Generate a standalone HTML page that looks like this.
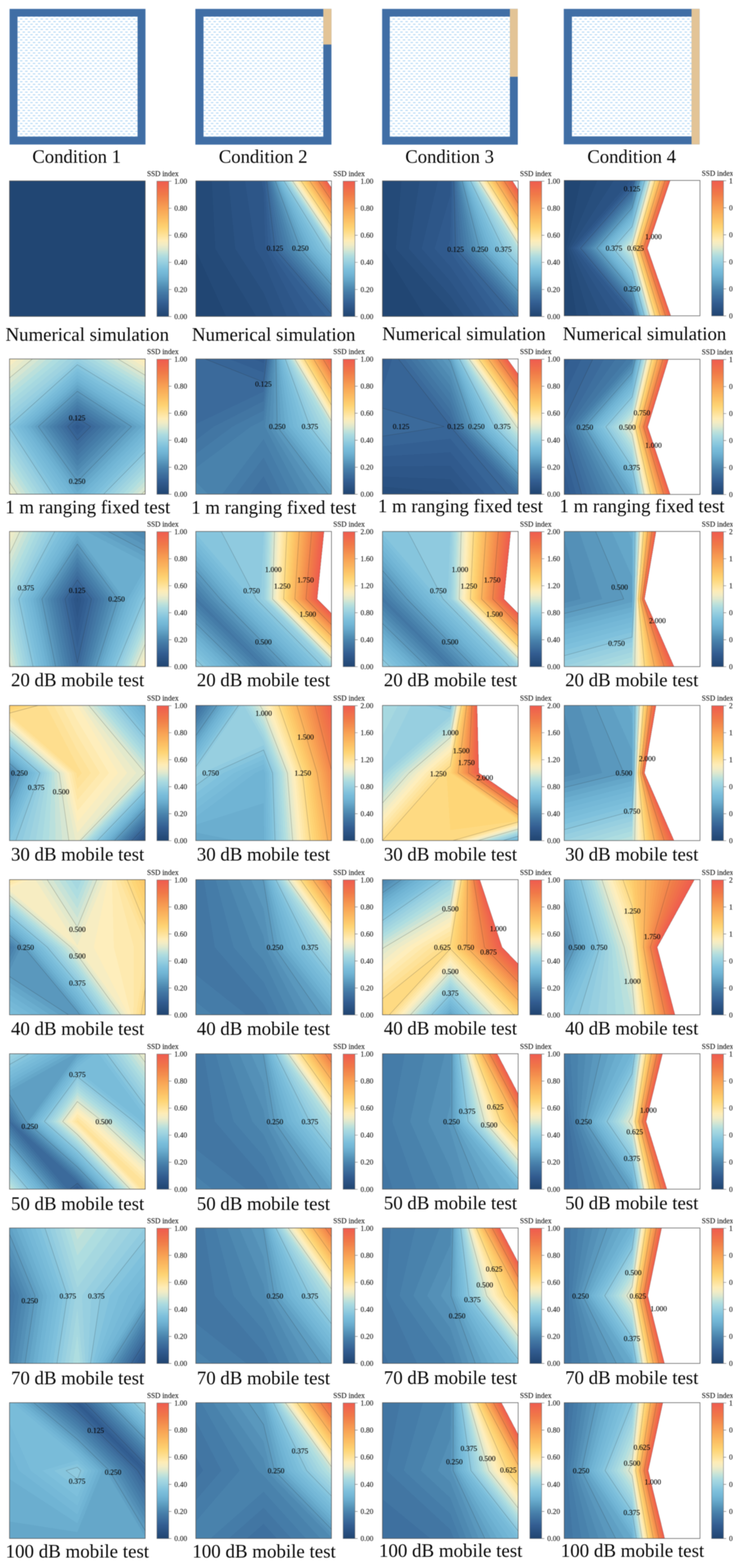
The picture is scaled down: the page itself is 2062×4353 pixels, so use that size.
<!DOCTYPE html>
<html><head><meta charset="utf-8"><title>SSD index contour maps</title>
<style>html,body{margin:0;padding:0;background:#fff}svg{display:block}
text{font-family:"Liberation Serif","Times New Roman",serif}
.f path{shape-rendering:crispEdges}
.cl{stroke:#2a2a2a;stroke-opacity:.36;stroke-width:1.1;fill:none;stroke-linecap:round}
.fr{fill:none;stroke:#555;stroke-width:1.6}
.cb{fill:url(#cbar);stroke:#777;stroke-width:1.3}
.tk{stroke:#777;stroke-width:1.4;fill:none}
.lb{fill:#080808;stroke:#080808;stroke-width:.25}.tl{fill:#262626;stroke:#262626;stroke-width:.3}.cp{fill:#080808}
</style>
</head><body>
<svg width="2062" height="4353" viewBox="0 0 2062 4353">
<defs>
<filter id="bl" x="0" y="0" width="2062" height="4353" filterUnits="userSpaceOnUse" color-interpolation-filters="sRGB"><feGaussianBlur stdDeviation="0.8"/></filter>
<linearGradient id="cbar" x1="0" y1="0" x2="0" y2="1"><stop offset="0.0000" stop-color="#ef5b4f"/><stop offset="0.0312" stop-color="#ef654d"/><stop offset="0.0625" stop-color="#f06e4b"/><stop offset="0.0938" stop-color="#f07848"/><stop offset="0.1250" stop-color="#f2844b"/><stop offset="0.1562" stop-color="#f4904e"/><stop offset="0.1875" stop-color="#f79c52"/><stop offset="0.2188" stop-color="#f9a857"/><stop offset="0.2500" stop-color="#fab35d"/><stop offset="0.2812" stop-color="#fcbe63"/><stop offset="0.3125" stop-color="#fdc96b"/><stop offset="0.3438" stop-color="#fed474"/><stop offset="0.3750" stop-color="#fedc88"/><stop offset="0.4062" stop-color="#fee49f"/><stop offset="0.4375" stop-color="#feecb6"/><stop offset="0.4688" stop-color="#f2ecc5"/><stop offset="0.5000" stop-color="#dde8cf"/><stop offset="0.5312" stop-color="#c1e2da"/><stop offset="0.5625" stop-color="#aadae0"/><stop offset="0.5938" stop-color="#9bd1e0"/><stop offset="0.6250" stop-color="#8ac8de"/><stop offset="0.6562" stop-color="#7bbedb"/><stop offset="0.6875" stop-color="#72b6d5"/><stop offset="0.7188" stop-color="#68aacc"/><stop offset="0.7500" stop-color="#5c9cc0"/><stop offset="0.7812" stop-color="#518db4"/><stop offset="0.8125" stop-color="#477faa"/><stop offset="0.8438" stop-color="#4073a1"/><stop offset="0.8750" stop-color="#396899"/><stop offset="0.9062" stop-color="#325c90"/><stop offset="0.9375" stop-color="#2c5485"/><stop offset="0.9688" stop-color="#264c7b"/><stop offset="1.0000" stop-color="#204470"/></linearGradient>
<pattern id="dash" x="21.7" y="23.3" width="14.25" height="14.5" patternUnits="userSpaceOnUse"><path d="M7.1 4.9h6.9M0 12.15h6.9" stroke="#a6d1f3" stroke-width="2.5" fill="none"/></pattern>
</defs>
<g filter="url(#bl)">
<rect width="2062" height="4353" fill="#fff"/>
<g class="f">
<g transform="translate(26.4 502.2)">
<path d="M0 0H376.6V376.2H0z" fill="#214673"/>
</g>
<g transform="translate(543.4 502.2)">
<path d="M0 0H376.4V376.2H0z" fill="#214673"/>
<path d="M0 0L188.2 0L188.2 188.1L0 188.1zM188.2 0L376.4 0L376.4 188.1L188.2 188.1zM0 188.1L188.2 188.1L188.2 376.2L84 376.2L0 192.5zM188.2 188.1L376.4 188.1L376.4 376.2L188.2 376.2z" fill="#244a78"/>
<path d="M44.8 0L188.2 0L188.2 188.1L54.2 188.1zM188.2 0L376.4 0L376.4 188.1L188.2 188.1zM54.2 188.1L188.2 188.1L188.2 376.2L168 376.2zM188.2 188.1L376.4 188.1L376.4 376.2L188.2 376.2z" fill="#274e7d"/>
<path d="M90.8 0L188.2 0L188.2 188.1L109.6 188.1zM188.2 0L376.4 0L376.4 188.1L188.2 188.1zM109.6 188.1L188.2 188.1L188.2 310.5zM188.2 188.1L376.4 188.1L376.4 376.2L216.1 376.2L188.2 310.5z" fill="#2a5283"/>
<path d="M136.7 0L188.2 0L188.2 188.1L165.1 188.1zM188.2 0L376.4 0L376.4 188.1L188.2 188.1zM165.1 188.1L188.2 188.1L188.2 224.1zM188.2 188.1L376.4 188.1L376.4 376.2L252.9 376.2L188.2 224.1z" fill="#2d5688"/>
<path d="M182.7 0L188.2 0L188.2 32.1zM188.2 0L376.4 0L376.4 188.1L193.3 188.1L188.2 32.1zM193.3 188.1L376.4 188.1L376.4 376.2L289.7 376.2z" fill="#305a8d"/>
<path d="M190.8 0L376.4 0L376.4 188.1L202.1 188.1zM202.1 188.1L376.4 188.1L376.4 376.2L326.4 376.2z" fill="#335f92"/>
<path d="M193.8 0L376.4 0L376.4 188.1L211 188.1zM211 188.1L376.4 188.1L376.4 376.2L363.2 376.2z" fill="#376597"/>
<path d="M196.8 0L376.4 0L376.4 188.1L219.8 188.1zM219.8 188.1L376.4 188.1L376.4 369.7z" fill="#3b6a9b"/>
<path d="M199.8 0L376.4 0L376.4 188.1L228.6 188.1zM228.6 188.1L376.4 188.1L376.4 359.5z" fill="#3e709f"/>
<path d="M202.8 0L376.4 0L376.4 188.1L237.4 188.1zM237.4 188.1L376.4 188.1L376.4 349.3z" fill="#4276a3"/>
<path d="M205.7 0L376.4 0L376.4 188.1L246.2 188.1zM246.2 188.1L376.4 188.1L376.4 339.1z" fill="#457ca8"/>
<path d="M208.7 0L376.4 0L376.4 188.1L255 188.1zM255 188.1L376.4 188.1L376.4 328.8z" fill="#4982ac"/>
<path d="M211.7 0L376.4 0L376.4 188.1L263.8 188.1zM263.8 188.1L376.4 188.1L376.4 318.6z" fill="#4e89b1"/>
<path d="M214.7 0L376.4 0L376.4 188.1L272.6 188.1zM272.6 188.1L376.4 188.1L376.4 308.4z" fill="#5490b7"/>
<path d="M217.7 0L376.4 0L376.4 188.1L281.4 188.1zM281.4 188.1L376.4 188.1L376.4 298.2z" fill="#5a98bd"/>
<path d="M220.6 0L376.4 0L376.4 188.1L290.2 188.1zM290.2 188.1L376.4 188.1L376.4 288z" fill="#5f9fc3"/>
<path d="M223.6 0L376.4 0L376.4 188.1L299 188.1zM299 188.1L376.4 188.1L376.4 277.8z" fill="#65a7c9"/>
<path d="M226.6 0L376.4 0L376.4 188.1L307.8 188.1zM307.8 188.1L376.4 188.1L376.4 267.6z" fill="#6baecf"/>
<path d="M229.6 0L376.4 0L376.4 188.1L316.6 188.1zM316.6 188.1L376.4 188.1L376.4 257.4z" fill="#70b4d4"/>
<path d="M232.6 0L376.4 0L376.4 188.1L325.4 188.1zM325.4 188.1L376.4 188.1L376.4 247.2z" fill="#75b8d7"/>
<path d="M235.6 0L376.4 0L376.4 188.1L334.2 188.1zM334.2 188.1L376.4 188.1L376.4 237z" fill="#79bcd9"/>
<path d="M238.5 0L376.4 0L376.4 188.1L343 188.1zM343 188.1L376.4 188.1L376.4 226.8z" fill="#7ec0dc"/>
<path d="M241.5 0L376.4 0L376.4 188.1L351.8 188.1zM351.8 188.1L376.4 188.1L376.4 216.6z" fill="#86c5dd"/>
<path d="M244.5 0L376.4 0L376.4 188.1L360.6 188.1zM360.6 188.1L376.4 188.1L376.4 206.4z" fill="#8fcadf"/>
<path d="M247.5 0L376.4 0L376.4 188.1L369.4 188.1zM369.4 188.1L376.4 188.1L376.4 196.2z" fill="#97cfe0"/>
<path d="M250.5 0L376.4 0L376.4 187.2z" fill="#9fd3e0"/>
<path d="M253.5 0L376.4 0L376.4 182.7z" fill="#a6d8e0"/>
<path d="M256.4 0L376.4 0L376.4 178.3z" fill="#aedde0"/>
<path d="M259.4 0L376.4 0L376.4 173.9z" fill="#bae0dc"/>
<path d="M262.4 0L376.4 0L376.4 169.4z" fill="#c8e3d7"/>
<path d="M265.4 0L376.4 0L376.4 165z" fill="#d6e6d2"/>
<path d="M268.4 0L376.4 0L376.4 160.6z" fill="#e2e9cc"/>
<path d="M271.3 0L376.4 0L376.4 156.1z" fill="#ecebc8"/>
<path d="M274.3 0L376.4 0L376.4 151.7z" fill="#f7edc2"/>
<path d="M277.3 0L376.4 0L376.4 147.3z" fill="#feeebc"/>
<path d="M280.3 0L376.4 0L376.4 142.8z" fill="#feeab0"/>
<path d="M283.3 0L376.4 0L376.4 138.4z" fill="#fee6a4"/>
<path d="M286.3 0L376.4 0L376.4 134z" fill="#fee299"/>
<path d="M289.2 0L376.4 0L376.4 129.5z" fill="#fede8e"/>
<path d="M292.2 0L376.4 0L376.4 125.1z" fill="#feda82"/>
<path d="M295.2 0L376.4 0L376.4 120.7z" fill="#fed677"/>
<path d="M298.2 0L376.4 0L376.4 116.3z" fill="#fed172"/>
<path d="M301.2 0L376.4 0L376.4 111.8z" fill="#fdcc6d"/>
<path d="M304.2 0L376.4 0L376.4 107.4z" fill="#fdc768"/>
<path d="M307.1 0L376.4 0L376.4 103z" fill="#fcc165"/>
<path d="M310.1 0L376.4 0L376.4 98.5z" fill="#fcbb62"/>
<path d="M313.1 0L376.4 0L376.4 94.1z" fill="#fbb65f"/>
<path d="M316.1 0L376.4 0L376.4 89.7z" fill="#fab05b"/>
<path d="M319.1 0L376.4 0L376.4 85.2z" fill="#f9ab58"/>
<path d="M322 0L376.4 0L376.4 80.8z" fill="#f9a555"/>
<path d="M325 0L376.4 0L376.4 76.4z" fill="#f89f52"/>
<path d="M328 0L376.4 0L376.4 71.9z" fill="#f69951"/>
<path d="M331 0L376.4 0L376.4 67.5z" fill="#f5934f"/>
<path d="M334 0L376.4 0L376.4 63.1z" fill="#f48d4d"/>
<path d="M337 0L376.4 0L376.4 58.6z" fill="#f3874c"/>
<path d="M339.9 0L376.4 0L376.4 54.2z" fill="#f1814a"/>
<path d="M342.9 0L376.4 0L376.4 49.8z" fill="#f07b48"/>
<path d="M345.9 0L376.4 0L376.4 45.3z" fill="#f07649"/>
<path d="M348.9 0L376.4 0L376.4 40.9z" fill="#f0714a"/>
<path d="M351.9 0L376.4 0L376.4 36.5z" fill="#f06c4b"/>
<path d="M354.9 0L376.4 0L376.4 32z" fill="#ef674c"/>
<path d="M357.8 0L376.4 0L376.4 27.6z" fill="#ef624d"/>
<path d="M360.8 0L376.4 0L376.4 23.2z" fill="#ef5d4e"/>
<path d="M363.8 0L376.4 0L376.4 18.7z" fill="#fff"/>
</g>
<g transform="translate(1061.4 502.2)">
<path d="M0 0H376.6V376.2H0z" fill="#214673"/>
<path d="M2 0L188.3 0L188.3 188.1L1.4 188.1zM188.3 0L376.6 0L376.6 188.1L188.3 188.1zM1.4 188.1L188.3 188.1L188.3 376.2L117.7 376.2zM188.3 188.1L376.6 188.1L376.6 376.2L188.3 376.2z" fill="#244a78"/>
<path d="M52.8 0L188.3 0L188.3 188.1L37.3 188.1zM188.3 0L376.6 0L376.6 188.1L188.3 188.1zM37.3 188.1L188.3 188.1L188.3 359.9zM188.3 188.1L376.6 188.1L376.6 376.2L199.5 376.2L188.3 359.9z" fill="#274e7d"/>
<path d="M103.5 0L188.3 0L188.3 188.1L73.2 188.1zM188.3 0L376.6 0L376.6 188.1L188.3 188.1zM73.2 188.1L188.3 188.1L188.3 319.1zM188.3 188.1L376.6 188.1L376.6 376.2L227.5 376.2L188.3 319.1z" fill="#2a5283"/>
<path d="M154.2 0L188.3 0L188.3 188.1L109.1 188.1zM188.3 0L376.6 0L376.6 188.1L188.3 188.1zM109.1 188.1L188.3 188.1L188.3 278.2zM188.3 188.1L376.6 188.1L376.6 376.2L255.5 376.2L188.3 278.2z" fill="#2d5688"/>
<path d="M188.3 40.2L188.3 188.1L145 188.1zM189.3 0L376.6 0L376.6 188.1L188.3 188.1L188.3 40.2zM145 188.1L188.3 188.1L188.3 237.4zM188.3 188.1L376.6 188.1L376.6 376.2L283.6 376.2L188.3 237.4z" fill="#305a8d"/>
<path d="M188.3 162.6L188.3 188.1L180.8 188.1zM192.2 0L376.6 0L376.6 188.1L188.3 188.1L188.3 162.6zM180.8 188.1L188.3 188.1L188.3 196.6zM188.3 188.1L376.6 188.1L376.6 376.2L311.6 376.2L188.3 196.6z" fill="#335f92"/>
<path d="M195.1 0L376.6 0L376.6 188.1L194.9 188.1zM194.9 188.1L376.6 188.1L376.6 376.2L339.6 376.2z" fill="#376597"/>
<path d="M198 0L376.6 0L376.6 188.1L203.2 188.1zM203.2 188.1L376.6 188.1L376.6 376.2L367.6 376.2z" fill="#3b6a9b"/>
<path d="M200.9 0L376.6 0L376.6 188.1L211.4 188.1zM211.4 188.1L376.6 188.1L376.6 370z" fill="#3e709f"/>
<path d="M203.8 0L376.6 0L376.6 188.1L219.7 188.1zM219.7 188.1L376.6 188.1L376.6 360.9z" fill="#4276a3"/>
<path d="M206.7 0L376.6 0L376.6 188.1L228 188.1zM228 188.1L376.6 188.1L376.6 351.7z" fill="#457ca8"/>
<path d="M209.6 0L376.6 0L376.6 188.1L236.3 188.1zM236.3 188.1L376.6 188.1L376.6 342.6z" fill="#4982ac"/>
<path d="M212.5 0L376.6 0L376.6 188.1L244.6 188.1zM244.6 188.1L376.6 188.1L376.6 333.5z" fill="#4e89b1"/>
<path d="M215.4 0L376.6 0L376.6 188.1L252.9 188.1zM252.9 188.1L376.6 188.1L376.6 324.4z" fill="#5490b7"/>
<path d="M218.3 0L376.6 0L376.6 188.1L261.2 188.1zM261.2 188.1L376.6 188.1L376.6 315.2z" fill="#5a98bd"/>
<path d="M221.2 0L376.6 0L376.6 188.1L269.5 188.1zM269.5 188.1L376.6 188.1L376.6 306.1z" fill="#5f9fc3"/>
<path d="M224.1 0L376.6 0L376.6 188.1L277.7 188.1zM277.7 188.1L376.6 188.1L376.6 297z" fill="#65a7c9"/>
<path d="M227 0L376.6 0L376.6 188.1L286 188.1zM286 188.1L376.6 188.1L376.6 287.8z" fill="#6baecf"/>
<path d="M230 0L376.6 0L376.6 188.1L294.3 188.1zM294.3 188.1L376.6 188.1L376.6 278.7z" fill="#70b4d4"/>
<path d="M232.9 0L376.6 0L376.6 188.1L302.6 188.1zM302.6 188.1L376.6 188.1L376.6 269.6z" fill="#75b8d7"/>
<path d="M235.8 0L376.6 0L376.6 188.1L310.9 188.1zM310.9 188.1L376.6 188.1L376.6 260.5z" fill="#79bcd9"/>
<path d="M238.7 0L376.6 0L376.6 188.1L319.2 188.1zM319.2 188.1L376.6 188.1L376.6 251.3z" fill="#7ec0dc"/>
<path d="M241.6 0L376.6 0L376.6 188.1L327.5 188.1zM327.5 188.1L376.6 188.1L376.6 242.2z" fill="#86c5dd"/>
<path d="M244.5 0L376.6 0L376.6 188.1L335.8 188.1zM335.8 188.1L376.6 188.1L376.6 233.1z" fill="#8fcadf"/>
<path d="M247.4 0L376.6 0L376.6 188.1L344 188.1zM344 188.1L376.6 188.1L376.6 224z" fill="#97cfe0"/>
<path d="M250.3 0L376.6 0L376.6 188.1L352.3 188.1zM352.3 188.1L376.6 188.1L376.6 214.8z" fill="#9fd3e0"/>
<path d="M253.2 0L376.6 0L376.6 188.1L360.6 188.1zM360.6 188.1L376.6 188.1L376.6 205.7z" fill="#a6d8e0"/>
<path d="M256.1 0L376.6 0L376.6 188.1L368.9 188.1zM368.9 188.1L376.6 188.1L376.6 196.6z" fill="#aedde0"/>
<path d="M259 0L376.6 0L376.6 187.8z" fill="#bae0dc"/>
<path d="M261.9 0L376.6 0L376.6 183.1z" fill="#c8e3d7"/>
<path d="M264.8 0L376.6 0L376.6 178.5z" fill="#d6e6d2"/>
<path d="M267.8 0L376.6 0L376.6 173.8z" fill="#e2e9cc"/>
<path d="M270.7 0L376.6 0L376.6 169.2z" fill="#ecebc8"/>
<path d="M273.6 0L376.6 0L376.6 164.6z" fill="#f7edc2"/>
<path d="M276.5 0L376.6 0L376.6 159.9z" fill="#feeebc"/>
<path d="M279.4 0L376.6 0L376.6 155.3z" fill="#feeab0"/>
<path d="M282.3 0L376.6 0L376.6 150.6z" fill="#fee6a4"/>
<path d="M285.2 0L376.6 0L376.6 146z" fill="#fee299"/>
<path d="M288.1 0L376.6 0L376.6 141.3z" fill="#fede8e"/>
<path d="M291 0L376.6 0L376.6 136.7z" fill="#feda82"/>
<path d="M293.9 0L376.6 0L376.6 132z" fill="#fed677"/>
<path d="M296.8 0L376.6 0L376.6 127.4z" fill="#fed172"/>
<path d="M299.7 0L376.6 0L376.6 122.8z" fill="#fdcc6d"/>
<path d="M302.6 0L376.6 0L376.6 118.1z" fill="#fdc768"/>
<path d="M305.5 0L376.6 0L376.6 113.5z" fill="#fcc165"/>
<path d="M308.5 0L376.6 0L376.6 108.8z" fill="#fcbb62"/>
<path d="M311.4 0L376.6 0L376.6 104.2z" fill="#fbb65f"/>
<path d="M314.3 0L376.6 0L376.6 99.5z" fill="#fab05b"/>
<path d="M317.2 0L376.6 0L376.6 94.9z" fill="#f9ab58"/>
<path d="M320.1 0L376.6 0L376.6 90.3z" fill="#f9a555"/>
<path d="M323 0L376.6 0L376.6 85.6z" fill="#f89f52"/>
<path d="M325.9 0L376.6 0L376.6 81z" fill="#f69951"/>
<path d="M328.8 0L376.6 0L376.6 76.3z" fill="#f5934f"/>
<path d="M331.7 0L376.6 0L376.6 71.7z" fill="#f48d4d"/>
<path d="M334.6 0L376.6 0L376.6 67z" fill="#f3874c"/>
<path d="M337.5 0L376.6 0L376.6 62.4z" fill="#f1814a"/>
<path d="M340.4 0L376.6 0L376.6 57.8z" fill="#f07b48"/>
<path d="M343.3 0L376.6 0L376.6 53.1z" fill="#f07649"/>
<path d="M346.2 0L376.6 0L376.6 48.5z" fill="#f0714a"/>
<path d="M349.2 0L376.6 0L376.6 43.8z" fill="#f06c4b"/>
<path d="M352.1 0L376.6 0L376.6 39.2z" fill="#ef674c"/>
<path d="M355 0L376.6 0L376.6 34.5z" fill="#ef624d"/>
<path d="M357.9 0L376.6 0L376.6 29.9z" fill="#ef5d4e"/>
<path d="M360.8 0L376.6 0L376.6 25.3z" fill="#fff"/>
</g>
<g transform="translate(1565.8 500.9)">
<path d="M0 0H376.8V375.8H0z" fill="#214673"/>
<path d="M46 0L188.4 0L188.4 187.9L5.7 187.9zM188.4 0L376.8 0L376.8 187.9L188.4 187.9zM5.7 187.9L188.4 187.9L188.4 375.8L34.2 375.8zM188.4 187.9L376.8 187.9L376.8 375.8L188.4 375.8z" fill="#244a78"/>
<path d="M92 0L188.4 0L188.4 187.9L11.3 187.9zM188.4 0L376.8 0L376.8 187.9L188.4 187.9zM11.3 187.9L188.4 187.9L188.4 375.8L68.5 375.8zM188.4 187.9L376.8 187.9L376.8 375.8L188.4 375.8z" fill="#274e7d"/>
<path d="M138 0L188.4 0L188.4 187.9L17 187.9zM188.4 0L376.8 0L376.8 187.9L188.4 187.9zM17 187.9L188.4 187.9L188.4 375.8L102.7 375.8zM188.4 187.9L376.8 187.9L376.8 375.8L188.4 375.8z" fill="#2a5283"/>
<path d="M184 0L188.4 0L188.4 187.9L22.6 187.9zM188.4 0L376.8 0L376.8 187.9L188.4 187.9zM22.6 187.9L188.4 187.9L188.4 375.8L136.9 375.8zM188.4 187.9L376.8 187.9L376.8 375.8L188.4 375.8z" fill="#2d5688"/>
<path d="M188.4 5.8L188.4 187.9L28.3 187.9zM190 0L376.8 0L376.8 187.9L188.4 187.9L188.4 5.8zM28.3 187.9L188.4 187.9L188.4 375.8L171.1 375.8zM188.4 187.9L376.8 187.9L376.8 375.8L188.4 375.8z" fill="#305a8d"/>
<path d="M188.4 12.3L188.4 187.9L34 187.9zM191.8 0L376.8 0L376.8 187.9L188.4 187.9L188.4 12.3zM34 187.9L188.4 187.9L188.4 372.4zM188.4 187.9L376.8 187.9L376.8 375.8L189.3 375.8L188.4 372.4z" fill="#335f92"/>
<path d="M188.4 18.7L188.4 187.9L39.6 187.9zM193.5 0L376.8 0L376.8 187.9L188.4 187.9L188.4 18.7zM39.6 187.9L188.4 187.9L188.4 365.7zM188.4 187.9L376.8 187.9L376.8 375.8L191.1 375.8L188.4 365.7z" fill="#376597"/>
<path d="M188.4 25.1L188.4 187.9L45.3 187.9zM195.3 0L376.8 0L376.8 187.9L188.4 187.9L188.4 25.1zM45.3 187.9L188.4 187.9L188.4 358.9zM188.4 187.9L376.8 187.9L376.8 375.8L193 375.8L188.4 358.9z" fill="#3b6a9b"/>
<path d="M188.4 31.6L188.4 187.9L50.9 187.9zM197.1 0L376.8 0L376.8 187.9L188.4 187.9L188.4 31.6zM50.9 187.9L188.4 187.9L188.4 352.2zM188.4 187.9L376.8 187.9L376.8 375.8L194.8 375.8L188.4 352.2z" fill="#3e709f"/>
<path d="M188.4 38L188.4 187.9L56.6 187.9zM198.8 0L376.8 0L376.8 187.9L188.4 187.9L188.4 38zM56.6 187.9L188.4 187.9L188.4 345.4zM188.4 187.9L376.8 187.9L376.8 375.8L196.7 375.8L188.4 345.4z" fill="#4276a3"/>
<path d="M188.4 44.5L188.4 187.9L62.3 187.9zM200.6 0L376.8 0L376.8 187.9L188.4 187.9L188.4 44.5zM62.3 187.9L188.4 187.9L188.4 338.6zM188.4 187.9L376.8 187.9L376.8 375.8L198.5 375.8L188.4 338.6z" fill="#457ca8"/>
<path d="M188.4 50.9L188.4 187.9L67.9 187.9zM202.4 0L376.8 0L376.8 187.9L188.4 187.9L188.4 50.9zM67.9 187.9L188.4 187.9L188.4 331.9zM188.4 187.9L376.8 187.9L376.8 375.8L200.3 375.8L188.4 331.9z" fill="#4982ac"/>
<path d="M188.4 57.3L188.4 187.9L73.6 187.9zM204.1 0L376.8 0L376.8 187.9L188.4 187.9L188.4 57.3zM73.6 187.9L188.4 187.9L188.4 325.1zM188.4 187.9L376.8 187.9L376.8 375.8L202.2 375.8L188.4 325.1z" fill="#4e89b1"/>
<path d="M188.4 63.8L188.4 187.9L79.3 187.9zM205.9 0L376.8 0L376.8 187.9L188.4 187.9L188.4 63.8zM79.3 187.9L188.4 187.9L188.4 318.3zM188.4 187.9L376.8 187.9L376.8 375.8L204 375.8L188.4 318.3z" fill="#5490b7"/>
<path d="M188.4 70.2L188.4 187.9L84.9 187.9zM207.7 0L376.8 0L376.8 187.9L188.4 187.9L188.4 70.2zM84.9 187.9L188.4 187.9L188.4 311.6zM188.4 187.9L376.8 187.9L376.8 375.8L205.8 375.8L188.4 311.6z" fill="#5a98bd"/>
<path d="M188.4 76.6L188.4 187.9L90.6 187.9zM209.4 0L376.8 0L376.8 187.9L188.4 187.9L188.4 76.6zM90.6 187.9L188.4 187.9L188.4 304.8zM188.4 187.9L376.8 187.9L376.8 375.8L207.7 375.8L188.4 304.8z" fill="#5f9fc3"/>
<path d="M188.4 83.1L188.4 187.9L96.2 187.9zM211.2 0L376.8 0L376.8 187.9L188.4 187.9L188.4 83.1zM96.2 187.9L188.4 187.9L188.4 298zM188.4 187.9L376.8 187.9L376.8 375.8L209.5 375.8L188.4 298z" fill="#65a7c9"/>
<path d="M188.4 89.5L188.4 187.9L101.9 187.9zM213 0L376.8 0L376.8 187.9L188.4 187.9L188.4 89.5zM101.9 187.9L188.4 187.9L188.4 291.3zM188.4 187.9L376.8 187.9L376.8 375.8L211.3 375.8L188.4 291.3z" fill="#6baecf"/>
<path d="M188.4 96L188.4 187.9L107.6 187.9zM214.7 0L376.8 0L376.8 187.9L188.4 187.9L188.4 96zM107.6 187.9L188.4 187.9L188.4 284.5zM188.4 187.9L376.8 187.9L376.8 375.8L213.2 375.8L188.4 284.5z" fill="#70b4d4"/>
<path d="M188.4 102.4L188.4 187.9L113.2 187.9zM216.5 0L376.8 0L376.8 187.9L188.4 187.9L188.4 102.4zM113.2 187.9L188.4 187.9L188.4 277.7zM188.4 187.9L376.8 187.9L376.8 375.8L215 375.8L188.4 277.7z" fill="#75b8d7"/>
<path d="M188.4 108.8L188.4 187.9L118.9 187.9zM218.3 0L376.8 0L376.8 187.9L188.4 187.9L188.4 108.8zM118.9 187.9L188.4 187.9L188.4 271zM188.4 187.9L376.8 187.9L376.8 375.8L216.8 375.8L188.4 271z" fill="#79bcd9"/>
<path d="M188.4 115.3L188.4 187.9L124.5 187.9zM220 0L376.8 0L376.8 187.9L188.4 187.9L188.4 115.3zM124.5 187.9L188.4 187.9L188.4 264.2zM188.4 187.9L376.8 187.9L376.8 375.8L218.7 375.8L188.4 264.2z" fill="#7ec0dc"/>
<path d="M188.4 121.7L188.4 187.9L130.2 187.9zM221.8 0L376.8 0L376.8 187.9L188.4 187.9L188.4 121.7zM130.2 187.9L188.4 187.9L188.4 257.4zM188.4 187.9L376.8 187.9L376.8 375.8L220.5 375.8L188.4 257.4z" fill="#86c5dd"/>
<path d="M188.4 128.2L188.4 187.9L135.9 187.9zM223.6 0L376.8 0L376.8 187.9L188.4 187.9L188.4 128.2zM135.9 187.9L188.4 187.9L188.4 250.7zM188.4 187.9L376.8 187.9L376.8 375.8L222.3 375.8L188.4 250.7z" fill="#8fcadf"/>
<path d="M188.4 134.6L188.4 187.9L141.5 187.9zM225.3 0L376.8 0L376.8 187.9L188.4 187.9L188.4 134.6zM141.5 187.9L188.4 187.9L188.4 243.9zM188.4 187.9L376.8 187.9L376.8 375.8L224.2 375.8L188.4 243.9z" fill="#97cfe0"/>
<path d="M188.4 141L188.4 187.9L147.2 187.9zM227.1 0L376.8 0L376.8 187.9L188.4 187.9L188.4 141zM147.2 187.9L188.4 187.9L188.4 237.1zM188.4 187.9L376.8 187.9L376.8 375.8L226 375.8L188.4 237.1z" fill="#9fd3e0"/>
<path d="M188.4 147.5L188.4 187.9L152.8 187.9zM228.9 0L376.8 0L376.8 187.9L188.4 187.9L188.4 147.5zM152.8 187.9L188.4 187.9L188.4 230.4zM188.4 187.9L376.8 187.9L376.8 375.8L227.9 375.8L188.4 230.4z" fill="#a6d8e0"/>
<path d="M188.4 153.9L188.4 187.9L158.5 187.9zM230.6 0L376.8 0L376.8 187.9L188.4 187.9L188.4 153.9zM158.5 187.9L188.4 187.9L188.4 223.6zM188.4 187.9L376.8 187.9L376.8 375.8L229.7 375.8L188.4 223.6z" fill="#aedde0"/>
<path d="M188.4 160.3L188.4 187.9L164.2 187.9zM232.4 0L376.8 0L376.8 187.9L188.4 187.9L188.4 160.3zM164.2 187.9L188.4 187.9L188.4 216.9zM188.4 187.9L376.8 187.9L376.8 375.8L231.5 375.8L188.4 216.9z" fill="#bae0dc"/>
<path d="M188.4 166.8L188.4 187.9L169.8 187.9zM234.2 0L376.8 0L376.8 187.9L188.4 187.9L188.4 166.8zM169.8 187.9L188.4 187.9L188.4 210.1zM188.4 187.9L376.8 187.9L376.8 375.8L233.4 375.8L188.4 210.1z" fill="#c8e3d7"/>
<path d="M188.4 173.2L188.4 187.9L175.5 187.9zM235.9 0L376.8 0L376.8 187.9L188.4 187.9L188.4 173.2zM175.5 187.9L188.4 187.9L188.4 203.3zM188.4 187.9L376.8 187.9L376.8 375.8L235.2 375.8L188.4 203.3z" fill="#d6e6d2"/>
<path d="M188.4 179.7L188.4 187.9L181.2 187.9zM237.7 0L376.8 0L376.8 187.9L188.4 187.9L188.4 179.7zM181.2 187.9L188.4 187.9L188.4 196.6zM188.4 187.9L376.8 187.9L376.8 375.8L237 375.8L188.4 196.6z" fill="#e2e9cc"/>
<path d="M188.4 186.1L188.4 187.9L186.8 187.9zM239.5 0L376.8 0L376.8 187.9L188.4 187.9L188.4 186.1zM186.8 187.9L188.4 187.9L188.4 189.8zM188.4 187.9L376.8 187.9L376.8 375.8L238.9 375.8L188.4 189.8z" fill="#ecebc8"/>
<path d="M241.2 0L376.8 0L376.8 187.9L189.4 187.9zM189.4 187.9L376.8 187.9L376.8 375.8L240.7 375.8z" fill="#f7edc2"/>
<path d="M243 0L376.8 0L376.8 187.9L190.8 187.9zM190.8 187.9L376.8 187.9L376.8 375.8L242.5 375.8z" fill="#feeebc"/>
<path d="M244.8 0L376.8 0L376.8 187.9L192.1 187.9zM192.1 187.9L376.8 187.9L376.8 375.8L244.4 375.8z" fill="#feeab0"/>
<path d="M246.5 0L376.8 0L376.8 187.9L193.5 187.9zM193.5 187.9L376.8 187.9L376.8 375.8L246.2 375.8z" fill="#fee6a4"/>
<path d="M248.3 0L376.8 0L376.8 187.9L194.9 187.9zM194.9 187.9L376.8 187.9L376.8 375.8L248 375.8z" fill="#fee299"/>
<path d="M250.1 0L376.8 0L376.8 187.9L196.3 187.9zM196.3 187.9L376.8 187.9L376.8 375.8L249.9 375.8z" fill="#fede8e"/>
<path d="M251.8 0L376.8 0L376.8 187.9L197.6 187.9zM197.6 187.9L376.8 187.9L376.8 375.8L251.7 375.8z" fill="#feda82"/>
<path d="M253.6 0L376.8 0L376.8 187.9L199 187.9zM199 187.9L376.8 187.9L376.8 375.8L253.5 375.8z" fill="#fed677"/>
<path d="M255.4 0L376.8 0L376.8 187.9L200.4 187.9zM200.4 187.9L376.8 187.9L376.8 375.8L255.4 375.8z" fill="#fed172"/>
<path d="M257.1 0L376.8 0L376.8 187.9L201.8 187.9zM201.8 187.9L376.8 187.9L376.8 375.8L257.2 375.8z" fill="#fdcc6d"/>
<path d="M258.9 0L376.8 0L376.8 187.9L203.1 187.9zM203.1 187.9L376.8 187.9L376.8 375.8L259 375.8z" fill="#fdc768"/>
<path d="M260.7 0L376.8 0L376.8 187.9L204.5 187.9zM204.5 187.9L376.8 187.9L376.8 375.8L260.9 375.8z" fill="#fcc165"/>
<path d="M262.4 0L376.8 0L376.8 187.9L205.9 187.9zM205.9 187.9L376.8 187.9L376.8 375.8L262.7 375.8z" fill="#fcbb62"/>
<path d="M264.2 0L376.8 0L376.8 187.9L207.3 187.9zM207.3 187.9L376.8 187.9L376.8 375.8L264.6 375.8z" fill="#fbb65f"/>
<path d="M266 0L376.8 0L376.8 187.9L208.6 187.9zM208.6 187.9L376.8 187.9L376.8 375.8L266.4 375.8z" fill="#fab05b"/>
<path d="M267.7 0L376.8 0L376.8 187.9L210 187.9zM210 187.9L376.8 187.9L376.8 375.8L268.2 375.8z" fill="#f9ab58"/>
<path d="M269.5 0L376.8 0L376.8 187.9L211.4 187.9zM211.4 187.9L376.8 187.9L376.8 375.8L270.1 375.8z" fill="#f9a555"/>
<path d="M271.3 0L376.8 0L376.8 187.9L212.8 187.9zM212.8 187.9L376.8 187.9L376.8 375.8L271.9 375.8z" fill="#f89f52"/>
<path d="M273 0L376.8 0L376.8 187.9L214.2 187.9zM214.2 187.9L376.8 187.9L376.8 375.8L273.7 375.8z" fill="#f69951"/>
<path d="M274.8 0L376.8 0L376.8 187.9L215.5 187.9zM215.5 187.9L376.8 187.9L376.8 375.8L275.6 375.8z" fill="#f5934f"/>
<path d="M276.6 0L376.8 0L376.8 187.9L216.9 187.9zM216.9 187.9L376.8 187.9L376.8 375.8L277.4 375.8z" fill="#f48d4d"/>
<path d="M278.3 0L376.8 0L376.8 187.9L218.3 187.9zM218.3 187.9L376.8 187.9L376.8 375.8L279.2 375.8z" fill="#f3874c"/>
<path d="M280.1 0L376.8 0L376.8 187.9L219.7 187.9zM219.7 187.9L376.8 187.9L376.8 375.8L281.1 375.8z" fill="#f1814a"/>
<path d="M281.9 0L376.8 0L376.8 187.9L221 187.9zM221 187.9L376.8 187.9L376.8 375.8L282.9 375.8z" fill="#f07b48"/>
<path d="M283.6 0L376.8 0L376.8 187.9L222.4 187.9zM222.4 187.9L376.8 187.9L376.8 375.8L284.7 375.8z" fill="#f07649"/>
<path d="M285.4 0L376.8 0L376.8 187.9L223.8 187.9zM223.8 187.9L376.8 187.9L376.8 375.8L286.6 375.8z" fill="#f0714a"/>
<path d="M287.2 0L376.8 0L376.8 187.9L225.2 187.9zM225.2 187.9L376.8 187.9L376.8 375.8L288.4 375.8z" fill="#f06c4b"/>
<path d="M288.9 0L376.8 0L376.8 187.9L226.5 187.9zM226.5 187.9L376.8 187.9L376.8 375.8L290.2 375.8z" fill="#ef674c"/>
<path d="M290.7 0L376.8 0L376.8 187.9L227.9 187.9zM227.9 187.9L376.8 187.9L376.8 375.8L292.1 375.8z" fill="#ef624d"/>
<path d="M292.5 0L376.8 0L376.8 187.9L229.3 187.9zM229.3 187.9L376.8 187.9L376.8 375.8L293.9 375.8z" fill="#ef5d4e"/>
<path d="M294.2 0L376.8 0L376.8 187.9L230.7 187.9zM230.7 187.9L376.8 187.9L376.8 375.8L295.8 375.8z" fill="#fff"/>
</g>
<g transform="translate(26.4 996.5)">
<path d="M0 0H376.6V375.4H0z" fill="#305a8d"/>
<path d="M0 0L188.3 0L188.3 181.9L181.9 187.7L0 187.7zM188.3 0L376.6 0L376.6 187.7L197.1 187.7L188.3 181.9zM0 187.7L181.9 187.7L188.3 196.7L188.3 375.4L0 375.4zM197.1 187.7L376.6 187.7L376.6 375.4L188.3 375.4L188.3 196.7z" fill="#335f92"/>
<path d="M0 0L188.3 0L188.3 172.7L171.7 187.7L0 187.7zM188.3 0L376.6 0L376.6 187.7L211.3 187.7L188.3 172.7zM0 187.7L171.7 187.7L188.3 211L188.3 375.4L0 375.4zM211.3 187.7L376.6 187.7L376.6 375.4L188.3 375.4L188.3 211z" fill="#376597"/>
<path d="M0 0L188.3 0L188.3 163.5L161.5 187.7L0 187.7zM188.3 0L376.6 0L376.6 187.7L225.4 187.7L188.3 163.5zM0 187.7L161.5 187.7L188.3 225.4L188.3 375.4L0 375.4zM225.4 187.7L376.6 187.7L376.6 375.4L188.3 375.4L188.3 225.4z" fill="#3b6a9b"/>
<path d="M0 0L188.3 0L188.3 154.3L151.3 187.7L0 187.7zM188.3 0L376.6 0L376.6 187.7L239.6 187.7L188.3 154.3zM0 187.7L151.3 187.7L188.3 239.8L188.3 375.4L0 375.4zM239.6 187.7L376.6 187.7L376.6 375.4L188.3 375.4L188.3 239.8z" fill="#3e709f"/>
<path d="M0 0L188.3 0L188.3 145.1L141.1 187.7L0 187.7zM188.3 0L376.6 0L376.6 187.7L253.7 187.7L188.3 145.1zM0 187.7L141.1 187.7L188.3 254.2L188.3 375.4L0 375.4zM253.7 187.7L376.6 187.7L376.6 375.4L188.3 375.4L188.3 254.2z" fill="#4276a3"/>
<path d="M0 0L188.3 0L188.3 135.8L130.8 187.7L0 187.7zM188.3 0L376.6 0L376.6 187.7L267.9 187.7L188.3 135.8zM0 187.7L130.8 187.7L188.3 268.6L188.3 375.4L0 375.4zM267.9 187.7L376.6 187.7L376.6 375.4L188.3 375.4L188.3 268.6z" fill="#457ca8"/>
<path d="M0 0L188.3 0L188.3 126.6L120.6 187.7L0 187.7zM188.3 0L376.6 0L376.6 187.7L282 187.7L188.3 126.6zM0 187.7L120.6 187.7L188.3 282.9L188.3 375.4L0 375.4zM282 187.7L376.6 187.7L376.6 375.4L188.3 375.4L188.3 282.9z" fill="#4982ac"/>
<path d="M0 0L188.3 0L188.3 117.4L110.4 187.7L0 187.7zM188.3 0L376.6 0L376.6 187.7L296.1 187.7L188.3 117.4zM0 187.7L110.4 187.7L188.3 297.3L188.3 375.4L0 375.4zM296.1 187.7L376.6 187.7L376.6 375.4L188.3 375.4L188.3 297.3z" fill="#4e89b1"/>
<path d="M0 0L188.3 0L188.3 108.2L100.2 187.7L0 187.7zM188.3 0L376.6 0L376.6 187.7L310.3 187.7L188.3 108.2zM0 187.7L100.2 187.7L188.3 311.7L188.3 375.4L0 375.4zM310.3 187.7L376.6 187.7L376.6 375.4L188.3 375.4L188.3 311.7z" fill="#5490b7"/>
<path d="M0 0L188.3 0L188.3 98.9L90 187.7L0 187.7zM188.3 0L376.6 0L376.6 187.7L324.4 187.7L188.3 98.9zM0 187.7L90 187.7L188.3 326.1L188.3 375.4L0 375.4zM324.4 187.7L376.6 187.7L376.6 375.4L188.3 375.4L188.3 326.1z" fill="#5a98bd"/>
<path d="M0 0L188.3 0L188.3 89.7L79.8 187.7L0 187.7zM188.3 0L376.6 0L376.6 187.7L338.6 187.7L188.3 89.7zM0 187.7L79.8 187.7L188.3 340.4L188.3 375.4L0 375.4zM338.6 187.7L376.6 187.7L376.6 375.4L188.3 375.4L188.3 340.4z" fill="#5f9fc3"/>
<path d="M0 0L188.3 0L188.3 80.5L69.6 187.7L0 187.7zM188.3 0L376.6 0L376.6 187.7L352.7 187.7L188.3 80.5zM0 187.7L69.6 187.7L188.3 354.8L188.3 375.4L0 375.4zM352.7 187.7L376.6 187.7L376.6 375.4L188.3 375.4L188.3 354.8z" fill="#65a7c9"/>
<path d="M0 0L188.3 0L188.3 71.3L59.3 187.7L0 187.7zM188.3 0L376.6 0L376.6 187.7L366.9 187.7L188.3 71.3zM0 187.7L59.3 187.7L188.3 369.2L188.3 375.4L0 375.4zM366.9 187.7L376.6 187.7L376.6 375.4L188.3 375.4L188.3 369.2z" fill="#6baecf"/>
<path d="M0 0L188.3 0L188.3 62.1L49.1 187.7L0 187.7zM188.3 0L376.6 0L376.6 184.4L188.3 62.1zM0 187.7L49.1 187.7L181.3 375.4L0 375.4zM376.6 191.9L376.6 375.4L195.8 375.4z" fill="#70b4d4"/>
<path d="M0 0L188.3 0L188.3 52.8L38.9 187.7L0 187.7zM188.3 0L376.6 0L376.6 173.7L188.3 52.8zM0 187.7L38.9 187.7L169 375.4L0 375.4zM376.6 205.2L376.6 375.4L208.9 375.4z" fill="#75b8d7"/>
<path d="M0 0L188.3 0L188.3 43.6L28.7 187.7L0 187.7zM188.3 0L376.6 0L376.6 163L188.3 43.6zM0 187.7L28.7 187.7L156.7 375.4L0 375.4zM376.6 218.5L376.6 375.4L222 375.4z" fill="#79bcd9"/>
<path d="M0 0L188.3 0L188.3 34.4L18.5 187.7L0 187.7zM188.3 0L376.6 0L376.6 152.2L188.3 34.4zM0 187.7L18.5 187.7L144.4 375.4L0 375.4zM376.6 231.9L376.6 375.4L235.2 375.4z" fill="#7ec0dc"/>
<path d="M0 0L188.3 0L188.3 25.2L8.3 187.7L0 187.7zM188.3 0L376.6 0L376.6 141.5L188.3 25.2zM0 187.7L8.3 187.7L132.1 375.4L0 375.4zM376.6 245.2L376.6 375.4L248.3 375.4z" fill="#86c5dd"/>
<path d="M0 0L188.3 0L188.3 15.9L0 184.5zM188.3 0L376.6 0L376.6 130.8L188.3 15.9zM119.8 375.4L0 375.4L0 191.3zM376.6 258.5L376.6 375.4L261.4 375.4z" fill="#8fcadf"/>
<path d="M0 0L188.3 0L188.3 6.7L0 168.1zM188.3 0L376.6 0L376.6 120.1L188.3 6.7zM107.4 375.4L0 375.4L0 210.3zM376.6 271.8L376.6 375.4L274.6 375.4z" fill="#97cfe0"/>
<path d="M0 0L182.9 0L0 151.6zM193.2 0L376.6 0L376.6 109.4zM95.1 375.4L0 375.4L0 229.2zM376.6 285.2L376.6 375.4L287.7 375.4z" fill="#9fd3e0"/>
<path d="M0 0L163 0L0 135.1zM211.1 0L376.6 0L376.6 98.7zM82.8 375.4L0 375.4L0 248.1zM376.6 298.5L376.6 375.4L300.8 375.4z" fill="#a6d8e0"/>
<path d="M0 0L143.1 0L0 118.6zM229.1 0L376.6 0L376.6 88zM70.5 375.4L0 375.4L0 267zM376.6 311.8L376.6 375.4L314 375.4z" fill="#aedde0"/>
<path d="M0 0L123.3 0L0 102.2zM247 0L376.6 0L376.6 77.3zM58.2 375.4L0 375.4L0 285.9zM376.6 325.2L376.6 375.4L327.1 375.4z" fill="#bae0dc"/>
<path d="M0 0L103.4 0L0 85.7zM264.9 0L376.6 0L376.6 66.6zM45.9 375.4L0 375.4L0 304.9zM376.6 338.5L376.6 375.4L340.2 375.4z" fill="#c8e3d7"/>
<path d="M0 0L83.5 0L0 69.2zM282.9 0L376.6 0L376.6 55.9zM33.6 375.4L0 375.4L0 323.8zM376.6 351.8L376.6 375.4L353.4 375.4z" fill="#d6e6d2"/>
<path d="M0 0L63.6 0L0 52.7zM300.8 0L376.6 0L376.6 45.2zM21.3 375.4L0 375.4L0 342.7zM376.6 365.2L376.6 375.4L366.5 375.4z" fill="#e2e9cc"/>
<path d="M0 0L43.7 0L0 36.2zM318.8 0L376.6 0L376.6 34.5zM9 375.4L0 375.4L0 361.6z" fill="#ecebc8"/>
<path d="M0 0L23.9 0L0 19.8zM336.7 0L376.6 0L376.6 23.8z" fill="#f7edc2"/>
<path d="M0 0L4 0L0 3.3zM354.6 0L376.6 0L376.6 13.1z" fill="#feeebc"/>
<path d="M372.6 0L376.6 0L376.6 2.4z" fill="#feeab0"/>
</g>
<g transform="translate(543.4 996.5)">
<path d="M0 0H376.4V375.4H0z" fill="#305a8d"/>
<path d="M0 0L159.3 0L188.2 11.4L188.2 187.7L0 187.7zM189.6 0L376.4 0L376.4 187.7L188.2 187.7L188.2 11.4zM0 187.7L188.2 187.7L188.2 375.4L0 375.4zM188.2 187.7L376.4 187.7L376.4 375.4L188.2 375.4z" fill="#335f92"/>
<path d="M0 0L92.5 0L188.2 37.8L188.2 187.7L0 187.7zM192.9 0L376.4 0L376.4 187.7L188.2 187.7L188.2 37.8zM0 187.7L188.2 187.7L188.2 375.4L0 375.4zM188.2 187.7L376.4 187.7L376.4 375.4L188.2 375.4z" fill="#376597"/>
<path d="M0 0L25.7 0L188.2 64.3L188.2 187.7L0 187.7zM196.1 0L376.4 0L376.4 187.7L188.2 187.7L188.2 64.3zM0 187.7L188.2 187.7L188.2 375.4L0 375.4zM188.2 187.7L376.4 187.7L376.4 375.4L188.2 375.4z" fill="#3b6a9b"/>
<path d="M188.2 90.7L188.2 187.7L0 187.7L0 180.7zM199.4 0L376.4 0L376.4 187.7L188.2 187.7L188.2 90.7zM0 187.7L188.2 187.7L188.2 375.4L0 375.4zM188.2 187.7L376.4 187.7L376.4 375.4L188.2 375.4z" fill="#3e709f"/>
<path d="M188.2 117.1L188.2 187.7L50.4 187.7zM202.7 0L376.4 0L376.4 187.7L188.2 187.7L188.2 117.1zM50.4 187.7L188.2 187.7L188.2 325.2L150.4 375.4L0 375.4L0 225.4zM188.2 187.7L376.4 187.7L376.4 375.4L213.2 375.4L188.2 325.2z" fill="#4276a3"/>
<path d="M188.2 143.5L188.2 187.7L101.9 187.7zM205.9 0L376.4 0L376.4 187.7L188.2 187.7L188.2 143.5zM101.9 187.7L188.2 187.7L188.2 273.7L111.7 375.4L0 375.4L0 264zM188.2 187.7L376.4 187.7L376.4 375.4L238.7 375.4L188.2 273.7z" fill="#457ca8"/>
<path d="M188.2 169.9L188.2 187.7L153.5 187.7zM209.2 0L376.4 0L376.4 187.7L188.2 187.7L188.2 169.9zM153.5 187.7L188.2 187.7L188.2 222.3L73.1 375.4L0 375.4L0 302.5zM188.2 187.7L376.4 187.7L376.4 375.4L264.3 375.4L188.2 222.3z" fill="#4982ac"/>
<path d="M212.5 0L376.4 0L376.4 187.7L191.9 187.7zM34.4 375.4L0 375.4L0 341.1zM191.9 187.7L376.4 187.7L376.4 375.4L289.9 375.4z" fill="#4e89b1"/>
<path d="M215.8 0L376.4 0L376.4 187.7L203.3 187.7zM203.3 187.7L376.4 187.7L376.4 375.4L315.4 375.4z" fill="#5490b7"/>
<path d="M219 0L376.4 0L376.4 187.7L214.6 187.7zM214.6 187.7L376.4 187.7L376.4 375.4L341 375.4z" fill="#5a98bd"/>
<path d="M222.3 0L376.4 0L376.4 187.7L226 187.7zM226 187.7L376.4 187.7L376.4 375.4L366.6 375.4z" fill="#5f9fc3"/>
<path d="M225.6 0L376.4 0L376.4 187.7L237.3 187.7zM237.3 187.7L376.4 187.7L376.4 366.4z" fill="#65a7c9"/>
<path d="M228.8 0L376.4 0L376.4 187.7L248.7 187.7zM248.7 187.7L376.4 187.7L376.4 351.8z" fill="#6baecf"/>
<path d="M232.1 0L376.4 0L376.4 187.7L260 187.7zM260 187.7L376.4 187.7L376.4 337.2z" fill="#70b4d4"/>
<path d="M235.4 0L376.4 0L376.4 187.7L271.4 187.7zM271.4 187.7L376.4 187.7L376.4 322.6z" fill="#75b8d7"/>
<path d="M238.6 0L376.4 0L376.4 187.7L282.8 187.7zM282.8 187.7L376.4 187.7L376.4 308z" fill="#79bcd9"/>
<path d="M241.9 0L376.4 0L376.4 187.7L294.1 187.7zM294.1 187.7L376.4 187.7L376.4 293.5z" fill="#7ec0dc"/>
<path d="M245.2 0L376.4 0L376.4 187.7L305.5 187.7zM305.5 187.7L376.4 187.7L376.4 278.9z" fill="#86c5dd"/>
<path d="M248.4 0L376.4 0L376.4 187.7L316.8 187.7zM316.8 187.7L376.4 187.7L376.4 264.3z" fill="#8fcadf"/>
<path d="M251.7 0L376.4 0L376.4 187.7L328.2 187.7zM328.2 187.7L376.4 187.7L376.4 249.7z" fill="#97cfe0"/>
<path d="M255 0L376.4 0L376.4 187.7L339.5 187.7zM339.5 187.7L376.4 187.7L376.4 235.1z" fill="#9fd3e0"/>
<path d="M258.2 0L376.4 0L376.4 187.7L350.9 187.7zM350.9 187.7L376.4 187.7L376.4 220.5z" fill="#a6d8e0"/>
<path d="M261.5 0L376.4 0L376.4 187.7L362.2 187.7zM362.2 187.7L376.4 187.7L376.4 205.9z" fill="#aedde0"/>
<path d="M264.8 0L376.4 0L376.4 187.7L373.6 187.7zM373.6 187.7L376.4 187.7L376.4 191.3z" fill="#bae0dc"/>
<path d="M268 0L376.4 0L376.4 183.5z" fill="#c8e3d7"/>
<path d="M271.3 0L376.4 0L376.4 178z" fill="#d6e6d2"/>
<path d="M274.6 0L376.4 0L376.4 172.5z" fill="#e2e9cc"/>
<path d="M277.8 0L376.4 0L376.4 166.9z" fill="#ecebc8"/>
<path d="M281.1 0L376.4 0L376.4 161.4z" fill="#f7edc2"/>
<path d="M284.4 0L376.4 0L376.4 155.9z" fill="#feeebc"/>
<path d="M287.6 0L376.4 0L376.4 150.3z" fill="#feeab0"/>
<path d="M290.9 0L376.4 0L376.4 144.8z" fill="#fee6a4"/>
<path d="M294.2 0L376.4 0L376.4 139.3z" fill="#fee299"/>
<path d="M297.4 0L376.4 0L376.4 133.7z" fill="#fede8e"/>
<path d="M300.7 0L376.4 0L376.4 128.2z" fill="#feda82"/>
<path d="M304 0L376.4 0L376.4 122.7z" fill="#fed677"/>
<path d="M307.2 0L376.4 0L376.4 117.1z" fill="#fed172"/>
<path d="M310.5 0L376.4 0L376.4 111.6z" fill="#fdcc6d"/>
<path d="M313.8 0L376.4 0L376.4 106.1z" fill="#fdc768"/>
<path d="M317 0L376.4 0L376.4 100.5z" fill="#fcc165"/>
<path d="M320.3 0L376.4 0L376.4 95z" fill="#fcbb62"/>
<path d="M323.6 0L376.4 0L376.4 89.5z" fill="#fbb65f"/>
<path d="M326.8 0L376.4 0L376.4 83.9z" fill="#fab05b"/>
<path d="M330.1 0L376.4 0L376.4 78.4z" fill="#f9ab58"/>
<path d="M333.4 0L376.4 0L376.4 72.9z" fill="#f9a555"/>
<path d="M336.6 0L376.4 0L376.4 67.3z" fill="#f89f52"/>
<path d="M339.9 0L376.4 0L376.4 61.8z" fill="#f69951"/>
<path d="M343.2 0L376.4 0L376.4 56.3z" fill="#f5934f"/>
<path d="M346.4 0L376.4 0L376.4 50.7z" fill="#f48d4d"/>
<path d="M349.7 0L376.4 0L376.4 45.2z" fill="#f3874c"/>
<path d="M353 0L376.4 0L376.4 39.7z" fill="#f1814a"/>
<path d="M356.2 0L376.4 0L376.4 34.1z" fill="#f07b48"/>
<path d="M359.5 0L376.4 0L376.4 28.6z" fill="#f07649"/>
<path d="M362.8 0L376.4 0L376.4 23.1z" fill="#f0714a"/>
<path d="M366 0L376.4 0L376.4 17.5z" fill="#f06c4b"/>
<path d="M369.3 0L376.4 0L376.4 12z" fill="#ef674c"/>
<path d="M372.6 0L376.4 0L376.4 6.5z" fill="#ef624d"/>
<path d="M375.9 0L376.4 0L376.4 0.9z" fill="#ef5d4e"/>
</g>
<g transform="translate(1061.4 996.5)">
<path d="M0 0H376.6V375.4H0z" fill="#274e7d"/>
<path d="M0 0L188.3 0L188.3 187.7L0 187.7zM188.3 0L376.6 0L376.6 187.7L188.3 187.7zM0 187.7L188.3 187.7L188.3 370.9L0 354.2zM188.3 187.7L376.6 187.7L376.6 375.4L192 375.4L188.3 370.9z" fill="#2a5283"/>
<path d="M0 0L188.3 0L188.3 187.7L0 187.7zM188.3 0L376.6 0L376.6 187.7L188.3 187.7zM0 187.7L188.3 187.7L188.3 333.6L0 326.2zM188.3 187.7L376.6 187.7L376.6 375.4L223 375.4L188.3 333.6z" fill="#2d5688"/>
<path d="M0 0L188.3 0L188.3 187.7L0 187.7zM188.3 0L376.6 0L376.6 187.7L188.3 187.7zM0 187.7L188.3 187.7L188.3 296.2L0 298.3zM188.3 187.7L376.6 187.7L376.6 375.4L254 375.4L188.3 296.2z" fill="#305a8d"/>
<path d="M9.7 0L188.3 0L188.3 187.7L0 187.7L0 29.9zM188.3 0L376.6 0L376.6 187.7L188.3 187.7zM0 187.7L188.3 187.7L188.3 258.8L0 270.4zM188.3 187.7L376.6 187.7L376.6 375.4L284.9 375.4L188.3 258.8z" fill="#335f92"/>
<path d="M27 0L188.3 0L188.3 187.7L0 187.7L0 83.2zM188.3 0L376.6 0L376.6 187.7L188.3 187.7zM0 187.7L188.3 187.7L188.3 221.5L0 242.4zM188.3 187.7L376.6 187.7L376.6 375.4L315.9 375.4L188.3 221.5z" fill="#376597"/>
<path d="M44.3 0L188.3 0L188.3 185.6zM171.2 187.7L0 187.7L0 136.5zM188.3 0L376.6 0L376.6 187.7L189 187.7L188.3 185.6zM0 187.7L171.2 187.7L0 214.5zM189 187.7L376.6 187.7L376.6 375.4L346.9 375.4z" fill="#3b6a9b"/>
<path d="M61.6 0L188.3 0L188.3 163.3zM188.3 0L376.6 0L376.6 187.7L196.6 187.7L188.3 163.3zM196.6 187.7L376.6 187.7L376.6 375.1z" fill="#3e709f"/>
<path d="M78.9 0L188.3 0L188.3 141zM188.3 0L376.6 0L376.6 187.7L204.3 187.7L188.3 141zM204.3 187.7L376.6 187.7L376.6 367.2z" fill="#4276a3"/>
<path d="M96.2 0L188.3 0L188.3 118.7zM188.3 0L376.6 0L376.6 187.7L211.9 187.7L188.3 118.7zM211.9 187.7L376.6 187.7L376.6 359.2z" fill="#457ca8"/>
<path d="M113.5 0L188.3 0L188.3 96.3zM188.3 0L376.6 0L376.6 187.7L219.5 187.7L188.3 96.3zM219.5 187.7L376.6 187.7L376.6 351.3z" fill="#4982ac"/>
<path d="M130.8 0L188.3 0L188.3 74zM188.3 0L376.6 0L376.6 187.7L227.1 187.7L188.3 74zM227.1 187.7L376.6 187.7L376.6 343.4z" fill="#4e89b1"/>
<path d="M148.1 0L188.3 0L188.3 51.7zM188.3 0L376.6 0L376.6 187.7L234.7 187.7L188.3 51.7zM234.7 187.7L376.6 187.7L376.6 335.5z" fill="#5490b7"/>
<path d="M165.5 0L188.3 0L188.3 29.4zM188.3 0L376.6 0L376.6 187.7L242.3 187.7L188.3 29.4zM242.3 187.7L376.6 187.7L376.6 327.5z" fill="#5a98bd"/>
<path d="M182.8 0L188.3 0L188.3 7.1zM188.3 0L376.6 0L376.6 187.7L249.9 187.7L188.3 7.1zM249.9 187.7L376.6 187.7L376.6 319.6z" fill="#5f9fc3"/>
<path d="M190.6 0L376.6 0L376.6 187.7L257.5 187.7zM257.5 187.7L376.6 187.7L376.6 311.7z" fill="#65a7c9"/>
<path d="M193.9 0L376.6 0L376.6 187.7L265.2 187.7zM265.2 187.7L376.6 187.7L376.6 303.7z" fill="#6baecf"/>
<path d="M197.2 0L376.6 0L376.6 187.7L272.8 187.7zM272.8 187.7L376.6 187.7L376.6 295.8z" fill="#70b4d4"/>
<path d="M200.5 0L376.6 0L376.6 187.7L280.4 187.7zM280.4 187.7L376.6 187.7L376.6 287.9z" fill="#75b8d7"/>
<path d="M203.9 0L376.6 0L376.6 187.7L288 187.7zM288 187.7L376.6 187.7L376.6 280z" fill="#79bcd9"/>
<path d="M207.2 0L376.6 0L376.6 187.7L295.6 187.7zM295.6 187.7L376.6 187.7L376.6 272z" fill="#7ec0dc"/>
<path d="M210.5 0L376.6 0L376.6 187.7L303.2 187.7zM303.2 187.7L376.6 187.7L376.6 264.1z" fill="#86c5dd"/>
<path d="M213.8 0L376.6 0L376.6 187.7L310.8 187.7zM310.8 187.7L376.6 187.7L376.6 256.2z" fill="#8fcadf"/>
<path d="M217.2 0L376.6 0L376.6 187.7L318.4 187.7zM318.4 187.7L376.6 187.7L376.6 248.3z" fill="#97cfe0"/>
<path d="M220.5 0L376.6 0L376.6 187.7L326.1 187.7zM326.1 187.7L376.6 187.7L376.6 240.3z" fill="#9fd3e0"/>
<path d="M223.8 0L376.6 0L376.6 187.7L333.7 187.7zM333.7 187.7L376.6 187.7L376.6 232.4z" fill="#a6d8e0"/>
<path d="M227.1 0L376.6 0L376.6 187.7L341.3 187.7zM341.3 187.7L376.6 187.7L376.6 224.5z" fill="#aedde0"/>
<path d="M230.5 0L376.6 0L376.6 187.7L348.9 187.7zM348.9 187.7L376.6 187.7L376.6 216.6z" fill="#bae0dc"/>
<path d="M233.8 0L376.6 0L376.6 187.7L356.5 187.7zM356.5 187.7L376.6 187.7L376.6 208.6z" fill="#c8e3d7"/>
<path d="M237.1 0L376.6 0L376.6 187.7L364.1 187.7zM364.1 187.7L376.6 187.7L376.6 200.7z" fill="#d6e6d2"/>
<path d="M240.4 0L376.6 0L376.6 187.7L371.7 187.7zM371.7 187.7L376.6 187.7L376.6 192.8z" fill="#e2e9cc"/>
<path d="M243.8 0L376.6 0L376.6 186z" fill="#ecebc8"/>
<path d="M247.1 0L376.6 0L376.6 181.4z" fill="#f7edc2"/>
<path d="M250.4 0L376.6 0L376.6 176.7z" fill="#feeebc"/>
<path d="M253.7 0L376.6 0L376.6 172.1z" fill="#feeab0"/>
<path d="M257.1 0L376.6 0L376.6 167.4z" fill="#fee6a4"/>
<path d="M260.4 0L376.6 0L376.6 162.7z" fill="#fee299"/>
<path d="M263.7 0L376.6 0L376.6 158.1z" fill="#fede8e"/>
<path d="M267 0L376.6 0L376.6 153.4z" fill="#feda82"/>
<path d="M270.3 0L376.6 0L376.6 148.8z" fill="#fed677"/>
<path d="M273.7 0L376.6 0L376.6 144.1z" fill="#fed172"/>
<path d="M277 0L376.6 0L376.6 139.5z" fill="#fdcc6d"/>
<path d="M280.3 0L376.6 0L376.6 134.8z" fill="#fdc768"/>
<path d="M283.6 0L376.6 0L376.6 130.2z" fill="#fcc165"/>
<path d="M287 0L376.6 0L376.6 125.5z" fill="#fcbb62"/>
<path d="M290.3 0L376.6 0L376.6 120.9z" fill="#fbb65f"/>
<path d="M293.6 0L376.6 0L376.6 116.2z" fill="#fab05b"/>
<path d="M296.9 0L376.6 0L376.6 111.5z" fill="#f9ab58"/>
<path d="M300.3 0L376.6 0L376.6 106.9z" fill="#f9a555"/>
<path d="M303.6 0L376.6 0L376.6 102.2z" fill="#f89f52"/>
<path d="M306.9 0L376.6 0L376.6 97.6z" fill="#f69951"/>
<path d="M310.2 0L376.6 0L376.6 92.9z" fill="#f5934f"/>
<path d="M313.6 0L376.6 0L376.6 88.3z" fill="#f48d4d"/>
<path d="M316.9 0L376.6 0L376.6 83.6z" fill="#f3874c"/>
<path d="M320.2 0L376.6 0L376.6 79z" fill="#f1814a"/>
<path d="M323.5 0L376.6 0L376.6 74.3z" fill="#f07b48"/>
<path d="M326.9 0L376.6 0L376.6 69.6z" fill="#f07649"/>
<path d="M330.2 0L376.6 0L376.6 65z" fill="#f0714a"/>
<path d="M333.5 0L376.6 0L376.6 60.3z" fill="#f06c4b"/>
<path d="M336.8 0L376.6 0L376.6 55.7z" fill="#ef674c"/>
<path d="M340.2 0L376.6 0L376.6 51z" fill="#ef624d"/>
<path d="M343.5 0L376.6 0L376.6 46.4z" fill="#ef5d4e"/>
<path d="M346.8 0L376.6 0L376.6 41.7z" fill="#fff"/>
</g>
<g transform="translate(1565.8 997.4)">
<path d="M0 0H376.8V375.2H0z" fill="#2d5688"/>
<path d="M0 0L188.4 0L188.4 187.6L0 187.6zM188.4 0L376.8 0L376.8 187.6L188.4 187.6zM0 187.6L188.4 187.6L188.4 375.2L3 375.2L0 364.5zM188.4 187.6L376.8 187.6L376.8 375.2L188.4 375.2z" fill="#305a8d"/>
<path d="M15.7 0L188.4 0L188.4 187.6L0 187.6L0 33zM188.4 0L376.8 0L376.8 187.6L188.4 187.6zM0 187.6L188.4 187.6L188.4 375.2L18.1 375.2L0 311.2zM188.4 187.6L376.8 187.6L376.8 375.2L188.4 375.2z" fill="#335f92"/>
<path d="M47.4 0L188.4 0L188.4 187.6L0 187.6L0 99.7zM188.4 0L376.8 0L376.8 187.6L188.4 187.6zM0 187.6L188.4 187.6L188.4 375.2L33.2 375.2L0 258zM188.4 187.6L376.8 187.6L376.8 375.2L188.4 375.2z" fill="#376597"/>
<path d="M79 0L188.4 0L188.4 187.6L0 187.6L0 166.3zM188.4 0L376.8 0L376.8 187.6L188.4 187.6zM0 187.6L188.4 187.6L188.4 375.2L48.3 375.2L0 204.7zM188.4 187.6L376.8 187.6L376.8 375.2L188.4 375.2z" fill="#3b6a9b"/>
<path d="M110.7 0L188.4 0L188.4 187.6L5 187.6zM188.4 0L376.8 0L376.8 187.6L188.4 187.6zM5 187.6L188.4 187.6L188.4 375.2L63.4 375.2zM188.4 187.6L376.8 187.6L376.8 375.2L188.4 375.2z" fill="#3e709f"/>
<path d="M142.3 0L188.4 0L188.4 187.6L12.4 187.6zM188.4 0L376.8 0L376.8 187.6L188.4 187.6zM12.4 187.6L188.4 187.6L188.4 375.2L78.5 375.2zM188.4 187.6L376.8 187.6L376.8 375.2L188.4 375.2z" fill="#4276a3"/>
<path d="M174 0L188.4 0L188.4 187.6L19.8 187.6zM188.4 0L376.8 0L376.8 187.6L188.4 187.6zM19.8 187.6L188.4 187.6L188.4 375.2L93.6 375.2zM188.4 187.6L376.8 187.6L376.8 375.2L188.4 375.2z" fill="#457ca8"/>
<path d="M188.4 4.6L188.4 187.6L27.2 187.6zM189.4 0L376.8 0L376.8 187.6L188.4 187.6L188.4 4.6zM27.2 187.6L188.4 187.6L188.4 375.2L108.7 375.2zM188.4 187.6L376.8 187.6L376.8 375.2L188.4 375.2z" fill="#4982ac"/>
<path d="M188.4 12.9L188.4 187.6L34.5 187.6zM191.4 0L376.8 0L376.8 187.6L188.4 187.6L188.4 12.9zM34.5 187.6L188.4 187.6L188.4 375.2L123.8 375.2zM188.4 187.6L376.8 187.6L376.8 375.2L188.4 375.2z" fill="#4e89b1"/>
<path d="M188.4 21.3L188.4 187.6L41.9 187.6zM193.3 0L376.8 0L376.8 187.6L188.4 187.6L188.4 21.3zM41.9 187.6L188.4 187.6L188.4 375.2L138.9 375.2zM188.4 187.6L376.8 187.6L376.8 375.2L188.4 375.2z" fill="#5490b7"/>
<path d="M188.4 29.7L188.4 187.6L49.3 187.6zM195.2 0L376.8 0L376.8 187.6L188.4 187.6L188.4 29.7zM49.3 187.6L188.4 187.6L188.4 375.2L154 375.2zM188.4 187.6L376.8 187.6L376.8 375.2L188.4 375.2z" fill="#5a98bd"/>
<path d="M188.4 38.1L188.4 187.6L56.7 187.6zM197.1 0L376.8 0L376.8 187.6L188.4 187.6L188.4 38.1zM56.7 187.6L188.4 187.6L188.4 375.2L169.1 375.2zM188.4 187.6L376.8 187.6L376.8 375.2L188.4 375.2z" fill="#5f9fc3"/>
<path d="M188.4 46.4L188.4 187.6L64 187.6zM199 0L376.8 0L376.8 187.6L188.4 187.6L188.4 46.4zM64 187.6L188.4 187.6L188.4 375.2L184.2 375.2zM188.4 187.6L376.8 187.6L376.8 375.2L188.4 375.2z" fill="#65a7c9"/>
<path d="M188.4 54.8L188.4 187.6L71.4 187.6zM200.9 0L376.8 0L376.8 187.6L188.4 187.6L188.4 54.8zM71.4 187.6L188.4 187.6L188.4 367.1zM188.4 187.6L376.8 187.6L376.8 375.2L190 375.2L188.4 367.1z" fill="#6baecf"/>
<path d="M188.4 63.2L188.4 187.6L78.8 187.6zM202.9 0L376.8 0L376.8 187.6L188.4 187.6L188.4 63.2zM78.8 187.6L188.4 187.6L188.4 355.7zM188.4 187.6L376.8 187.6L376.8 375.2L192.3 375.2L188.4 355.7z" fill="#70b4d4"/>
<path d="M188.4 71.6L188.4 187.6L86.2 187.6zM204.8 0L376.8 0L376.8 187.6L188.4 187.6L188.4 71.6zM86.2 187.6L188.4 187.6L188.4 344.4zM188.4 187.6L376.8 187.6L376.8 375.2L194.6 375.2L188.4 344.4z" fill="#75b8d7"/>
<path d="M188.4 79.9L188.4 187.6L93.6 187.6zM206.7 0L376.8 0L376.8 187.6L188.4 187.6L188.4 79.9zM93.6 187.6L188.4 187.6L188.4 333.1zM188.4 187.6L376.8 187.6L376.8 375.2L196.8 375.2L188.4 333.1z" fill="#79bcd9"/>
<path d="M188.4 88.3L188.4 187.6L100.9 187.6zM208.6 0L376.8 0L376.8 187.6L188.4 187.6L188.4 88.3zM100.9 187.6L188.4 187.6L188.4 321.8zM188.4 187.6L376.8 187.6L376.8 375.2L199.1 375.2L188.4 321.8z" fill="#7ec0dc"/>
<path d="M188.4 96.7L188.4 187.6L108.3 187.6zM210.5 0L376.8 0L376.8 187.6L188.4 187.6L188.4 96.7zM108.3 187.6L188.4 187.6L188.4 310.5zM188.4 187.6L376.8 187.6L376.8 375.2L201.4 375.2L188.4 310.5z" fill="#86c5dd"/>
<path d="M188.4 105.1L188.4 187.6L115.7 187.6zM212.5 0L376.8 0L376.8 187.6L188.4 187.6L188.4 105.1zM115.7 187.6L188.4 187.6L188.4 299.1zM188.4 187.6L376.8 187.6L376.8 375.2L203.6 375.2L188.4 299.1z" fill="#8fcadf"/>
<path d="M188.4 113.4L188.4 187.6L123.1 187.6zM214.4 0L376.8 0L376.8 187.6L188.4 187.6L188.4 113.4zM123.1 187.6L188.4 187.6L188.4 287.8zM188.4 187.6L376.8 187.6L376.8 375.2L205.9 375.2L188.4 287.8z" fill="#97cfe0"/>
<path d="M188.4 121.8L188.4 187.6L130.4 187.6zM216.3 0L376.8 0L376.8 187.6L188.4 187.6L188.4 121.8zM130.4 187.6L188.4 187.6L188.4 276.5zM188.4 187.6L376.8 187.6L376.8 375.2L208.1 375.2L188.4 276.5z" fill="#9fd3e0"/>
<path d="M188.4 130.2L188.4 187.6L137.8 187.6zM218.2 0L376.8 0L376.8 187.6L188.4 187.6L188.4 130.2zM137.8 187.6L188.4 187.6L188.4 265.2zM188.4 187.6L376.8 187.6L376.8 375.2L210.4 375.2L188.4 265.2z" fill="#a6d8e0"/>
<path d="M188.4 138.6L188.4 187.6L145.2 187.6zM220.1 0L376.8 0L376.8 187.6L188.4 187.6L188.4 138.6zM145.2 187.6L188.4 187.6L188.4 253.9zM188.4 187.6L376.8 187.6L376.8 375.2L212.7 375.2L188.4 253.9z" fill="#aedde0"/>
<path d="M188.4 146.9L188.4 187.6L152.6 187.6zM222 0L376.8 0L376.8 187.6L188.4 187.6L188.4 146.9zM152.6 187.6L188.4 187.6L188.4 242.6zM188.4 187.6L376.8 187.6L376.8 375.2L214.9 375.2L188.4 242.6z" fill="#bae0dc"/>
<path d="M188.4 155.3L188.4 187.6L160 187.6zM224 0L376.8 0L376.8 187.6L188.4 187.6L188.4 155.3zM160 187.6L188.4 187.6L188.4 231.2zM188.4 187.6L376.8 187.6L376.8 375.2L217.2 375.2L188.4 231.2z" fill="#c8e3d7"/>
<path d="M188.4 163.7L188.4 187.6L167.3 187.6zM225.9 0L376.8 0L376.8 187.6L188.4 187.6L188.4 163.7zM167.3 187.6L188.4 187.6L188.4 219.9zM188.4 187.6L376.8 187.6L376.8 375.2L219.5 375.2L188.4 219.9z" fill="#d6e6d2"/>
<path d="M188.4 172.1L188.4 187.6L174.7 187.6zM227.8 0L376.8 0L376.8 187.6L188.4 187.6L188.4 172.1zM174.7 187.6L188.4 187.6L188.4 208.6zM188.4 187.6L376.8 187.6L376.8 375.2L221.7 375.2L188.4 208.6z" fill="#e2e9cc"/>
<path d="M188.4 180.4L188.4 187.6L182.1 187.6zM229.7 0L376.8 0L376.8 187.6L188.4 187.6L188.4 180.4zM182.1 187.6L188.4 187.6L188.4 197.3zM188.4 187.6L376.8 187.6L376.8 375.2L224 375.2L188.4 197.3z" fill="#ecebc8"/>
<path d="M231.6 0L376.8 0L376.8 187.6L188.6 187.6zM188.6 187.6L376.8 187.6L376.8 375.2L226.3 375.2z" fill="#f7edc2"/>
<path d="M233.6 0L376.8 0L376.8 187.6L190 187.6zM190 187.6L376.8 187.6L376.8 375.2L228.5 375.2z" fill="#feeebc"/>
<path d="M235.5 0L376.8 0L376.8 187.6L191.5 187.6zM191.5 187.6L376.8 187.6L376.8 375.2L230.8 375.2z" fill="#feeab0"/>
<path d="M237.4 0L376.8 0L376.8 187.6L192.9 187.6zM192.9 187.6L376.8 187.6L376.8 375.2L233.1 375.2z" fill="#fee6a4"/>
<path d="M239.3 0L376.8 0L376.8 187.6L194.3 187.6zM194.3 187.6L376.8 187.6L376.8 375.2L235.3 375.2z" fill="#fee299"/>
<path d="M241.2 0L376.8 0L376.8 187.6L195.8 187.6zM195.8 187.6L376.8 187.6L376.8 375.2L237.6 375.2z" fill="#fede8e"/>
<path d="M243.1 0L376.8 0L376.8 187.6L197.2 187.6zM197.2 187.6L376.8 187.6L376.8 375.2L239.8 375.2z" fill="#feda82"/>
<path d="M245.1 0L376.8 0L376.8 187.6L198.7 187.6zM198.7 187.6L376.8 187.6L376.8 375.2L242.1 375.2z" fill="#fed677"/>
<path d="M247 0L376.8 0L376.8 187.6L200.1 187.6zM200.1 187.6L376.8 187.6L376.8 375.2L244.4 375.2z" fill="#fed172"/>
<path d="M248.9 0L376.8 0L376.8 187.6L201.5 187.6zM201.5 187.6L376.8 187.6L376.8 375.2L246.6 375.2z" fill="#fdcc6d"/>
<path d="M250.8 0L376.8 0L376.8 187.6L203 187.6zM203 187.6L376.8 187.6L376.8 375.2L248.9 375.2z" fill="#fdc768"/>
<path d="M252.7 0L376.8 0L376.8 187.6L204.4 187.6zM204.4 187.6L376.8 187.6L376.8 375.2L251.2 375.2z" fill="#fcc165"/>
<path d="M254.6 0L376.8 0L376.8 187.6L205.8 187.6zM205.8 187.6L376.8 187.6L376.8 375.2L253.4 375.2z" fill="#fcbb62"/>
<path d="M256.6 0L376.8 0L376.8 187.6L207.3 187.6zM207.3 187.6L376.8 187.6L376.8 375.2L255.7 375.2z" fill="#fbb65f"/>
<path d="M258.5 0L376.8 0L376.8 187.6L208.7 187.6zM208.7 187.6L376.8 187.6L376.8 375.2L258 375.2z" fill="#fab05b"/>
<path d="M260.4 0L376.8 0L376.8 187.6L210.1 187.6zM210.1 187.6L376.8 187.6L376.8 375.2L260.2 375.2z" fill="#f9ab58"/>
<path d="M262.3 0L376.8 0L376.8 187.6L211.6 187.6zM211.6 187.6L376.8 187.6L376.8 375.2L262.5 375.2z" fill="#f9a555"/>
<path d="M264.2 0L376.8 0L376.8 187.6L213 187.6zM213 187.6L376.8 187.6L376.8 375.2L264.8 375.2z" fill="#f89f52"/>
<path d="M266.2 0L376.8 0L376.8 187.6L214.4 187.6zM214.4 187.6L376.8 187.6L376.8 375.2L267 375.2z" fill="#f69951"/>
<path d="M268.1 0L376.8 0L376.8 187.6L215.9 187.6zM215.9 187.6L376.8 187.6L376.8 375.2L269.3 375.2z" fill="#f5934f"/>
<path d="M270 0L376.8 0L376.8 187.6L217.3 187.6zM217.3 187.6L376.8 187.6L376.8 375.2L271.5 375.2z" fill="#f48d4d"/>
<path d="M271.9 0L376.8 0L376.8 187.6L218.7 187.6zM218.7 187.6L376.8 187.6L376.8 375.2L273.8 375.2z" fill="#f3874c"/>
<path d="M273.8 0L376.8 0L376.8 187.6L220.2 187.6zM220.2 187.6L376.8 187.6L376.8 375.2L276.1 375.2z" fill="#f1814a"/>
<path d="M275.7 0L376.8 0L376.8 187.6L221.6 187.6zM221.6 187.6L376.8 187.6L376.8 375.2L278.3 375.2z" fill="#f07b48"/>
<path d="M277.7 0L376.8 0L376.8 187.6L223.1 187.6zM223.1 187.6L376.8 187.6L376.8 375.2L280.6 375.2z" fill="#f07649"/>
<path d="M279.6 0L376.8 0L376.8 187.6L224.5 187.6zM224.5 187.6L376.8 187.6L376.8 375.2L282.9 375.2z" fill="#f0714a"/>
<path d="M281.5 0L376.8 0L376.8 187.6L225.9 187.6zM225.9 187.6L376.8 187.6L376.8 375.2L285.1 375.2z" fill="#f06c4b"/>
<path d="M283.4 0L376.8 0L376.8 187.6L227.4 187.6zM227.4 187.6L376.8 187.6L376.8 375.2L287.4 375.2z" fill="#ef674c"/>
<path d="M285.3 0L376.8 0L376.8 187.6L228.8 187.6zM228.8 187.6L376.8 187.6L376.8 375.2L289.7 375.2z" fill="#ef624d"/>
<path d="M287.2 0L376.8 0L376.8 187.6L230.2 187.6zM230.2 187.6L376.8 187.6L376.8 375.2L291.9 375.2z" fill="#ef5d4e"/>
<path d="M289.2 0L376.8 0L376.8 187.6L231.7 187.6zM231.7 187.6L376.8 187.6L376.8 375.2L294.2 375.2z" fill="#fff"/>
</g>
<g transform="translate(26.4 1475.4)">
<path d="M0 0H376.6V375.2H0z" fill="#2a5283"/>
<path d="M0 0L188.3 0L188.3 184L186 187.6L0 187.6zM188.3 0L376.6 0L376.6 187.6L190.9 187.6L188.3 184zM0 187.6L186 187.6L188.3 199.5L188.3 375.2L0 375.2zM190.9 187.6L376.6 187.6L376.6 375.2L188.3 375.2L188.3 199.5z" fill="#2d5688"/>
<path d="M0 0L188.3 0L188.3 171.6L178 187.6L0 187.6zM188.3 0L376.6 0L376.6 187.6L200.1 187.6L188.3 171.6zM0 187.6L178 187.6L188.3 240.8L188.3 375.2L0 375.2zM200.1 187.6L376.6 187.6L376.6 375.2L188.3 375.2L188.3 240.8z" fill="#305a8d"/>
<path d="M0 0L188.3 0L188.3 159.2L170 187.6L0 187.6zM188.3 0L376.6 0L376.6 187.6L209.2 187.6L188.3 159.2zM0 187.6L170 187.6L188.3 282.1L188.3 375.2L0 375.2zM209.2 187.6L376.6 187.6L376.6 375.2L188.3 375.2L188.3 282.1z" fill="#335f92"/>
<path d="M0 0L188.3 0L188.3 146.8L161.9 187.6L0 187.6zM188.3 0L376.6 0L376.6 187.6L218.3 187.6L188.3 146.8zM0 187.6L161.9 187.6L188.3 323.3L188.3 375.2L0 375.2zM218.3 187.6L376.6 187.6L376.6 375.2L188.3 375.2L188.3 323.3z" fill="#376597"/>
<path d="M0 0L188.3 0L188.3 134.3L153.9 187.6L0 187.6zM188.3 0L376.6 0L376.6 187.6L227.5 187.6L188.3 134.3zM0 187.6L153.9 187.6L188.3 364.6L188.3 375.2L0 375.2zM227.5 187.6L376.6 187.6L376.6 375.2L188.3 375.2L188.3 364.6z" fill="#3b6a9b"/>
<path d="M0 0L188.3 0L188.3 121.9L145.9 187.6L0 187.6zM188.3 0L376.6 0L376.6 187.6L236.6 187.6L188.3 121.9zM0 187.6L145.9 187.6L182.5 375.2L0 375.2zM236.6 187.6L376.6 187.6L376.6 375.2L193.4 375.2z" fill="#3e709f"/>
<path d="M0 0L188.3 0L188.3 109.5L137.9 187.6L0 187.6zM188.3 0L376.6 0L376.6 187.6L245.8 187.6L188.3 109.5zM0 187.6L137.9 187.6L174.7 375.2L0 375.2zM245.8 187.6L376.6 187.6L376.6 375.2L200.2 375.2z" fill="#4276a3"/>
<path d="M0 0L188.3 0L188.3 97.1L129.9 187.6L0 187.6zM188.3 0L376.6 0L376.6 187.6L254.9 187.6L188.3 97.1zM0 187.6L129.9 187.6L166.8 375.2L0 375.2zM254.9 187.6L376.6 187.6L376.6 375.2L207 375.2z" fill="#457ca8"/>
<path d="M0 0L188.3 0L188.3 84.7L121.9 187.6L0 187.6zM188.3 0L376.6 0L376.6 187.6L264 187.6L188.3 84.7zM0 187.6L121.9 187.6L159 375.2L0 375.2zM264 187.6L376.6 187.6L376.6 375.2L213.9 375.2z" fill="#4982ac"/>
<path d="M0 0L188.3 0L188.3 72.2L113.8 187.6L0 187.6zM188.3 0L364.7 0L376.6 6.3L376.6 187.6L273.2 187.6L188.3 72.2zM0 187.6L113.8 187.6L151.2 375.2L0 375.2zM273.2 187.6L376.6 187.6L376.6 375.2L220.7 375.2z" fill="#4e89b1"/>
<path d="M0 0L188.3 0L188.3 59.8L105.8 187.6L0 187.6zM188.3 0L334.4 0L376.6 22.3L376.6 187.6L282.3 187.6L188.3 59.8zM0 187.6L105.8 187.6L143.4 375.2L0 375.2zM282.3 187.6L376.6 187.6L376.6 375.2L227.5 375.2z" fill="#5490b7"/>
<path d="M0 0L188.3 0L188.3 47.4L97.8 187.6L0 187.6zM188.3 0L304 0L376.6 38.3L376.6 187.6L291.4 187.6L188.3 47.4zM0 187.6L97.8 187.6L135.5 375.2L0 375.2zM291.4 187.6L376.6 187.6L376.6 375.2L234.3 375.2z" fill="#5a98bd"/>
<path d="M0 0L188.3 0L188.3 35L89.8 187.6L0 187.6zM188.3 0L273.7 0L376.6 54.3L376.6 187.6L300.6 187.6L188.3 35zM0 187.6L89.8 187.6L127.7 375.2L0 375.2zM300.6 187.6L376.6 187.6L376.6 375.2L241.2 375.2z" fill="#5f9fc3"/>
<path d="M0 0L188.3 0L188.3 22.6L81.8 187.6L0 187.6zM188.3 0L243.4 0L376.6 70.3L376.6 187.6L309.7 187.6L188.3 22.6zM0 187.6L81.8 187.6L119.9 375.2L0 375.2zM309.7 187.6L376.6 187.6L376.6 375.2L248 375.2z" fill="#65a7c9"/>
<path d="M0 0L188.3 0L188.3 10.1L73.8 187.6L0 187.6zM188.3 0L213.1 0L376.6 86.4L376.6 187.6L318.9 187.6L188.3 10.1zM0 187.6L73.8 187.6L112.1 375.2L0 375.2zM318.9 187.6L376.6 187.6L376.6 375.2L254.8 375.2z" fill="#6baecf"/>
<path d="M0 0L186.1 0L65.7 187.6L0 187.6zM376.6 102.4L376.6 187.6L328 187.6zM0 187.6L65.7 187.6L104.2 375.2L0 375.2zM328 187.6L376.6 187.6L376.6 375.2L261.6 375.2z" fill="#70b4d4"/>
<path d="M0 0L174 0L57.7 187.6L0 187.6zM376.6 118.4L376.6 187.6L337.1 187.6zM0 187.6L57.7 187.6L96.4 375.2L0 375.2zM337.1 187.6L376.6 187.6L376.6 375.2L268.5 375.2z" fill="#75b8d7"/>
<path d="M0 0L161.9 0L49.7 187.6L0 187.6zM376.6 134.4L376.6 187.6L346.3 187.6zM0 187.6L49.7 187.6L88.6 375.2L0 375.2zM346.3 187.6L376.6 187.6L376.6 375.2L275.3 375.2z" fill="#79bcd9"/>
<path d="M0 0L149.7 0L41.7 187.6L0 187.6zM376.6 150.4L376.6 187.6L355.4 187.6zM0 187.6L41.7 187.6L80.8 375.2L0 375.2zM355.4 187.6L376.6 187.6L376.6 375.2L282.1 375.2z" fill="#7ec0dc"/>
<path d="M0 0L137.6 0L33.7 187.6L0 187.6zM376.6 166.5L376.6 187.6L364.5 187.6zM0 187.6L33.7 187.6L72.9 375.2L0 375.2zM364.5 187.6L376.6 187.6L376.6 375.2L288.9 375.2z" fill="#86c5dd"/>
<path d="M0 0L125.5 0L25.7 187.6L0 187.6zM376.6 182.5L376.6 187.6L373.7 187.6zM0 187.6L25.7 187.6L65.1 375.2L0 375.2zM373.7 187.6L376.6 187.6L376.6 375.2L295.8 375.2z" fill="#8fcadf"/>
<path d="M0 0L113.4 0L17.6 187.6L0 187.6zM0 187.6L17.6 187.6L57.3 375.2L0 375.2zM376.6 198.7L376.6 375.2L302.6 375.2z" fill="#97cfe0"/>
<path d="M0 0L101.3 0L9.6 187.6L0 187.6zM0 187.6L9.6 187.6L49.5 375.2L0 375.2zM376.6 215L376.6 375.2L309.4 375.2z" fill="#9fd3e0"/>
<path d="M0 0L89.2 0L1.6 187.6L0 187.6zM0 187.6L1.6 187.6L41.6 375.2L0 375.2zM376.6 231.2L376.6 375.2L316.3 375.2z" fill="#a6d8e0"/>
<path d="M0 0L77.1 0L0 166.7zM33.8 375.2L0 375.2L0 216.9zM376.6 247.5L376.6 375.2L323.1 375.2z" fill="#aedde0"/>
<path d="M0 0L65 0L0 140.5zM26 375.2L0 375.2L0 253.6zM376.6 263.8L376.6 375.2L329.9 375.2z" fill="#bae0dc"/>
<path d="M0 0L52.9 0L0 114.3zM18.2 375.2L0 375.2L0 290.2zM376.6 280.1L376.6 375.2L336.7 375.2z" fill="#c8e3d7"/>
<path d="M0 0L40.8 0L0 88.1zM10.3 375.2L0 375.2L0 326.8zM376.6 296.4L376.6 375.2L343.6 375.2z" fill="#d6e6d2"/>
<path d="M0 0L28.7 0L0 62zM2.5 375.2L0 375.2L0 363.5zM376.6 312.7L376.6 375.2L350.4 375.2z" fill="#e2e9cc"/>
<path d="M0 0L16.6 0L0 35.8zM376.6 329L376.6 375.2L357.2 375.2z" fill="#ecebc8"/>
<path d="M0 0L4.5 0L0 9.6zM376.6 345.2L376.6 375.2L364 375.2z" fill="#f7edc2"/>
<path d="M376.6 361.5L376.6 375.2L370.9 375.2z" fill="#feeebc"/>
</g>
<g transform="translate(543.4 1475.4)">
<path d="M0 0H376.4V375.2H0z" fill="#4276a3"/>
<path d="M0 0L188.2 0L188.2 187.6L5.5 187.6L0 181.2zM188.2 0L376.4 0L376.4 187.6L188.2 187.6zM5.5 187.6L188.2 187.6L188.2 373.7zM186.7 375.2L0 375.2L0 193.1zM188.2 187.6L376.4 187.6L376.4 375.2L189.7 375.2L188.2 373.7z" fill="#457ca8"/>
<path d="M0 0L188.2 0L188.2 187.6L18 187.6L0 166.6zM188.2 0L376.4 0L376.4 187.6L188.2 187.6zM18 187.6L188.2 187.6L188.2 360.9zM173.9 375.2L0 375.2L0 205.6zM188.2 187.6L376.4 187.6L376.4 375.2L202.2 375.2L188.2 360.9z" fill="#4982ac"/>
<path d="M0 0L188.2 0L188.2 187.6L30.5 187.6L0 152zM188.2 0L376.4 0L376.4 187.6L188.2 187.6zM30.5 187.6L188.2 187.6L188.2 348.2zM161.1 375.2L0 375.2L0 218zM188.2 187.6L376.4 187.6L376.4 375.2L214.7 375.2L188.2 348.2z" fill="#4e89b1"/>
<path d="M0 0L188.2 0L188.2 187.6L43 187.6L0 137.4zM188.2 0L376.4 0L376.4 187.6L188.2 187.6zM43 187.6L188.2 187.6L188.2 335.4zM148.3 375.2L0 375.2L0 230.5zM188.2 187.6L376.4 187.6L376.4 375.2L227.2 375.2L188.2 335.4z" fill="#5490b7"/>
<path d="M0 0L188.2 0L188.2 187.6L55.6 187.6L0 122.8zM188.2 0L376.4 0L376.4 187.6L188.2 187.6zM55.6 187.6L188.2 187.6L188.2 322.7zM135.5 375.2L0 375.2L0 243zM188.2 187.6L376.4 187.6L376.4 375.2L239.8 375.2L188.2 322.7z" fill="#5a98bd"/>
<path d="M0 0L188.2 0L188.2 187.6L68.1 187.6L0 108.3zM188.2 0L376.4 0L376.4 187.6L188.2 187.6zM68.1 187.6L188.2 187.6L188.2 309.9zM122.7 375.2L0 375.2L0 255.5zM188.2 187.6L376.4 187.6L376.4 375.2L252.3 375.2L188.2 309.9z" fill="#5f9fc3"/>
<path d="M0 0L188.2 0L188.2 187.6L80.6 187.6L0 93.7zM188.2 0L376.4 0L376.4 187.6L188.2 187.6zM80.6 187.6L188.2 187.6L188.2 297.2zM110 375.2L0 375.2L0 267.9zM188.2 187.6L376.4 187.6L376.4 375.2L264.8 375.2L188.2 297.2z" fill="#65a7c9"/>
<path d="M0 0L188.2 0L188.2 187.6L93.1 187.6L0 79.1zM188.2 0L376.4 0L376.4 187.6L188.2 187.6zM93.1 187.6L188.2 187.6L188.2 284.5zM97.2 375.2L0 375.2L0 280.4zM188.2 187.6L376.4 187.6L376.4 375.2L277.3 375.2L188.2 284.5z" fill="#6baecf"/>
<path d="M0 0L188.2 0L188.2 187.6L105.6 187.6L0 64.5zM188.2 0L376.4 0L376.4 187.6L188.2 187.6zM105.6 187.6L188.2 187.6L188.2 271.7zM84.4 375.2L0 375.2L0 292.9zM188.2 187.6L376.4 187.6L376.4 375.2L289.8 375.2L188.2 271.7z" fill="#70b4d4"/>
<path d="M0 0L188.2 0L188.2 187.6L118.1 187.6L0 49.9zM188.2 0L376.4 0L376.4 187.6L188.2 187.6zM118.1 187.6L188.2 187.6L188.2 259zM71.6 375.2L0 375.2L0 305.3zM188.2 187.6L376.4 187.6L376.4 375.2L302.3 375.2L188.2 259z" fill="#75b8d7"/>
<path d="M0 0L188.2 0L188.2 187.6L130.6 187.6L0 35.3zM188.2 0L376.4 0L376.4 187.6L188.2 187.6zM130.6 187.6L188.2 187.6L188.2 246.2zM58.8 375.2L0 375.2L0 317.8zM188.2 187.6L376.4 187.6L376.4 375.2L314.8 375.2L188.2 246.2z" fill="#79bcd9"/>
<path d="M0 0L188.2 0L188.2 187.6L143.2 187.6L0 20.8zM188.2 0L376.4 0L376.4 187.6L188.2 187.6zM143.2 187.6L188.2 187.6L188.2 233.5zM46 375.2L0 375.2L0 330.3zM188.2 187.6L376.4 187.6L376.4 375.2L327.3 375.2L188.2 233.5z" fill="#7ec0dc"/>
<path d="M0 0L188.2 0L188.2 187.6L155.7 187.6L0 6.2zM188.2 0L376.4 0L376.4 187.6L188.2 187.6zM155.7 187.6L188.2 187.6L188.2 220.7zM33.2 375.2L0 375.2L0 342.8zM188.2 187.6L376.4 187.6L376.4 375.2L339.9 375.2L188.2 220.7z" fill="#86c5dd"/>
<path d="M70.6 0L188.2 0L188.2 187.6L168.2 187.6zM188.2 0L376.4 0L376.4 187.6L188.2 187.6zM168.2 187.6L188.2 187.6L188.2 208zM20.5 375.2L0 375.2L0 355.2zM188.2 187.6L376.4 187.6L376.4 375.2L352.4 375.2L188.2 208z" fill="#8fcadf"/>
<path d="M188.2 11.7L188.2 187.6L180.7 187.6zM188.4 0L376.4 0L376.4 187.6L188.2 187.6L188.2 11.7zM180.7 187.6L188.2 187.6L188.2 195.2zM7.7 375.2L0 375.2L0 367.7zM188.2 187.6L376.4 187.6L376.4 375.2L364.9 375.2L188.2 195.2z" fill="#97cfe0"/>
<path d="M192.7 0L376.4 0L376.4 187.6L189.7 187.6zM189.7 187.6L376.4 187.6L376.4 374.9z" fill="#9fd3e0"/>
<path d="M197 0L376.4 0L376.4 187.6L193.6 187.6zM193.6 187.6L376.4 187.6L376.4 371z" fill="#a6d8e0"/>
<path d="M201.3 0L376.4 0L376.4 187.6L197.5 187.6zM197.5 187.6L376.4 187.6L376.4 367.1z" fill="#aedde0"/>
<path d="M205.5 0L376.4 0L376.4 187.6L201.4 187.6zM201.4 187.6L376.4 187.6L376.4 363.2z" fill="#bae0dc"/>
<path d="M209.8 0L376.4 0L376.4 187.6L205.2 187.6zM205.2 187.6L376.4 187.6L376.4 359.4z" fill="#c8e3d7"/>
<path d="M214.1 0L376.4 0L376.4 187.6L209.1 187.6zM209.1 187.6L376.4 187.6L376.4 355.5z" fill="#d6e6d2"/>
<path d="M218.4 0L376.4 0L376.4 187.6L213 187.6zM213 187.6L376.4 187.6L376.4 351.6z" fill="#e2e9cc"/>
<path d="M222.7 0L376.4 0L376.4 187.6L216.8 187.6zM216.8 187.6L376.4 187.6L376.4 347.7z" fill="#ecebc8"/>
<path d="M227 0L376.4 0L376.4 187.6L220.7 187.6zM220.7 187.6L376.4 187.6L376.4 343.8z" fill="#f7edc2"/>
<path d="M231.3 0L376.4 0L376.4 187.6L224.6 187.6zM224.6 187.6L376.4 187.6L376.4 339.9z" fill="#feeebc"/>
<path d="M235.6 0L376.4 0L376.4 187.6L228.4 187.6zM228.4 187.6L376.4 187.6L376.4 336.1z" fill="#feeab0"/>
<path d="M239.9 0L376.4 0L376.4 187.6L232.3 187.6zM232.3 187.6L376.4 187.6L376.4 332.2z" fill="#fee6a4"/>
<path d="M244.2 0L376.4 0L376.4 187.6L236.2 187.6zM236.2 187.6L376.4 187.6L376.4 328.3z" fill="#fee299"/>
<path d="M248.5 0L376.4 0L376.4 187.6L240 187.6zM240 187.6L376.4 187.6L376.4 324.4z" fill="#fede8e"/>
<path d="M252.8 0L376.4 0L376.4 187.6L243.9 187.6zM243.9 187.6L376.4 187.6L376.4 320.5z" fill="#feda82"/>
<path d="M257.1 0L376.4 0L376.4 187.6L247.8 187.6zM247.8 187.6L376.4 187.6L376.4 316.7z" fill="#fed677"/>
<path d="M261.4 0L376.4 0L376.4 187.6L251.7 187.6zM251.7 187.6L376.4 187.6L376.4 312.8z" fill="#fed172"/>
<path d="M265.6 0L376.4 0L376.4 187.6L255.5 187.6zM255.5 187.6L376.4 187.6L376.4 308.9z" fill="#fdcc6d"/>
<path d="M269.9 0L376.4 0L376.4 187.6L259.4 187.6zM259.4 187.6L376.4 187.6L376.4 305z" fill="#fdc768"/>
<path d="M274.2 0L376.4 0L376.4 187.6L263.3 187.6zM263.3 187.6L376.4 187.6L376.4 301.1z" fill="#fcc165"/>
<path d="M278.5 0L376.4 0L376.4 187.6L267.1 187.6zM267.1 187.6L376.4 187.6L376.4 297.2z" fill="#fcbb62"/>
<path d="M282.8 0L376.4 0L376.4 187.6L271 187.6zM271 187.6L376.4 187.6L376.4 293.4z" fill="#fbb65f"/>
<path d="M287.1 0L376.4 0L376.4 187.6L274.9 187.6zM274.9 187.6L376.4 187.6L376.4 289.5z" fill="#fab05b"/>
<path d="M291.4 0L376.4 0L376.4 187.6L278.7 187.6zM278.7 187.6L376.4 187.6L376.4 285.6z" fill="#f9ab58"/>
<path d="M295.7 0L376.4 0L376.4 187.6L282.6 187.6zM282.6 187.6L376.4 187.6L376.4 281.7z" fill="#f9a555"/>
<path d="M300 0L376.4 0L376.4 187.6L286.5 187.6zM286.5 187.6L376.4 187.6L376.4 277.8z" fill="#f89f52"/>
<path d="M304.3 0L376.4 0L376.4 187.6L290.3 187.6zM290.3 187.6L376.4 187.6L376.4 273.9z" fill="#f69951"/>
<path d="M308.6 0L376.4 0L376.4 187.6L294.2 187.6zM294.2 187.6L376.4 187.6L376.4 270.1z" fill="#f5934f"/>
<path d="M312.9 0L376.4 0L376.4 187.6L298.1 187.6zM298.1 187.6L376.4 187.6L376.4 266.2z" fill="#f48d4d"/>
<path d="M317.2 0L376.4 0L376.4 187.6L302 187.6zM302 187.6L376.4 187.6L376.4 262.3z" fill="#f3874c"/>
<path d="M321.5 0L376.4 0L376.4 187.6L305.8 187.6zM305.8 187.6L376.4 187.6L376.4 258.4z" fill="#f1814a"/>
<path d="M325.7 0L376.4 0L376.4 187.6L309.7 187.6zM309.7 187.6L376.4 187.6L376.4 254.5z" fill="#f07b48"/>
<path d="M330 0L376.4 0L376.4 187.6L313.6 187.6zM313.6 187.6L376.4 187.6L376.4 250.7z" fill="#f07649"/>
<path d="M334.3 0L376.4 0L376.4 187.6L317.4 187.6zM317.4 187.6L376.4 187.6L376.4 246.8z" fill="#f0714a"/>
<path d="M338.6 0L376.4 0L376.4 187.6L321.3 187.6zM321.3 187.6L376.4 187.6L376.4 242.9z" fill="#f06c4b"/>
<path d="M342.9 0L376.4 0L376.4 187.6L325.2 187.6zM325.2 187.6L376.4 187.6L376.4 239z" fill="#ef674c"/>
<path d="M347.2 0L376.4 0L376.4 187.6L329 187.6zM329 187.6L376.4 187.6L376.4 235.1z" fill="#ef624d"/>
<path d="M351.5 0L376.4 0L376.4 187.6L332.9 187.6zM332.9 187.6L376.4 187.6L376.4 231.2z" fill="#ef5d4e"/>
<path d="M355.8 0L376.4 0L376.4 187.6L336.8 187.6zM336.8 187.6L376.4 187.6L376.4 227.4z" fill="#fff"/>
</g>
<g transform="translate(1061.4 1475.4)">
<path d="M0 0H376.6V375.2H0z" fill="#4276a3"/>
<path d="M0 0L188.3 0L188.3 187.6L5.5 187.6L0 181.2zM188.3 0L376.6 0L376.6 187.6L188.3 187.6zM5.5 187.6L188.3 187.6L188.3 373.7zM186.8 375.2L0 375.2L0 193.1zM188.3 187.6L376.6 187.6L376.6 375.2L189.8 375.2L188.3 373.7z" fill="#457ca8"/>
<path d="M0 0L188.3 0L188.3 187.6L18 187.6L0 166.6zM188.3 0L376.6 0L376.6 187.6L188.3 187.6zM18 187.6L188.3 187.6L188.3 360.9zM174 375.2L0 375.2L0 205.6zM188.3 187.6L376.6 187.6L376.6 375.2L202.3 375.2L188.3 360.9z" fill="#4982ac"/>
<path d="M0 0L188.3 0L188.3 187.6L30.5 187.6L0 152zM188.3 0L376.6 0L376.6 187.6L188.3 187.6zM30.5 187.6L188.3 187.6L188.3 348.2zM161.2 375.2L0 375.2L0 218zM188.3 187.6L376.6 187.6L376.6 375.2L214.8 375.2L188.3 348.2z" fill="#4e89b1"/>
<path d="M0 0L188.3 0L188.3 187.6L43.1 187.6L0 137.4zM188.3 0L376.6 0L376.6 187.6L188.3 187.6zM43.1 187.6L188.3 187.6L188.3 335.4zM148.4 375.2L0 375.2L0 230.5zM188.3 187.6L376.6 187.6L376.6 375.2L227.4 375.2L188.3 335.4z" fill="#5490b7"/>
<path d="M0 0L188.3 0L188.3 187.6L55.6 187.6L0 122.8zM188.3 0L376.6 0L376.6 187.6L188.3 187.6zM55.6 187.6L188.3 187.6L188.3 322.7zM135.6 375.2L0 375.2L0 243zM188.3 187.6L376.6 187.6L376.6 375.2L239.9 375.2L188.3 322.7z" fill="#5a98bd"/>
<path d="M0 0L188.3 0L188.3 187.6L68.1 187.6L0 108.3zM188.3 0L376.6 0L376.6 187.6L188.3 187.6zM68.1 187.6L188.3 187.6L188.3 309.9zM122.8 375.2L0 375.2L0 255.5zM188.3 187.6L376.6 187.6L376.6 375.2L252.4 375.2L188.3 309.9z" fill="#5f9fc3"/>
<path d="M0 0L188.3 0L188.3 187.6L80.6 187.6L0 93.7zM188.3 0L376.6 0L376.6 187.6L188.3 187.6zM80.6 187.6L188.3 187.6L188.3 297.2zM110 375.2L0 375.2L0 267.9zM188.3 187.6L376.6 187.6L376.6 375.2L264.9 375.2L188.3 297.2z" fill="#65a7c9"/>
<path d="M0 0L188.3 0L188.3 187.6L93.1 187.6L0 79.1zM188.3 0L376.6 0L376.6 187.6L188.3 187.6zM93.1 187.6L188.3 187.6L188.3 284.5zM97.2 375.2L0 375.2L0 280.4zM188.3 187.6L376.6 187.6L376.6 375.2L277.4 375.2L188.3 284.5z" fill="#6baecf"/>
<path d="M0 0L188.3 0L188.3 187.6L105.7 187.6L0 64.5zM188.3 0L376.6 0L376.6 187.6L188.3 187.6zM105.7 187.6L188.3 187.6L188.3 271.7zM84.4 375.2L0 375.2L0 292.9zM188.3 187.6L376.6 187.6L376.6 375.2L290 375.2L188.3 271.7z" fill="#70b4d4"/>
<path d="M0 0L188.3 0L188.3 187.6L118.2 187.6L0 49.9zM188.3 0L376.6 0L376.6 187.6L188.3 187.6zM118.2 187.6L188.3 187.6L188.3 259zM71.6 375.2L0 375.2L0 305.3zM188.3 187.6L376.6 187.6L376.6 375.2L302.5 375.2L188.3 259z" fill="#75b8d7"/>
<path d="M0 0L188.3 0L188.3 187.6L130.7 187.6L0 35.3zM188.3 0L376.6 0L376.6 187.6L188.3 187.6zM130.7 187.6L188.3 187.6L188.3 246.2zM58.8 375.2L0 375.2L0 317.8zM188.3 187.6L376.6 187.6L376.6 375.2L315 375.2L188.3 246.2z" fill="#79bcd9"/>
<path d="M0 0L188.3 0L188.3 187.6L143.2 187.6L0 20.8zM188.3 0L376.6 0L376.6 187.6L188.3 187.6zM143.2 187.6L188.3 187.6L188.3 233.5zM46.1 375.2L0 375.2L0 330.3zM188.3 187.6L376.6 187.6L376.6 375.2L327.5 375.2L188.3 233.5z" fill="#7ec0dc"/>
<path d="M0 0L188.3 0L188.3 187.6L155.7 187.6L0 6.2zM188.3 0L376.6 0L376.6 187.6L188.3 187.6zM155.7 187.6L188.3 187.6L188.3 220.7zM33.3 375.2L0 375.2L0 342.8zM188.3 187.6L376.6 187.6L376.6 375.2L340 375.2L188.3 220.7z" fill="#86c5dd"/>
<path d="M70.6 0L188.3 0L188.3 187.6L168.3 187.6zM188.3 0L376.6 0L376.6 187.6L188.3 187.6zM168.3 187.6L188.3 187.6L188.3 208zM20.5 375.2L0 375.2L0 355.2zM188.3 187.6L376.6 187.6L376.6 375.2L352.6 375.2L188.3 208z" fill="#8fcadf"/>
<path d="M188.3 11.7L188.3 187.6L180.8 187.6zM188.5 0L376.6 0L376.6 187.6L188.3 187.6L188.3 11.7zM180.8 187.6L188.3 187.6L188.3 195.2zM7.7 375.2L0 375.2L0 367.7zM188.3 187.6L376.6 187.6L376.6 375.2L365.1 375.2L188.3 195.2z" fill="#97cfe0"/>
<path d="M192.8 0L376.6 0L376.6 187.6L189.8 187.6zM189.8 187.6L376.6 187.6L376.6 374.9z" fill="#9fd3e0"/>
<path d="M197.1 0L376.6 0L376.6 187.6L193.7 187.6zM193.7 187.6L376.6 187.6L376.6 371z" fill="#a6d8e0"/>
<path d="M201.4 0L376.6 0L376.6 187.6L197.6 187.6zM197.6 187.6L376.6 187.6L376.6 367.1z" fill="#aedde0"/>
<path d="M205.7 0L376.6 0L376.6 187.6L201.5 187.6zM201.5 187.6L376.6 187.6L376.6 363.2z" fill="#bae0dc"/>
<path d="M209.9 0L376.6 0L376.6 187.6L205.3 187.6zM205.3 187.6L376.6 187.6L376.6 359.4z" fill="#c8e3d7"/>
<path d="M214.2 0L376.6 0L376.6 187.6L209.2 187.6zM209.2 187.6L376.6 187.6L376.6 355.5z" fill="#d6e6d2"/>
<path d="M218.5 0L376.6 0L376.6 187.6L213.1 187.6zM213.1 187.6L376.6 187.6L376.6 351.6z" fill="#e2e9cc"/>
<path d="M222.8 0L376.6 0L376.6 187.6L216.9 187.6zM216.9 187.6L376.6 187.6L376.6 347.7z" fill="#ecebc8"/>
<path d="M227.1 0L376.6 0L376.6 187.6L220.8 187.6zM220.8 187.6L376.6 187.6L376.6 343.8z" fill="#f7edc2"/>
<path d="M231.4 0L376.6 0L376.6 187.6L224.7 187.6zM224.7 187.6L376.6 187.6L376.6 339.9z" fill="#feeebc"/>
<path d="M235.7 0L376.6 0L376.6 187.6L228.6 187.6zM228.6 187.6L376.6 187.6L376.6 336.1z" fill="#feeab0"/>
<path d="M240 0L376.6 0L376.6 187.6L232.4 187.6zM232.4 187.6L376.6 187.6L376.6 332.2z" fill="#fee6a4"/>
<path d="M244.3 0L376.6 0L376.6 187.6L236.3 187.6zM236.3 187.6L376.6 187.6L376.6 328.3z" fill="#fee299"/>
<path d="M248.6 0L376.6 0L376.6 187.6L240.2 187.6zM240.2 187.6L376.6 187.6L376.6 324.4z" fill="#fede8e"/>
<path d="M252.9 0L376.6 0L376.6 187.6L244 187.6zM244 187.6L376.6 187.6L376.6 320.5z" fill="#feda82"/>
<path d="M257.2 0L376.6 0L376.6 187.6L247.9 187.6zM247.9 187.6L376.6 187.6L376.6 316.7z" fill="#fed677"/>
<path d="M261.5 0L376.6 0L376.6 187.6L251.8 187.6zM251.8 187.6L376.6 187.6L376.6 312.8z" fill="#fed172"/>
<path d="M265.8 0L376.6 0L376.6 187.6L255.7 187.6zM255.7 187.6L376.6 187.6L376.6 308.9z" fill="#fdcc6d"/>
<path d="M270.1 0L376.6 0L376.6 187.6L259.5 187.6zM259.5 187.6L376.6 187.6L376.6 305z" fill="#fdc768"/>
<path d="M274.4 0L376.6 0L376.6 187.6L263.4 187.6zM263.4 187.6L376.6 187.6L376.6 301.1z" fill="#fcc165"/>
<path d="M278.7 0L376.6 0L376.6 187.6L267.3 187.6zM267.3 187.6L376.6 187.6L376.6 297.2z" fill="#fcbb62"/>
<path d="M283 0L376.6 0L376.6 187.6L271.1 187.6zM271.1 187.6L376.6 187.6L376.6 293.4z" fill="#fbb65f"/>
<path d="M287.3 0L376.6 0L376.6 187.6L275 187.6zM275 187.6L376.6 187.6L376.6 289.5z" fill="#fab05b"/>
<path d="M291.6 0L376.6 0L376.6 187.6L278.9 187.6zM278.9 187.6L376.6 187.6L376.6 285.6z" fill="#f9ab58"/>
<path d="M295.9 0L376.6 0L376.6 187.6L282.8 187.6zM282.8 187.6L376.6 187.6L376.6 281.7z" fill="#f9a555"/>
<path d="M300.1 0L376.6 0L376.6 187.6L286.6 187.6zM286.6 187.6L376.6 187.6L376.6 277.8z" fill="#f89f52"/>
<path d="M304.4 0L376.6 0L376.6 187.6L290.5 187.6zM290.5 187.6L376.6 187.6L376.6 273.9z" fill="#f69951"/>
<path d="M308.7 0L376.6 0L376.6 187.6L294.4 187.6zM294.4 187.6L376.6 187.6L376.6 270.1z" fill="#f5934f"/>
<path d="M313 0L376.6 0L376.6 187.6L298.2 187.6zM298.2 187.6L376.6 187.6L376.6 266.2z" fill="#f48d4d"/>
<path d="M317.3 0L376.6 0L376.6 187.6L302.1 187.6zM302.1 187.6L376.6 187.6L376.6 262.3z" fill="#f3874c"/>
<path d="M321.6 0L376.6 0L376.6 187.6L306 187.6zM306 187.6L376.6 187.6L376.6 258.4z" fill="#f1814a"/>
<path d="M325.9 0L376.6 0L376.6 187.6L309.9 187.6zM309.9 187.6L376.6 187.6L376.6 254.5z" fill="#f07b48"/>
<path d="M330.2 0L376.6 0L376.6 187.6L313.7 187.6zM313.7 187.6L376.6 187.6L376.6 250.7z" fill="#f07649"/>
<path d="M334.5 0L376.6 0L376.6 187.6L317.6 187.6zM317.6 187.6L376.6 187.6L376.6 246.8z" fill="#f0714a"/>
<path d="M338.8 0L376.6 0L376.6 187.6L321.5 187.6zM321.5 187.6L376.6 187.6L376.6 242.9z" fill="#f06c4b"/>
<path d="M343.1 0L376.6 0L376.6 187.6L325.3 187.6zM325.3 187.6L376.6 187.6L376.6 239z" fill="#ef674c"/>
<path d="M347.4 0L376.6 0L376.6 187.6L329.2 187.6zM329.2 187.6L376.6 187.6L376.6 235.1z" fill="#ef624d"/>
<path d="M351.7 0L376.6 0L376.6 187.6L333.1 187.6zM333.1 187.6L376.6 187.6L376.6 231.2z" fill="#ef5d4e"/>
<path d="M356 0L376.6 0L376.6 187.6L337 187.6zM337 187.6L376.6 187.6L376.6 227.4z" fill="#fff"/>
</g>
<g transform="translate(1565.8 1475.4)">
<path d="M0 0H376.8V375.2H0z" fill="#4e89b1"/>
<path d="M0 0L188.4 0L188.4 187.6L45.2 187.6L0 18zM188.4 0L376.8 0L376.8 187.6L188.4 187.6zM45.2 187.6L188.4 187.6L188.4 375.2L0 375.2L0 198.6zM188.4 187.6L376.8 187.6L376.8 375.2L188.4 375.2z" fill="#5490b7"/>
<path d="M41.7 0L188.4 0L188.4 187.6L105.3 187.6zM188.4 0L376.8 0L376.8 187.6L188.4 187.6zM105.3 187.6L188.4 187.6L188.4 375.2L0 375.2L0 213.2zM188.4 187.6L376.8 187.6L376.8 375.2L188.4 375.2z" fill="#5a98bd"/>
<path d="M87 0L188.4 0L188.4 187.6L165.3 187.6zM188.4 0L376.8 0L376.8 187.6L188.4 187.6zM165.3 187.6L188.4 187.6L188.4 375.2L0 375.2L0 227.8zM188.4 187.6L376.8 187.6L376.8 375.2L188.4 375.2z" fill="#5f9fc3"/>
<path d="M132.2 0L188.4 0L188.4 125.3zM188.4 0L376.8 0L376.8 187.6L188.8 187.6L188.4 125.3zM188.4 196.2L188.4 375.2L0 375.2L0 242.5zM188.8 187.6L376.8 187.6L376.8 375.2L188.4 375.2L188.4 196.2z" fill="#65a7c9"/>
<path d="M177.5 0L188.4 0L188.4 24.3zM188.4 0L376.8 0L376.8 187.6L189.6 187.6L188.4 24.3zM188.4 210L188.4 375.2L0 375.2L0 257.1zM189.6 187.6L376.8 187.6L376.8 375.2L188.4 375.2L188.4 210z" fill="#6baecf"/>
<path d="M189.5 0L376.8 0L376.8 187.6L190.3 187.6zM188.4 223.9L188.4 375.2L0 375.2L0 271.7zM190.3 187.6L376.8 187.6L376.8 375.2L188.4 375.2L188.4 223.9z" fill="#70b4d4"/>
<path d="M191 0L376.8 0L376.8 187.6L191 187.6zM188.4 237.8L188.4 375.2L0 375.2L0 286.3zM191 187.6L376.8 187.6L376.8 375.2L188.4 375.2L188.4 237.8z" fill="#75b8d7"/>
<path d="M192.4 0L376.8 0L376.8 187.6L191.7 187.6zM188.4 251.7L188.4 375.2L0 375.2L0 300.9zM191.7 187.6L376.8 187.6L376.8 375.2L188.4 375.2L188.4 251.7z" fill="#79bcd9"/>
<path d="M193.9 0L376.8 0L376.8 187.6L192.5 187.6zM188.4 265.6L188.4 375.2L0 375.2L0 315.6zM192.5 187.6L376.8 187.6L376.8 375.2L188.4 375.2L188.4 265.6z" fill="#7ec0dc"/>
<path d="M195.3 0L376.8 0L376.8 187.6L193.2 187.6zM188.4 279.5L188.4 375.2L0 375.2L0 330.2zM193.2 187.6L376.8 187.6L376.8 375.2L188.4 375.2L188.4 279.5z" fill="#86c5dd"/>
<path d="M196.8 0L376.8 0L376.8 187.6L193.9 187.6zM188.4 293.4L188.4 375.2L0 375.2L0 344.8zM193.9 187.6L376.8 187.6L376.8 375.2L188.4 375.2L188.4 293.4z" fill="#8fcadf"/>
<path d="M198.2 0L376.8 0L376.8 187.6L194.6 187.6zM188.4 307.3L188.4 375.2L0 375.2L0 359.4zM194.6 187.6L376.8 187.6L376.8 375.2L188.4 375.2L188.4 307.3z" fill="#97cfe0"/>
<path d="M199.7 0L376.8 0L376.8 187.6L195.3 187.6zM188.4 321.2L188.4 375.2L0 375.2L0 374zM195.3 187.6L376.8 187.6L376.8 375.2L188.4 375.2L188.4 321.2z" fill="#9fd3e0"/>
<path d="M201.1 0L376.8 0L376.8 187.6L196.1 187.6zM188.4 335.1L188.4 375.2L45.5 375.2zM196.1 187.6L376.8 187.6L376.8 375.2L188.4 375.2L188.4 335.1z" fill="#a6d8e0"/>
<path d="M202.6 0L376.8 0L376.8 187.6L196.8 187.6zM188.4 349L188.4 375.2L95 375.2zM196.8 187.6L376.8 187.6L376.8 375.2L188.4 375.2L188.4 349z" fill="#aedde0"/>
<path d="M204 0L376.8 0L376.8 187.6L197.5 187.6zM188.4 362.9L188.4 375.2L144.5 375.2zM197.5 187.6L376.8 187.6L376.8 375.2L188.4 375.2L188.4 362.9z" fill="#bae0dc"/>
<path d="M205.5 0L376.8 0L376.8 187.6L198.2 187.6zM198.2 187.6L376.8 187.6L376.8 375.2L188.8 375.2z" fill="#c8e3d7"/>
<path d="M206.9 0L376.8 0L376.8 187.6L198.9 187.6zM198.9 187.6L376.8 187.6L376.8 375.2L192.2 375.2z" fill="#d6e6d2"/>
<path d="M208.4 0L376.8 0L376.8 187.6L199.7 187.6zM199.7 187.6L376.8 187.6L376.8 375.2L195.6 375.2z" fill="#e2e9cc"/>
<path d="M209.8 0L376.8 0L376.8 187.6L200.4 187.6zM200.4 187.6L376.8 187.6L376.8 375.2L199 375.2z" fill="#ecebc8"/>
<path d="M211.3 0L376.8 0L376.8 187.6L201.1 187.6zM201.1 187.6L376.8 187.6L376.8 375.2L202.4 375.2z" fill="#f7edc2"/>
<path d="M212.7 0L376.8 0L376.8 187.6L201.8 187.6zM201.8 187.6L376.8 187.6L376.8 375.2L205.8 375.2z" fill="#feeebc"/>
<path d="M214.2 0L376.8 0L376.8 187.6L202.6 187.6zM202.6 187.6L376.8 187.6L376.8 375.2L209.2 375.2z" fill="#feeab0"/>
<path d="M215.6 0L376.8 0L376.8 187.6L203.3 187.6zM203.3 187.6L376.8 187.6L376.8 375.2L212.7 375.2z" fill="#fee6a4"/>
<path d="M217.1 0L376.8 0L376.8 187.6L204 187.6zM204 187.6L376.8 187.6L376.8 375.2L216.1 375.2z" fill="#fee299"/>
<path d="M218.5 0L376.8 0L376.8 187.6L204.7 187.6zM204.7 187.6L376.8 187.6L376.8 375.2L219.5 375.2z" fill="#fede8e"/>
<path d="M220 0L376.8 0L376.8 187.6L205.4 187.6zM205.4 187.6L376.8 187.6L376.8 375.2L222.9 375.2z" fill="#feda82"/>
<path d="M221.4 0L376.8 0L376.8 187.6L206.2 187.6zM206.2 187.6L376.8 187.6L376.8 375.2L226.3 375.2z" fill="#fed677"/>
<path d="M222.9 0L376.8 0L376.8 187.6L206.9 187.6zM206.9 187.6L376.8 187.6L376.8 375.2L229.7 375.2z" fill="#fed172"/>
<path d="M224.3 0L376.8 0L376.8 187.6L207.6 187.6zM207.6 187.6L376.8 187.6L376.8 375.2L233.1 375.2z" fill="#fdcc6d"/>
<path d="M225.8 0L376.8 0L376.8 187.6L208.3 187.6zM208.3 187.6L376.8 187.6L376.8 375.2L236.5 375.2z" fill="#fdc768"/>
<path d="M227.2 0L376.8 0L376.8 187.6L209.1 187.6zM209.1 187.6L376.8 187.6L376.8 375.2L239.9 375.2z" fill="#fcc165"/>
<path d="M228.7 0L376.8 0L376.8 187.6L209.8 187.6zM209.8 187.6L376.8 187.6L376.8 375.2L243.4 375.2z" fill="#fcbb62"/>
<path d="M230.1 0L376.8 0L376.8 187.6L210.5 187.6zM210.5 187.6L376.8 187.6L376.8 375.2L246.8 375.2z" fill="#fbb65f"/>
<path d="M231.6 0L376.8 0L376.8 187.6L211.2 187.6zM211.2 187.6L376.8 187.6L376.8 375.2L250.2 375.2z" fill="#fab05b"/>
<path d="M233 0L376.8 0L376.8 187.6L211.9 187.6zM211.9 187.6L376.8 187.6L376.8 375.2L253.6 375.2z" fill="#f9ab58"/>
<path d="M234.5 0L376.8 0L376.8 187.6L212.7 187.6zM212.7 187.6L376.8 187.6L376.8 375.2L257 375.2z" fill="#f9a555"/>
<path d="M235.9 0L376.8 0L376.8 187.6L213.4 187.6zM213.4 187.6L376.8 187.6L376.8 375.2L260.4 375.2z" fill="#f89f52"/>
<path d="M237.4 0L376.8 0L376.8 187.6L214.1 187.6zM214.1 187.6L376.8 187.6L376.8 375.2L263.8 375.2z" fill="#f69951"/>
<path d="M238.8 0L376.8 0L376.8 187.6L214.8 187.6zM214.8 187.6L376.8 187.6L376.8 375.2L267.2 375.2z" fill="#f5934f"/>
<path d="M240.3 0L376.8 0L376.8 187.6L215.5 187.6zM215.5 187.6L376.8 187.6L376.8 375.2L270.6 375.2z" fill="#f48d4d"/>
<path d="M241.7 0L376.8 0L376.8 187.6L216.3 187.6zM216.3 187.6L376.8 187.6L376.8 375.2L274.1 375.2z" fill="#f3874c"/>
<path d="M243.2 0L376.8 0L376.8 187.6L217 187.6zM217 187.6L376.8 187.6L376.8 375.2L277.5 375.2z" fill="#f1814a"/>
<path d="M244.6 0L376.8 0L376.8 187.6L217.7 187.6zM217.7 187.6L376.8 187.6L376.8 375.2L280.9 375.2z" fill="#f07b48"/>
<path d="M246.1 0L376.8 0L376.8 187.6L218.4 187.6zM218.4 187.6L376.8 187.6L376.8 375.2L284.3 375.2z" fill="#f07649"/>
<path d="M247.5 0L376.8 0L376.8 187.6L219.2 187.6zM219.2 187.6L376.8 187.6L376.8 375.2L287.7 375.2z" fill="#f0714a"/>
<path d="M249 0L376.8 0L376.8 187.6L219.9 187.6zM219.9 187.6L376.8 187.6L376.8 375.2L291.1 375.2z" fill="#f06c4b"/>
<path d="M250.4 0L376.8 0L376.8 187.6L220.6 187.6zM220.6 187.6L376.8 187.6L376.8 375.2L294.5 375.2z" fill="#ef674c"/>
<path d="M251.9 0L376.8 0L376.8 187.6L221.3 187.6zM221.3 187.6L376.8 187.6L376.8 375.2L297.9 375.2z" fill="#ef624d"/>
<path d="M253.3 0L376.8 0L376.8 187.6L222 187.6zM222 187.6L376.8 187.6L376.8 375.2L301.3 375.2z" fill="#ef5d4e"/>
<path d="M254.8 0L376.8 0L376.8 187.6L222.8 187.6zM222.8 187.6L376.8 187.6L376.8 375.2L304.8 375.2z" fill="#fff"/>
</g>
<g transform="translate(26.4 1958.4)">
<path d="M0 0H376.6V375.2H0z" fill="#244a78"/>
<path d="M0 0L188.3 0L188.3 187.6L0 187.6zM188.3 0L376.6 0L376.6 187.6L188.3 187.6zM0 187.6L188.3 187.6L188.3 375.2L0 375.2zM188.3 187.6L376.6 187.6L376.6 373.5L375 375.2L188.3 375.2z" fill="#274e7d"/>
<path d="M0 0L188.3 0L188.3 187.6L0 187.6zM188.3 0L376.6 0L376.6 187.6L188.3 187.6zM0 187.6L188.3 187.6L188.3 375.2L0 375.2zM188.3 187.6L376.6 187.6L376.6 367.3L369 375.2L188.3 375.2z" fill="#2a5283"/>
<path d="M0 0L188.3 0L188.3 187.6L0 187.6zM188.3 0L376.6 0L376.6 187.6L188.3 187.6zM0 187.6L188.3 187.6L188.3 375.2L0 375.2zM188.3 187.6L376.6 187.6L376.6 361.1L363 375.2L188.3 375.2z" fill="#2d5688"/>
<path d="M0 0L188.3 0L188.3 187.6L0 187.6zM188.3 0L376.6 0L376.6 187.6L188.3 187.6zM0 187.6L188.3 187.6L188.3 375.2L0 375.2zM188.3 187.6L376.6 187.6L376.6 354.9L357.1 375.2L188.3 375.2z" fill="#305a8d"/>
<path d="M0 0L188.3 0L188.3 187.6L0 187.6zM188.3 0L376.6 0L376.6 187.6L188.3 187.6zM0 187.6L188.3 187.6L188.3 375.2L0 375.2zM188.3 187.6L376.6 187.6L376.6 348.7L351.1 375.2L188.3 375.2z" fill="#335f92"/>
<path d="M0 0L188.3 0L188.3 187.6L0 187.6zM188.3 0L376.6 0L376.6 187.6L188.3 187.6zM0 187.6L188.3 187.6L188.3 375.2L0 375.2zM188.3 187.6L376.6 187.6L376.6 342.5L345.1 375.2L188.3 375.2z" fill="#376597"/>
<path d="M0 0L188.3 0L188.3 187.6L0 187.6zM188.3 0L376.6 0L376.6 187.6L188.3 187.6zM0 187.6L188.3 187.6L188.3 375.2L0 375.2zM188.3 187.6L376.6 187.6L376.6 336.3L339.2 375.2L188.3 375.2z" fill="#3b6a9b"/>
<path d="M0 0L188.3 0L188.3 187.6L0 187.6zM188.3 0L376.6 0L376.6 187.6L188.3 187.6zM0 187.6L188.3 187.6L188.3 375.2L0 375.2zM188.3 187.6L376.6 187.6L376.6 330.1L333.2 375.2L188.3 375.2z" fill="#3e709f"/>
<path d="M0 0L188.3 0L188.3 187.6L0 187.6zM188.3 0L376.6 0L376.6 187.6L188.3 187.6zM0 187.6L188.3 187.6L188.3 375.2L0 375.2zM188.3 187.6L376.6 187.6L376.6 323.9L327.2 375.2L188.3 375.2z" fill="#4276a3"/>
<path d="M0 0L188.3 0L188.3 187.6L0 187.6zM188.3 0L376.6 0L376.6 187.6L188.3 187.6zM0 187.6L188.3 187.6L188.3 375.2L0 375.2zM188.3 187.6L376.6 187.6L376.6 317.7L321.3 375.2L188.3 375.2z" fill="#457ca8"/>
<path d="M0 0L188.3 0L188.3 187.6L4.1 187.6L0 184.1zM188.3 0L376.6 0L376.6 187.6L188.3 187.6zM4.1 187.6L188.3 187.6L188.3 375.2L0 375.2L0 197.4zM188.3 187.6L376.6 187.6L376.6 311.5L315.3 375.2L188.3 375.2z" fill="#4982ac"/>
<path d="M0 0L188.3 0L188.3 187.6L10.8 187.6L0 178.2zM188.3 0L376.6 0L376.6 187.6L188.3 187.6zM10.8 187.6L188.3 187.6L188.3 375.2L0 375.2L0 213.5zM188.3 187.6L376.6 187.6L376.6 305.3L309.3 375.2L188.3 375.2z" fill="#4e89b1"/>
<path d="M0 0L188.3 0L188.3 187.6L17.5 187.6L0 172.4zM188.3 0L376.6 0L376.6 187.6L188.3 187.6zM17.5 187.6L188.3 187.6L188.3 375.2L0 375.2L0 229.6zM188.3 187.6L376.6 187.6L376.6 299.1L303.4 375.2L188.3 375.2z" fill="#5490b7"/>
<path d="M0 0L188.3 0L188.3 187.6L24.2 187.6L0 166.6zM188.3 0L376.6 0L376.6 187.6L188.3 187.6zM24.2 187.6L188.3 187.6L188.3 375.2L0 375.2L0 245.7zM188.3 187.6L376.6 187.6L376.6 293L297.4 375.2L188.3 375.2z" fill="#5a98bd"/>
<path d="M0 0L188.3 0L188.3 187.6L30.9 187.6L0 160.8zM188.3 0L376.6 0L376.6 187.6L188.3 187.6zM30.9 187.6L188.3 187.6L188.3 375.2L0 375.2L0 261.8zM188.3 187.6L376.6 187.6L376.6 286.8L291.4 375.2L188.3 375.2z" fill="#5f9fc3"/>
<path d="M0 0L188.3 0L188.3 187.6L37.6 187.6L0 155zM188.3 0L376.6 0L376.6 187.6L188.3 187.6zM37.6 187.6L188.3 187.6L188.3 375.2L0 375.2L0 277.9zM188.3 187.6L376.6 187.6L376.6 280.6L285.5 375.2L188.3 375.2z" fill="#65a7c9"/>
<path d="M0 0L188.3 0L188.3 187.6L44.3 187.6L0 149.2zM188.3 0L366.4 0L376.6 12.2L376.6 187.6L188.3 187.6zM44.3 187.6L188.3 187.6L188.3 375.2L0 375.2L0 294zM188.3 187.6L376.6 187.6L376.6 274.4L279.5 375.2L188.3 375.2z" fill="#6baecf"/>
<path d="M0 0L188.3 0L188.3 187.6L51 187.6L0 143.4zM188.3 0L355.9 0L376.6 24.8L376.6 187.6L188.3 187.6zM51 187.6L188.3 187.6L188.3 375.2L0 375.2L0 310.1zM188.3 187.6L376.6 187.6L376.6 268.2L273.5 375.2L188.3 375.2z" fill="#70b4d4"/>
<path d="M0 0L188.3 0L188.3 187.6L57.7 187.6L0 137.5zM188.3 0L345.4 0L376.6 37.3L376.6 187.6L188.3 187.6zM57.7 187.6L188.3 187.6L188.3 375.2L0 375.2L0 326.2zM188.3 187.6L376.6 187.6L376.6 262L267.6 375.2L188.3 375.2z" fill="#75b8d7"/>
<path d="M0 0L188.3 0L188.3 187.6L64.4 187.6L0 131.7zM188.3 0L335 0L376.6 49.8L376.6 187.6L188.3 187.6zM64.4 187.6L188.3 187.6L188.3 375.2L0 375.2L0 342.3zM188.3 187.6L376.6 187.6L376.6 255.8L261.6 375.2L188.3 375.2z" fill="#79bcd9"/>
<path d="M0 0L188.3 0L188.3 187.6L71.1 187.6L0 125.9zM188.3 0L324.5 0L376.6 62.3L376.6 187.6L188.3 187.6zM71.1 187.6L188.3 187.6L188.3 375.2L0 375.2L0 358.4zM188.3 187.6L376.6 187.6L376.6 249.6L255.6 375.2L188.3 375.2z" fill="#7ec0dc"/>
<path d="M0 0L188.3 0L188.3 187.6L77.8 187.6L0 120.1zM188.3 0L314 0L376.6 74.9L376.6 187.6L188.3 187.6zM77.8 187.6L188.3 187.6L188.3 375.2L0 375.2L0 374.6zM188.3 187.6L376.6 187.6L376.6 243.4L249.7 375.2L188.3 375.2z" fill="#86c5dd"/>
<path d="M0 0L188.3 0L188.3 187.6L84.5 187.6L0 114.3zM188.3 0L303.6 0L376.6 87.4L376.6 187.6L188.3 187.6zM84.5 187.6L188.3 187.6L188.3 375.2L17.7 375.2zM188.3 187.6L376.6 187.6L376.6 237.2L243.7 375.2L188.3 375.2z" fill="#8fcadf"/>
<path d="M0 0L188.3 0L188.3 187.6L91.2 187.6L0 108.5zM188.3 0L293.1 0L376.6 99.9L376.6 187.6L188.3 187.6zM91.2 187.6L188.3 187.6L188.3 375.2L36 375.2zM188.3 187.6L376.6 187.6L376.6 231L237.7 375.2L188.3 375.2z" fill="#97cfe0"/>
<path d="M0 0L188.3 0L188.3 187.6L97.9 187.6L0 102.6zM188.3 0L282.6 0L376.6 112.4L376.6 187.6L188.3 187.6zM97.9 187.6L188.3 187.6L188.3 375.2L54.4 375.2zM188.3 187.6L376.6 187.6L376.6 224.8L231.7 375.2L188.3 375.2z" fill="#9fd3e0"/>
<path d="M0 0L188.3 0L188.3 187.6L104.6 187.6L0 96.8zM188.3 0L272.1 0L376.6 125L376.6 187.6L188.3 187.6zM104.6 187.6L188.3 187.6L188.3 375.2L72.8 375.2zM188.3 187.6L376.6 187.6L376.6 218.6L225.8 375.2L188.3 375.2z" fill="#a6d8e0"/>
<path d="M0 0L188.3 0L188.3 187.6L111.3 187.6L0 91zM188.3 0L261.7 0L376.6 137.5L376.6 187.6L188.3 187.6zM111.3 187.6L188.3 187.6L188.3 375.2L91.2 375.2zM188.3 187.6L376.6 187.6L376.6 212.4L219.8 375.2L188.3 375.2z" fill="#aedde0"/>
<path d="M0 0L188.3 0L188.3 187.6L118 187.6L0 85.2zM188.3 0L251.2 0L376.6 150L376.6 187.6L188.3 187.6zM118 187.6L188.3 187.6L188.3 375.2L109.6 375.2zM188.3 187.6L376.6 187.6L376.6 206.2L213.8 375.2L188.3 375.2z" fill="#bae0dc"/>
<path d="M0 0L188.3 0L188.3 187.6L124.7 187.6L0 79.4zM188.3 0L240.7 0L376.6 162.5L376.6 187.6L188.3 187.6zM124.7 187.6L188.3 187.6L188.3 375.2L128 375.2zM188.3 187.6L376.6 187.6L376.6 200L207.9 375.2L188.3 375.2z" fill="#c8e3d7"/>
<path d="M0 0L188.3 0L188.3 187.6L131.4 187.6L0 73.6zM188.3 0L230.3 0L376.6 175.1L376.6 187.6L188.3 187.6zM131.4 187.6L188.3 187.6L188.3 375.2L146.4 375.2zM188.3 187.6L376.6 187.6L376.6 193.8L201.9 375.2L188.3 375.2z" fill="#d6e6d2"/>
<path d="M0 0L188.3 0L188.3 187.6L138.1 187.6L0 67.7zM188.3 0L219.8 0L376.6 187.6L376.6 187.6L188.3 187.6zM138.1 187.6L188.3 187.6L188.3 375.2L164.8 375.2zM188.3 187.6L376.6 187.6L376.6 187.6L195.9 375.2L188.3 375.2z" fill="#e2e9cc"/>
<path d="M0 0L188.3 0L188.3 187.6L144.8 187.6L0 61.9zM188.3 0L209.3 0L351.5 187.6L188.3 187.6zM144.8 187.6L188.3 187.6L188.3 375.2L183.2 375.2zM188.3 187.6L351.5 187.6L190 375.2L188.3 375.2z" fill="#ecebc8"/>
<path d="M0 0L188.3 0L188.3 187.6L151.5 187.6L0 56.1zM188.3 0L198.9 0L326.3 187.6L188.3 187.6zM151.5 187.6L188.3 187.6L188.3 353.4zM188.3 187.6L326.3 187.6L188.3 353.4z" fill="#f7edc2"/>
<path d="M0 0L188.3 0L188.3 187.6L158.2 187.6L0 50.3zM188.3 0L188.4 0L301.2 187.6L188.3 187.6zM158.2 187.6L188.3 187.6L188.3 323.2zM188.3 187.6L301.2 187.6L188.3 323.2z" fill="#feeebc"/>
<path d="M0 0L166.7 0L188.3 41.5L188.3 187.6L164.9 187.6L0 44.5zM276 187.6L188.3 187.6L188.3 41.5zM164.9 187.6L188.3 187.6L188.3 293zM188.3 187.6L276 187.6L188.3 293z" fill="#feeab0"/>
<path d="M0 0L144.9 0L188.3 83.4L188.3 187.6L171.6 187.6L0 38.7zM250.9 187.6L188.3 187.6L188.3 83.4zM171.6 187.6L188.3 187.6L188.3 262.8zM188.3 187.6L250.9 187.6L188.3 262.8z" fill="#fee6a4"/>
<path d="M0 0L123.1 0L188.3 125.3L188.3 187.6L178.3 187.6L0 32.8zM225.7 187.6L188.3 187.6L188.3 125.3zM178.3 187.6L188.3 187.6L188.3 232.6zM188.3 187.6L225.7 187.6L188.3 232.6z" fill="#fee299"/>
<path d="M0 0L101.3 0L188.3 167.2L188.3 187.6L185 187.6L0 27zM200.6 187.6L188.3 187.6L188.3 167.2zM185 187.6L188.3 187.6L188.3 202.3zM188.3 187.6L200.6 187.6L188.3 202.3z" fill="#fede8e"/>
<path d="M0 0L79.5 0L0 21.2z" fill="#feda82"/>
<path d="M0 0L57.7 0L0 15.4z" fill="#fed677"/>
<path d="M0 0L35.9 0L0 9.6z" fill="#fed172"/>
<path d="M0 0L14.1 0L0 3.8z" fill="#fdcc6d"/>
</g>
<g transform="translate(543.4 1958.4)">
<path d="M0 0H376.4V375.2H0z" fill="#3b6a9b"/>
<path d="M5.8 0L188.2 0L188.2 187.6L0 187.6L0 8.4zM188.2 0L376.4 0L376.4 187.6L188.2 187.6zM0 187.6L188.2 187.6L188.2 375.2L0 375.2zM188.2 187.6L376.4 187.6L376.4 375.2L188.2 375.2z" fill="#3e709f"/>
<path d="M13.3 0L188.2 0L188.2 187.6L0 187.6L0 19.2zM188.2 0L376.4 0L376.4 187.6L188.2 187.6zM0 187.6L188.2 187.6L188.2 375.2L0 375.2zM188.2 187.6L376.4 187.6L376.4 375.2L188.2 375.2z" fill="#4276a3"/>
<path d="M20.9 0L188.2 0L188.2 187.6L0 187.6L0 30zM188.2 0L376.4 0L376.4 187.6L188.2 187.6zM0 187.6L188.2 187.6L188.2 375.2L0 375.2zM188.2 187.6L376.4 187.6L376.4 375.2L188.2 375.2z" fill="#457ca8"/>
<path d="M28.4 0L188.2 0L188.2 187.6L0 187.6L0 40.8zM188.2 0L376.4 0L376.4 187.6L188.2 187.6zM0 187.6L188.2 187.6L188.2 375.2L0 375.2zM188.2 187.6L376.4 187.6L376.4 375.2L188.2 375.2z" fill="#4982ac"/>
<path d="M35.9 0L188.2 0L188.2 187.6L0 187.6L0 51.6zM188.2 0L376.4 0L376.4 187.6L188.2 187.6zM0 187.6L188.2 187.6L188.2 375.2L0 375.2zM188.2 187.6L376.4 187.6L376.4 375.2L188.2 375.2z" fill="#4e89b1"/>
<path d="M43.4 0L188.2 0L188.2 187.6L0 187.6L0 62.4zM188.2 0L376.4 0L376.4 187.6L188.2 187.6zM0 187.6L188.2 187.6L188.2 375.2L0 375.2zM188.2 187.6L376.4 187.6L376.4 375.2L188.2 375.2z" fill="#5490b7"/>
<path d="M50.9 0L188.2 0L188.2 187.6L0 187.6L0 73.2zM188.2 0L376.4 0L376.4 187.6L188.2 187.6zM0 187.6L188.2 187.6L188.2 375.2L0 375.2zM188.2 187.6L376.4 187.6L376.4 375.2L188.2 375.2z" fill="#5a98bd"/>
<path d="M58.4 0L188.2 0L188.2 187.6L0 187.6L0 84zM188.2 0L376.4 0L376.4 187.6L188.2 187.6zM0 187.6L188.2 187.6L188.2 375.2L0 375.2zM188.2 187.6L376.4 187.6L376.4 375.2L188.2 375.2z" fill="#5f9fc3"/>
<path d="M65.9 0L188.2 0L188.2 187.6L0 187.6L0 94.8zM188.2 0L376.4 0L376.4 187.6L188.2 187.6zM0 187.6L188.2 187.6L188.2 375.2L4.2 375.2L0 374.3zM188.2 187.6L376.4 187.6L376.4 375.2L188.2 375.2z" fill="#65a7c9"/>
<path d="M73.4 0L188.2 0L188.2 187.6L0 187.6L0 105.5zM188.2 0L376.4 0L376.4 187.6L188.2 187.6zM0 187.6L188.2 187.6L188.2 375.2L109.2 375.2L0 352.6zM188.2 187.6L376.4 187.6L376.4 375.2L188.2 375.2z" fill="#6baecf"/>
<path d="M80.9 0L188.2 0L188.2 187.6L0 187.6L0 116.3zM188.2 0L376.4 0L376.4 187.6L188.2 187.6zM0 187.6L188.2 187.6L188.2 271.3L0 330.9zM188.2 187.6L376.4 187.6L376.4 375.2L189.7 375.2L188.2 271.3z" fill="#70b4d4"/>
<path d="M88.5 0L188.2 0L188.2 176.9L164.7 187.6L0 187.6L0 127.1zM188.2 0L376.4 0L376.4 187.6L192.3 187.6L188.2 176.9zM0 187.6L164.7 187.6L0 309.2zM192.3 187.6L376.4 187.6L376.4 375.2L195.8 375.2z" fill="#75b8d7"/>
<path d="M96 0L188.2 0L188.2 163.6L135.3 187.6L0 187.6L0 137.9zM188.2 0L376.4 0L376.4 187.6L197.5 187.6L188.2 163.6zM0 187.6L135.3 187.6L0 287.5zM197.5 187.6L376.4 187.6L376.4 375.2L201.9 375.2z" fill="#79bcd9"/>
<path d="M103.5 0L188.2 0L188.2 150.3L105.9 187.6L0 187.6L0 148.7zM188.2 0L376.4 0L376.4 187.6L202.6 187.6L188.2 150.3zM0 187.6L105.9 187.6L0 265.8zM202.6 187.6L376.4 187.6L376.4 375.2L208 375.2z" fill="#7ec0dc"/>
<path d="M111 0L188.2 0L188.2 137L76.5 187.6L0 187.6L0 159.5zM188.2 0L376.4 0L376.4 187.6L207.8 187.6L188.2 137zM0 187.6L76.5 187.6L0 244.1zM207.8 187.6L376.4 187.6L376.4 375.2L214 375.2z" fill="#86c5dd"/>
<path d="M118.5 0L188.2 0L188.2 123.6L47.1 187.6L0 187.6L0 170.3zM188.2 0L376.4 0L376.4 187.6L213 187.6L188.2 123.6zM0 187.6L47.1 187.6L0 222.3zM213 187.6L376.4 187.6L376.4 375.2L220.1 375.2z" fill="#8fcadf"/>
<path d="M126 0L188.2 0L188.2 110.3L17.6 187.6L0 187.6L0 181.1zM188.2 0L376.4 0L376.4 187.6L218.1 187.6L188.2 110.3zM0 187.6L17.6 187.6L0 200.6zM218.1 187.6L376.4 187.6L376.4 375.2L226.2 375.2z" fill="#97cfe0"/>
<path d="M133.5 0L188.2 0L188.2 97zM188.2 0L376.4 0L376.4 187.6L223.3 187.6L188.2 97zM223.3 187.6L376.4 187.6L376.4 375.2L232.3 375.2z" fill="#9fd3e0"/>
<path d="M141 0L188.2 0L188.2 83.7zM188.2 0L376.4 0L376.4 187.6L228.4 187.6L188.2 83.7zM228.4 187.6L376.4 187.6L376.4 375.2L238.4 375.2z" fill="#a6d8e0"/>
<path d="M148.5 0L188.2 0L188.2 70.3zM188.2 0L376.4 0L376.4 187.6L233.6 187.6L188.2 70.3zM233.6 187.6L376.4 187.6L376.4 375.2L244.4 375.2z" fill="#aedde0"/>
<path d="M156.1 0L188.2 0L188.2 57zM188.2 0L376.4 0L376.4 187.6L238.8 187.6L188.2 57zM238.8 187.6L376.4 187.6L376.4 375.2L250.5 375.2z" fill="#bae0dc"/>
<path d="M163.6 0L188.2 0L188.2 43.7zM188.2 0L376.4 0L376.4 187.6L243.9 187.6L188.2 43.7zM243.9 187.6L376.4 187.6L376.4 375.2L256.6 375.2z" fill="#c8e3d7"/>
<path d="M171.1 0L188.2 0L188.2 30.4zM188.2 0L376.4 0L376.4 187.6L249.1 187.6L188.2 30.4zM249.1 187.6L376.4 187.6L376.4 375.2L262.7 375.2z" fill="#d6e6d2"/>
<path d="M178.6 0L188.2 0L188.2 17.1zM188.2 0L376.4 0L376.4 187.6L254.2 187.6L188.2 17.1zM254.2 187.6L376.4 187.6L376.4 375.2L268.8 375.2z" fill="#e2e9cc"/>
<path d="M186.1 0L188.2 0L188.2 3.7zM188.2 0L376.4 0L376.4 187.6L259.4 187.6L188.2 3.7zM259.4 187.6L376.4 187.6L376.4 375.2L274.9 375.2z" fill="#ecebc8"/>
<path d="M192.7 0L376.4 0L376.4 187.6L264.6 187.6zM264.6 187.6L376.4 187.6L376.4 375.2L280.9 375.2z" fill="#f7edc2"/>
<path d="M199 0L376.4 0L376.4 187.6L269.7 187.6zM269.7 187.6L376.4 187.6L376.4 375.2L287 375.2z" fill="#feeebc"/>
<path d="M205.2 0L376.4 0L376.4 187.6L274.9 187.6zM274.9 187.6L376.4 187.6L376.4 375.2L293.1 375.2z" fill="#feeab0"/>
<path d="M211.5 0L376.4 0L376.4 187.6L280 187.6zM280 187.6L376.4 187.6L376.4 375.2L299.2 375.2z" fill="#fee6a4"/>
<path d="M217.7 0L376.4 0L376.4 187.6L285.2 187.6zM285.2 187.6L376.4 187.6L376.4 375.2L305.3 375.2z" fill="#fee299"/>
<path d="M224 0L376.4 0L376.4 187.6L290.3 187.6zM290.3 187.6L376.4 187.6L376.4 375.2L311.3 375.2z" fill="#fede8e"/>
<path d="M230.2 0L376.4 0L376.4 187.6L295.5 187.6zM295.5 187.6L376.4 187.6L376.4 375.2L317.4 375.2z" fill="#feda82"/>
<path d="M236.5 0L376.4 0L376.4 187.6L300.7 187.6zM300.7 187.6L376.4 187.6L376.4 375.2L323.5 375.2z" fill="#fed677"/>
<path d="M242.8 0L376.4 0L376.4 187.6L305.8 187.6zM305.8 187.6L376.4 187.6L376.4 375.2L329.6 375.2z" fill="#fed172"/>
<path d="M249 0L376.4 0L376.4 187.6L311 187.6zM311 187.6L376.4 187.6L376.4 375.2L335.7 375.2z" fill="#fdcc6d"/>
<path d="M255.3 0L376.4 0L376.4 187.6L316.1 187.6zM316.1 187.6L376.4 187.6L376.4 375.2L341.8 375.2z" fill="#fdc768"/>
<path d="M261.5 0L376.4 0L376.4 187.6L321.3 187.6zM321.3 187.6L376.4 187.6L376.4 375.2L347.8 375.2z" fill="#fcc165"/>
<path d="M267.8 0L376.4 0L376.4 187.6L326.5 187.6zM326.5 187.6L376.4 187.6L376.4 375.2L353.9 375.2z" fill="#fcbb62"/>
<path d="M274 0L376.4 0L376.4 187.6L331.6 187.6zM331.6 187.6L376.4 187.6L376.4 375.2L360 375.2z" fill="#fbb65f"/>
<path d="M280.3 0L376.4 0L376.4 187.6L336.8 187.6zM336.8 187.6L376.4 187.6L376.4 375.2L366.1 375.2z" fill="#fab05b"/>
<path d="M286.6 0L376.4 0L376.4 187.6L341.9 187.6zM341.9 187.6L376.4 187.6L376.4 375.2L372.2 375.2z" fill="#f9ab58"/>
<path d="M292.8 0L376.4 0L376.4 187.6L347.1 187.6zM347.1 187.6L376.4 187.6L376.4 365.7z" fill="#f9a555"/>
<path d="M299.1 0L376.4 0L376.4 187.6L352.3 187.6zM352.3 187.6L376.4 187.6L376.4 334.3z" fill="#f89f52"/>
<path d="M305.3 0L376.4 0L376.4 187.6L357.4 187.6zM357.4 187.6L376.4 187.6L376.4 303z" fill="#f69951"/>
<path d="M311.6 0L376.4 0L376.4 187.6L362.6 187.6zM362.6 187.6L376.4 187.6L376.4 271.6z" fill="#f5934f"/>
<path d="M317.8 0L376.4 0L376.4 187.6L367.7 187.6zM367.7 187.6L376.4 187.6L376.4 240.3z" fill="#f48d4d"/>
<path d="M324.1 0L376.4 0L376.4 187.6L372.9 187.6zM372.9 187.6L376.4 187.6L376.4 208.9z" fill="#f3874c"/>
<path d="M330.4 0L376.4 0L376.4 179.8z" fill="#f1814a"/>
<path d="M336.6 0L376.4 0L376.4 155.4z" fill="#f07b48"/>
<path d="M342.9 0L376.4 0L376.4 130.9z" fill="#f07649"/>
<path d="M349.1 0L376.4 0L376.4 106.5z" fill="#f0714a"/>
<path d="M355.4 0L376.4 0L376.4 82.1z" fill="#f06c4b"/>
<path d="M361.6 0L376.4 0L376.4 57.6z" fill="#ef674c"/>
<path d="M367.9 0L376.4 0L376.4 33.2z" fill="#ef624d"/>
<path d="M374.1 0L376.4 0L376.4 8.8z" fill="#ef5d4e"/>
</g>
<g transform="translate(1061.4 1958.4)">
<path d="M0 0H376.6V375.2H0z" fill="#70b4d4"/>
<path d="M0 0L188.3 0L188.3 187.6L0 187.6zM188.3 0L376.6 0L376.6 187.6L188.3 187.6zM0 187.6L188.3 187.6L188.3 375.2L0 375.2zM188.3 187.6L376.6 187.6L376.6 373.2L369.6 375.2L188.3 375.2z" fill="#75b8d7"/>
<path d="M0 0L188.3 0L188.3 187.6L0 187.6zM188.3 0L376.6 0L376.6 187.6L188.3 187.6zM0 187.6L188.3 187.6L188.3 375.2L0 375.2zM188.3 187.6L376.6 187.6L376.6 370.7L360.9 375.2L188.3 375.2z" fill="#79bcd9"/>
<path d="M0 0L188.3 0L188.3 187.6L0 187.6zM188.3 0L376.6 0L376.6 187.6L188.3 187.6zM0 187.6L188.3 187.6L188.3 375.2L0 375.2zM188.3 187.6L376.6 187.6L376.6 368.2L352.2 375.2L188.3 375.2z" fill="#7ec0dc"/>
<path d="M0 0L188.3 0L188.3 187.6L0 187.6zM188.3 0L376.6 0L376.6 187.6L188.3 187.6zM0 187.6L188.3 187.6L188.3 375.2L0 375.2zM188.3 187.6L376.6 187.6L376.6 365.7L343.5 375.2L188.3 375.2z" fill="#86c5dd"/>
<path d="M0 0L153 0L188.3 9.5L188.3 187.6L0 187.6zM190 0L376.6 0L376.6 187.6L188.3 187.6L188.3 9.5zM0 187.6L188.3 187.6L188.3 375.2L0 375.2zM188.3 187.6L376.6 187.6L376.6 363.2L334.8 375.2L188.3 375.2z" fill="#8fcadf"/>
<path d="M0 0L116.2 0L188.3 19.5L188.3 187.6L0 187.6zM191.8 0L376.6 0L376.6 187.6L188.3 187.6L188.3 19.5zM0 187.6L188.3 187.6L188.3 375.2L0 375.2zM188.3 187.6L376.6 187.6L376.6 360.7L326.1 375.2L188.3 375.2z" fill="#97cfe0"/>
<path d="M0 158.3L0 0L79.4 0zM188.3 29.4L188.3 187.6L4.6 187.6zM193.7 0L376.6 0L376.6 187.6L188.3 187.6L188.3 29.4zM4.6 187.6L188.3 187.6L188.3 375.2L0 375.2L0 192.8zM188.3 187.6L376.6 187.6L376.6 358.2L317.4 375.2L188.3 375.2z" fill="#9fd3e0"/>
<path d="M0 85L0 0L42.7 0zM188.3 39.3L188.3 187.6L16.2 187.6zM195.5 0L376.6 0L376.6 187.6L188.3 187.6L188.3 39.3zM16.2 187.6L188.3 187.6L188.3 375.2L0 375.2L0 205.8zM188.3 187.6L376.6 187.6L376.6 355.7L308.7 375.2L188.3 375.2z" fill="#a6d8e0"/>
<path d="M0 11.7L0 0L5.9 0zM188.3 49.3L188.3 187.6L27.7 187.6zM197.3 0L376.6 0L376.6 187.6L188.3 187.6L188.3 49.3zM27.7 187.6L188.3 187.6L188.3 375.2L0 375.2L0 218.9zM188.3 187.6L376.6 187.6L376.6 353.2L300 375.2L188.3 375.2z" fill="#aedde0"/>
<path d="M188.3 59.2L188.3 187.6L39.2 187.6zM199.1 0L376.6 0L376.6 187.6L188.3 187.6L188.3 59.2zM39.2 187.6L188.3 187.6L188.3 375.2L0 375.2L0 231.9zM188.3 187.6L376.6 187.6L376.6 350.8L291.3 375.2L188.3 375.2z" fill="#bae0dc"/>
<path d="M188.3 69.2L188.3 187.6L50.8 187.6zM200.9 0L376.6 0L376.6 187.6L188.3 187.6L188.3 69.2zM50.8 187.6L188.3 187.6L188.3 375.2L0 375.2L0 244.9zM188.3 187.6L376.6 187.6L376.6 348.3L282.6 375.2L188.3 375.2z" fill="#c8e3d7"/>
<path d="M188.3 79.1L188.3 187.6L62.3 187.6zM202.7 0L376.6 0L376.6 187.6L188.3 187.6L188.3 79.1zM62.3 187.6L188.3 187.6L188.3 375.2L0 375.2L0 257.9zM188.3 187.6L376.6 187.6L376.6 345.8L273.9 375.2L188.3 375.2z" fill="#d6e6d2"/>
<path d="M188.3 89L188.3 187.6L73.8 187.6zM204.5 0L376.6 0L376.6 187.6L188.3 187.6L188.3 89zM73.8 187.6L188.3 187.6L188.3 375.2L0 375.2L0 271zM188.3 187.6L376.6 187.6L376.6 343.3L265.2 375.2L188.3 375.2z" fill="#e2e9cc"/>
<path d="M188.3 99L188.3 187.6L85.4 187.6zM206.3 0L376.6 0L376.6 187.6L188.3 187.6L188.3 99zM85.4 187.6L188.3 187.6L188.3 375.2L0 375.2L0 284zM188.3 187.6L376.6 187.6L376.6 340.8L256.5 375.2L188.3 375.2z" fill="#ecebc8"/>
<path d="M188.3 108.9L188.3 187.6L96.9 187.6zM208.1 0L376.6 0L376.6 187.6L188.3 187.6L188.3 108.9zM96.9 187.6L188.3 187.6L188.3 375.2L0 375.2L0 297zM188.3 187.6L376.6 187.6L376.6 338.3L247.8 375.2L188.3 375.2z" fill="#f7edc2"/>
<path d="M188.3 118.8L188.3 187.6L108.5 187.6zM210 0L376.6 0L376.6 187.6L188.3 187.6L188.3 118.8zM108.5 187.6L188.3 187.6L188.3 375.2L0 375.2L0 310.1zM188.3 187.6L376.6 187.6L376.6 335.8L239.1 375.2L188.3 375.2z" fill="#feeebc"/>
<path d="M188.3 128.8L188.3 187.6L120 187.6zM211.8 0L376.6 0L376.6 187.6L188.3 187.6L188.3 128.8zM120 187.6L188.3 187.6L188.3 375.2L0 375.2L0 323.1zM188.3 187.6L376.6 187.6L376.6 333.3L230.4 375.2L188.3 375.2z" fill="#feeab0"/>
<path d="M188.3 138.7L188.3 187.6L131.5 187.6zM213.6 0L376.6 0L376.6 187.6L188.3 187.6L188.3 138.7zM131.5 187.6L188.3 187.6L188.3 375.2L0 375.2L0 336.1zM188.3 187.6L376.6 187.6L376.6 330.8L221.7 375.2L188.3 375.2z" fill="#fee6a4"/>
<path d="M188.3 148.6L188.3 187.6L143.1 187.6zM215.4 0L376.6 0L376.6 187.6L188.3 187.6L188.3 148.6zM143.1 187.6L188.3 187.6L188.3 375.2L0 375.2L0 349.1zM188.3 187.6L376.6 187.6L376.6 328.3L213 375.2L188.3 375.2z" fill="#fee299"/>
<path d="M188.3 158.6L188.3 187.6L154.6 187.6zM217.2 0L376.6 0L376.6 187.6L188.3 187.6L188.3 158.6zM154.6 187.6L188.3 187.6L188.3 375.2L0 375.2L0 362.2zM188.3 187.6L376.6 187.6L376.6 325.8L204.2 375.2L188.3 375.2z" fill="#fede8e"/>
<path d="M188.3 168.5L188.3 187.6L166.1 187.6zM219 0L376.6 0L376.6 187.6L188.3 187.6L188.3 168.5zM166.1 187.6L188.3 187.6L188.3 375.2L0 375.2L0 375.2zM188.3 187.6L376.6 187.6L376.6 323.3L195.5 375.2L188.3 375.2z" fill="#feda82"/>
<path d="M188.3 178.5L188.3 187.6L177.7 187.6zM220.8 0L376.6 0L376.6 187.6L188.3 187.6L188.3 178.5zM177.7 187.6L188.3 187.6L188.3 346.2zM188.3 187.6L376.6 187.6L376.6 320.8L188.3 346.2z" fill="#fed677"/>
<path d="M222.6 0L376.6 0L376.6 187.6L188.6 187.6zM188.6 187.6L376.6 187.6L376.6 318.3z" fill="#fed172"/>
<path d="M224.4 0L376.6 0L376.6 187.6L192.2 187.6zM192.2 187.6L376.6 187.6L376.6 315.8z" fill="#fdcc6d"/>
<path d="M226.2 0L376.6 0L376.6 187.6L195.8 187.6zM195.8 187.6L376.6 187.6L376.6 313.3z" fill="#fdc768"/>
<path d="M228.1 0L376.6 0L376.6 187.6L199.4 187.6zM199.4 187.6L376.6 187.6L376.6 310.8z" fill="#fcc165"/>
<path d="M229.9 0L376.6 0L376.6 187.6L202.9 187.6zM202.9 187.6L376.6 187.6L376.6 308.3z" fill="#fcbb62"/>
<path d="M231.7 0L376.6 0L376.6 187.6L206.5 187.6zM206.5 187.6L376.6 187.6L376.6 305.8z" fill="#fbb65f"/>
<path d="M233.5 0L376.6 0L376.6 187.6L210.1 187.6zM210.1 187.6L376.6 187.6L376.6 303.4z" fill="#fab05b"/>
<path d="M235.3 0L376.6 0L376.6 187.6L213.7 187.6zM213.7 187.6L376.6 187.6L376.6 300.9z" fill="#f9ab58"/>
<path d="M237.1 0L376.6 0L376.6 187.6L217.3 187.6zM217.3 187.6L376.6 187.6L376.6 298.4z" fill="#f9a555"/>
<path d="M238.9 0L376.6 0L376.6 187.6L220.9 187.6zM220.9 187.6L376.6 187.6L376.6 295.9z" fill="#f89f52"/>
<path d="M240.7 0L376.6 0L376.6 187.6L224.5 187.6zM224.5 187.6L376.6 187.6L376.6 293.4z" fill="#f69951"/>
<path d="M242.5 0L376.6 0L376.6 187.6L228.1 187.6zM228.1 187.6L376.6 187.6L376.6 290.9z" fill="#f5934f"/>
<path d="M244.4 0L376.6 0L376.6 187.6L231.6 187.6zM231.6 187.6L376.6 187.6L376.6 288.4z" fill="#f48d4d"/>
<path d="M246.2 0L376.6 0L376.6 187.6L235.2 187.6zM235.2 187.6L376.6 187.6L376.6 285.9z" fill="#f3874c"/>
<path d="M248 0L376.6 0L376.6 187.6L238.8 187.6zM238.8 187.6L376.6 187.6L376.6 283.4z" fill="#f1814a"/>
<path d="M249.8 0L376.6 0L376.6 187.6L242.4 187.6zM242.4 187.6L376.6 187.6L376.6 280.9z" fill="#f07b48"/>
<path d="M251.6 0L376.6 0L376.6 187.6L246 187.6zM246 187.6L376.6 187.6L376.6 278.4z" fill="#f07649"/>
<path d="M253.4 0L376.6 0L376.6 187.6L249.6 187.6zM249.6 187.6L376.6 187.6L376.6 275.9z" fill="#f0714a"/>
<path d="M255.2 0L376.6 0L376.6 187.6L253.2 187.6zM253.2 187.6L376.6 187.6L376.6 273.4z" fill="#f06c4b"/>
<path d="M257 0L376.6 0L376.6 187.6L256.8 187.6zM256.8 187.6L376.6 187.6L376.6 270.9z" fill="#ef674c"/>
<path d="M258.8 0L376.6 0L376.6 187.6L260.3 187.6zM260.3 187.6L376.6 187.6L376.6 268.4z" fill="#ef624d"/>
<path d="M260.7 0L376.6 0L376.6 187.6L263.9 187.6zM263.9 187.6L376.6 187.6L376.6 265.9z" fill="#ef5d4e"/>
<path d="M262.5 0L376.6 0L376.6 187.6L267.5 187.6zM267.5 187.6L376.6 187.6L376.6 263.4z" fill="#fff"/>
</g>
<g transform="translate(1565.8 1958.4)">
<path d="M0 0H376.8V375.2H0z" fill="#4e89b1"/>
<path d="M0 0L188.4 0L188.4 187.6L45.2 187.6L0 18zM188.4 0L376.8 0L376.8 187.6L188.4 187.6zM45.2 187.6L188.4 187.6L188.4 375.2L0 375.2L0 198.6zM188.4 187.6L376.8 187.6L376.8 375.2L188.4 375.2z" fill="#5490b7"/>
<path d="M41.7 0L188.4 0L188.4 187.6L105.3 187.6zM188.4 0L376.8 0L376.8 187.6L188.4 187.6zM105.3 187.6L188.4 187.6L188.4 375.2L0 375.2L0 213.2zM188.4 187.6L376.8 187.6L376.8 375.2L188.4 375.2z" fill="#5a98bd"/>
<path d="M87 0L188.4 0L188.4 187.6L165.3 187.6zM188.4 0L376.8 0L376.8 187.6L188.4 187.6zM165.3 187.6L188.4 187.6L188.4 375.2L0 375.2L0 227.8zM188.4 187.6L376.8 187.6L376.8 375.2L188.4 375.2z" fill="#5f9fc3"/>
<path d="M132.2 0L188.4 0L188.4 125.3zM188.4 0L376.8 0L376.8 187.6L188.8 187.6L188.4 125.3zM188.4 196.2L188.4 375.2L0 375.2L0 242.5zM188.8 187.6L376.8 187.6L376.8 375.2L188.4 375.2L188.4 196.2z" fill="#65a7c9"/>
<path d="M177.5 0L188.4 0L188.4 24.3zM188.4 0L376.8 0L376.8 187.6L189.6 187.6L188.4 24.3zM188.4 210L188.4 375.2L0 375.2L0 257.1zM189.6 187.6L376.8 187.6L376.8 375.2L188.4 375.2L188.4 210z" fill="#6baecf"/>
<path d="M189.5 0L376.8 0L376.8 187.6L190.3 187.6zM188.4 223.9L188.4 375.2L0 375.2L0 271.7zM190.3 187.6L376.8 187.6L376.8 375.2L188.4 375.2L188.4 223.9z" fill="#70b4d4"/>
<path d="M191 0L376.8 0L376.8 187.6L191 187.6zM188.4 237.8L188.4 375.2L0 375.2L0 286.3zM191 187.6L376.8 187.6L376.8 375.2L188.4 375.2L188.4 237.8z" fill="#75b8d7"/>
<path d="M192.4 0L376.8 0L376.8 187.6L191.7 187.6zM188.4 251.7L188.4 375.2L0 375.2L0 300.9zM191.7 187.6L376.8 187.6L376.8 375.2L188.4 375.2L188.4 251.7z" fill="#79bcd9"/>
<path d="M193.9 0L376.8 0L376.8 187.6L192.5 187.6zM188.4 265.6L188.4 375.2L0 375.2L0 315.6zM192.5 187.6L376.8 187.6L376.8 375.2L188.4 375.2L188.4 265.6z" fill="#7ec0dc"/>
<path d="M195.3 0L376.8 0L376.8 187.6L193.2 187.6zM188.4 279.5L188.4 375.2L0 375.2L0 330.2zM193.2 187.6L376.8 187.6L376.8 375.2L188.4 375.2L188.4 279.5z" fill="#86c5dd"/>
<path d="M196.8 0L376.8 0L376.8 187.6L193.9 187.6zM188.4 293.4L188.4 375.2L0 375.2L0 344.8zM193.9 187.6L376.8 187.6L376.8 375.2L188.4 375.2L188.4 293.4z" fill="#8fcadf"/>
<path d="M198.2 0L376.8 0L376.8 187.6L194.6 187.6zM188.4 307.3L188.4 375.2L0 375.2L0 359.4zM194.6 187.6L376.8 187.6L376.8 375.2L188.4 375.2L188.4 307.3z" fill="#97cfe0"/>
<path d="M199.7 0L376.8 0L376.8 187.6L195.3 187.6zM188.4 321.2L188.4 375.2L0 375.2L0 374zM195.3 187.6L376.8 187.6L376.8 375.2L188.4 375.2L188.4 321.2z" fill="#9fd3e0"/>
<path d="M201.1 0L376.8 0L376.8 187.6L196.1 187.6zM188.4 335.1L188.4 375.2L45.5 375.2zM196.1 187.6L376.8 187.6L376.8 375.2L188.4 375.2L188.4 335.1z" fill="#a6d8e0"/>
<path d="M202.6 0L376.8 0L376.8 187.6L196.8 187.6zM188.4 349L188.4 375.2L95 375.2zM196.8 187.6L376.8 187.6L376.8 375.2L188.4 375.2L188.4 349z" fill="#aedde0"/>
<path d="M204 0L376.8 0L376.8 187.6L197.5 187.6zM188.4 362.9L188.4 375.2L144.5 375.2zM197.5 187.6L376.8 187.6L376.8 375.2L188.4 375.2L188.4 362.9z" fill="#bae0dc"/>
<path d="M205.5 0L376.8 0L376.8 187.6L198.2 187.6zM198.2 187.6L376.8 187.6L376.8 375.2L188.8 375.2z" fill="#c8e3d7"/>
<path d="M206.9 0L376.8 0L376.8 187.6L198.9 187.6zM198.9 187.6L376.8 187.6L376.8 375.2L192.2 375.2z" fill="#d6e6d2"/>
<path d="M208.4 0L376.8 0L376.8 187.6L199.7 187.6zM199.7 187.6L376.8 187.6L376.8 375.2L195.6 375.2z" fill="#e2e9cc"/>
<path d="M209.8 0L376.8 0L376.8 187.6L200.4 187.6zM200.4 187.6L376.8 187.6L376.8 375.2L199 375.2z" fill="#ecebc8"/>
<path d="M211.3 0L376.8 0L376.8 187.6L201.1 187.6zM201.1 187.6L376.8 187.6L376.8 375.2L202.4 375.2z" fill="#f7edc2"/>
<path d="M212.7 0L376.8 0L376.8 187.6L201.8 187.6zM201.8 187.6L376.8 187.6L376.8 375.2L205.8 375.2z" fill="#feeebc"/>
<path d="M214.2 0L376.8 0L376.8 187.6L202.6 187.6zM202.6 187.6L376.8 187.6L376.8 375.2L209.2 375.2z" fill="#feeab0"/>
<path d="M215.6 0L376.8 0L376.8 187.6L203.3 187.6zM203.3 187.6L376.8 187.6L376.8 375.2L212.7 375.2z" fill="#fee6a4"/>
<path d="M217.1 0L376.8 0L376.8 187.6L204 187.6zM204 187.6L376.8 187.6L376.8 375.2L216.1 375.2z" fill="#fee299"/>
<path d="M218.5 0L376.8 0L376.8 187.6L204.7 187.6zM204.7 187.6L376.8 187.6L376.8 375.2L219.5 375.2z" fill="#fede8e"/>
<path d="M220 0L376.8 0L376.8 187.6L205.4 187.6zM205.4 187.6L376.8 187.6L376.8 375.2L222.9 375.2z" fill="#feda82"/>
<path d="M221.4 0L376.8 0L376.8 187.6L206.2 187.6zM206.2 187.6L376.8 187.6L376.8 375.2L226.3 375.2z" fill="#fed677"/>
<path d="M222.9 0L376.8 0L376.8 187.6L206.9 187.6zM206.9 187.6L376.8 187.6L376.8 375.2L229.7 375.2z" fill="#fed172"/>
<path d="M224.3 0L376.8 0L376.8 187.6L207.6 187.6zM207.6 187.6L376.8 187.6L376.8 375.2L233.1 375.2z" fill="#fdcc6d"/>
<path d="M225.8 0L376.8 0L376.8 187.6L208.3 187.6zM208.3 187.6L376.8 187.6L376.8 375.2L236.5 375.2z" fill="#fdc768"/>
<path d="M227.2 0L376.8 0L376.8 187.6L209.1 187.6zM209.1 187.6L376.8 187.6L376.8 375.2L239.9 375.2z" fill="#fcc165"/>
<path d="M228.7 0L376.8 0L376.8 187.6L209.8 187.6zM209.8 187.6L376.8 187.6L376.8 375.2L243.4 375.2z" fill="#fcbb62"/>
<path d="M230.1 0L376.8 0L376.8 187.6L210.5 187.6zM210.5 187.6L376.8 187.6L376.8 375.2L246.8 375.2z" fill="#fbb65f"/>
<path d="M231.6 0L376.8 0L376.8 187.6L211.2 187.6zM211.2 187.6L376.8 187.6L376.8 375.2L250.2 375.2z" fill="#fab05b"/>
<path d="M233 0L376.8 0L376.8 187.6L211.9 187.6zM211.9 187.6L376.8 187.6L376.8 375.2L253.6 375.2z" fill="#f9ab58"/>
<path d="M234.5 0L376.8 0L376.8 187.6L212.7 187.6zM212.7 187.6L376.8 187.6L376.8 375.2L257 375.2z" fill="#f9a555"/>
<path d="M235.9 0L376.8 0L376.8 187.6L213.4 187.6zM213.4 187.6L376.8 187.6L376.8 375.2L260.4 375.2z" fill="#f89f52"/>
<path d="M237.4 0L376.8 0L376.8 187.6L214.1 187.6zM214.1 187.6L376.8 187.6L376.8 375.2L263.8 375.2z" fill="#f69951"/>
<path d="M238.8 0L376.8 0L376.8 187.6L214.8 187.6zM214.8 187.6L376.8 187.6L376.8 375.2L267.2 375.2z" fill="#f5934f"/>
<path d="M240.3 0L376.8 0L376.8 187.6L215.5 187.6zM215.5 187.6L376.8 187.6L376.8 375.2L270.6 375.2z" fill="#f48d4d"/>
<path d="M241.7 0L376.8 0L376.8 187.6L216.3 187.6zM216.3 187.6L376.8 187.6L376.8 375.2L274.1 375.2z" fill="#f3874c"/>
<path d="M243.2 0L376.8 0L376.8 187.6L217 187.6zM217 187.6L376.8 187.6L376.8 375.2L277.5 375.2z" fill="#f1814a"/>
<path d="M244.6 0L376.8 0L376.8 187.6L217.7 187.6zM217.7 187.6L376.8 187.6L376.8 375.2L280.9 375.2z" fill="#f07b48"/>
<path d="M246.1 0L376.8 0L376.8 187.6L218.4 187.6zM218.4 187.6L376.8 187.6L376.8 375.2L284.3 375.2z" fill="#f07649"/>
<path d="M247.5 0L376.8 0L376.8 187.6L219.2 187.6zM219.2 187.6L376.8 187.6L376.8 375.2L287.7 375.2z" fill="#f0714a"/>
<path d="M249 0L376.8 0L376.8 187.6L219.9 187.6zM219.9 187.6L376.8 187.6L376.8 375.2L291.1 375.2z" fill="#f06c4b"/>
<path d="M250.4 0L376.8 0L376.8 187.6L220.6 187.6zM220.6 187.6L376.8 187.6L376.8 375.2L294.5 375.2z" fill="#ef674c"/>
<path d="M251.9 0L376.8 0L376.8 187.6L221.3 187.6zM221.3 187.6L376.8 187.6L376.8 375.2L297.9 375.2z" fill="#ef624d"/>
<path d="M253.3 0L376.8 0L376.8 187.6L222 187.6zM222 187.6L376.8 187.6L376.8 375.2L301.3 375.2z" fill="#ef5d4e"/>
<path d="M254.8 0L376.8 0L376.8 187.6L222.8 187.6zM222.8 187.6L376.8 187.6L376.8 375.2L304.8 375.2z" fill="#fff"/>
</g>
<g transform="translate(26.4 2442.1)">
<path d="M0 0H376.6V375.2H0z" fill="#457ca8"/>
<path d="M0 0L188.3 0L188.3 187.6L7.1 187.6L0 181.7zM188.3 0L376.6 0L376.6 187.6L188.3 187.6zM7.1 187.6L188.3 187.6L188.3 375.2L0 375.2L0 202zM188.3 187.6L376.6 187.6L376.6 375.2L188.3 375.2z" fill="#4982ac"/>
<path d="M0 0L188.3 0L188.3 187.6L15.2 187.6L0 174.8zM188.3 0L376.6 0L376.6 187.6L188.3 187.6zM15.2 187.6L188.3 187.6L188.3 375.2L0 375.2L0 218.6zM188.3 187.6L376.6 187.6L376.6 375.2L188.3 375.2z" fill="#4e89b1"/>
<path d="M0 0L188.3 0L188.3 187.6L23.4 187.6L0 167.9zM188.3 0L376.6 0L376.6 187.6L188.3 187.6zM23.4 187.6L188.3 187.6L188.3 375.2L0 375.2L0 235.3zM188.3 187.6L376.6 187.6L376.6 375.2L188.3 375.2z" fill="#5490b7"/>
<path d="M0 0L188.3 0L188.3 187.6L31.6 187.6L0 161zM188.3 0L376.6 0L376.6 187.6L188.3 187.6zM31.6 187.6L188.3 187.6L188.3 375.2L0 375.2L0 252zM188.3 187.6L376.6 187.6L376.6 375.2L188.3 375.2z" fill="#5a98bd"/>
<path d="M0 0L188.3 0L188.3 187.6L39.8 187.6L0 154.1zM188.3 0L376.6 0L376.6 187.6L188.3 187.6zM39.8 187.6L188.3 187.6L188.3 365.8zM163.7 375.2L0 375.2L0 268.6zM188.3 187.6L376.6 187.6L376.6 375.2L195.1 375.2L188.3 365.8z" fill="#5f9fc3"/>
<path d="M0 0L188.3 0L188.3 187.6L47.9 187.6L0 147.3zM188.3 0L376.6 0L376.6 187.6L188.3 187.6zM47.9 187.6L188.3 187.6L188.3 356zM138.2 375.2L0 375.2L0 285.3zM188.3 187.6L376.6 187.6L376.6 375.2L202.2 375.2L188.3 356z" fill="#65a7c9"/>
<path d="M0 0L188.3 0L188.3 187.6L56.1 187.6L0 140.4zM188.3 0L376.6 0L376.6 187.6L188.3 187.6zM56.1 187.6L188.3 187.6L188.3 346.2zM112.6 375.2L0 375.2L0 301.9zM188.3 187.6L376.6 187.6L376.6 375.2L209.3 375.2L188.3 346.2z" fill="#6baecf"/>
<path d="M0 0L188.3 0L188.3 187.6L64.3 187.6L0 133.5zM188.3 0L376.6 0L376.6 187.6L188.3 187.6zM64.3 187.6L188.3 187.6L188.3 336.4zM87 375.2L0 375.2L0 318.6zM188.3 187.6L376.6 187.6L376.6 375.2L216.4 375.2L188.3 336.4z" fill="#70b4d4"/>
<path d="M0 0L188.3 0L188.3 187.6L72.4 187.6L0 126.6zM188.3 0L376.6 0L376.6 187.6L188.3 187.6zM72.4 187.6L188.3 187.6L188.3 326.6zM61.4 375.2L0 375.2L0 335.2zM188.3 187.6L376.6 187.6L376.6 375.2L223.5 375.2L188.3 326.6z" fill="#75b8d7"/>
<path d="M0 0L188.3 0L188.3 187.6L80.6 187.6L0 119.7zM188.3 0L376.6 0L376.6 187.6L188.3 187.6zM80.6 187.6L188.3 187.6L188.3 316.8zM35.8 375.2L0 375.2L0 351.9zM188.3 187.6L376.6 187.6L376.6 375.2L230.6 375.2L188.3 316.8z" fill="#79bcd9"/>
<path d="M0 0L188.3 0L188.3 187.6L88.8 187.6L0 112.8zM188.3 0L376.6 0L376.6 187.6L188.3 187.6zM88.8 187.6L188.3 187.6L188.3 307zM10.2 375.2L0 375.2L0 368.5zM188.3 187.6L376.6 187.6L376.6 375.2L237.6 375.2L188.3 307z" fill="#7ec0dc"/>
<path d="M0 0L188.3 0L188.3 187.6L97 187.6L0 106zM188.3 0L376.6 0L376.6 187.6L188.3 187.6zM97 187.6L188.3 187.6L188.3 297.2zM188.3 187.6L376.6 187.6L376.6 375.2L244.7 375.2L188.3 297.2z" fill="#86c5dd"/>
<path d="M0 0L188.3 0L188.3 187.6L105.1 187.6L0 99.1zM188.3 0L376.6 0L376.6 187.6L188.3 187.6zM105.1 187.6L188.3 187.6L188.3 287.4zM188.3 187.6L376.6 187.6L376.6 375.2L251.8 375.2L188.3 287.4z" fill="#8fcadf"/>
<path d="M0 0L188.3 0L188.3 187.6L113.3 187.6L0 92.2zM188.3 0L376.6 0L376.6 187.6L188.3 187.6zM113.3 187.6L188.3 187.6L188.3 277.6zM188.3 187.6L376.6 187.6L376.6 375.2L258.9 375.2L188.3 277.6z" fill="#97cfe0"/>
<path d="M0 0L188.3 0L188.3 187.6L121.5 187.6L0 85.3zM188.3 0L376.6 0L376.6 187.6L188.3 187.6zM121.5 187.6L188.3 187.6L188.3 267.8zM188.3 187.6L376.6 187.6L376.6 375.2L266 375.2L188.3 267.8z" fill="#9fd3e0"/>
<path d="M0 0L186.3 0L188.3 3.1L188.3 187.6L129.7 187.6L0 78.4zM189.6 0L376.6 0L376.6 187.6L188.3 187.6L188.3 3.1zM129.7 187.6L188.3 187.6L188.3 258zM188.3 187.6L376.6 187.6L376.6 375.2L273.1 375.2L188.3 258z" fill="#a6d8e0"/>
<path d="M0 0L170 0L188.3 28.8L188.3 187.6L137.8 187.6L0 71.6zM200.1 0L376.6 0L376.6 187.6L188.3 187.6L188.3 28.8zM137.8 187.6L188.3 187.6L188.3 248.1zM188.3 187.6L376.6 187.6L376.6 375.2L280.2 375.2L188.3 248.1z" fill="#aedde0"/>
<path d="M0 0L153.6 0L188.3 54.5L188.3 187.6L146 187.6L0 64.7zM210.6 0L376.6 0L376.6 187.6L188.3 187.6L188.3 54.5zM146 187.6L188.3 187.6L188.3 238.3zM188.3 187.6L376.6 187.6L376.6 375.2L287.3 375.2L188.3 238.3z" fill="#bae0dc"/>
<path d="M0 0L137.3 0L188.3 80.2L188.3 187.6L154.2 187.6L0 57.8zM221.1 0L376.6 0L376.6 187.6L188.3 187.6L188.3 80.2zM154.2 187.6L188.3 187.6L188.3 228.5zM188.3 187.6L376.6 187.6L376.6 375.2L294.4 375.2L188.3 228.5z" fill="#c8e3d7"/>
<path d="M0 0L121 0L188.3 105.9L188.3 187.6L162.3 187.6L0 50.9zM231.6 0L376.6 0L376.6 187.6L188.3 187.6L188.3 105.9zM162.3 187.6L188.3 187.6L188.3 218.7zM188.3 187.6L376.6 187.6L376.6 375.2L301.5 375.2L188.3 218.7z" fill="#d6e6d2"/>
<path d="M0 0L104.6 0L188.3 131.6L188.3 187.6L170.5 187.6L0 44zM242.1 0L376.6 0L376.6 187.6L188.3 187.6L188.3 131.6zM170.5 187.6L188.3 187.6L188.3 208.9zM188.3 187.6L376.6 187.6L376.6 375.2L308.5 375.2L188.3 208.9z" fill="#e2e9cc"/>
<path d="M0 0L88.3 0L188.3 157.4L188.3 187.6L178.7 187.6L0 37.2zM252.6 0L376.6 0L376.6 187.6L188.3 187.6L188.3 157.4zM178.7 187.6L188.3 187.6L188.3 199.1zM188.3 187.6L376.6 187.6L376.6 375.2L315.6 375.2L188.3 199.1z" fill="#ecebc8"/>
<path d="M0 0L71.9 0L188.3 183.1L188.3 187.6L186.9 187.6L0 30.3zM263.1 0L376.6 0L376.6 187.6L188.3 187.6L188.3 183.1zM186.9 187.6L188.3 187.6L188.3 189.3zM188.3 187.6L376.6 187.6L376.6 375.2L322.7 375.2L188.3 189.3z" fill="#f7edc2"/>
<path d="M0 0L55.6 0L0 23.4zM273.6 0L376.6 0L376.6 187.6L234 187.6zM234 187.6L376.6 187.6L376.6 375.2L329.8 375.2z" fill="#feeebc"/>
<path d="M0 0L39.2 0L0 16.5zM284.1 0L376.6 0L376.6 187.6L289.6 187.6zM289.6 187.6L376.6 187.6L376.6 375.2L336.9 375.2z" fill="#feeab0"/>
<path d="M0 0L22.9 0L0 9.6zM294.6 0L376.6 0L376.6 187.6L345.1 187.6zM345.1 187.6L376.6 187.6L376.6 375.2L344 375.2z" fill="#fee6a4"/>
<path d="M0 0L6.5 0L0 2.8zM305.1 0L376.6 0L376.6 176.4zM376.6 207.7L376.6 375.2L351.1 375.2z" fill="#fee299"/>
<path d="M315.7 0L376.6 0L376.6 150.5zM376.6 254.2L376.6 375.2L358.2 375.2z" fill="#fede8e"/>
<path d="M326.2 0L376.6 0L376.6 124.5zM376.6 300.8L376.6 375.2L365.3 375.2z" fill="#feda82"/>
<path d="M336.7 0L376.6 0L376.6 98.6zM376.6 347.3L376.6 375.2L372.3 375.2z" fill="#fed677"/>
<path d="M347.2 0L376.6 0L376.6 72.6z" fill="#fed172"/>
<path d="M357.7 0L376.6 0L376.6 46.7z" fill="#fdcc6d"/>
<path d="M368.2 0L376.6 0L376.6 20.8z" fill="#fdc768"/>
</g>
<g transform="translate(543.4 2442.1)">
<path d="M0 0H376.4V375.2H0z" fill="#3e709f"/>
<path d="M0 0L188.2 0L188.2 187.6L0.8 187.6L0 178.2zM188.2 0L376.4 0L376.4 187.6L188.2 187.6zM0.8 187.6L188.2 187.6L188.2 375.2L0 375.2L0 188.8zM188.2 187.6L376.4 187.6L376.4 375.2L188.2 375.2z" fill="#4276a3"/>
<path d="M22.7 0L188.2 0L188.2 187.6L52.9 187.6zM188.2 0L376.4 0L376.4 187.6L188.2 187.6zM52.9 187.6L188.2 187.6L188.2 344.7zM140.4 375.2L0 375.2L0 264zM188.2 187.6L376.4 187.6L376.4 375.2L202.7 375.2L188.2 344.7z" fill="#457ca8"/>
<path d="M55.4 0L188.2 0L188.2 187.6L104.9 187.6zM188.2 0L376.4 0L376.4 187.6L188.2 187.6zM104.9 187.6L188.2 187.6L188.2 284.3zM45.5 375.2L0 375.2L0 339.1zM188.2 187.6L376.4 187.6L376.4 375.2L231.6 375.2L188.2 284.3z" fill="#4982ac"/>
<path d="M88.1 0L188.2 0L188.2 187.6L157 187.6zM188.2 0L376.4 0L376.4 187.6L188.2 187.6zM157 187.6L188.2 187.6L188.2 223.9zM188.2 187.6L376.4 187.6L376.4 375.2L260.4 375.2L188.2 223.9z" fill="#4e89b1"/>
<path d="M120.8 0L188.2 0L188.2 157.1zM188.2 0L376.4 0L376.4 187.6L193.1 187.6L188.2 157.1zM193.1 187.6L376.4 187.6L376.4 375.2L289.2 375.2z" fill="#5490b7"/>
<path d="M153.4 0L188.2 0L188.2 81zM188.2 0L376.4 0L376.4 187.6L205.4 187.6L188.2 81zM205.4 187.6L376.4 187.6L376.4 375.2L318 375.2z" fill="#5a98bd"/>
<path d="M186.1 0L188.2 0L188.2 4.9zM188.2 0L376.4 0L376.4 187.6L217.7 187.6L188.2 4.9zM217.7 187.6L376.4 187.6L376.4 375.2L346.9 375.2z" fill="#5f9fc3"/>
<path d="M192.2 0L376.4 0L376.4 187.6L229.9 187.6zM229.9 187.6L376.4 187.6L376.4 375.2L375.7 375.2z" fill="#65a7c9"/>
<path d="M196.5 0L376.4 0L376.4 187.6L242.2 187.6zM242.2 187.6L376.4 187.6L376.4 359.8z" fill="#6baecf"/>
<path d="M200.8 0L376.4 0L376.4 187.6L254.5 187.6zM254.5 187.6L376.4 187.6L376.4 344.1z" fill="#70b4d4"/>
<path d="M205.1 0L376.4 0L376.4 187.6L266.8 187.6zM266.8 187.6L376.4 187.6L376.4 328.3z" fill="#75b8d7"/>
<path d="M209.3 0L376.4 0L376.4 187.6L279.1 187.6zM279.1 187.6L376.4 187.6L376.4 312.5z" fill="#79bcd9"/>
<path d="M213.6 0L376.4 0L376.4 187.6L291.3 187.6zM291.3 187.6L376.4 187.6L376.4 296.8z" fill="#7ec0dc"/>
<path d="M217.9 0L376.4 0L376.4 187.6L303.6 187.6zM303.6 187.6L376.4 187.6L376.4 281z" fill="#86c5dd"/>
<path d="M222.2 0L376.4 0L376.4 187.6L315.9 187.6zM315.9 187.6L376.4 187.6L376.4 265.3z" fill="#8fcadf"/>
<path d="M226.5 0L376.4 0L376.4 187.6L328.2 187.6zM328.2 187.6L376.4 187.6L376.4 249.5z" fill="#97cfe0"/>
<path d="M230.8 0L376.4 0L376.4 187.6L340.4 187.6zM340.4 187.6L376.4 187.6L376.4 233.7z" fill="#9fd3e0"/>
<path d="M235 0L376.4 0L376.4 187.6L352.7 187.6zM352.7 187.6L376.4 187.6L376.4 218z" fill="#a6d8e0"/>
<path d="M239.3 0L376.4 0L376.4 187.6L365 187.6zM365 187.6L376.4 187.6L376.4 202.2z" fill="#aedde0"/>
<path d="M243.6 0L376.4 0L376.4 187.2z" fill="#bae0dc"/>
<path d="M247.9 0L376.4 0L376.4 181.1z" fill="#c8e3d7"/>
<path d="M252.2 0L376.4 0L376.4 175.1z" fill="#d6e6d2"/>
<path d="M256.5 0L376.4 0L376.4 169.1z" fill="#e2e9cc"/>
<path d="M260.7 0L376.4 0L376.4 163z" fill="#ecebc8"/>
<path d="M265 0L376.4 0L376.4 157z" fill="#f7edc2"/>
<path d="M269.3 0L376.4 0L376.4 150.9z" fill="#feeebc"/>
<path d="M273.6 0L376.4 0L376.4 144.9z" fill="#feeab0"/>
<path d="M277.9 0L376.4 0L376.4 138.9z" fill="#fee6a4"/>
<path d="M282.2 0L376.4 0L376.4 132.8z" fill="#fee299"/>
<path d="M286.4 0L376.4 0L376.4 126.8z" fill="#fede8e"/>
<path d="M290.7 0L376.4 0L376.4 120.8z" fill="#feda82"/>
<path d="M295 0L376.4 0L376.4 114.7z" fill="#fed677"/>
<path d="M299.3 0L376.4 0L376.4 108.7z" fill="#fed172"/>
<path d="M303.6 0L376.4 0L376.4 102.6z" fill="#fdcc6d"/>
<path d="M307.9 0L376.4 0L376.4 96.6z" fill="#fdc768"/>
<path d="M312.1 0L376.4 0L376.4 90.6z" fill="#fcc165"/>
<path d="M316.4 0L376.4 0L376.4 84.5z" fill="#fcbb62"/>
<path d="M320.7 0L376.4 0L376.4 78.5z" fill="#fbb65f"/>
<path d="M325 0L376.4 0L376.4 72.5z" fill="#fab05b"/>
<path d="M329.3 0L376.4 0L376.4 66.4z" fill="#f9ab58"/>
<path d="M333.6 0L376.4 0L376.4 60.4z" fill="#f9a555"/>
<path d="M337.8 0L376.4 0L376.4 54.3z" fill="#f89f52"/>
<path d="M342.1 0L376.4 0L376.4 48.3z" fill="#f69951"/>
<path d="M346.4 0L376.4 0L376.4 42.3z" fill="#f5934f"/>
<path d="M350.7 0L376.4 0L376.4 36.2z" fill="#f48d4d"/>
<path d="M355 0L376.4 0L376.4 30.2z" fill="#f3874c"/>
<path d="M359.3 0L376.4 0L376.4 24.2z" fill="#f1814a"/>
<path d="M363.5 0L376.4 0L376.4 18.1z" fill="#f07b48"/>
<path d="M367.8 0L376.4 0L376.4 12.1z" fill="#f07649"/>
<path d="M372.1 0L376.4 0L376.4 6z" fill="#f0714a"/>
<path d="M376.4 0L376.4 0L376.4 0z" fill="#f06c4b"/>
</g>
<g transform="translate(1061.4 2442.1)">
<path d="M0 0H376.6V375.2H0z" fill="#4982ac"/>
<path d="M11.6 0L188.3 0L188.3 187.6L0 187.6L0 8zM188.3 0L376.6 0L376.6 187.6L188.3 187.6zM0 187.6L188.3 187.6L188.3 375.2L0 375.2zM188.3 187.6L376.6 187.6L376.6 375.2L188.3 375.2z" fill="#4e89b1"/>
<path d="M25.4 0L188.3 0L188.3 187.6L0 187.6L0 17.6zM188.3 0L376.6 0L376.6 187.6L188.3 187.6zM0 187.6L188.3 187.6L188.3 375.2L0 375.2zM188.3 187.6L376.6 187.6L376.6 375.2L188.3 375.2z" fill="#5490b7"/>
<path d="M39.2 0L188.3 0L188.3 187.6L0 187.6L0 27.2zM188.3 0L376.6 0L376.6 187.6L188.3 187.6zM0 187.6L188.3 187.6L188.3 375.2L0 375.2zM188.3 187.6L376.6 187.6L376.6 375.2L188.3 375.2z" fill="#5a98bd"/>
<path d="M53 0L188.3 0L188.3 187.6L0 187.6L0 36.8zM188.3 0L376.6 0L376.6 187.6L188.3 187.6zM0 187.6L188.3 187.6L188.3 375.2L0 375.2zM188.3 187.6L376.6 187.6L376.6 375.2L188.3 375.2z" fill="#5f9fc3"/>
<path d="M66.9 0L188.3 0L188.3 187.6L0 187.6L0 46.4zM188.3 0L376.6 0L376.6 187.6L188.3 187.6zM0 187.6L188.3 187.6L188.3 374.4L187.5 375.2L0 375.2zM188.3 187.6L376.6 187.6L376.6 375.2L189.1 375.2L188.3 374.4z" fill="#65a7c9"/>
<path d="M80.7 0L188.3 0L188.3 187.6L0 187.6L0 55.9zM188.3 0L376.6 0L376.6 187.6L188.3 187.6zM0 187.6L188.3 187.6L188.3 366.4L180.2 375.2L0 375.2zM188.3 187.6L376.6 187.6L376.6 375.2L196.7 375.2L188.3 366.4z" fill="#6baecf"/>
<path d="M94.5 0L188.3 0L188.3 187.6L0 187.6L0 65.5zM188.3 0L376.6 0L376.6 187.6L188.3 187.6zM0 187.6L188.3 187.6L188.3 358.5L172.9 375.2L0 375.2zM188.3 187.6L376.6 187.6L376.6 375.2L204.3 375.2L188.3 358.5z" fill="#70b4d4"/>
<path d="M108.3 0L188.3 0L188.3 187.6L0 187.6L0 75.1zM188.3 0L376.6 0L376.6 187.6L188.3 187.6zM0 187.6L188.3 187.6L188.3 350.5L165.5 375.2L0 375.2zM188.3 187.6L376.6 187.6L376.6 375.2L212 375.2L188.3 350.5z" fill="#75b8d7"/>
<path d="M122.1 0L188.3 0L188.3 187.6L0 187.6L0 84.7zM188.3 0L376.6 0L376.6 187.6L188.3 187.6zM0 187.6L188.3 187.6L188.3 342.6L158.2 375.2L0 375.2zM188.3 187.6L376.6 187.6L376.6 375.2L219.6 375.2L188.3 342.6z" fill="#79bcd9"/>
<path d="M135.9 0L188.3 0L188.3 187.6L0 187.6L0 94.3zM188.3 0L376.6 0L376.6 187.6L188.3 187.6zM0 187.6L188.3 187.6L188.3 334.7L150.9 375.2L0 375.2zM188.3 187.6L376.6 187.6L376.6 375.2L227.2 375.2L188.3 334.7z" fill="#7ec0dc"/>
<path d="M149.7 0L188.3 0L188.3 187.6L0 187.6L0 103.8zM188.3 0L376.6 0L376.6 187.6L188.3 187.6zM0 187.6L188.3 187.6L188.3 326.7L143.5 375.2L0 375.2zM188.3 187.6L376.6 187.6L376.6 375.2L234.8 375.2L188.3 326.7z" fill="#86c5dd"/>
<path d="M163.5 0L188.3 0L188.3 187.6L0 187.6L0 113.4zM188.3 0L376.6 0L376.6 187.6L188.3 187.6zM0 187.6L188.3 187.6L188.3 318.8L136.2 375.2L0 375.2zM188.3 187.6L376.6 187.6L376.6 375.2L242.4 375.2L188.3 318.8z" fill="#8fcadf"/>
<path d="M177.4 0L188.3 0L188.3 187.6L0 187.6L0 123zM188.3 0L376.6 0L376.6 187.6L188.3 187.6zM0 187.6L188.3 187.6L188.3 310.8L128.8 375.2L0 375.2zM188.3 187.6L376.6 187.6L376.6 375.2L250.1 375.2L188.3 310.8z" fill="#97cfe0"/>
<path d="M188.3 2.7L188.3 187.6L0 187.6L0 132.6zM188.7 0L376.6 0L376.6 187.6L188.3 187.6L188.3 2.7zM0 187.6L188.3 187.6L188.3 302.9L121.5 375.2L0 375.2zM188.3 187.6L376.6 187.6L376.6 375.2L257.7 375.2L188.3 302.9z" fill="#9fd3e0"/>
<path d="M188.3 15.4L188.3 187.6L0 187.6L0 142.2zM190.9 0L376.6 0L376.6 187.6L188.3 187.6L188.3 15.4zM0 187.6L188.3 187.6L188.3 294.9L114.2 375.2L0 375.2zM188.3 187.6L376.6 187.6L376.6 375.2L265.3 375.2L188.3 294.9z" fill="#a6d8e0"/>
<path d="M188.3 28.1L188.3 187.6L0 187.6L0 151.7zM193 0L376.6 0L376.6 187.6L188.3 187.6L188.3 28.1zM0 187.6L188.3 187.6L188.3 287L106.8 375.2L0 375.2zM188.3 187.6L376.6 187.6L376.6 375.2L272.9 375.2L188.3 287z" fill="#aedde0"/>
<path d="M188.3 40.9L188.3 187.6L0 187.6L0 161.3zM195.2 0L376.6 0L376.6 187.6L188.3 187.6L188.3 40.9zM0 187.6L188.3 187.6L188.3 279L99.5 375.2L0 375.2zM188.3 187.6L376.6 187.6L376.6 375.2L280.6 375.2L188.3 279z" fill="#bae0dc"/>
<path d="M188.3 53.6L188.3 187.6L0 187.6L0 170.9zM197.3 0L376.6 0L376.6 187.6L188.3 187.6L188.3 53.6zM0 187.6L188.3 187.6L188.3 271.1L92.2 375.2L0 375.2zM188.3 187.6L376.6 187.6L376.6 375.2L288.2 375.2L188.3 271.1z" fill="#c8e3d7"/>
<path d="M188.3 66.4L188.3 187.6L0 187.6L0 180.5zM199.5 0L376.6 0L376.6 187.6L188.3 187.6L188.3 66.4zM0 187.6L188.3 187.6L188.3 263.2L84.8 375.2L0 375.2zM188.3 187.6L376.6 187.6L376.6 375.2L295.8 375.2L188.3 263.2z" fill="#d6e6d2"/>
<path d="M188.3 79.1L188.3 187.6L5.5 187.6zM201.6 0L376.6 0L376.6 187.6L188.3 187.6L188.3 79.1zM5.5 187.6L188.3 187.6L188.3 255.2L77.5 375.2L0 375.2L0 192zM188.3 187.6L376.6 187.6L376.6 375.2L303.4 375.2L188.3 255.2z" fill="#e2e9cc"/>
<path d="M188.3 91.9L188.3 187.6L27 187.6zM203.8 0L376.6 0L376.6 187.6L188.3 187.6L188.3 91.9zM27 187.6L188.3 187.6L188.3 247.3L70.1 375.2L0 375.2L0 209.4zM188.3 187.6L376.6 187.6L376.6 375.2L311 375.2L188.3 247.3z" fill="#ecebc8"/>
<path d="M188.3 104.6L188.3 187.6L48.4 187.6zM205.9 0L376.6 0L376.6 187.6L188.3 187.6L188.3 104.6zM48.4 187.6L188.3 187.6L188.3 239.3L62.8 375.2L0 375.2L0 226.7zM188.3 187.6L376.6 187.6L376.6 375.2L318.7 375.2L188.3 239.3z" fill="#f7edc2"/>
<path d="M188.3 117.4L188.3 187.6L69.9 187.6zM208 0L376.6 0L376.6 187.6L188.3 187.6L188.3 117.4zM69.9 187.6L188.3 187.6L188.3 231.4L55.5 375.2L0 375.2L0 244.1zM188.3 187.6L376.6 187.6L376.6 375.2L326.3 375.2L188.3 231.4z" fill="#feeebc"/>
<path d="M188.3 130.1L188.3 187.6L91.4 187.6zM210.2 0L376.6 0L376.6 187.6L188.3 187.6L188.3 130.1zM91.4 187.6L188.3 187.6L188.3 223.4L48.1 375.2L0 375.2L0 261.4zM188.3 187.6L376.6 187.6L376.6 375.2L333.9 375.2L188.3 223.4z" fill="#feeab0"/>
<path d="M188.3 142.8L188.3 187.6L112.9 187.6zM212.3 0L376.6 0L376.6 187.6L188.3 187.6L188.3 142.8zM112.9 187.6L188.3 187.6L188.3 215.5L40.8 375.2L0 375.2L0 278.8zM188.3 187.6L376.6 187.6L376.6 375.2L341.5 375.2L188.3 215.5z" fill="#fee6a4"/>
<path d="M188.3 155.6L188.3 187.6L134.4 187.6zM214.5 0L376.6 0L376.6 187.6L188.3 187.6L188.3 155.6zM134.4 187.6L188.3 187.6L188.3 207.6L33.5 375.2L0 375.2L0 296.1zM188.3 187.6L376.6 187.6L376.6 375.2L349.2 375.2L188.3 207.6z" fill="#fee299"/>
<path d="M188.3 168.3L188.3 187.6L155.8 187.6zM216.6 0L376.6 0L376.6 187.6L188.3 187.6L188.3 168.3zM155.8 187.6L188.3 187.6L188.3 199.6L26.1 375.2L0 375.2L0 313.5zM188.3 187.6L376.6 187.6L376.6 375.2L356.8 375.2L188.3 199.6z" fill="#fede8e"/>
<path d="M188.3 181.1L188.3 187.6L177.3 187.6zM218.8 0L376.6 0L376.6 187.6L188.3 187.6L188.3 181.1zM177.3 187.6L188.3 187.6L188.3 191.7L18.8 375.2L0 375.2L0 330.8zM188.3 187.6L376.6 187.6L376.6 375.2L364.4 375.2L188.3 191.7z" fill="#feda82"/>
<path d="M220.9 0L376.6 0L376.6 187.6L191.3 187.6zM11.4 375.2L0 375.2L0 348.1zM191.3 187.6L376.6 187.6L376.6 375.2L372 375.2z" fill="#fed677"/>
<path d="M223.1 0L376.6 0L376.6 187.6L197.4 187.6zM4.1 375.2L0 375.2L0 365.5zM197.4 187.6L376.6 187.6L376.6 372.7z" fill="#fed172"/>
<path d="M225.2 0L376.6 0L376.6 187.6L203.5 187.6zM203.5 187.6L376.6 187.6L376.6 366.4z" fill="#fdcc6d"/>
<path d="M227.3 0L376.6 0L376.6 187.6L209.6 187.6zM209.6 187.6L376.6 187.6L376.6 360z" fill="#fdc768"/>
<path d="M229.5 0L376.6 0L376.6 187.6L215.8 187.6zM215.8 187.6L376.6 187.6L376.6 353.7z" fill="#fcc165"/>
<path d="M231.6 0L376.6 0L376.6 187.6L221.9 187.6zM221.9 187.6L376.6 187.6L376.6 347.4z" fill="#fcbb62"/>
<path d="M233.8 0L376.6 0L376.6 187.6L228 187.6zM228 187.6L376.6 187.6L376.6 341.1z" fill="#fbb65f"/>
<path d="M235.9 0L376.6 0L376.6 187.6L234.1 187.6zM234.1 187.6L376.6 187.6L376.6 334.8z" fill="#fab05b"/>
<path d="M238.1 0L376.6 0L376.6 187.6L240.2 187.6zM240.2 187.6L376.6 187.6L376.6 328.5z" fill="#f9ab58"/>
<path d="M240.2 0L376.6 0L376.6 187.6L246.3 187.6zM246.3 187.6L376.6 187.6L376.6 322.1z" fill="#f9a555"/>
<path d="M242.4 0L376.6 0L376.6 187.6L252.5 187.6zM252.5 187.6L376.6 187.6L376.6 315.8z" fill="#f89f52"/>
<path d="M244.5 0L376.6 0L376.6 187.6L258.6 187.6zM258.6 187.6L376.6 187.6L376.6 309.5z" fill="#f69951"/>
<path d="M246.6 0L376.6 0L376.6 187.6L264.7 187.6zM264.7 187.6L376.6 187.6L376.6 303.2z" fill="#f5934f"/>
<path d="M248.8 0L376.6 0L376.6 187.6L270.8 187.6zM270.8 187.6L376.6 187.6L376.6 296.9z" fill="#f48d4d"/>
<path d="M250.9 0L376.6 0L376.6 187.6L276.9 187.6zM276.9 187.6L376.6 187.6L376.6 290.5z" fill="#f3874c"/>
<path d="M253.1 0L376.6 0L376.6 187.6L283 187.6zM283 187.6L376.6 187.6L376.6 284.2z" fill="#f1814a"/>
<path d="M255.2 0L376.6 0L376.6 187.6L289.2 187.6zM289.2 187.6L376.6 187.6L376.6 277.9z" fill="#f07b48"/>
<path d="M257.4 0L376.6 0L376.6 187.6L295.3 187.6zM295.3 187.6L376.6 187.6L376.6 271.6z" fill="#f07649"/>
<path d="M259.5 0L376.6 0L376.6 187.6L301.4 187.6zM301.4 187.6L376.6 187.6L376.6 265.3z" fill="#f0714a"/>
<path d="M261.7 0L376.6 0L376.6 187.6L307.5 187.6zM307.5 187.6L376.6 187.6L376.6 259z" fill="#f06c4b"/>
<path d="M263.8 0L376.6 0L376.6 187.6L313.6 187.6zM313.6 187.6L376.6 187.6L376.6 252.6z" fill="#ef674c"/>
<path d="M265.9 0L376.6 0L376.6 187.6L319.7 187.6zM319.7 187.6L376.6 187.6L376.6 246.3z" fill="#ef624d"/>
<path d="M268.1 0L376.6 0L376.6 187.6L325.9 187.6zM325.9 187.6L376.6 187.6L376.6 240z" fill="#ef5d4e"/>
<path d="M270.2 0L376.6 0L376.6 187.6L332 187.6zM332 187.6L376.6 187.6L376.6 233.7z" fill="#fff"/>
</g>
<g transform="translate(1565.8 2442.1)">
<path d="M0 0H376.8V375.2H0z" fill="#4982ac"/>
<path d="M0 0L188.4 0L188.4 187.6L4.4 187.6L0 168.5zM188.4 0L376.8 0L376.8 187.6L188.4 187.6zM4.4 187.6L188.4 187.6L188.4 375.2L0 375.2L0 197.4zM188.4 187.6L376.8 187.6L376.8 375.2L188.4 375.2z" fill="#4e89b1"/>
<path d="M0 0L188.4 0L188.4 187.6L13 187.6L0 131.9zM188.4 0L376.8 0L376.8 187.6L188.4 187.6zM13 187.6L188.4 187.6L188.4 375.2L0 375.2L0 216.3zM188.4 187.6L376.8 187.6L376.8 375.2L188.4 375.2z" fill="#5490b7"/>
<path d="M0 0L188.4 0L188.4 187.6L21.5 187.6L0 95.3zM188.4 0L376.8 0L376.8 187.6L188.4 187.6zM21.5 187.6L188.4 187.6L188.4 375.2L0 375.2L0 235.3zM188.4 187.6L376.8 187.6L376.8 375.2L188.4 375.2z" fill="#5a98bd"/>
<path d="M0 0L188.4 0L188.4 187.6L30 187.6L0 58.6zM188.4 0L376.8 0L376.8 187.6L188.4 187.6zM30 187.6L188.4 187.6L188.4 375.2L0 375.2L0 254.2zM188.4 187.6L376.8 187.6L376.8 375.2L188.4 375.2z" fill="#5f9fc3"/>
<path d="M0 0L188.4 0L188.4 187.6L38.6 187.6L0 22zM188.4 0L376.8 0L376.8 187.6L188.4 187.6zM38.6 187.6L188.4 187.6L188.4 375.2L0 375.2L0 273.1zM188.4 187.6L376.8 187.6L376.8 375.2L188.4 375.2z" fill="#65a7c9"/>
<path d="M2.9 0L188.4 0L188.4 187.6L47.1 187.6zM188.4 0L376.8 0L376.8 187.6L188.4 187.6zM47.1 187.6L188.4 187.6L188.4 375.2L0 375.2L0 292zM188.4 187.6L376.8 187.6L376.8 375.2L188.4 375.2z" fill="#6baecf"/>
<path d="M10.2 0L188.4 0L188.4 187.6L55.6 187.6zM188.4 0L376.8 0L376.8 187.6L188.4 187.6zM55.6 187.6L188.4 187.6L188.4 375.2L0 375.2L0 310.9zM188.4 187.6L376.8 187.6L376.8 375.2L188.4 375.2z" fill="#70b4d4"/>
<path d="M17.4 0L188.4 0L188.4 187.6L64.2 187.6zM188.4 0L376.8 0L376.8 187.6L188.4 187.6zM64.2 187.6L188.4 187.6L188.4 375.2L0 375.2L0 329.8zM188.4 187.6L376.8 187.6L376.8 375.2L188.4 375.2z" fill="#75b8d7"/>
<path d="M24.7 0L188.4 0L188.4 187.6L72.7 187.6zM188.4 0L376.8 0L376.8 187.6L188.4 187.6zM72.7 187.6L188.4 187.6L188.4 375.2L0 375.2L0 348.7zM188.4 187.6L376.8 187.6L376.8 375.2L188.4 375.2z" fill="#79bcd9"/>
<path d="M32 0L188.4 0L188.4 187.6L81.2 187.6zM188.4 0L376.8 0L376.8 187.6L188.4 187.6zM81.2 187.6L188.4 187.6L188.4 375.2L0 375.2L0 367.6zM188.4 187.6L376.8 187.6L376.8 375.2L188.4 375.2z" fill="#7ec0dc"/>
<path d="M39.2 0L188.4 0L188.4 187.6L89.8 187.6zM188.4 0L376.8 0L376.8 187.6L188.4 187.6zM89.8 187.6L188.4 187.6L188.4 375.2L15.4 375.2zM188.4 187.6L376.8 187.6L376.8 375.2L188.4 375.2z" fill="#86c5dd"/>
<path d="M46.5 0L188.4 0L188.4 187.6L98.3 187.6zM188.4 0L376.8 0L376.8 187.6L188.4 187.6zM98.3 187.6L188.4 187.6L188.4 375.2L41 375.2zM188.4 187.6L376.8 187.6L376.8 375.2L188.4 375.2z" fill="#8fcadf"/>
<path d="M53.8 0L188.4 0L188.4 187.6L106.8 187.6zM188.4 0L376.8 0L376.8 187.6L188.4 187.6zM106.8 187.6L188.4 187.6L188.4 375.2L66.6 375.2zM188.4 187.6L376.8 187.6L376.8 375.2L188.4 375.2z" fill="#97cfe0"/>
<path d="M61.1 0L188.4 0L188.4 187.6L115.4 187.6zM188.4 0L376.8 0L376.8 187.6L188.4 187.6zM115.4 187.6L188.4 187.6L188.4 375.2L92.2 375.2zM188.4 187.6L376.8 187.6L376.8 375.2L188.4 375.2z" fill="#9fd3e0"/>
<path d="M68.3 0L188.4 0L188.4 187.6L123.9 187.6zM188.4 0L376.8 0L376.8 187.6L188.4 187.6zM123.9 187.6L188.4 187.6L188.4 375.2L117.7 375.2zM188.4 187.6L376.8 187.6L376.8 375.2L188.4 375.2z" fill="#a6d8e0"/>
<path d="M75.6 0L188.4 0L188.4 187.6L132.4 187.6zM188.4 0L376.8 0L376.8 187.6L188.4 187.6zM132.4 187.6L188.4 187.6L188.4 375.2L143.3 375.2zM188.4 187.6L376.8 187.6L376.8 375.2L188.4 375.2z" fill="#aedde0"/>
<path d="M82.9 0L188.4 0L188.4 187.6L141 187.6zM188.4 0L376.8 0L376.8 187.6L188.4 187.6zM141 187.6L188.4 187.6L188.4 375.2L168.9 375.2zM188.4 187.6L376.8 187.6L376.8 375.2L188.4 375.2z" fill="#bae0dc"/>
<path d="M90.1 0L188.4 0L188.4 187.6L149.5 187.6zM188.4 0L376.8 0L376.8 187.6L188.4 187.6zM149.5 187.6L188.4 187.6L188.4 365.8zM188.4 187.6L376.8 187.6L376.8 375.2L189.2 375.2L188.4 365.8z" fill="#c8e3d7"/>
<path d="M97.4 0L188.4 0L188.4 187.6L158 187.6zM188.4 0L376.8 0L376.8 187.6L188.4 187.6zM158 187.6L188.4 187.6L188.4 326.7zM188.4 187.6L376.8 187.6L376.8 375.2L192.7 375.2L188.4 326.7z" fill="#d6e6d2"/>
<path d="M104.7 0L188.4 0L188.4 187.6L166.6 187.6zM188.4 0L376.8 0L376.8 187.6L188.4 187.6zM166.6 187.6L188.4 187.6L188.4 287.7zM188.4 187.6L376.8 187.6L376.8 375.2L196.2 375.2L188.4 287.7z" fill="#e2e9cc"/>
<path d="M111.9 0L188.4 0L188.4 187.6L175.1 187.6zM188.4 0L376.8 0L376.8 187.6L188.4 187.6zM175.1 187.6L188.4 187.6L188.4 248.6zM188.4 187.6L376.8 187.6L376.8 375.2L199.7 375.2L188.4 248.6z" fill="#ecebc8"/>
<path d="M119.2 0L188.4 0L188.4 187.6L183.6 187.6zM188.4 0L376.8 0L376.8 187.6L188.4 187.6zM183.6 187.6L188.4 187.6L188.4 209.5zM188.4 187.6L376.8 187.6L376.8 375.2L203.1 375.2L188.4 209.5z" fill="#f7edc2"/>
<path d="M126.5 0L188.4 0L188.4 178.4zM188.4 0L376.8 0L376.8 187.6L189.4 187.6L188.4 178.4zM189.4 187.6L376.8 187.6L376.8 375.2L206.6 375.2z" fill="#feeebc"/>
<path d="M133.7 0L188.4 0L188.4 157.5zM188.4 0L376.8 0L376.8 187.6L191.8 187.6L188.4 157.5zM191.8 187.6L376.8 187.6L376.8 375.2L210.1 375.2z" fill="#feeab0"/>
<path d="M141 0L188.4 0L188.4 136.5zM188.4 0L376.8 0L376.8 187.6L194.2 187.6L188.4 136.5zM194.2 187.6L376.8 187.6L376.8 375.2L213.5 375.2z" fill="#fee6a4"/>
<path d="M148.3 0L188.4 0L188.4 115.6zM188.4 0L376.8 0L376.8 187.6L196.5 187.6L188.4 115.6zM196.5 187.6L376.8 187.6L376.8 375.2L217 375.2z" fill="#fee299"/>
<path d="M155.5 0L188.4 0L188.4 94.6zM188.4 0L376.8 0L376.8 187.6L198.9 187.6L188.4 94.6zM198.9 187.6L376.8 187.6L376.8 375.2L220.5 375.2z" fill="#fede8e"/>
<path d="M162.8 0L188.4 0L188.4 73.7zM188.4 0L376.8 0L376.8 187.6L201.3 187.6L188.4 73.7zM201.3 187.6L376.8 187.6L376.8 375.2L224 375.2z" fill="#feda82"/>
<path d="M170.1 0L188.4 0L188.4 52.8zM188.4 0L376.8 0L376.8 187.6L203.6 187.6L188.4 52.8zM203.6 187.6L376.8 187.6L376.8 375.2L227.4 375.2z" fill="#fed677"/>
<path d="M177.4 0L188.4 0L188.4 31.8zM188.4 0L376.8 0L376.8 187.6L206 187.6L188.4 31.8zM206 187.6L376.8 187.6L376.8 375.2L230.9 375.2z" fill="#fed172"/>
<path d="M184.6 0L188.4 0L188.4 10.9zM188.4 0L376.8 0L376.8 187.6L208.4 187.6L188.4 10.9zM208.4 187.6L376.8 187.6L376.8 375.2L234.4 375.2z" fill="#fdcc6d"/>
<path d="M192.5 0L376.8 0L376.8 187.6L210.7 187.6zM210.7 187.6L376.8 187.6L376.8 375.2L237.9 375.2z" fill="#fdc768"/>
<path d="M200.9 0L376.8 0L376.8 187.6L213.1 187.6zM213.1 187.6L376.8 187.6L376.8 375.2L241.3 375.2z" fill="#fcc165"/>
<path d="M209.3 0L376.8 0L376.8 187.6L215.4 187.6zM215.4 187.6L376.8 187.6L376.8 375.2L244.8 375.2z" fill="#fcbb62"/>
<path d="M217.8 0L376.8 0L376.8 187.6L217.8 187.6zM217.8 187.6L376.8 187.6L376.8 375.2L248.3 375.2z" fill="#fbb65f"/>
<path d="M226.2 0L376.8 0L376.8 187.6L220.2 187.6zM220.2 187.6L376.8 187.6L376.8 375.2L251.8 375.2z" fill="#fab05b"/>
<path d="M234.7 0L376.8 0L376.8 187.6L222.5 187.6zM222.5 187.6L376.8 187.6L376.8 375.2L255.2 375.2z" fill="#f9ab58"/>
<path d="M243.1 0L376.8 0L376.8 187.6L224.9 187.6zM224.9 187.6L376.8 187.6L376.8 375.2L258.7 375.2z" fill="#f9a555"/>
<path d="M251.6 0L376.8 0L376.8 187.6L227.3 187.6zM227.3 187.6L376.8 187.6L376.8 375.2L262.2 375.2z" fill="#f89f52"/>
<path d="M260 0L376.8 0L376.8 187.6L229.6 187.6zM229.6 187.6L376.8 187.6L376.8 375.2L265.6 375.2z" fill="#f69951"/>
<path d="M268.5 0L376.8 0L376.8 187.6L232 187.6zM232 187.6L376.8 187.6L376.8 375.2L269.1 375.2z" fill="#f5934f"/>
<path d="M276.9 0L376.8 0L376.8 187.6L234.4 187.6zM234.4 187.6L376.8 187.6L376.8 375.2L272.6 375.2z" fill="#f48d4d"/>
<path d="M285.4 0L376.8 0L376.8 187.6L236.7 187.6zM236.7 187.6L376.8 187.6L376.8 375.2L276.1 375.2z" fill="#f3874c"/>
<path d="M293.8 0L376.8 0L376.8 187.6L239.1 187.6zM239.1 187.6L376.8 187.6L376.8 375.2L279.5 375.2z" fill="#f1814a"/>
<path d="M302.3 0L376.8 0L376.8 187.6L241.5 187.6zM241.5 187.6L376.8 187.6L376.8 375.2L283 375.2z" fill="#f07b48"/>
<path d="M310.7 0L376.8 0L376.8 187.6L243.8 187.6zM243.8 187.6L376.8 187.6L376.8 375.2L286.5 375.2z" fill="#f07649"/>
<path d="M319.2 0L376.8 0L376.8 187.6L246.2 187.6zM246.2 187.6L376.8 187.6L376.8 375.2L290 375.2z" fill="#f0714a"/>
<path d="M327.6 0L376.8 0L376.8 187.6L248.6 187.6zM248.6 187.6L376.8 187.6L376.8 375.2L293.4 375.2z" fill="#f06c4b"/>
<path d="M336.1 0L376.8 0L376.8 187.6L250.9 187.6zM250.9 187.6L376.8 187.6L376.8 375.2L296.9 375.2z" fill="#ef674c"/>
<path d="M344.5 0L376.8 0L376.8 187.6L253.3 187.6zM253.3 187.6L376.8 187.6L376.8 375.2L300.4 375.2z" fill="#ef624d"/>
<path d="M352.9 0L376.8 0L376.8 187.6L255.6 187.6zM255.6 187.6L376.8 187.6L376.8 375.2L303.9 375.2z" fill="#ef5d4e"/>
<path d="M361.4 0L376.8 0L376.8 187.6L258 187.6zM258 187.6L376.8 187.6L376.8 375.2L307.3 375.2z" fill="#fff"/>
</g>
<g transform="translate(26.4 2925.4)">
<path d="M0 0H376.6V375.9H0z" fill="#305a8d"/>
<path d="M0 0L188.3 0L188.3 188L0 188zM188.3 0L376.6 0L376.6 188L188.3 188zM0 188L188.3 188L188.3 370.9L181.9 375.9L0 375.9zM188.3 188L376.6 188L376.6 375.9L193.1 375.9L188.3 370.9z" fill="#335f92"/>
<path d="M0 0L188.3 0L188.3 188L0 188zM188.3 0L376.6 0L376.6 188L188.3 188zM0 188L188.3 188L188.3 365.3L174.6 375.9L0 375.9zM188.3 188L376.6 188L376.6 375.9L198.5 375.9L188.3 365.3z" fill="#376597"/>
<path d="M0 0L188.3 0L188.3 188L0 188zM188.3 0L376.6 0L376.6 188L188.3 188zM0 188L188.3 188L188.3 359.6L167.4 375.9L0 375.9zM188.3 188L376.6 188L376.6 375.9L204 375.9L188.3 359.6z" fill="#3b6a9b"/>
<path d="M0 0L188.3 0L188.3 188L1.5 188L0 185.5zM188.3 0L376.6 0L376.6 188L188.3 188zM1.5 188L188.3 188L188.3 354zM160.1 375.9L0 375.9L0 189.9zM188.3 188L376.6 188L376.6 375.9L209.4 375.9L188.3 354z" fill="#3e709f"/>
<path d="M0 0L188.3 0L188.3 188L7.8 188L0 175.2zM188.3 0L376.6 0L376.6 188L188.3 188zM7.8 188L188.3 188L188.3 348.3zM152.8 375.9L0 375.9L0 198.3zM188.3 188L376.6 188L376.6 375.9L214.9 375.9L188.3 348.3z" fill="#4276a3"/>
<path d="M0 0L188.3 0L188.3 188L14.2 188L0 164.8zM188.3 0L376.6 0L376.6 188L188.3 188zM14.2 188L188.3 188L188.3 342.7zM145.6 375.9L0 375.9L0 206.8zM188.3 188L376.6 188L376.6 375.9L220.3 375.9L188.3 342.7z" fill="#457ca8"/>
<path d="M0 0L188.3 0L188.3 188L20.5 188L0 154.4zM188.3 0L376.6 0L376.6 188L188.3 188zM20.5 188L188.3 188L188.3 337zM138.3 375.9L0 375.9L0 215.2zM188.3 188L376.6 188L376.6 375.9L225.8 375.9L188.3 337z" fill="#4982ac"/>
<path d="M0 0L188.3 0L188.3 188L26.9 188L0 144zM188.3 0L376.6 0L376.6 188L188.3 188zM26.9 188L188.3 188L188.3 331.4zM131.1 375.9L0 375.9L0 223.7zM188.3 188L376.6 188L376.6 375.9L231.2 375.9L188.3 331.4z" fill="#4e89b1"/>
<path d="M0 0L188.3 0L188.3 188L33.2 188L0 133.7zM188.3 0L376.6 0L376.6 188L188.3 188zM33.2 188L188.3 188L188.3 325.7zM123.8 375.9L0 375.9L0 232.1zM188.3 188L376.6 188L376.6 375.9L236.7 375.9L188.3 325.7z" fill="#5490b7"/>
<path d="M0 0L188.3 0L188.3 188L39.6 188L0 123.3zM188.3 0L376.6 0L376.6 188L188.3 188zM39.6 188L188.3 188L188.3 320.1zM116.5 375.9L0 375.9L0 240.5zM188.3 188L376.6 188L376.6 375.9L242.1 375.9L188.3 320.1z" fill="#5a98bd"/>
<path d="M0 0L188.3 0L188.3 188L46 188L0 112.9zM188.3 0L376.6 0L376.6 188L188.3 188zM46 188L188.3 188L188.3 314.5zM109.3 375.9L0 375.9L0 249zM188.3 188L376.6 188L376.6 375.9L247.6 375.9L188.3 314.5z" fill="#5f9fc3"/>
<path d="M0 102.5L0 0L181.7 0zM188.3 3.1L188.3 188L52.3 188zM192.3 0L376.6 0L376.6 188L188.3 188L188.3 3.1zM52.3 188L188.3 188L188.3 308.8zM102 375.9L0 375.9L0 257.4zM188.3 188L376.6 188L376.6 375.9L253 375.9L188.3 308.8z" fill="#65a7c9"/>
<path d="M0 92.1L0 0L163.3 0zM188.3 11.7L188.3 188L58.7 188zM203.4 0L376.6 0L376.6 188L188.3 188L188.3 11.7zM58.7 188L188.3 188L188.3 303.2zM94.7 375.9L0 375.9L0 265.9zM188.3 188L376.6 188L376.6 375.9L258.5 375.9L188.3 303.2z" fill="#6baecf"/>
<path d="M0 81.8L0 0L144.9 0zM188.3 20.4L188.3 188L65 188zM214.5 0L376.6 0L376.6 188L188.3 188L188.3 20.4zM65 188L188.3 188L188.3 297.5zM87.5 375.9L0 375.9L0 274.3zM188.3 188L376.6 188L376.6 375.9L263.9 375.9L188.3 297.5z" fill="#70b4d4"/>
<path d="M0 71.4L0 0L126.5 0zM188.3 29L188.3 188L71.4 188zM225.6 0L376.6 0L376.6 188L188.3 188L188.3 29zM71.4 188L188.3 188L188.3 291.9zM80.2 375.9L0 375.9L0 282.7zM188.3 188L376.6 188L376.6 375.9L269.4 375.9L188.3 291.9z" fill="#75b8d7"/>
<path d="M0 61L0 0L108.1 0zM188.3 37.7L188.3 188L77.7 188zM236.7 0L376.6 0L376.6 188L188.3 188L188.3 37.7zM77.7 188L188.3 188L188.3 286.2zM72.9 375.9L0 375.9L0 291.2zM188.3 188L376.6 188L376.6 375.9L274.8 375.9L188.3 286.2z" fill="#79bcd9"/>
<path d="M0 50.6L0 0L89.7 0zM188.3 46.3L188.3 188L84.1 188zM247.8 0L376.6 0L376.6 174.7zM367 188L188.3 188L188.3 46.3zM84.1 188L188.3 188L188.3 280.6zM65.7 375.9L0 375.9L0 299.6zM188.3 188L367 188L376.6 196.9L376.6 375.9L280.3 375.9L188.3 280.6z" fill="#7ec0dc"/>
<path d="M0 40.3L0 0L71.3 0zM188.3 54.9L188.3 188L90.4 188zM258.9 0L376.6 0L376.6 159.6zM356.1 188L188.3 188L188.3 54.9zM90.4 188L188.3 188L188.3 274.9zM58.4 375.9L0 375.9L0 308.1zM188.3 188L356.1 188L376.6 207L376.6 375.9L285.7 375.9L188.3 274.9z" fill="#86c5dd"/>
<path d="M0 29.9L0 0L53 0zM188.3 63.6L188.3 188L96.8 188zM270 0L376.6 0L376.6 144.6zM345.2 188L188.3 188L188.3 63.6zM96.8 188L188.3 188L188.3 269.3zM51.1 375.9L0 375.9L0 316.5zM188.3 188L345.2 188L376.6 217.1L376.6 375.9L291.2 375.9L188.3 269.3z" fill="#8fcadf"/>
<path d="M0 19.5L0 0L34.6 0zM188.3 72.2L188.3 188L103.1 188zM281.1 0L376.6 0L376.6 129.5zM334.3 188L188.3 188L188.3 72.2zM103.1 188L188.3 188L188.3 263.6zM43.9 375.9L0 375.9L0 324.9zM188.3 188L334.3 188L376.6 227.2L376.6 375.9L296.6 375.9L188.3 263.6z" fill="#97cfe0"/>
<path d="M0 9.1L0 0L16.2 0zM188.3 80.8L188.3 188L109.5 188zM292.2 0L376.6 0L376.6 114.5zM323.4 188L188.3 188L188.3 80.8zM109.5 188L188.3 188L188.3 258zM36.6 375.9L0 375.9L0 333.4zM188.3 188L323.4 188L376.6 237.4L376.6 375.9L302.1 375.9L188.3 258z" fill="#9fd3e0"/>
<path d="M188.3 89.5L188.3 188L115.9 188zM303.3 0L376.6 0L376.6 99.4zM312.5 188L188.3 188L188.3 89.5zM115.9 188L188.3 188L188.3 252.3zM29.3 375.9L0 375.9L0 341.8zM188.3 188L312.5 188L376.6 247.5L376.6 375.9L307.5 375.9L188.3 252.3z" fill="#a6d8e0"/>
<path d="M188.3 98.1L188.3 188L122.2 188zM314.4 0L376.6 0L376.6 84.3zM301.6 188L188.3 188L188.3 98.1zM122.2 188L188.3 188L188.3 246.7zM22.1 375.9L0 375.9L0 350.2zM188.3 188L301.6 188L376.6 257.6L376.6 375.9L313 375.9L188.3 246.7z" fill="#aedde0"/>
<path d="M188.3 106.8L188.3 188L128.6 188zM325.5 0L376.6 0L376.6 69.3zM290.7 188L188.3 188L188.3 106.8zM128.6 188L188.3 188L188.3 241zM14.8 375.9L0 375.9L0 358.7zM188.3 188L290.7 188L376.6 267.7L376.6 375.9L318.4 375.9L188.3 241z" fill="#bae0dc"/>
<path d="M188.3 115.4L188.3 188L134.9 188zM336.6 0L376.6 0L376.6 54.2zM279.8 188L188.3 188L188.3 115.4zM134.9 188L188.3 188L188.3 235.4zM7.6 375.9L0 375.9L0 367.1zM188.3 188L279.8 188L376.6 277.9L376.6 375.9L323.9 375.9L188.3 235.4z" fill="#c8e3d7"/>
<path d="M188.3 124L188.3 188L141.3 188zM347.7 0L376.6 0L376.6 39.2zM268.9 188L188.3 188L188.3 124zM141.3 188L188.3 188L188.3 229.7zM0.3 375.9L0 375.9L0 375.6zM188.3 188L268.9 188L376.6 288L376.6 375.9L329.3 375.9L188.3 229.7z" fill="#d6e6d2"/>
<path d="M188.3 132.7L188.3 188L147.6 188zM358.8 0L376.6 0L376.6 24.1zM258 188L188.3 188L188.3 132.7zM147.6 188L188.3 188L188.3 224.1zM188.3 188L258 188L376.6 298.1L376.6 375.9L334.8 375.9L188.3 224.1z" fill="#e2e9cc"/>
<path d="M188.3 141.3L188.3 188L154 188zM369.9 0L376.6 0L376.6 9zM247.1 188L188.3 188L188.3 141.3zM154 188L188.3 188L188.3 218.4zM188.3 188L247.1 188L376.6 308.3L376.6 375.9L340.2 375.9L188.3 218.4z" fill="#ecebc8"/>
<path d="M188.3 149.9L188.3 188L160.3 188zM236.2 188L188.3 188L188.3 149.9zM160.3 188L188.3 188L188.3 212.8zM188.3 188L236.2 188L376.6 318.4L376.6 375.9L345.7 375.9L188.3 212.8z" fill="#f7edc2"/>
<path d="M188.3 158.6L188.3 188L166.7 188zM225.3 188L188.3 188L188.3 158.6zM166.7 188L188.3 188L188.3 207.2zM188.3 188L225.3 188L376.6 328.5L376.6 375.9L351.1 375.9L188.3 207.2z" fill="#feeebc"/>
<path d="M188.3 167.2L188.3 188L173 188zM214.5 188L188.3 188L188.3 167.2zM173 188L188.3 188L188.3 201.5zM188.3 188L214.5 188L376.6 338.6L376.6 375.9L356.5 375.9L188.3 201.5z" fill="#feeab0"/>
<path d="M188.3 175.9L188.3 188L179.4 188zM203.6 188L188.3 188L188.3 175.9zM179.4 188L188.3 188L188.3 195.9zM188.3 188L203.6 188L376.6 348.8L376.6 375.9L362 375.9L188.3 195.9z" fill="#fee6a4"/>
<path d="M188.3 184.5L188.3 188L185.8 188zM192.7 188L188.3 188L188.3 184.5zM185.8 188L188.3 188L188.3 190.2zM188.3 188L192.7 188L376.6 358.9L376.6 375.9L367.4 375.9L188.3 190.2z" fill="#fee299"/>
<path d="M376.6 369L376.6 375.9L372.9 375.9z" fill="#fede8e"/>
</g>
<g transform="translate(543.4 2925.4)">
<path d="M0 0H376.4V375.9H0z" fill="#3e709f"/>
<path d="M0 0L188.2 0L188.2 188L0.8 188L0 178.6zM188.2 0L376.4 0L376.4 188L188.2 188zM0.8 188L188.2 188L188.2 375.9L0 375.9L0 189.2zM188.2 188L376.4 188L376.4 375.9L188.2 375.9z" fill="#4276a3"/>
<path d="M22.7 0L188.2 0L188.2 188L52.9 188zM188.2 0L376.4 0L376.4 188L188.2 188zM52.9 188L188.2 188L188.2 345.4zM140.4 375.9L0 375.9L0 264.5zM188.2 188L376.4 188L376.4 375.9L202.7 375.9L188.2 345.4z" fill="#457ca8"/>
<path d="M55.4 0L188.2 0L188.2 188L104.9 188zM188.2 0L376.4 0L376.4 188L188.2 188zM104.9 188L188.2 188L188.2 284.8zM45.5 375.9L0 375.9L0 339.8zM188.2 188L376.4 188L376.4 375.9L231.6 375.9L188.2 284.8z" fill="#4982ac"/>
<path d="M88.1 0L188.2 0L188.2 188L157 188zM188.2 0L376.4 0L376.4 188L188.2 188zM157 188L188.2 188L188.2 224.3zM188.2 188L376.4 188L376.4 375.9L260.4 375.9L188.2 224.3z" fill="#4e89b1"/>
<path d="M120.8 0L188.2 0L188.2 157.4zM188.2 0L376.4 0L376.4 188L193.1 188L188.2 157.4zM193.1 188L376.4 188L376.4 375.9L289.2 375.9z" fill="#5490b7"/>
<path d="M153.4 0L188.2 0L188.2 81.2zM188.2 0L376.4 0L376.4 188L205.4 188L188.2 81.2zM205.4 188L376.4 188L376.4 375.9L318 375.9z" fill="#5a98bd"/>
<path d="M186.1 0L188.2 0L188.2 4.9zM188.2 0L376.4 0L376.4 188L217.7 188L188.2 4.9zM217.7 188L376.4 188L376.4 375.9L346.9 375.9z" fill="#5f9fc3"/>
<path d="M192.2 0L376.4 0L376.4 188L229.9 188zM229.9 188L376.4 188L376.4 375.9L375.7 375.9z" fill="#65a7c9"/>
<path d="M196.5 0L376.4 0L376.4 188L242.2 188zM242.2 188L376.4 188L376.4 360.5z" fill="#6baecf"/>
<path d="M200.8 0L376.4 0L376.4 188L254.5 188zM254.5 188L376.4 188L376.4 344.7z" fill="#70b4d4"/>
<path d="M205.1 0L376.4 0L376.4 188L266.8 188zM266.8 188L376.4 188L376.4 328.9z" fill="#75b8d7"/>
<path d="M209.3 0L376.4 0L376.4 188L279.1 188zM279.1 188L376.4 188L376.4 313.1z" fill="#79bcd9"/>
<path d="M213.6 0L376.4 0L376.4 188L291.3 188zM291.3 188L376.4 188L376.4 297.3z" fill="#7ec0dc"/>
<path d="M217.9 0L376.4 0L376.4 188L303.6 188zM303.6 188L376.4 188L376.4 281.5z" fill="#86c5dd"/>
<path d="M222.2 0L376.4 0L376.4 188L315.9 188zM315.9 188L376.4 188L376.4 265.8z" fill="#8fcadf"/>
<path d="M226.5 0L376.4 0L376.4 188L328.2 188zM328.2 188L376.4 188L376.4 250z" fill="#97cfe0"/>
<path d="M230.8 0L376.4 0L376.4 188L340.4 188zM340.4 188L376.4 188L376.4 234.2z" fill="#9fd3e0"/>
<path d="M235 0L376.4 0L376.4 188L352.7 188zM352.7 188L376.4 188L376.4 218.4z" fill="#a6d8e0"/>
<path d="M239.3 0L376.4 0L376.4 188L365 188zM365 188L376.4 188L376.4 202.6z" fill="#aedde0"/>
<path d="M243.6 0L376.4 0L376.4 187.5z" fill="#bae0dc"/>
<path d="M247.9 0L376.4 0L376.4 181.5z" fill="#c8e3d7"/>
<path d="M252.2 0L376.4 0L376.4 175.4z" fill="#d6e6d2"/>
<path d="M256.5 0L376.4 0L376.4 169.4z" fill="#e2e9cc"/>
<path d="M260.7 0L376.4 0L376.4 163.3z" fill="#ecebc8"/>
<path d="M265 0L376.4 0L376.4 157.3z" fill="#f7edc2"/>
<path d="M269.3 0L376.4 0L376.4 151.2z" fill="#feeebc"/>
<path d="M273.6 0L376.4 0L376.4 145.2z" fill="#feeab0"/>
<path d="M277.9 0L376.4 0L376.4 139.1z" fill="#fee6a4"/>
<path d="M282.2 0L376.4 0L376.4 133.1z" fill="#fee299"/>
<path d="M286.4 0L376.4 0L376.4 127z" fill="#fede8e"/>
<path d="M290.7 0L376.4 0L376.4 121z" fill="#feda82"/>
<path d="M295 0L376.4 0L376.4 114.9z" fill="#fed677"/>
<path d="M299.3 0L376.4 0L376.4 108.9z" fill="#fed172"/>
<path d="M303.6 0L376.4 0L376.4 102.8z" fill="#fdcc6d"/>
<path d="M307.9 0L376.4 0L376.4 96.8z" fill="#fdc768"/>
<path d="M312.1 0L376.4 0L376.4 90.7z" fill="#fcc165"/>
<path d="M316.4 0L376.4 0L376.4 84.7z" fill="#fcbb62"/>
<path d="M320.7 0L376.4 0L376.4 78.6z" fill="#fbb65f"/>
<path d="M325 0L376.4 0L376.4 72.6z" fill="#fab05b"/>
<path d="M329.3 0L376.4 0L376.4 66.5z" fill="#f9ab58"/>
<path d="M333.6 0L376.4 0L376.4 60.5z" fill="#f9a555"/>
<path d="M337.8 0L376.4 0L376.4 54.4z" fill="#f89f52"/>
<path d="M342.1 0L376.4 0L376.4 48.4z" fill="#f69951"/>
<path d="M346.4 0L376.4 0L376.4 42.3z" fill="#f5934f"/>
<path d="M350.7 0L376.4 0L376.4 36.3z" fill="#f48d4d"/>
<path d="M355 0L376.4 0L376.4 30.2z" fill="#f3874c"/>
<path d="M359.3 0L376.4 0L376.4 24.2z" fill="#f1814a"/>
<path d="M363.5 0L376.4 0L376.4 18.1z" fill="#f07b48"/>
<path d="M367.8 0L376.4 0L376.4 12.1z" fill="#f07649"/>
<path d="M372.1 0L376.4 0L376.4 6z" fill="#f0714a"/>
<path d="M376.4 0L376.4 0L376.4 0z" fill="#f06c4b"/>
</g>
<g transform="translate(1061.4 2925.4)">
<path d="M0 0H376.6V375.9H0z" fill="#4276a3"/>
<path d="M6.7 0L188.3 0L188.3 188L0 188L0 39.2zM188.3 0L376.6 0L376.6 188L188.3 188zM0 188L188.3 188L188.3 375.9L28.8 375.9L0 283.6zM188.3 188L376.6 188L376.6 375.9L188.3 375.9z" fill="#457ca8"/>
<path d="M62.2 0L188.3 0L188.3 188L27.1 188zM188.3 0L376.6 0L376.6 188L188.3 188zM27.1 188L188.3 188L188.3 375.9L94.1 375.9zM188.3 188L376.6 188L376.6 375.9L188.3 375.9z" fill="#4982ac"/>
<path d="M117.7 0L188.3 0L188.3 188L77 188zM188.3 0L376.6 0L376.6 188L188.3 188zM77 188L188.3 188L188.3 375.9L159.5 375.9zM188.3 188L376.6 188L376.6 375.9L188.3 375.9z" fill="#4e89b1"/>
<path d="M173.2 0L188.3 0L188.3 188L126.9 188zM188.3 0L376.6 0L376.6 188L188.3 188zM126.9 188L188.3 188L188.3 317.2zM188.3 188L376.6 188L376.6 375.9L205.6 375.9L188.3 317.2z" fill="#5490b7"/>
<path d="M188.3 142.5L188.3 188L176.7 188zM190.2 0L376.6 0L376.6 188L188.3 188L188.3 142.5zM176.7 188L188.3 188L188.3 212.3zM188.3 188L376.6 188L376.6 375.9L236.6 375.9L188.3 212.3z" fill="#5a98bd"/>
<path d="M192.8 0L376.6 0L376.6 188L192.6 188zM192.6 188L376.6 188L376.6 375.9L267.6 375.9z" fill="#5f9fc3"/>
<path d="M195.4 0L376.6 0L376.6 188L198.3 188zM198.3 188L376.6 188L376.6 375.9L298.6 375.9z" fill="#65a7c9"/>
<path d="M198 0L376.6 0L376.6 188L203.9 188zM203.9 188L376.6 188L376.6 375.9L329.5 375.9z" fill="#6baecf"/>
<path d="M200.7 0L376.6 0L376.6 188L209.5 188zM209.5 188L376.6 188L376.6 375.9L360.5 375.9z" fill="#70b4d4"/>
<path d="M203.3 0L376.6 0L376.6 188L215.2 188zM215.2 188L376.6 188L376.6 372.8z" fill="#75b8d7"/>
<path d="M205.9 0L376.6 0L376.6 188L220.8 188zM220.8 188L376.6 188L376.6 366.3z" fill="#79bcd9"/>
<path d="M208.5 0L376.6 0L376.6 188L226.4 188zM226.4 188L376.6 188L376.6 359.9z" fill="#7ec0dc"/>
<path d="M211.1 0L376.6 0L376.6 188L232.1 188zM232.1 188L376.6 188L376.6 353.4z" fill="#86c5dd"/>
<path d="M213.7 0L376.6 0L376.6 188L237.7 188zM237.7 188L376.6 188L376.6 347z" fill="#8fcadf"/>
<path d="M216.4 0L376.6 0L376.6 188L243.4 188zM243.4 188L376.6 188L376.6 340.5z" fill="#97cfe0"/>
<path d="M219 0L376.6 0L376.6 188L249 188zM249 188L376.6 188L376.6 334.1z" fill="#9fd3e0"/>
<path d="M221.6 0L376.6 0L376.6 188L254.6 188zM254.6 188L376.6 188L376.6 327.6z" fill="#a6d8e0"/>
<path d="M224.2 0L376.6 0L376.6 188L260.3 188zM260.3 188L376.6 188L376.6 321.2z" fill="#aedde0"/>
<path d="M226.8 0L376.6 0L376.6 188L265.9 188zM265.9 188L376.6 188L376.6 314.7z" fill="#bae0dc"/>
<path d="M229.4 0L376.6 0L376.6 188L271.5 188zM271.5 188L376.6 188L376.6 308.3z" fill="#c8e3d7"/>
<path d="M232 0L376.6 0L376.6 188L277.2 188zM277.2 188L376.6 188L376.6 301.8z" fill="#d6e6d2"/>
<path d="M234.7 0L376.6 0L376.6 188L282.8 188zM282.8 188L376.6 188L376.6 295.4z" fill="#e2e9cc"/>
<path d="M237.3 0L376.6 0L376.6 188L288.4 188zM288.4 188L376.6 188L376.6 288.9z" fill="#ecebc8"/>
<path d="M239.9 0L376.6 0L376.6 188L294.1 188zM294.1 188L376.6 188L376.6 282.4z" fill="#f7edc2"/>
<path d="M242.5 0L376.6 0L376.6 188L299.7 188zM299.7 188L376.6 188L376.6 276z" fill="#feeebc"/>
<path d="M245.1 0L376.6 0L376.6 188L305.4 188zM305.4 188L376.6 188L376.6 269.5z" fill="#feeab0"/>
<path d="M247.7 0L376.6 0L376.6 188L311 188zM311 188L376.6 188L376.6 263.1z" fill="#fee6a4"/>
<path d="M250.4 0L376.6 0L376.6 188L316.6 188zM316.6 188L376.6 188L376.6 256.6z" fill="#fee299"/>
<path d="M253 0L376.6 0L376.6 188L322.3 188zM322.3 188L376.6 188L376.6 250.2z" fill="#fede8e"/>
<path d="M255.6 0L376.6 0L376.6 188L327.9 188zM327.9 188L376.6 188L376.6 243.7z" fill="#feda82"/>
<path d="M258.2 0L376.6 0L376.6 188L333.5 188zM333.5 188L376.6 188L376.6 237.3z" fill="#fed677"/>
<path d="M260.8 0L376.6 0L376.6 188L339.2 188zM339.2 188L376.6 188L376.6 230.8z" fill="#fed172"/>
<path d="M263.4 0L376.6 0L376.6 188L344.8 188zM344.8 188L376.6 188L376.6 224.4z" fill="#fdcc6d"/>
<path d="M266 0L376.6 0L376.6 188L350.4 188zM350.4 188L376.6 188L376.6 217.9z" fill="#fdc768"/>
<path d="M268.7 0L376.6 0L376.6 188L356.1 188zM356.1 188L376.6 188L376.6 211.4z" fill="#fcc165"/>
<path d="M271.3 0L376.6 0L376.6 188L361.7 188zM361.7 188L376.6 188L376.6 205z" fill="#fcbb62"/>
<path d="M273.9 0L376.6 0L376.6 188L367.4 188zM367.4 188L376.6 188L376.6 198.5z" fill="#fbb65f"/>
<path d="M276.5 0L376.6 0L376.6 188L373 188zM373 188L376.6 188L376.6 192.1z" fill="#fab05b"/>
<path d="M279.1 0L376.6 0L376.6 186.2z" fill="#f9ab58"/>
<path d="M281.7 0L376.6 0L376.6 181.2z" fill="#f9a555"/>
<path d="M284.4 0L376.6 0L376.6 176.2z" fill="#f89f52"/>
<path d="M287 0L376.6 0L376.6 171.2z" fill="#f69951"/>
<path d="M289.6 0L376.6 0L376.6 166.2z" fill="#f5934f"/>
<path d="M292.2 0L376.6 0L376.6 161.2z" fill="#f48d4d"/>
<path d="M294.8 0L376.6 0L376.6 156.2z" fill="#f3874c"/>
<path d="M297.4 0L376.6 0L376.6 151.2z" fill="#f1814a"/>
<path d="M300 0L376.6 0L376.6 146.2z" fill="#f07b48"/>
<path d="M302.7 0L376.6 0L376.6 141.2z" fill="#f07649"/>
<path d="M305.3 0L376.6 0L376.6 136.2z" fill="#f0714a"/>
<path d="M307.9 0L376.6 0L376.6 131.2z" fill="#f06c4b"/>
<path d="M310.5 0L376.6 0L376.6 126.2z" fill="#ef674c"/>
<path d="M313.1 0L376.6 0L376.6 121.2z" fill="#ef624d"/>
<path d="M315.7 0L376.6 0L376.6 116.2z" fill="#ef5d4e"/>
<path d="M318.4 0L376.6 0L376.6 111.2z" fill="#fff"/>
</g>
<g transform="translate(1565.8 2925.4)">
<path d="M0 0H376.8V375.9H0z" fill="#3b6a9b"/>
<path d="M0 0L188.4 0L188.4 188L5.6 188L0 140.5zM188.4 0L376.8 0L376.8 188L188.4 188zM5.6 188L188.4 188L188.4 375.9L16 375.9zM188.4 188L376.8 188L376.8 375.9L188.4 375.9z" fill="#3e709f"/>
<path d="M0 0L188.4 0L188.4 188L13.2 188L0 76.6zM188.4 0L376.8 0L376.8 188L188.4 188zM13.2 188L188.4 188L188.4 375.9L39.6 375.9zM188.4 188L376.8 188L376.8 375.9L188.4 375.9z" fill="#4276a3"/>
<path d="M0 0L188.4 0L188.4 188L20.7 188L0 12.8zM188.4 0L376.8 0L376.8 188L188.4 188zM20.7 188L188.4 188L188.4 375.9L63.1 375.9zM188.4 188L376.8 188L376.8 375.9L188.4 375.9z" fill="#457ca8"/>
<path d="M16.9 0L188.4 0L188.4 188L28.3 188zM188.4 0L376.8 0L376.8 188L188.4 188zM28.3 188L188.4 188L188.4 375.9L86.7 375.9zM188.4 188L376.8 188L376.8 375.9L188.4 375.9z" fill="#4982ac"/>
<path d="M38.1 0L188.4 0L188.4 188L35.8 188zM188.4 0L376.8 0L376.8 188L188.4 188zM35.8 188L188.4 188L188.4 375.9L110.2 375.9zM188.4 188L376.8 188L376.8 375.9L188.4 375.9z" fill="#4e89b1"/>
<path d="M59.3 0L188.4 0L188.4 188L43.4 188zM188.4 0L376.8 0L376.8 188L188.4 188zM43.4 188L188.4 188L188.4 375.9L133.8 375.9zM188.4 188L376.8 188L376.8 375.9L188.4 375.9z" fill="#5490b7"/>
<path d="M80.5 0L188.4 0L188.4 188L50.9 188zM188.4 0L376.8 0L376.8 188L188.4 188zM50.9 188L188.4 188L188.4 375.9L157.3 375.9zM188.4 188L376.8 188L376.8 375.9L188.4 375.9z" fill="#5a98bd"/>
<path d="M101.7 0L188.4 0L188.4 188L58.5 188zM188.4 0L376.8 0L376.8 188L188.4 188zM58.5 188L188.4 188L188.4 375.9L180.9 375.9zM188.4 188L376.8 188L376.8 375.9L188.4 375.9z" fill="#5f9fc3"/>
<path d="M122.8 0L188.4 0L188.4 188L66 188zM188.4 0L376.8 0L376.8 188L188.4 188zM66 188L188.4 188L188.4 368.3zM188.4 188L376.8 188L376.8 375.9L189.8 375.9L188.4 368.3z" fill="#65a7c9"/>
<path d="M144 0L188.4 0L188.4 188L73.5 188zM188.4 0L376.8 0L376.8 188L188.4 188zM73.5 188L188.4 188L188.4 357.2zM188.4 188L376.8 188L376.8 375.9L191.8 375.9L188.4 357.2z" fill="#6baecf"/>
<path d="M165.2 0L188.4 0L188.4 188L81.1 188zM188.4 0L376.8 0L376.8 188L188.4 188zM81.1 188L188.4 188L188.4 346.1zM188.4 188L376.8 188L376.8 375.9L193.8 375.9L188.4 346.1z" fill="#70b4d4"/>
<path d="M186.4 0L188.4 0L188.4 188L88.6 188zM188.4 0L376.8 0L376.8 188L188.4 188zM88.6 188L188.4 188L188.4 335zM188.4 188L376.8 188L376.8 375.9L195.9 375.9L188.4 335z" fill="#75b8d7"/>
<path d="M188.4 13L188.4 188L96.2 188zM190.1 0L376.8 0L376.8 188L188.4 188L188.4 13zM96.2 188L188.4 188L188.4 323.8zM188.4 188L376.8 188L376.8 375.9L197.9 375.9L188.4 323.8z" fill="#79bcd9"/>
<path d="M188.4 27.3L188.4 188L103.7 188zM192.1 0L376.8 0L376.8 188L188.4 188L188.4 27.3zM103.7 188L188.4 188L188.4 312.7zM188.4 188L376.8 188L376.8 375.9L199.9 375.9L188.4 312.7z" fill="#7ec0dc"/>
<path d="M188.4 41.6L188.4 188L111.3 188zM194 0L376.8 0L376.8 188L188.4 188L188.4 41.6zM111.3 188L188.4 188L188.4 301.6zM188.4 188L376.8 188L376.8 375.9L201.9 375.9L188.4 301.6z" fill="#86c5dd"/>
<path d="M188.4 55.9L188.4 188L118.8 188zM195.9 0L376.8 0L376.8 188L188.4 188L188.4 55.9zM118.8 188L188.4 188L188.4 290.5zM188.4 188L376.8 188L376.8 375.9L204 375.9L188.4 290.5z" fill="#8fcadf"/>
<path d="M188.4 70.3L188.4 188L126.4 188zM197.8 0L376.8 0L376.8 188L188.4 188L188.4 70.3zM126.4 188L188.4 188L188.4 279.3zM188.4 188L376.8 188L376.8 375.9L206 375.9L188.4 279.3z" fill="#97cfe0"/>
<path d="M188.4 84.6L188.4 188L133.9 188zM199.7 0L376.8 0L376.8 188L188.4 188L188.4 84.6zM133.9 188L188.4 188L188.4 268.2zM188.4 188L376.8 188L376.8 375.9L208 375.9L188.4 268.2z" fill="#9fd3e0"/>
<path d="M188.4 98.9L188.4 188L141.5 188zM201.6 0L376.8 0L376.8 188L188.4 188L188.4 98.9zM141.5 188L188.4 188L188.4 257.1zM188.4 188L376.8 188L376.8 375.9L210 375.9L188.4 257.1z" fill="#a6d8e0"/>
<path d="M188.4 113.2L188.4 188L149 188zM203.6 0L376.8 0L376.8 188L188.4 188L188.4 113.2zM149 188L188.4 188L188.4 246zM188.4 188L376.8 188L376.8 375.9L212.1 375.9L188.4 246z" fill="#aedde0"/>
<path d="M188.4 127.6L188.4 188L156.6 188zM205.5 0L376.8 0L376.8 188L188.4 188L188.4 127.6zM156.6 188L188.4 188L188.4 234.8zM188.4 188L376.8 188L376.8 375.9L214.1 375.9L188.4 234.8z" fill="#bae0dc"/>
<path d="M188.4 141.9L188.4 188L164.1 188zM207.4 0L376.8 0L376.8 188L188.4 188L188.4 141.9zM164.1 188L188.4 188L188.4 223.7zM188.4 188L376.8 188L376.8 375.9L216.1 375.9L188.4 223.7z" fill="#c8e3d7"/>
<path d="M188.4 156.2L188.4 188L171.7 188zM209.3 0L376.8 0L376.8 188L188.4 188L188.4 156.2zM171.7 188L188.4 188L188.4 212.6zM188.4 188L376.8 188L376.8 375.9L218.1 375.9L188.4 212.6z" fill="#d6e6d2"/>
<path d="M188.4 170.5L188.4 188L179.2 188zM211.2 0L376.8 0L376.8 188L188.4 188L188.4 170.5zM179.2 188L188.4 188L188.4 201.5zM188.4 188L376.8 188L376.8 375.9L220.2 375.9L188.4 201.5z" fill="#e2e9cc"/>
<path d="M188.4 184.9L188.4 188L186.8 188zM213.2 0L376.8 0L376.8 188L188.4 188L188.4 184.9zM186.8 188L188.4 188L188.4 190.4zM188.4 188L376.8 188L376.8 375.9L222.2 375.9L188.4 190.4z" fill="#ecebc8"/>
<path d="M215.1 0L376.8 0L376.8 188L189.4 188zM189.4 188L376.8 188L376.8 375.9L224.2 375.9z" fill="#f7edc2"/>
<path d="M217 0L376.8 0L376.8 188L190.7 188zM190.7 188L376.8 188L376.8 375.9L226.2 375.9z" fill="#feeebc"/>
<path d="M218.9 0L376.8 0L376.8 188L191.9 188zM191.9 188L376.8 188L376.8 375.9L228.3 375.9z" fill="#feeab0"/>
<path d="M220.8 0L376.8 0L376.8 188L193.2 188zM193.2 188L376.8 188L376.8 375.9L230.3 375.9z" fill="#fee6a4"/>
<path d="M222.8 0L376.8 0L376.8 188L194.4 188zM194.4 188L376.8 188L376.8 375.9L232.3 375.9z" fill="#fee299"/>
<path d="M224.7 0L376.8 0L376.8 188L195.7 188zM195.7 188L376.8 188L376.8 375.9L234.3 375.9z" fill="#fede8e"/>
<path d="M226.6 0L376.8 0L376.8 188L197 188zM197 188L376.8 188L376.8 375.9L236.4 375.9z" fill="#feda82"/>
<path d="M228.5 0L376.8 0L376.8 188L198.2 188zM198.2 188L376.8 188L376.8 375.9L238.4 375.9z" fill="#fed677"/>
<path d="M230.4 0L376.8 0L376.8 188L199.5 188zM199.5 188L376.8 188L376.8 375.9L240.4 375.9z" fill="#fed172"/>
<path d="M232.4 0L376.8 0L376.8 188L200.8 188zM200.8 188L376.8 188L376.8 375.9L242.5 375.9z" fill="#fdcc6d"/>
<path d="M234.3 0L376.8 0L376.8 188L202 188zM202 188L376.8 188L376.8 375.9L244.5 375.9z" fill="#fdc768"/>
<path d="M236.2 0L376.8 0L376.8 188L203.3 188zM203.3 188L376.8 188L376.8 375.9L246.5 375.9z" fill="#fcc165"/>
<path d="M238.1 0L376.8 0L376.8 188L204.5 188zM204.5 188L376.8 188L376.8 375.9L248.5 375.9z" fill="#fcbb62"/>
<path d="M240 0L376.8 0L376.8 188L205.8 188zM205.8 188L376.8 188L376.8 375.9L250.6 375.9z" fill="#fbb65f"/>
<path d="M241.9 0L376.8 0L376.8 188L207.1 188zM207.1 188L376.8 188L376.8 375.9L252.6 375.9z" fill="#fab05b"/>
<path d="M243.9 0L376.8 0L376.8 188L208.3 188zM208.3 188L376.8 188L376.8 375.9L254.6 375.9z" fill="#f9ab58"/>
<path d="M245.8 0L376.8 0L376.8 188L209.6 188zM209.6 188L376.8 188L376.8 375.9L256.6 375.9z" fill="#f9a555"/>
<path d="M247.7 0L376.8 0L376.8 188L210.9 188zM210.9 188L376.8 188L376.8 375.9L258.7 375.9z" fill="#f89f52"/>
<path d="M249.6 0L376.8 0L376.8 188L212.1 188zM212.1 188L376.8 188L376.8 375.9L260.7 375.9z" fill="#f69951"/>
<path d="M251.5 0L376.8 0L376.8 188L213.4 188zM213.4 188L376.8 188L376.8 375.9L262.7 375.9z" fill="#f5934f"/>
<path d="M253.5 0L376.8 0L376.8 188L214.6 188zM214.6 188L376.8 188L376.8 375.9L264.7 375.9z" fill="#f48d4d"/>
<path d="M255.4 0L376.8 0L376.8 188L215.9 188zM215.9 188L376.8 188L376.8 375.9L266.8 375.9z" fill="#f3874c"/>
<path d="M257.3 0L376.8 0L376.8 188L217.2 188zM217.2 188L376.8 188L376.8 375.9L268.8 375.9z" fill="#f1814a"/>
<path d="M259.2 0L376.8 0L376.8 188L218.4 188zM218.4 188L376.8 188L376.8 375.9L270.8 375.9z" fill="#f07b48"/>
<path d="M261.1 0L376.8 0L376.8 188L219.7 188zM219.7 188L376.8 188L376.8 375.9L272.8 375.9z" fill="#f07649"/>
<path d="M263.1 0L376.8 0L376.8 188L221 188zM221 188L376.8 188L376.8 375.9L274.9 375.9z" fill="#f0714a"/>
<path d="M265 0L376.8 0L376.8 188L222.2 188zM222.2 188L376.8 188L376.8 375.9L276.9 375.9z" fill="#f06c4b"/>
<path d="M266.9 0L376.8 0L376.8 188L223.5 188zM223.5 188L376.8 188L376.8 375.9L278.9 375.9z" fill="#ef674c"/>
<path d="M268.8 0L376.8 0L376.8 188L224.8 188zM224.8 188L376.8 188L376.8 375.9L280.9 375.9z" fill="#ef624d"/>
<path d="M270.7 0L376.8 0L376.8 188L226 188zM226 188L376.8 188L376.8 375.9L283 375.9z" fill="#ef5d4e"/>
<path d="M272.7 0L376.8 0L376.8 188L227.3 188zM227.3 188L376.8 188L376.8 375.9L285 375.9z" fill="#fff"/>
</g>
<g transform="translate(26.4 3409.1)">
<path d="M0 0H376.6V375.9H0z" fill="#274e7d"/>
<path d="M0 0L188.3 0L188.3 188L0 188zM188.3 0L376.6 0L376.6 188L188.3 188zM0 188L188.3 188L188.3 375.9L0 375.9zM188.3 188L376.6 188L376.6 370.9L373.5 375.9L188.3 375.9z" fill="#2a5283"/>
<path d="M0 0L188.3 0L188.3 188L0 188zM188.3 0L376.6 0L376.6 188L188.3 188zM0 188L188.3 188L188.3 375.9L0 375.9zM188.3 188L376.6 188L376.6 359.6L366.4 375.9L188.3 375.9z" fill="#2d5688"/>
<path d="M0 0L188.3 0L188.3 188L0 188zM188.3 0L376.6 0L376.6 188L188.3 188zM0 188L188.3 188L188.3 375.9L0 375.9zM188.3 188L376.6 188L376.6 348.3L359.3 375.9L188.3 375.9z" fill="#305a8d"/>
<path d="M0 0L188.3 0L188.3 188L0 188zM188.3 0L376.6 0L376.6 188L188.3 188zM0 188L188.3 188L188.3 375.9L0 375.9zM188.3 188L376.6 188L376.6 337L352.2 375.9L188.3 375.9z" fill="#335f92"/>
<path d="M0 0L188.3 0L188.3 188L0 188zM188.3 0L376.6 0L376.6 188L188.3 188zM0 188L188.3 188L188.3 375.9L0 375.9zM188.3 188L376.6 188L376.6 325.7L345.1 375.9L188.3 375.9z" fill="#376597"/>
<path d="M0 0L188.3 0L188.3 188L0 188zM188.3 0L376.6 0L376.6 188L188.3 188zM0 188L188.3 188L188.3 375.9L0 375.9zM188.3 188L376.6 188L376.6 314.5L338 375.9L188.3 375.9z" fill="#3b6a9b"/>
<path d="M0 0L188.3 0L188.3 188L0 188zM188.3 0L376.6 0L376.6 188L188.3 188zM0 188L188.3 188L188.3 375.9L0 375.9zM188.3 188L376.6 188L376.6 303.2L330.9 375.9L188.3 375.9z" fill="#3e709f"/>
<path d="M0 0L188.3 0L188.3 188L3.8 188L0 178.9zM188.3 0L376.6 0L376.6 188L188.3 188zM3.8 188L188.3 188L188.3 375.9L0 375.9L0 213.9zM188.3 188L376.6 188L376.6 291.9L323.9 375.9L188.3 375.9z" fill="#4276a3"/>
<path d="M0 0L188.3 0L188.3 188L14.9 188L0 152zM188.3 0L376.6 0L376.6 188L188.3 188zM14.9 188L188.3 188L188.3 375.9L0 375.9L0 291.2zM188.3 188L376.6 188L376.6 280.6L316.8 375.9L188.3 375.9z" fill="#457ca8"/>
<path d="M0 0L188.3 0L188.3 188L26.1 188L0 125zM188.3 0L376.6 0L376.6 188L188.3 188zM26.1 188L188.3 188L188.3 375.9L0 375.9L0 368.5zM188.3 188L376.6 188L376.6 269.3L309.7 375.9L188.3 375.9z" fill="#4982ac"/>
<path d="M0 0L188.3 0L188.3 188L37.3 188L0 98.1zM188.3 0L376.6 0L376.6 188L188.3 188zM37.3 188L188.3 188L188.3 375.9L10 375.9zM188.3 188L376.6 188L376.6 258L302.6 375.9L188.3 375.9z" fill="#4e89b1"/>
<path d="M0 0L188.3 0L188.3 188L48.5 188L0 71.1zM188.3 0L376.6 0L376.6 188L188.3 188zM48.5 188L188.3 188L188.3 375.9L21.1 375.9zM188.3 188L376.6 188L376.6 246.7L295.5 375.9L188.3 375.9z" fill="#5490b7"/>
<path d="M0 0L188.3 0L188.3 188L59.7 188L0 44.2zM188.3 0L376.6 0L376.6 188L188.3 188zM59.7 188L188.3 188L188.3 375.9L32.1 375.9zM188.3 188L376.6 188L376.6 235.4L288.4 375.9L188.3 375.9z" fill="#5a98bd"/>
<path d="M0 0L188.3 0L188.3 188L70.9 188L0 17.2zM188.3 0L376.6 0L376.6 188L188.3 188zM70.9 188L188.3 188L188.3 375.9L43.2 375.9zM188.3 188L376.6 188L376.6 224.1L281.3 375.9L188.3 375.9z" fill="#5f9fc3"/>
<path d="M4.8 0L188.3 0L188.3 188L82.1 188zM188.3 0L376.6 0L376.6 188L188.3 188zM82.1 188L188.3 188L188.3 375.9L54.2 375.9zM188.3 188L376.6 188L376.6 212.8L274.2 375.9L188.3 375.9z" fill="#65a7c9"/>
<path d="M18.2 0L188.3 0L188.3 188L93.3 188zM188.3 0L376.6 0L376.6 188L188.3 188zM93.3 188L188.3 188L188.3 375.9L65.3 375.9zM188.3 188L376.6 188L376.6 201.5L267.1 375.9L188.3 375.9z" fill="#6baecf"/>
<path d="M31.6 0L188.3 0L188.3 188L104.4 188zM188.3 0L376.6 0L376.6 188L188.3 188zM104.4 188L188.3 188L188.3 375.9L76.4 375.9zM188.3 188L376.6 188L376.6 190.2L260 375.9L188.3 375.9z" fill="#70b4d4"/>
<path d="M44.9 0L188.3 0L188.3 188L115.6 188zM188.3 0L376.6 0L376.6 161.8L356 188L188.3 188zM115.6 188L188.3 188L188.3 375.9L87.4 375.9zM188.3 188L356 188L253 375.9L188.3 375.9z" fill="#75b8d7"/>
<path d="M58.3 0L188.3 0L188.3 188L126.8 188zM188.3 0L376.6 0L376.6 129.2L330.1 188L188.3 188zM126.8 188L188.3 188L188.3 375.9L98.5 375.9zM188.3 188L330.1 188L245.9 375.9L188.3 375.9z" fill="#79bcd9"/>
<path d="M71.7 0L188.3 0L188.3 188L138 188zM188.3 0L376.6 0L376.6 96.6L304.3 188L188.3 188zM138 188L188.3 188L188.3 375.9L109.5 375.9zM188.3 188L304.3 188L238.8 375.9L188.3 375.9z" fill="#7ec0dc"/>
<path d="M85.1 0L188.3 0L188.3 188L149.2 188zM188.3 0L376.6 0L376.6 64L278.5 188L188.3 188zM149.2 188L188.3 188L188.3 375.9L120.6 375.9zM188.3 188L278.5 188L231.7 375.9L188.3 375.9z" fill="#86c5dd"/>
<path d="M98.4 0L188.3 0L188.3 188L160.4 188zM188.3 0L376.6 0L376.6 31.3L252.7 188L188.3 188zM160.4 188L188.3 188L188.3 375.9L131.7 375.9zM188.3 188L252.7 188L224.6 375.9L188.3 375.9z" fill="#8fcadf"/>
<path d="M111.8 0L188.3 0L188.3 188L171.6 188zM188.3 0L375.3 0L226.9 188L188.3 188zM171.6 188L188.3 188L188.3 375.9L142.7 375.9zM188.3 188L226.9 188L217.5 375.9L188.3 375.9z" fill="#97cfe0"/>
<path d="M125.2 0L188.3 0L188.3 188L182.8 188zM188.3 0L342.6 0L201.1 188L188.3 188zM182.8 188L188.3 188L188.3 375.9L153.8 375.9zM188.3 188L201.1 188L210.4 375.9L188.3 375.9z" fill="#9fd3e0"/>
<path d="M138.6 0L188.3 0L188.3 165.5zM188.3 0L309.9 0L188.3 165.5zM188.3 224.1L188.3 375.9L164.9 375.9zM203.3 375.9L188.3 375.9L188.3 224.1z" fill="#a6d8e0"/>
<path d="M151.9 0L188.3 0L188.3 121zM188.3 0L277.2 0L188.3 121zM188.3 295.7L188.3 375.9L175.9 375.9zM196.2 375.9L188.3 375.9L188.3 295.7z" fill="#aedde0"/>
<path d="M165.3 0L188.3 0L188.3 76.5zM188.3 0L244.5 0L188.3 76.5zM188.3 367.3L188.3 375.9L187 375.9zM189.2 375.9L188.3 375.9L188.3 367.3z" fill="#bae0dc"/>
<path d="M178.7 0L188.3 0L188.3 32zM188.3 0L211.8 0L188.3 32z" fill="#c8e3d7"/>
</g>
<g transform="translate(543.4 3409.1)">
<path d="M0 0H376.4V375.9H0z" fill="#3e709f"/>
<path d="M0 0L188.2 0L188.2 188L0.8 188L0 178.6zM188.2 0L376.4 0L376.4 188L188.2 188zM0.8 188L188.2 188L188.2 375.9L0 375.9L0 189.2zM188.2 188L376.4 188L376.4 375.9L188.2 375.9z" fill="#4276a3"/>
<path d="M22.7 0L188.2 0L188.2 188L52.9 188zM188.2 0L376.4 0L376.4 188L188.2 188zM52.9 188L188.2 188L188.2 345.4zM140.4 375.9L0 375.9L0 264.5zM188.2 188L376.4 188L376.4 375.9L202.7 375.9L188.2 345.4z" fill="#457ca8"/>
<path d="M55.4 0L188.2 0L188.2 188L104.9 188zM188.2 0L376.4 0L376.4 188L188.2 188zM104.9 188L188.2 188L188.2 284.8zM45.5 375.9L0 375.9L0 339.8zM188.2 188L376.4 188L376.4 375.9L231.6 375.9L188.2 284.8z" fill="#4982ac"/>
<path d="M88.1 0L188.2 0L188.2 188L157 188zM188.2 0L376.4 0L376.4 188L188.2 188zM157 188L188.2 188L188.2 224.3zM188.2 188L376.4 188L376.4 375.9L260.4 375.9L188.2 224.3z" fill="#4e89b1"/>
<path d="M120.8 0L188.2 0L188.2 157.4zM188.2 0L376.4 0L376.4 188L193.1 188L188.2 157.4zM193.1 188L376.4 188L376.4 375.9L289.2 375.9z" fill="#5490b7"/>
<path d="M153.4 0L188.2 0L188.2 81.2zM188.2 0L376.4 0L376.4 188L205.4 188L188.2 81.2zM205.4 188L376.4 188L376.4 375.9L318 375.9z" fill="#5a98bd"/>
<path d="M186.1 0L188.2 0L188.2 4.9zM188.2 0L376.4 0L376.4 188L217.7 188L188.2 4.9zM217.7 188L376.4 188L376.4 375.9L346.9 375.9z" fill="#5f9fc3"/>
<path d="M192.2 0L376.4 0L376.4 188L229.9 188zM229.9 188L376.4 188L376.4 375.9L375.7 375.9z" fill="#65a7c9"/>
<path d="M196.5 0L376.4 0L376.4 188L242.2 188zM242.2 188L376.4 188L376.4 360.5z" fill="#6baecf"/>
<path d="M200.8 0L376.4 0L376.4 188L254.5 188zM254.5 188L376.4 188L376.4 344.7z" fill="#70b4d4"/>
<path d="M205.1 0L376.4 0L376.4 188L266.8 188zM266.8 188L376.4 188L376.4 328.9z" fill="#75b8d7"/>
<path d="M209.3 0L376.4 0L376.4 188L279.1 188zM279.1 188L376.4 188L376.4 313.1z" fill="#79bcd9"/>
<path d="M213.6 0L376.4 0L376.4 188L291.3 188zM291.3 188L376.4 188L376.4 297.3z" fill="#7ec0dc"/>
<path d="M217.9 0L376.4 0L376.4 188L303.6 188zM303.6 188L376.4 188L376.4 281.5z" fill="#86c5dd"/>
<path d="M222.2 0L376.4 0L376.4 188L315.9 188zM315.9 188L376.4 188L376.4 265.8z" fill="#8fcadf"/>
<path d="M226.5 0L376.4 0L376.4 188L328.2 188zM328.2 188L376.4 188L376.4 250z" fill="#97cfe0"/>
<path d="M230.8 0L376.4 0L376.4 188L340.4 188zM340.4 188L376.4 188L376.4 234.2z" fill="#9fd3e0"/>
<path d="M235 0L376.4 0L376.4 188L352.7 188zM352.7 188L376.4 188L376.4 218.4z" fill="#a6d8e0"/>
<path d="M239.3 0L376.4 0L376.4 188L365 188zM365 188L376.4 188L376.4 202.6z" fill="#aedde0"/>
<path d="M243.6 0L376.4 0L376.4 187.5z" fill="#bae0dc"/>
<path d="M247.9 0L376.4 0L376.4 181.5z" fill="#c8e3d7"/>
<path d="M252.2 0L376.4 0L376.4 175.4z" fill="#d6e6d2"/>
<path d="M256.5 0L376.4 0L376.4 169.4z" fill="#e2e9cc"/>
<path d="M260.7 0L376.4 0L376.4 163.3z" fill="#ecebc8"/>
<path d="M265 0L376.4 0L376.4 157.3z" fill="#f7edc2"/>
<path d="M269.3 0L376.4 0L376.4 151.2z" fill="#feeebc"/>
<path d="M273.6 0L376.4 0L376.4 145.2z" fill="#feeab0"/>
<path d="M277.9 0L376.4 0L376.4 139.1z" fill="#fee6a4"/>
<path d="M282.2 0L376.4 0L376.4 133.1z" fill="#fee299"/>
<path d="M286.4 0L376.4 0L376.4 127z" fill="#fede8e"/>
<path d="M290.7 0L376.4 0L376.4 121z" fill="#feda82"/>
<path d="M295 0L376.4 0L376.4 114.9z" fill="#fed677"/>
<path d="M299.3 0L376.4 0L376.4 108.9z" fill="#fed172"/>
<path d="M303.6 0L376.4 0L376.4 102.8z" fill="#fdcc6d"/>
<path d="M307.9 0L376.4 0L376.4 96.8z" fill="#fdc768"/>
<path d="M312.1 0L376.4 0L376.4 90.7z" fill="#fcc165"/>
<path d="M316.4 0L376.4 0L376.4 84.7z" fill="#fcbb62"/>
<path d="M320.7 0L376.4 0L376.4 78.6z" fill="#fbb65f"/>
<path d="M325 0L376.4 0L376.4 72.6z" fill="#fab05b"/>
<path d="M329.3 0L376.4 0L376.4 66.5z" fill="#f9ab58"/>
<path d="M333.6 0L376.4 0L376.4 60.5z" fill="#f9a555"/>
<path d="M337.8 0L376.4 0L376.4 54.4z" fill="#f89f52"/>
<path d="M342.1 0L376.4 0L376.4 48.4z" fill="#f69951"/>
<path d="M346.4 0L376.4 0L376.4 42.3z" fill="#f5934f"/>
<path d="M350.7 0L376.4 0L376.4 36.3z" fill="#f48d4d"/>
<path d="M355 0L376.4 0L376.4 30.2z" fill="#f3874c"/>
<path d="M359.3 0L376.4 0L376.4 24.2z" fill="#f1814a"/>
<path d="M363.5 0L376.4 0L376.4 18.1z" fill="#f07b48"/>
<path d="M367.8 0L376.4 0L376.4 12.1z" fill="#f07649"/>
<path d="M372.1 0L376.4 0L376.4 6z" fill="#f0714a"/>
<path d="M376.4 0L376.4 0L376.4 0z" fill="#f06c4b"/>
</g>
<g transform="translate(1061.4 3409.1)">
<path d="M0 0H376.6V375.9H0z" fill="#3e709f"/>
<path d="M0 0L188.3 0L188.3 188L0 188zM188.3 0L376.6 0L376.6 188L188.3 188zM0 188L188.3 188L188.3 375.9L16.5 375.9L0 335.2zM188.3 188L376.6 188L376.6 375.9L188.3 375.9z" fill="#4276a3"/>
<path d="M23.3 0L188.3 0L188.3 188L9.5 188zM188.3 0L376.6 0L376.6 188L188.3 188zM9.5 188L188.3 188L188.3 375.9L96.1 375.9zM188.3 188L376.6 188L376.6 375.9L188.3 375.9z" fill="#457ca8"/>
<path d="M90.9 0L188.3 0L188.3 188L47.7 188zM188.3 0L376.6 0L376.6 188L188.3 188zM47.7 188L188.3 188L188.3 375.9L175.6 375.9zM188.3 188L376.6 188L376.6 375.9L188.3 375.9z" fill="#4982ac"/>
<path d="M158.5 0L188.3 0L188.3 188L85.9 188zM188.3 0L376.6 0L376.6 188L188.3 188zM85.9 188L188.3 188L188.3 331zM188.3 188L376.6 188L376.6 375.9L203.5 375.9L188.3 331z" fill="#4e89b1"/>
<path d="M188.3 47L188.3 188L124.1 188zM189.8 0L376.6 0L376.6 188L188.3 188L188.3 47zM124.1 188L188.3 188L188.3 277.7zM188.3 188L376.6 188L376.6 375.9L221.5 375.9L188.3 277.7z" fill="#5490b7"/>
<path d="M188.3 130.9L188.3 188L162.3 188zM192.5 0L376.6 0L376.6 188L188.3 188L188.3 130.9zM162.3 188L188.3 188L188.3 224.3zM188.3 188L376.6 188L376.6 375.9L239.6 375.9L188.3 224.3z" fill="#5a98bd"/>
<path d="M195.3 0L376.6 0L376.6 188L190.3 188zM190.3 188L376.6 188L376.6 375.9L257.6 375.9z" fill="#5f9fc3"/>
<path d="M198 0L376.6 0L376.6 188L196.5 188zM196.5 188L376.6 188L376.6 375.9L275.7 375.9z" fill="#65a7c9"/>
<path d="M200.7 0L376.6 0L376.6 188L202.7 188zM202.7 188L376.6 188L376.6 375.9L293.7 375.9z" fill="#6baecf"/>
<path d="M203.4 0L376.6 0L376.6 188L208.9 188zM208.9 188L376.6 188L376.6 375.9L311.8 375.9z" fill="#70b4d4"/>
<path d="M206.2 0L376.6 0L376.6 188L215.1 188zM215.1 188L376.6 188L376.6 375.9L329.8 375.9z" fill="#75b8d7"/>
<path d="M208.9 0L376.6 0L376.6 188L221.3 188zM221.3 188L376.6 188L376.6 375.9L347.9 375.9z" fill="#79bcd9"/>
<path d="M211.6 0L376.6 0L376.6 188L227.4 188zM227.4 188L376.6 188L376.6 375.9L365.9 375.9z" fill="#7ec0dc"/>
<path d="M214.3 0L376.6 0L376.6 188L233.6 188zM233.6 188L376.6 188L376.6 372.6z" fill="#86c5dd"/>
<path d="M217.1 0L376.6 0L376.6 188L239.8 188zM239.8 188L376.6 188L376.6 364.6z" fill="#8fcadf"/>
<path d="M219.8 0L376.6 0L376.6 188L246 188zM246 188L376.6 188L376.6 356.6z" fill="#97cfe0"/>
<path d="M222.5 0L376.6 0L376.6 188L252.2 188zM252.2 188L376.6 188L376.6 348.6z" fill="#9fd3e0"/>
<path d="M225.2 0L376.6 0L376.6 188L258.4 188zM258.4 188L376.6 188L376.6 340.6z" fill="#a6d8e0"/>
<path d="M228 0L376.6 0L376.6 188L264.6 188zM264.6 188L376.6 188L376.6 332.6z" fill="#aedde0"/>
<path d="M230.7 0L376.6 0L376.6 188L270.8 188zM270.8 188L376.6 188L376.6 324.6z" fill="#bae0dc"/>
<path d="M233.4 0L376.6 0L376.6 188L277 188zM277 188L376.6 188L376.6 316.6z" fill="#c8e3d7"/>
<path d="M236.1 0L376.6 0L376.6 188L283.2 188zM283.2 188L376.6 188L376.6 308.6z" fill="#d6e6d2"/>
<path d="M238.9 0L376.6 0L376.6 188L289.4 188zM289.4 188L376.6 188L376.6 300.6z" fill="#e2e9cc"/>
<path d="M241.6 0L376.6 0L376.6 188L295.6 188zM295.6 188L376.6 188L376.6 292.6z" fill="#ecebc8"/>
<path d="M244.3 0L376.6 0L376.6 188L301.8 188zM301.8 188L376.6 188L376.6 284.6z" fill="#f7edc2"/>
<path d="M247 0L376.6 0L376.6 188L308 188zM308 188L376.6 188L376.6 276.6z" fill="#feeebc"/>
<path d="M249.8 0L376.6 0L376.6 188L314.2 188zM314.2 188L376.6 188L376.6 268.6z" fill="#feeab0"/>
<path d="M252.5 0L376.6 0L376.6 188L320.4 188zM320.4 188L376.6 188L376.6 260.6z" fill="#fee6a4"/>
<path d="M255.2 0L376.6 0L376.6 188L326.6 188zM326.6 188L376.6 188L376.6 252.6z" fill="#fee299"/>
<path d="M257.9 0L376.6 0L376.6 188L332.7 188zM332.7 188L376.6 188L376.6 244.6z" fill="#fede8e"/>
<path d="M260.7 0L376.6 0L376.6 188L338.9 188zM338.9 188L376.6 188L376.6 236.6z" fill="#feda82"/>
<path d="M263.4 0L376.6 0L376.6 188L345.1 188zM345.1 188L376.6 188L376.6 228.6z" fill="#fed677"/>
<path d="M266.1 0L376.6 0L376.6 188L351.3 188zM351.3 188L376.6 188L376.6 220.6z" fill="#fed172"/>
<path d="M268.8 0L376.6 0L376.6 188L357.5 188zM357.5 188L376.6 188L376.6 212.6z" fill="#fdcc6d"/>
<path d="M271.6 0L376.6 0L376.6 188L363.7 188zM363.7 188L376.6 188L376.6 204.6z" fill="#fdc768"/>
<path d="M274.3 0L376.6 0L376.6 188L369.9 188zM369.9 188L376.6 188L376.6 196.6z" fill="#fcc165"/>
<path d="M277 0L376.6 0L376.6 188L376.1 188zM376.1 188L376.6 188L376.6 188.6z" fill="#fcbb62"/>
<path d="M279.7 0L376.6 0L376.6 183.2z" fill="#fbb65f"/>
<path d="M282.4 0L376.6 0L376.6 178.1z" fill="#fab05b"/>
<path d="M285.2 0L376.6 0L376.6 172.9z" fill="#f9ab58"/>
<path d="M287.9 0L376.6 0L376.6 167.8z" fill="#f9a555"/>
<path d="M290.6 0L376.6 0L376.6 162.6z" fill="#f89f52"/>
<path d="M293.3 0L376.6 0L376.6 157.4z" fill="#f69951"/>
<path d="M296.1 0L376.6 0L376.6 152.3z" fill="#f5934f"/>
<path d="M298.8 0L376.6 0L376.6 147.1z" fill="#f48d4d"/>
<path d="M301.5 0L376.6 0L376.6 142z" fill="#f3874c"/>
<path d="M304.2 0L376.6 0L376.6 136.8z" fill="#f1814a"/>
<path d="M307 0L376.6 0L376.6 131.7z" fill="#f07b48"/>
<path d="M309.7 0L376.6 0L376.6 126.5z" fill="#f07649"/>
<path d="M312.4 0L376.6 0L376.6 121.4z" fill="#f0714a"/>
<path d="M315.1 0L376.6 0L376.6 116.2z" fill="#f06c4b"/>
<path d="M317.9 0L376.6 0L376.6 111.1z" fill="#ef674c"/>
<path d="M320.6 0L376.6 0L376.6 105.9z" fill="#ef624d"/>
<path d="M323.3 0L376.6 0L376.6 100.8z" fill="#ef5d4e"/>
<path d="M326 0L376.6 0L376.6 95.6z" fill="#fff"/>
</g>
<g transform="translate(1565.8 3409.1)">
<path d="M0 0H376.8V375.9H0z" fill="#3e709f"/>
<path d="M0 0L188.4 0L188.4 188L5.5 188L0 25.3zM188.4 0L376.8 0L376.8 188L188.4 188zM5.5 188L188.4 188L188.4 375.9L0 375.9L0 339zM188.4 188L376.8 188L376.8 375.9L188.4 375.9z" fill="#4276a3"/>
<path d="M17.9 0L188.4 0L188.4 188L13.2 188zM188.4 0L376.8 0L376.8 188L188.4 188zM13.2 188L188.4 188L188.4 375.9L20.5 375.9zM188.4 188L376.8 188L376.8 375.9L188.4 375.9z" fill="#457ca8"/>
<path d="M38.1 0L188.4 0L188.4 188L20.8 188zM188.4 0L376.8 0L376.8 188L188.4 188zM20.8 188L188.4 188L188.4 375.9L45.3 375.9zM188.4 188L376.8 188L376.8 375.9L188.4 375.9z" fill="#4982ac"/>
<path d="M58.2 0L188.4 0L188.4 188L28.4 188zM188.4 0L376.8 0L376.8 188L188.4 188zM28.4 188L188.4 188L188.4 375.9L70.2 375.9zM188.4 188L376.8 188L376.8 375.9L188.4 375.9z" fill="#4e89b1"/>
<path d="M78.4 0L188.4 0L188.4 188L36.1 188zM188.4 0L376.8 0L376.8 188L188.4 188zM36.1 188L188.4 188L188.4 375.9L95 375.9zM188.4 188L376.8 188L376.8 375.9L188.4 375.9z" fill="#5490b7"/>
<path d="M98.6 0L188.4 0L188.4 188L43.7 188zM188.4 0L376.8 0L376.8 188L188.4 188zM43.7 188L188.4 188L188.4 375.9L119.8 375.9zM188.4 188L376.8 188L376.8 375.9L188.4 375.9z" fill="#5a98bd"/>
<path d="M118.7 0L188.4 0L188.4 188L51.4 188zM188.4 0L376.8 0L376.8 188L188.4 188zM51.4 188L188.4 188L188.4 375.9L144.7 375.9zM188.4 188L376.8 188L376.8 375.9L188.4 375.9z" fill="#5f9fc3"/>
<path d="M138.9 0L188.4 0L188.4 188L59 188zM188.4 0L376.8 0L376.8 188L188.4 188zM59 188L188.4 188L188.4 375.9L169.5 375.9zM188.4 188L376.8 188L376.8 375.9L188.4 375.9z" fill="#65a7c9"/>
<path d="M159 0L188.4 0L188.4 188L66.7 188zM188.4 0L376.8 0L376.8 188L188.4 188zM66.7 188L188.4 188L188.4 373.1zM188.4 188L376.8 188L376.8 375.9L188.9 375.9L188.4 373.1z" fill="#6baecf"/>
<path d="M179.2 0L188.4 0L188.4 188L74.3 188zM188.4 0L376.8 0L376.8 188L188.4 188zM74.3 188L188.4 188L188.4 361.5zM188.4 188L376.8 188L376.8 375.9L190.8 375.9L188.4 361.5z" fill="#70b4d4"/>
<path d="M188.4 7.1L188.4 188L82 188zM189.4 0L376.8 0L376.8 188L188.4 188L188.4 7.1zM82 188L188.4 188L188.4 349.8zM188.4 188L376.8 188L376.8 375.9L192.7 375.9L188.4 349.8z" fill="#75b8d7"/>
<path d="M188.4 20.1L188.4 188L89.6 188zM191.2 0L376.8 0L376.8 188L188.4 188L188.4 20.1zM89.6 188L188.4 188L188.4 338.2zM188.4 188L376.8 188L376.8 375.9L194.7 375.9L188.4 338.2z" fill="#79bcd9"/>
<path d="M188.4 33.1L188.4 188L97.3 188zM193.1 0L376.8 0L376.8 188L188.4 188L188.4 33.1zM97.3 188L188.4 188L188.4 326.6zM188.4 188L376.8 188L376.8 375.9L196.6 375.9L188.4 326.6z" fill="#7ec0dc"/>
<path d="M188.4 46.1L188.4 188L104.9 188zM194.9 0L376.8 0L376.8 188L188.4 188L188.4 46.1zM104.9 188L188.4 188L188.4 315zM188.4 188L376.8 188L376.8 375.9L198.6 375.9L188.4 315z" fill="#86c5dd"/>
<path d="M188.4 59L188.4 188L112.6 188zM196.7 0L376.8 0L376.8 188L188.4 188L188.4 59zM112.6 188L188.4 188L188.4 303.3zM188.4 188L376.8 188L376.8 375.9L200.5 375.9L188.4 303.3z" fill="#8fcadf"/>
<path d="M188.4 72L188.4 188L120.2 188zM198.6 0L376.8 0L376.8 188L188.4 188L188.4 72zM120.2 188L188.4 188L188.4 291.7zM188.4 188L376.8 188L376.8 375.9L202.5 375.9L188.4 291.7z" fill="#97cfe0"/>
<path d="M188.4 85L188.4 188L127.8 188zM200.4 0L376.8 0L376.8 188L188.4 188L188.4 85zM127.8 188L188.4 188L188.4 280.1zM188.4 188L376.8 188L376.8 375.9L204.4 375.9L188.4 280.1z" fill="#9fd3e0"/>
<path d="M188.4 98L188.4 188L135.5 188zM202.3 0L376.8 0L376.8 188L188.4 188L188.4 98zM135.5 188L188.4 188L188.4 268.4zM188.4 188L376.8 188L376.8 375.9L206.3 375.9L188.4 268.4z" fill="#a6d8e0"/>
<path d="M188.4 111L188.4 188L143.1 188zM204.1 0L376.8 0L376.8 188L188.4 188L188.4 111zM143.1 188L188.4 188L188.4 256.8zM188.4 188L376.8 188L376.8 375.9L208.3 375.9L188.4 256.8z" fill="#aedde0"/>
<path d="M188.4 124L188.4 188L150.8 188zM205.9 0L376.8 0L376.8 188L188.4 188L188.4 124zM150.8 188L188.4 188L188.4 245.2zM188.4 188L376.8 188L376.8 375.9L210.2 375.9L188.4 245.2z" fill="#bae0dc"/>
<path d="M188.4 137L188.4 188L158.4 188zM207.8 0L376.8 0L376.8 188L188.4 188L188.4 137zM158.4 188L188.4 188L188.4 233.5zM188.4 188L376.8 188L376.8 375.9L212.2 375.9L188.4 233.5z" fill="#c8e3d7"/>
<path d="M188.4 150L188.4 188L166.1 188zM209.6 0L376.8 0L376.8 188L188.4 188L188.4 150zM166.1 188L188.4 188L188.4 221.9zM188.4 188L376.8 188L376.8 375.9L214.1 375.9L188.4 221.9z" fill="#d6e6d2"/>
<path d="M188.4 163L188.4 188L173.7 188zM211.5 0L376.8 0L376.8 188L188.4 188L188.4 163zM173.7 188L188.4 188L188.4 210.3zM188.4 188L376.8 188L376.8 375.9L216 375.9L188.4 210.3z" fill="#e2e9cc"/>
<path d="M188.4 176L188.4 188L181.4 188zM213.3 0L376.8 0L376.8 188L188.4 188L188.4 176zM181.4 188L188.4 188L188.4 198.7zM188.4 188L376.8 188L376.8 375.9L218 375.9L188.4 198.7z" fill="#ecebc8"/>
<path d="M215.1 0L376.8 0L376.8 188L188.5 188zM188.5 188L376.8 188L376.8 375.9L219.9 375.9z" fill="#f7edc2"/>
<path d="M217 0L376.8 0L376.8 188L190 188zM190 188L376.8 188L376.8 375.9L221.9 375.9z" fill="#feeebc"/>
<path d="M218.8 0L376.8 0L376.8 188L191.4 188zM191.4 188L376.8 188L376.8 375.9L223.8 375.9z" fill="#feeab0"/>
<path d="M220.6 0L376.8 0L376.8 188L192.8 188zM192.8 188L376.8 188L376.8 375.9L225.7 375.9z" fill="#fee6a4"/>
<path d="M222.5 0L376.8 0L376.8 188L194.3 188zM194.3 188L376.8 188L376.8 375.9L227.7 375.9z" fill="#fee299"/>
<path d="M224.3 0L376.8 0L376.8 188L195.7 188zM195.7 188L376.8 188L376.8 375.9L229.6 375.9z" fill="#fede8e"/>
<path d="M226.2 0L376.8 0L376.8 188L197.2 188zM197.2 188L376.8 188L376.8 375.9L231.6 375.9z" fill="#feda82"/>
<path d="M228 0L376.8 0L376.8 188L198.6 188zM198.6 188L376.8 188L376.8 375.9L233.5 375.9z" fill="#fed677"/>
<path d="M229.8 0L376.8 0L376.8 188L200.1 188zM200.1 188L376.8 188L376.8 375.9L235.5 375.9z" fill="#fed172"/>
<path d="M231.7 0L376.8 0L376.8 188L201.5 188zM201.5 188L376.8 188L376.8 375.9L237.4 375.9z" fill="#fdcc6d"/>
<path d="M233.5 0L376.8 0L376.8 188L202.9 188zM202.9 188L376.8 188L376.8 375.9L239.3 375.9z" fill="#fdc768"/>
<path d="M235.3 0L376.8 0L376.8 188L204.4 188zM204.4 188L376.8 188L376.8 375.9L241.3 375.9z" fill="#fcc165"/>
<path d="M237.2 0L376.8 0L376.8 188L205.8 188zM205.8 188L376.8 188L376.8 375.9L243.2 375.9z" fill="#fcbb62"/>
<path d="M239 0L376.8 0L376.8 188L207.3 188zM207.3 188L376.8 188L376.8 375.9L245.2 375.9z" fill="#fbb65f"/>
<path d="M240.9 0L376.8 0L376.8 188L208.7 188zM208.7 188L376.8 188L376.8 375.9L247.1 375.9z" fill="#fab05b"/>
<path d="M242.7 0L376.8 0L376.8 188L210.2 188zM210.2 188L376.8 188L376.8 375.9L249 375.9z" fill="#f9ab58"/>
<path d="M244.5 0L376.8 0L376.8 188L211.6 188zM211.6 188L376.8 188L376.8 375.9L251 375.9z" fill="#f9a555"/>
<path d="M246.4 0L376.8 0L376.8 188L213 188zM213 188L376.8 188L376.8 375.9L252.9 375.9z" fill="#f89f52"/>
<path d="M248.2 0L376.8 0L376.8 188L214.5 188zM214.5 188L376.8 188L376.8 375.9L254.9 375.9z" fill="#f69951"/>
<path d="M250 0L376.8 0L376.8 188L215.9 188zM215.9 188L376.8 188L376.8 375.9L256.8 375.9z" fill="#f5934f"/>
<path d="M251.9 0L376.8 0L376.8 188L217.4 188zM217.4 188L376.8 188L376.8 375.9L258.7 375.9z" fill="#f48d4d"/>
<path d="M253.7 0L376.8 0L376.8 188L218.8 188zM218.8 188L376.8 188L376.8 375.9L260.7 375.9z" fill="#f3874c"/>
<path d="M255.6 0L376.8 0L376.8 188L220.3 188zM220.3 188L376.8 188L376.8 375.9L262.6 375.9z" fill="#f1814a"/>
<path d="M257.4 0L376.8 0L376.8 188L221.7 188zM221.7 188L376.8 188L376.8 375.9L264.6 375.9z" fill="#f07b48"/>
<path d="M259.2 0L376.8 0L376.8 188L223.1 188zM223.1 188L376.8 188L376.8 375.9L266.5 375.9z" fill="#f07649"/>
<path d="M261.1 0L376.8 0L376.8 188L224.6 188zM224.6 188L376.8 188L376.8 375.9L268.5 375.9z" fill="#f0714a"/>
<path d="M262.9 0L376.8 0L376.8 188L226 188zM226 188L376.8 188L376.8 375.9L270.4 375.9z" fill="#f06c4b"/>
<path d="M264.7 0L376.8 0L376.8 188L227.5 188zM227.5 188L376.8 188L376.8 375.9L272.3 375.9z" fill="#ef674c"/>
<path d="M266.6 0L376.8 0L376.8 188L228.9 188zM228.9 188L376.8 188L376.8 375.9L274.3 375.9z" fill="#ef624d"/>
<path d="M268.4 0L376.8 0L376.8 188L230.4 188zM230.4 188L376.8 188L376.8 375.9L276.2 375.9z" fill="#ef5d4e"/>
<path d="M270.3 0L376.8 0L376.8 188L231.8 188zM231.8 188L376.8 188L376.8 375.9L278.2 375.9z" fill="#fff"/>
</g>
<g transform="translate(26.4 3894.1)">
<path d="M0 0H376.6V376.9H0z" fill="#305a8d"/>
<path d="M0 0L182.6 0L188.3 4.8L188.3 188.5L0 188.5zM192.5 0L376.6 0L376.6 187.5zM375.5 188.5L188.3 188.5L188.3 4.8zM0 188.5L188.3 188.5L188.3 376.9L0 376.9zM188.3 188.5L375.5 188.5L376.6 190.3L376.6 376.9L188.3 376.9z" fill="#335f92"/>
<path d="M0 0L171 0L188.3 14.5L188.3 188.5L0 188.5zM201 0L376.6 0L376.6 178.8zM365.6 188.5L188.3 188.5L188.3 14.5zM0 188.5L188.3 188.5L188.3 376.9L0 376.9zM188.3 188.5L365.6 188.5L376.6 206.8L376.6 376.9L188.3 376.9z" fill="#376597"/>
<path d="M0 0L159.4 0L188.3 24.2L188.3 188.5L0 188.5zM209.5 0L376.6 0L376.6 170.2zM355.7 188.5L188.3 188.5L188.3 24.2zM0 188.5L188.3 188.5L188.3 376.9L0 376.9zM188.3 188.5L355.7 188.5L376.6 223.4L376.6 376.9L188.3 376.9z" fill="#3b6a9b"/>
<path d="M0 0L147.8 0L188.3 33.9L188.3 188.5L0 188.5zM218 0L376.6 0L376.6 161.5zM345.9 188.5L188.3 188.5L188.3 33.9zM0 188.5L188.3 188.5L188.3 376.9L0 376.9zM188.3 188.5L345.9 188.5L376.6 239.9L376.6 376.9L188.3 376.9z" fill="#3e709f"/>
<path d="M0 0L136.2 0L188.3 43.5L188.3 188.5L0 188.5zM226.5 0L376.6 0L376.6 152.8zM336 188.5L188.3 188.5L188.3 43.5zM0 188.5L188.3 188.5L188.3 376.9L0 376.9zM188.3 188.5L336 188.5L376.6 256.5L376.6 376.9L188.3 376.9z" fill="#4276a3"/>
<path d="M0 0L124.6 0L188.3 53.2L188.3 188.5L0 188.5zM235 0L376.6 0L376.6 144.2zM326.1 188.5L188.3 188.5L188.3 53.2zM0 188.5L188.3 188.5L188.3 376.9L0 376.9zM188.3 188.5L326.1 188.5L376.6 273L376.6 376.9L188.3 376.9z" fill="#457ca8"/>
<path d="M0 0L113.1 0L188.3 62.9L188.3 188.5L0 188.5zM243.5 0L376.6 0L376.6 135.5zM316.3 188.5L188.3 188.5L188.3 62.9zM0 188.5L188.3 188.5L188.3 376.9L0 376.9zM188.3 188.5L316.3 188.5L376.6 289.6L376.6 376.9L188.3 376.9z" fill="#4982ac"/>
<path d="M0 0L101.5 0L188.3 72.6L188.3 188.5L0 188.5zM252 0L376.6 0L376.6 126.9zM306.4 188.5L188.3 188.5L188.3 72.6zM0 188.5L188.3 188.5L188.3 376.9L0 376.9zM188.3 188.5L306.4 188.5L376.6 306.1L376.6 376.9L188.3 376.9z" fill="#4e89b1"/>
<path d="M0 0L89.9 0L188.3 82.3L188.3 188.5L0 188.5zM260.5 0L376.6 0L376.6 118.2zM296.5 188.5L188.3 188.5L188.3 82.3zM0 188.5L188.3 188.5L188.3 376.9L0 376.9zM188.3 188.5L296.5 188.5L376.6 322.6L376.6 376.9L188.3 376.9z" fill="#5490b7"/>
<path d="M0 0L78.3 0L188.3 92L188.3 188.5L0 188.5zM269 0L376.6 0L376.6 109.5zM286.6 188.5L188.3 188.5L188.3 92zM0 188.5L188.3 188.5L188.3 376.9L0 376.9zM188.3 188.5L286.6 188.5L376.6 339.2L376.6 376.9L188.3 376.9z" fill="#5a98bd"/>
<path d="M0 0L66.7 0L188.3 101.7L188.3 188.5L0 188.5zM277.6 0L376.6 0L376.6 100.9zM276.8 188.5L188.3 188.5L188.3 101.7zM0 188.5L188.3 188.5L188.3 376.9L0 376.9zM188.3 188.5L276.8 188.5L376.6 355.7L376.6 376.9L188.3 376.9z" fill="#5f9fc3"/>
<path d="M0 0L55.1 0L188.3 111.3L188.3 188.5L0 188.5zM286.1 0L376.6 0L376.6 92.2zM266.9 188.5L188.3 188.5L188.3 111.3zM0 188.5L188.3 188.5L188.3 376.9L0 376.9zM188.3 188.5L266.9 188.5L376.6 372.3L376.6 376.9L188.3 376.9z" fill="#65a7c9"/>
<path d="M0 0L43.6 0L188.3 121L188.3 188.5L0 188.5zM294.6 0L376.6 0L376.6 83.6zM257 188.5L188.3 188.5L188.3 121zM0 188.5L188.3 188.5L188.3 359.2L0 329.8zM188.3 188.5L257 188.5L188.3 359.2z" fill="#6baecf"/>
<path d="M0 0L32 0L188.3 130.7L188.3 188.5L0 188.5zM303.1 0L376.6 0L376.6 74.9zM247.1 188.5L188.3 188.5L188.3 130.7zM0 188.5L188.3 188.5L188.3 334.7L0 212zM188.3 188.5L247.1 188.5L188.3 334.7z" fill="#70b4d4"/>
<path d="M0 0L20.4 0L188.3 140.4L188.3 188.5L26.2 188.5L0 129.6zM311.6 0L376.6 0L376.6 66.2zM237.3 188.5L188.3 188.5L188.3 140.4zM26.2 188.5L188.3 188.5L188.3 310.2zM188.3 188.5L237.3 188.5L188.3 310.2z" fill="#75b8d7"/>
<path d="M0 0L8.8 0L188.3 150.1L188.3 188.5L58.8 188.5L0 55.9zM320.1 0L376.6 0L376.6 57.6zM227.4 188.5L188.3 188.5L188.3 150.1zM58.8 188.5L188.3 188.5L188.3 285.6zM188.3 188.5L227.4 188.5L188.3 285.6z" fill="#79bcd9"/>
<path d="M188.3 159.8L188.3 188.5L91.5 188.5zM328.6 0L376.6 0L376.6 48.9zM217.5 188.5L188.3 188.5L188.3 159.8zM91.5 188.5L188.3 188.5L188.3 261.1zM188.3 188.5L217.5 188.5L188.3 261.1z" fill="#7ec0dc"/>
<path d="M188.3 169.5L188.3 188.5L124.2 188.5zM337.1 0L376.6 0L376.6 40.3zM207.7 188.5L188.3 188.5L188.3 169.5zM124.2 188.5L188.3 188.5L188.3 236.5zM188.3 188.5L207.7 188.5L188.3 236.5z" fill="#86c5dd"/>
<path d="M188.3 179.2L188.3 188.5L156.9 188.5zM345.6 0L376.6 0L376.6 31.6zM197.8 188.5L188.3 188.5L188.3 179.2zM156.9 188.5L188.3 188.5L188.3 212zM188.3 188.5L197.8 188.5L188.3 212z" fill="#8fcadf"/>
<path d="M354.1 0L376.6 0L376.6 22.9z" fill="#97cfe0"/>
<path d="M362.6 0L376.6 0L376.6 14.3z" fill="#9fd3e0"/>
<path d="M371.1 0L376.6 0L376.6 5.6z" fill="#a6d8e0"/>
</g>
<g transform="translate(543.4 3894.1)">
<path d="M0 0H376.4V376.9H0z" fill="#3e709f"/>
<path d="M0 0L188.2 0L188.2 188.5L20.3 188.5L0 149.2zM188.2 0L376.4 0L376.4 188.5L188.2 188.5zM20.3 188.5L188.2 188.5L188.2 336.2L142 376.9L0 376.9L0 212zM188.2 188.5L376.4 188.5L376.4 376.9L224.9 376.9L188.2 336.2z" fill="#4276a3"/>
<path d="M0 0L188.2 0L188.2 188.5L71 188.5L0 51zM188.2 0L376.4 0L376.4 188.5L188.2 188.5zM71 188.5L188.2 188.5L188.2 291.6L91.3 376.9L0 376.9L0 270.9zM188.2 188.5L376.4 188.5L376.4 376.9L265.2 376.9L188.2 291.6z" fill="#457ca8"/>
<path d="M15.7 0L188.2 0L188.2 188.5L121.7 188.5zM188.2 0L376.4 0L376.4 188.5L188.2 188.5zM121.7 188.5L188.2 188.5L188.2 247L40.6 376.9L0 376.9L0 329.8zM188.2 188.5L376.4 188.5L376.4 376.9L305.5 376.9L188.2 247z" fill="#4982ac"/>
<path d="M48.4 0L188.2 0L188.2 188.5L172.4 188.5zM188.2 0L376.4 0L376.4 188.5L188.2 188.5zM172.4 188.5L188.2 188.5L188.2 202.4zM188.2 188.5L376.4 188.5L376.4 376.9L345.8 376.9L188.2 202.4z" fill="#4e89b1"/>
<path d="M81 0L188.2 0L188.2 155.8zM188.2 0L376.4 0L376.4 188.5L195.9 188.5L188.2 155.8zM195.9 188.5L376.4 188.5L376.4 374.1z" fill="#5490b7"/>
<path d="M113.7 0L188.2 0L188.2 108.3zM188.2 0L376.4 0L376.4 188.5L207.1 188.5L188.2 108.3zM207.1 188.5L376.4 188.5L376.4 362.6z" fill="#5a98bd"/>
<path d="M146.4 0L188.2 0L188.2 60.8zM188.2 0L376.4 0L376.4 188.5L218.3 188.5L188.2 60.8zM218.3 188.5L376.4 188.5L376.4 351.1z" fill="#5f9fc3"/>
<path d="M179.1 0L188.2 0L188.2 13.3zM188.2 0L376.4 0L376.4 188.5L229.4 188.5L188.2 13.3zM229.4 188.5L376.4 188.5L376.4 339.6z" fill="#65a7c9"/>
<path d="M191.1 0L376.4 0L376.4 188.5L240.6 188.5zM240.6 188.5L376.4 188.5L376.4 328.1z" fill="#6baecf"/>
<path d="M195.2 0L376.4 0L376.4 188.5L251.8 188.5zM251.8 188.5L376.4 188.5L376.4 316.6z" fill="#70b4d4"/>
<path d="M199.3 0L376.4 0L376.4 188.5L263 188.5zM263 188.5L376.4 188.5L376.4 305.1z" fill="#75b8d7"/>
<path d="M203.4 0L376.4 0L376.4 188.5L274.2 188.5zM274.2 188.5L376.4 188.5L376.4 293.6z" fill="#79bcd9"/>
<path d="M207.5 0L376.4 0L376.4 188.5L285.3 188.5zM285.3 188.5L376.4 188.5L376.4 282.1z" fill="#7ec0dc"/>
<path d="M211.6 0L376.4 0L376.4 188.5L296.5 188.5zM296.5 188.5L376.4 188.5L376.4 270.6z" fill="#86c5dd"/>
<path d="M215.6 0L376.4 0L376.4 188.5L307.7 188.5zM307.7 188.5L376.4 188.5L376.4 259.1z" fill="#8fcadf"/>
<path d="M219.7 0L376.4 0L376.4 188.5L318.9 188.5zM318.9 188.5L376.4 188.5L376.4 247.6z" fill="#97cfe0"/>
<path d="M223.8 0L376.4 0L376.4 188.5L330.1 188.5zM330.1 188.5L376.4 188.5L376.4 236.1z" fill="#9fd3e0"/>
<path d="M227.9 0L376.4 0L376.4 188.5L341.2 188.5zM341.2 188.5L376.4 188.5L376.4 224.6z" fill="#a6d8e0"/>
<path d="M232 0L376.4 0L376.4 188.5L352.4 188.5zM352.4 188.5L376.4 188.5L376.4 213.1z" fill="#aedde0"/>
<path d="M236.1 0L376.4 0L376.4 188.5L363.6 188.5zM363.6 188.5L376.4 188.5L376.4 201.6z" fill="#bae0dc"/>
<path d="M240.2 0L376.4 0L376.4 188.5L374.8 188.5zM374.8 188.5L376.4 188.5L376.4 190.1z" fill="#c8e3d7"/>
<path d="M244.2 0L376.4 0L376.4 183.6z" fill="#d6e6d2"/>
<path d="M248.3 0L376.4 0L376.4 177.9z" fill="#e2e9cc"/>
<path d="M252.4 0L376.4 0L376.4 172.2z" fill="#ecebc8"/>
<path d="M256.5 0L376.4 0L376.4 166.6z" fill="#f7edc2"/>
<path d="M260.6 0L376.4 0L376.4 160.9z" fill="#feeebc"/>
<path d="M264.7 0L376.4 0L376.4 155.2z" fill="#feeab0"/>
<path d="M268.7 0L376.4 0L376.4 149.6z" fill="#fee6a4"/>
<path d="M272.8 0L376.4 0L376.4 143.9z" fill="#fee299"/>
<path d="M276.9 0L376.4 0L376.4 138.2z" fill="#fede8e"/>
<path d="M281 0L376.4 0L376.4 132.5z" fill="#feda82"/>
<path d="M285.1 0L376.4 0L376.4 126.9z" fill="#fed677"/>
<path d="M289.2 0L376.4 0L376.4 121.2z" fill="#fed172"/>
<path d="M293.2 0L376.4 0L376.4 115.5z" fill="#fdcc6d"/>
<path d="M297.3 0L376.4 0L376.4 109.8z" fill="#fdc768"/>
<path d="M301.4 0L376.4 0L376.4 104.2z" fill="#fcc165"/>
<path d="M305.5 0L376.4 0L376.4 98.5z" fill="#fcbb62"/>
<path d="M309.6 0L376.4 0L376.4 92.8z" fill="#fbb65f"/>
<path d="M313.7 0L376.4 0L376.4 87.1z" fill="#fab05b"/>
<path d="M317.8 0L376.4 0L376.4 81.5z" fill="#f9ab58"/>
<path d="M321.8 0L376.4 0L376.4 75.8z" fill="#f9a555"/>
<path d="M325.9 0L376.4 0L376.4 70.1z" fill="#f89f52"/>
<path d="M330 0L376.4 0L376.4 64.5z" fill="#f69951"/>
<path d="M334.1 0L376.4 0L376.4 58.8z" fill="#f5934f"/>
<path d="M338.2 0L376.4 0L376.4 53.1z" fill="#f48d4d"/>
<path d="M342.3 0L376.4 0L376.4 47.4z" fill="#f3874c"/>
<path d="M346.3 0L376.4 0L376.4 41.8z" fill="#f1814a"/>
<path d="M350.4 0L376.4 0L376.4 36.1z" fill="#f07b48"/>
<path d="M354.5 0L376.4 0L376.4 30.4z" fill="#f07649"/>
<path d="M358.6 0L376.4 0L376.4 24.7z" fill="#f0714a"/>
<path d="M362.7 0L376.4 0L376.4 19.1z" fill="#f06c4b"/>
<path d="M366.8 0L376.4 0L376.4 13.4z" fill="#ef674c"/>
<path d="M370.8 0L376.4 0L376.4 7.7z" fill="#ef624d"/>
<path d="M374.9 0L376.4 0L376.4 2z" fill="#ef5d4e"/>
</g>
<g transform="translate(1061.4 3894.1)">
<path d="M0 0H376.6V376.9H0z" fill="#3b6a9b"/>
<path d="M0 0L188.3 0L188.3 188.5L0 188.5zM188.3 0L376.6 0L376.6 188.5L188.3 188.5zM0 188.5L188.3 188.5L188.3 376.9L5.1 376.9L0 372.7zM188.3 188.5L376.6 188.5L376.6 376.9L188.3 376.9z" fill="#3e709f"/>
<path d="M0 0L188.3 0L188.3 188.5L0 188.5zM188.3 0L376.6 0L376.6 188.5L188.3 188.5zM0 188.5L188.3 188.5L188.3 376.9L133 376.9L0 267.5zM188.3 188.5L376.6 188.5L376.6 376.9L188.3 376.9z" fill="#4276a3"/>
<path d="M48.6 0L188.3 0L188.3 188.5L11.8 188.5zM188.3 0L376.6 0L376.6 188.5L188.3 188.5zM11.8 188.5L188.3 188.5L188.3 351.9zM188.3 188.5L376.6 188.5L376.6 376.9L198.1 376.9L188.3 351.9z" fill="#457ca8"/>
<path d="M112.6 0L188.3 0L188.3 188.5L59.2 188.5zM188.3 0L376.6 0L376.6 188.5L188.3 188.5zM59.2 188.5L188.3 188.5L188.3 308zM188.3 188.5L376.6 188.5L376.6 376.9L215.3 376.9L188.3 308z" fill="#4982ac"/>
<path d="M176.5 0L188.3 0L188.3 188.5L106.7 188.5zM188.3 0L376.6 0L376.6 188.5L188.3 188.5zM106.7 188.5L188.3 188.5L188.3 264zM188.3 188.5L376.6 188.5L376.6 376.9L232.5 376.9L188.3 264z" fill="#4e89b1"/>
<path d="M188.3 100.1L188.3 188.5L154.1 188.5zM190.6 0L376.6 0L376.6 188.5L188.3 188.5L188.3 100.1zM154.1 188.5L188.3 188.5L188.3 220.1zM188.3 188.5L376.6 188.5L376.6 376.9L249.7 376.9L188.3 220.1z" fill="#5490b7"/>
<path d="M193.4 0L376.6 0L376.6 188.5L190 188.5zM190 188.5L376.6 188.5L376.6 376.9L266.9 376.9z" fill="#5a98bd"/>
<path d="M196.2 0L376.6 0L376.6 188.5L196.2 188.5zM196.2 188.5L376.6 188.5L376.6 376.9L284.1 376.9z" fill="#5f9fc3"/>
<path d="M199 0L376.6 0L376.6 188.5L202.4 188.5zM202.4 188.5L376.6 188.5L376.6 376.9L301.3 376.9z" fill="#65a7c9"/>
<path d="M201.7 0L376.6 0L376.6 188.5L208.6 188.5zM208.6 188.5L376.6 188.5L376.6 376.9L318.5 376.9z" fill="#6baecf"/>
<path d="M204.5 0L376.6 0L376.6 188.5L214.8 188.5zM214.8 188.5L376.6 188.5L376.6 376.9L335.7 376.9z" fill="#70b4d4"/>
<path d="M207.3 0L376.6 0L376.6 188.5L221 188.5zM221 188.5L376.6 188.5L376.6 376.9L352.9 376.9z" fill="#75b8d7"/>
<path d="M210.1 0L376.6 0L376.6 188.5L227.2 188.5zM227.2 188.5L376.6 188.5L376.6 376.9L370.1 376.9z" fill="#79bcd9"/>
<path d="M212.9 0L376.6 0L376.6 188.5L233.4 188.5zM233.4 188.5L376.6 188.5L376.6 371.9z" fill="#7ec0dc"/>
<path d="M215.7 0L376.6 0L376.6 188.5L239.6 188.5zM239.6 188.5L376.6 188.5L376.6 364z" fill="#86c5dd"/>
<path d="M218.5 0L376.6 0L376.6 188.5L245.8 188.5zM245.8 188.5L376.6 188.5L376.6 356.1z" fill="#8fcadf"/>
<path d="M221.3 0L376.6 0L376.6 188.5L252 188.5zM252 188.5L376.6 188.5L376.6 348.1z" fill="#97cfe0"/>
<path d="M224.1 0L376.6 0L376.6 188.5L258.2 188.5zM258.2 188.5L376.6 188.5L376.6 340.2z" fill="#9fd3e0"/>
<path d="M226.9 0L376.6 0L376.6 188.5L264.4 188.5zM264.4 188.5L376.6 188.5L376.6 332.3z" fill="#a6d8e0"/>
<path d="M229.7 0L376.6 0L376.6 188.5L270.6 188.5zM270.6 188.5L376.6 188.5L376.6 324.3z" fill="#aedde0"/>
<path d="M232.4 0L376.6 0L376.6 188.5L276.8 188.5zM276.8 188.5L376.6 188.5L376.6 316.4z" fill="#bae0dc"/>
<path d="M235.2 0L376.6 0L376.6 188.5L282.9 188.5zM282.9 188.5L376.6 188.5L376.6 308.5z" fill="#c8e3d7"/>
<path d="M238 0L376.6 0L376.6 188.5L289.1 188.5zM289.1 188.5L376.6 188.5L376.6 300.5z" fill="#d6e6d2"/>
<path d="M240.8 0L376.6 0L376.6 188.5L295.3 188.5zM295.3 188.5L376.6 188.5L376.6 292.6z" fill="#e2e9cc"/>
<path d="M243.6 0L376.6 0L376.6 188.5L301.5 188.5zM301.5 188.5L376.6 188.5L376.6 284.6z" fill="#ecebc8"/>
<path d="M246.4 0L376.6 0L376.6 188.5L307.7 188.5zM307.7 188.5L376.6 188.5L376.6 276.7z" fill="#f7edc2"/>
<path d="M249.2 0L376.6 0L376.6 188.5L313.9 188.5zM313.9 188.5L376.6 188.5L376.6 268.8z" fill="#feeebc"/>
<path d="M252 0L376.6 0L376.6 188.5L320.1 188.5zM320.1 188.5L376.6 188.5L376.6 260.8z" fill="#feeab0"/>
<path d="M254.8 0L376.6 0L376.6 188.5L326.3 188.5zM326.3 188.5L376.6 188.5L376.6 252.9z" fill="#fee6a4"/>
<path d="M257.6 0L376.6 0L376.6 188.5L332.5 188.5zM332.5 188.5L376.6 188.5L376.6 245z" fill="#fee299"/>
<path d="M260.4 0L376.6 0L376.6 188.5L338.7 188.5zM338.7 188.5L376.6 188.5L376.6 237z" fill="#fede8e"/>
<path d="M263.2 0L376.6 0L376.6 188.5L344.9 188.5zM344.9 188.5L376.6 188.5L376.6 229.1z" fill="#feda82"/>
<path d="M265.9 0L376.6 0L376.6 188.5L351.1 188.5zM351.1 188.5L376.6 188.5L376.6 221.1z" fill="#fed677"/>
<path d="M268.7 0L376.6 0L376.6 188.5L357.3 188.5zM357.3 188.5L376.6 188.5L376.6 213.2z" fill="#fed172"/>
<path d="M271.5 0L376.6 0L376.6 188.5L363.5 188.5zM363.5 188.5L376.6 188.5L376.6 205.3z" fill="#fdcc6d"/>
<path d="M274.3 0L376.6 0L376.6 188.5L369.7 188.5zM369.7 188.5L376.6 188.5L376.6 197.3z" fill="#fdc768"/>
<path d="M277.1 0L376.6 0L376.6 188.5L375.9 188.5zM375.9 188.5L376.6 188.5L376.6 189.4z" fill="#fcc165"/>
<path d="M279.9 0L376.6 0L376.6 183.8z" fill="#fcbb62"/>
<path d="M282.7 0L376.6 0L376.6 178.5z" fill="#fbb65f"/>
<path d="M285.5 0L376.6 0L376.6 173.2z" fill="#fab05b"/>
<path d="M288.3 0L376.6 0L376.6 167.9z" fill="#f9ab58"/>
<path d="M291.1 0L376.6 0L376.6 162.6z" fill="#f9a555"/>
<path d="M293.9 0L376.6 0L376.6 157.3z" fill="#f89f52"/>
<path d="M296.7 0L376.6 0L376.6 151.9z" fill="#f69951"/>
<path d="M299.4 0L376.6 0L376.6 146.6z" fill="#f5934f"/>
<path d="M302.2 0L376.6 0L376.6 141.3z" fill="#f48d4d"/>
<path d="M305 0L376.6 0L376.6 136z" fill="#f3874c"/>
<path d="M307.8 0L376.6 0L376.6 130.7z" fill="#f1814a"/>
<path d="M310.6 0L376.6 0L376.6 125.4z" fill="#f07b48"/>
<path d="M313.4 0L376.6 0L376.6 120.1z" fill="#f07649"/>
<path d="M316.2 0L376.6 0L376.6 114.8z" fill="#f0714a"/>
<path d="M319 0L376.6 0L376.6 109.5z" fill="#f06c4b"/>
<path d="M321.8 0L376.6 0L376.6 104.2z" fill="#ef674c"/>
<path d="M324.6 0L376.6 0L376.6 98.9z" fill="#ef624d"/>
<path d="M327.4 0L376.6 0L376.6 93.6z" fill="#ef5d4e"/>
<path d="M330.2 0L376.6 0L376.6 88.3z" fill="#fff"/>
</g>
<g transform="translate(1565.8 3894.1)">
<path d="M0 0H376.8V376.9H0z" fill="#3b6a9b"/>
<path d="M1.3 0L188.4 0L188.4 188.5L0 188.5L0 16.1zM188.4 0L376.8 0L376.8 188.5L188.4 188.5zM0 188.5L188.4 188.5L188.4 376.9L0 376.9zM188.4 188.5L376.8 188.5L376.8 376.9L188.4 376.9z" fill="#3e709f"/>
<path d="M13.8 0L188.4 0L188.4 188.5L0 188.5L0 171.1zM188.4 0L376.8 0L376.8 188.5L188.4 188.5zM0 188.5L188.4 188.5L188.4 376.9L0.4 376.9L0 353.3zM188.4 188.5L376.8 188.5L376.8 376.9L188.4 376.9z" fill="#4276a3"/>
<path d="M26.2 0L188.4 0L188.4 188.5L7.3 188.5zM188.4 0L376.8 0L376.8 188.5L188.4 188.5zM7.3 188.5L188.4 188.5L188.4 376.9L24.1 376.9zM188.4 188.5L376.8 188.5L376.8 376.9L188.4 376.9z" fill="#457ca8"/>
<path d="M38.7 0L188.4 0L188.4 188.5L15.4 188.5zM188.4 0L376.8 0L376.8 188.5L188.4 188.5zM15.4 188.5L188.4 188.5L188.4 376.9L47.9 376.9zM188.4 188.5L376.8 188.5L376.8 376.9L188.4 376.9z" fill="#4982ac"/>
<path d="M51.2 0L188.4 0L188.4 188.5L23.6 188.5zM188.4 0L376.8 0L376.8 188.5L188.4 188.5zM23.6 188.5L188.4 188.5L188.4 376.9L71.6 376.9zM188.4 188.5L376.8 188.5L376.8 376.9L188.4 376.9z" fill="#4e89b1"/>
<path d="M63.7 0L188.4 0L188.4 188.5L31.8 188.5zM188.4 0L376.8 0L376.8 188.5L188.4 188.5zM31.8 188.5L188.4 188.5L188.4 376.9L95.3 376.9zM188.4 188.5L376.8 188.5L376.8 376.9L188.4 376.9z" fill="#5490b7"/>
<path d="M76.1 0L188.4 0L188.4 188.5L40 188.5zM188.4 0L376.8 0L376.8 188.5L188.4 188.5zM40 188.5L188.4 188.5L188.4 376.9L119.1 376.9zM188.4 188.5L376.8 188.5L376.8 376.9L188.4 376.9z" fill="#5a98bd"/>
<path d="M88.6 0L188.4 0L188.4 188.5L48.1 188.5zM188.4 0L376.8 0L376.8 188.5L188.4 188.5zM48.1 188.5L188.4 188.5L188.4 376.9L142.8 376.9zM188.4 188.5L376.8 188.5L376.8 376.9L188.4 376.9z" fill="#5f9fc3"/>
<path d="M101.1 0L188.4 0L188.4 188.5L56.3 188.5zM188.4 0L376.8 0L376.8 188.5L188.4 188.5zM56.3 188.5L188.4 188.5L188.4 376.9L166.6 376.9zM188.4 188.5L376.8 188.5L376.8 376.9L188.4 376.9z" fill="#65a7c9"/>
<path d="M113.6 0L188.4 0L188.4 188.5L64.5 188.5zM188.4 0L376.8 0L376.8 188.5L188.4 188.5zM64.5 188.5L188.4 188.5L188.4 375.9zM188.4 188.5L376.8 188.5L376.8 376.9L188.6 376.9L188.4 375.9z" fill="#6baecf"/>
<path d="M126 0L188.4 0L188.4 188.5L72.7 188.5zM188.4 0L376.8 0L376.8 188.5L188.4 188.5zM72.7 188.5L188.4 188.5L188.4 363.5zM188.4 188.5L376.8 188.5L376.8 376.9L190.5 376.9L188.4 363.5z" fill="#70b4d4"/>
<path d="M138.5 0L188.4 0L188.4 188.5L80.9 188.5zM188.4 0L376.8 0L376.8 188.5L188.4 188.5zM80.9 188.5L188.4 188.5L188.4 351.2zM188.4 188.5L376.8 188.5L376.8 376.9L192.5 376.9L188.4 351.2z" fill="#75b8d7"/>
<path d="M151 0L188.4 0L188.4 188.5L89 188.5zM188.4 0L376.8 0L376.8 188.5L188.4 188.5zM89 188.5L188.4 188.5L188.4 338.8zM188.4 188.5L376.8 188.5L376.8 376.9L194.4 376.9L188.4 338.8z" fill="#79bcd9"/>
<path d="M163.5 0L188.4 0L188.4 188.5L97.2 188.5zM188.4 0L376.8 0L376.8 188.5L188.4 188.5zM97.2 188.5L188.4 188.5L188.4 326.4zM188.4 188.5L376.8 188.5L376.8 376.9L196.4 376.9L188.4 326.4z" fill="#7ec0dc"/>
<path d="M175.9 0L188.4 0L188.4 188.5L105.4 188.5zM188.4 0L376.8 0L376.8 188.5L188.4 188.5zM105.4 188.5L188.4 188.5L188.4 314.1zM188.4 188.5L376.8 188.5L376.8 376.9L198.4 376.9L188.4 314.1z" fill="#86c5dd"/>
<path d="M188.4 0L188.4 0L188.4 188.5L113.6 188.5zM188.4 0L376.8 0L376.8 188.5L188.4 188.5zM113.6 188.5L188.4 188.5L188.4 301.7zM188.4 188.5L376.8 188.5L376.8 376.9L200.3 376.9L188.4 301.7z" fill="#8fcadf"/>
<path d="M188.4 20.6L188.4 188.5L121.7 188.5zM190.5 0L376.8 0L376.8 188.5L188.4 188.5L188.4 20.6zM121.7 188.5L188.4 188.5L188.4 289.3zM188.4 188.5L376.8 188.5L376.8 376.9L202.3 376.9L188.4 289.3z" fill="#97cfe0"/>
<path d="M188.4 41.2L188.4 188.5L129.9 188.5zM192.7 0L376.8 0L376.8 188.5L188.4 188.5L188.4 41.2zM129.9 188.5L188.4 188.5L188.4 276.9zM188.4 188.5L376.8 188.5L376.8 376.9L204.3 376.9L188.4 276.9z" fill="#9fd3e0"/>
<path d="M188.4 61.8L188.4 188.5L138.1 188.5zM194.8 0L376.8 0L376.8 188.5L188.4 188.5L188.4 61.8zM138.1 188.5L188.4 188.5L188.4 264.6zM188.4 188.5L376.8 188.5L376.8 376.9L206.2 376.9L188.4 264.6z" fill="#a6d8e0"/>
<path d="M188.4 82.4L188.4 188.5L146.3 188.5zM196.9 0L376.8 0L376.8 188.5L188.4 188.5L188.4 82.4zM146.3 188.5L188.4 188.5L188.4 252.2zM188.4 188.5L376.8 188.5L376.8 376.9L208.2 376.9L188.4 252.2z" fill="#aedde0"/>
<path d="M188.4 103L188.4 188.5L154.4 188.5zM199.1 0L376.8 0L376.8 188.5L188.4 188.5L188.4 103zM154.4 188.5L188.4 188.5L188.4 239.8zM188.4 188.5L376.8 188.5L376.8 376.9L210.1 376.9L188.4 239.8z" fill="#bae0dc"/>
<path d="M188.4 123.5L188.4 188.5L162.6 188.5zM201.2 0L376.8 0L376.8 188.5L188.4 188.5L188.4 123.5zM162.6 188.5L188.4 188.5L188.4 227.4zM188.4 188.5L376.8 188.5L376.8 376.9L212.1 376.9L188.4 227.4z" fill="#c8e3d7"/>
<path d="M188.4 144.1L188.4 188.5L170.8 188.5zM203.3 0L376.8 0L376.8 188.5L188.4 188.5L188.4 144.1zM170.8 188.5L188.4 188.5L188.4 215.1zM188.4 188.5L376.8 188.5L376.8 376.9L214.1 376.9L188.4 215.1z" fill="#d6e6d2"/>
<path d="M188.4 164.7L188.4 188.5L179 188.5zM205.5 0L376.8 0L376.8 188.5L188.4 188.5L188.4 164.7zM179 188.5L188.4 188.5L188.4 202.7zM188.4 188.5L376.8 188.5L376.8 376.9L216 376.9L188.4 202.7z" fill="#e2e9cc"/>
<path d="M188.4 185.3L188.4 188.5L187.2 188.5zM207.6 0L376.8 0L376.8 188.5L188.4 188.5L188.4 185.3zM187.2 188.5L188.4 188.5L188.4 190.3zM188.4 188.5L376.8 188.5L376.8 376.9L218 376.9L188.4 190.3z" fill="#ecebc8"/>
<path d="M209.7 0L376.8 0L376.8 188.5L189.6 188.5zM189.6 188.5L376.8 188.5L376.8 376.9L220 376.9z" fill="#f7edc2"/>
<path d="M211.8 0L376.8 0L376.8 188.5L191.1 188.5zM191.1 188.5L376.8 188.5L376.8 376.9L221.9 376.9z" fill="#feeebc"/>
<path d="M214 0L376.8 0L376.8 188.5L192.5 188.5zM192.5 188.5L376.8 188.5L376.8 376.9L223.9 376.9z" fill="#feeab0"/>
<path d="M216.1 0L376.8 0L376.8 188.5L194 188.5zM194 188.5L376.8 188.5L376.8 376.9L225.8 376.9z" fill="#fee6a4"/>
<path d="M218.2 0L376.8 0L376.8 188.5L195.4 188.5zM195.4 188.5L376.8 188.5L376.8 376.9L227.8 376.9z" fill="#fee299"/>
<path d="M220.4 0L376.8 0L376.8 188.5L196.9 188.5zM196.9 188.5L376.8 188.5L376.8 376.9L229.8 376.9z" fill="#fede8e"/>
<path d="M222.5 0L376.8 0L376.8 188.5L198.3 188.5zM198.3 188.5L376.8 188.5L376.8 376.9L231.7 376.9z" fill="#feda82"/>
<path d="M224.6 0L376.8 0L376.8 188.5L199.8 188.5zM199.8 188.5L376.8 188.5L376.8 376.9L233.7 376.9z" fill="#fed677"/>
<path d="M226.8 0L376.8 0L376.8 188.5L201.2 188.5zM201.2 188.5L376.8 188.5L376.8 376.9L235.7 376.9z" fill="#fed172"/>
<path d="M228.9 0L376.8 0L376.8 188.5L202.7 188.5zM202.7 188.5L376.8 188.5L376.8 376.9L237.6 376.9z" fill="#fdcc6d"/>
<path d="M231 0L376.8 0L376.8 188.5L204.1 188.5zM204.1 188.5L376.8 188.5L376.8 376.9L239.6 376.9z" fill="#fdc768"/>
<path d="M233.2 0L376.8 0L376.8 188.5L205.6 188.5zM205.6 188.5L376.8 188.5L376.8 376.9L241.5 376.9z" fill="#fcc165"/>
<path d="M235.3 0L376.8 0L376.8 188.5L207 188.5zM207 188.5L376.8 188.5L376.8 376.9L243.5 376.9z" fill="#fcbb62"/>
<path d="M237.4 0L376.8 0L376.8 188.5L208.5 188.5zM208.5 188.5L376.8 188.5L376.8 376.9L245.5 376.9z" fill="#fbb65f"/>
<path d="M239.6 0L376.8 0L376.8 188.5L209.9 188.5zM209.9 188.5L376.8 188.5L376.8 376.9L247.4 376.9z" fill="#fab05b"/>
<path d="M241.7 0L376.8 0L376.8 188.5L211.4 188.5zM211.4 188.5L376.8 188.5L376.8 376.9L249.4 376.9z" fill="#f9ab58"/>
<path d="M243.8 0L376.8 0L376.8 188.5L212.8 188.5zM212.8 188.5L376.8 188.5L376.8 376.9L251.4 376.9z" fill="#f9a555"/>
<path d="M246 0L376.8 0L376.8 188.5L214.3 188.5zM214.3 188.5L376.8 188.5L376.8 376.9L253.3 376.9z" fill="#f89f52"/>
<path d="M248.1 0L376.8 0L376.8 188.5L215.7 188.5zM215.7 188.5L376.8 188.5L376.8 376.9L255.3 376.9z" fill="#f69951"/>
<path d="M250.2 0L376.8 0L376.8 188.5L217.2 188.5zM217.2 188.5L376.8 188.5L376.8 376.9L257.2 376.9z" fill="#f5934f"/>
<path d="M252.3 0L376.8 0L376.8 188.5L218.6 188.5zM218.6 188.5L376.8 188.5L376.8 376.9L259.2 376.9z" fill="#f48d4d"/>
<path d="M254.5 0L376.8 0L376.8 188.5L220.1 188.5zM220.1 188.5L376.8 188.5L376.8 376.9L261.2 376.9z" fill="#f3874c"/>
<path d="M256.6 0L376.8 0L376.8 188.5L221.5 188.5zM221.5 188.5L376.8 188.5L376.8 376.9L263.1 376.9z" fill="#f1814a"/>
<path d="M258.7 0L376.8 0L376.8 188.5L222.9 188.5zM222.9 188.5L376.8 188.5L376.8 376.9L265.1 376.9z" fill="#f07b48"/>
<path d="M260.9 0L376.8 0L376.8 188.5L224.4 188.5zM224.4 188.5L376.8 188.5L376.8 376.9L267.1 376.9z" fill="#f07649"/>
<path d="M263 0L376.8 0L376.8 188.5L225.8 188.5zM225.8 188.5L376.8 188.5L376.8 376.9L269 376.9z" fill="#f0714a"/>
<path d="M265.1 0L376.8 0L376.8 188.5L227.3 188.5zM227.3 188.5L376.8 188.5L376.8 376.9L271 376.9z" fill="#f06c4b"/>
<path d="M267.3 0L376.8 0L376.8 188.5L228.7 188.5zM228.7 188.5L376.8 188.5L376.8 376.9L272.9 376.9z" fill="#ef674c"/>
<path d="M269.4 0L376.8 0L376.8 188.5L230.2 188.5zM230.2 188.5L376.8 188.5L376.8 376.9L274.9 376.9z" fill="#ef624d"/>
<path d="M271.5 0L376.8 0L376.8 188.5L231.6 188.5zM231.6 188.5L376.8 188.5L376.8 376.9L276.9 376.9z" fill="#ef5d4e"/>
<path d="M273.7 0L376.8 0L376.8 188.5L233.1 188.5zM233.1 188.5L376.8 188.5L376.8 376.9L278.8 376.9z" fill="#fff"/>
</g>
</g>
<g transform="translate(26.6 24.7)">
<rect width="377.1" height="376.5" fill="#406ea5"/>
<rect x="22.0" y="21.3" width="333.2" height="333.2" fill="#fff"/>
<rect x="22.0" y="21.3" width="333.2" height="333.2" fill="url(#dash)"/>
</g>
<text x="212.8" y="451.8" font-size="51.8" text-anchor="middle" class="cp">Condition 1</text>
<g transform="translate(542.2 24.7)">
<rect width="377.6" height="376.8" fill="#406ea5"/>
<rect x="355.0" y="0.0" width="22.6" height="98.9" fill="#e3c496"/>
<rect x="22.6" y="21.3" width="332.4" height="333.4" fill="#fff"/>
<rect x="22.6" y="21.3" width="332.4" height="333.4" fill="url(#dash)"/>
</g>
<text x="730.3" y="451.8" font-size="51.8" text-anchor="middle" class="cp">Condition 2</text>
<g transform="translate(1060.5 24.7)">
<rect width="376.5" height="376.8" fill="#406ea5"/>
<rect x="354.6" y="0.0" width="21.9" height="188.4" fill="#e3c496"/>
<rect x="21.3" y="21.3" width="333.3" height="333.4" fill="#fff"/>
<rect x="21.3" y="21.3" width="333.3" height="333.4" fill="url(#dash)"/>
</g>
<text x="1247.8" y="451.8" font-size="51.8" text-anchor="middle" class="cp">Condition 3</text>
<g transform="translate(1564.6 24.7)">
<rect width="376.8" height="376.0" fill="#406ea5"/>
<rect x="354.6" y="0.0" width="22.2" height="376.0" fill="#e3c496"/>
<rect x="22.6" y="21.3" width="332.0" height="332.6" fill="#fff"/>
<rect x="22.6" y="21.3" width="332.0" height="332.6" fill="url(#dash)"/>
</g>
<text x="1753.0" y="451.8" font-size="51.8" text-anchor="middle" class="cp">Condition 4</text>
<rect x="26.4" y="502.2" width="376.6" height="376.2" class="fr"/>
<rect x="435.4" y="503.0" width="32.8" height="375.7" class="cb"/>
<text x="483.7" y="885.6" font-size="20.4" class="tl">0.00</text>
<text x="483.7" y="810.5" font-size="20.4" class="tl">0.20</text>
<text x="483.7" y="735.3" font-size="20.4" class="tl">0.40</text>
<text x="483.7" y="660.2" font-size="20.4" class="tl">0.60</text>
<text x="483.7" y="585.0" font-size="20.4" class="tl">0.80</text>
<text x="483.7" y="509.9" font-size="20.4" class="tl">1.00</text>
<path d="M468.2 878.7h7.5M468.2 803.6h7.5M468.2 728.4h7.5M468.2 653.3h7.5M468.2 578.1h7.5M468.2 503.0h7.5" class="tk"/>
<text x="451.8" y="489.0" font-size="20.4" text-anchor="middle" class="tl">SSD index</text>
<text x="15.4" y="946.0" font-size="52.2" class="cp">Numerical simulation</text>
<path d="M740.2 502.2L763.2 690.3M763.2 690.3L919.8 871.9M764 502.2L833.6 690.3M833.6 690.3L919.8 790.2M787.9 502.2L904 690.3M904 690.3L919.8 708.6M811.8 502.2L919.8 662.8M835.6 502.2L919.8 627.3M859.5 502.2L919.8 591.9M883.3 502.2L919.8 556.4M907.2 502.2L919.8 520.9" class="cl"/>
<rect x="543.4" y="502.2" width="376.4" height="376.2" class="fr"/>
<text x="763.0" y="696.3" font-size="20.5" text-anchor="middle" class="lb">0.125</text>
<text x="833.5" y="696.3" font-size="20.5" text-anchor="middle" class="lb">0.250</text>
<rect x="952.2" y="503.0" width="32.8" height="375.7" class="cb"/>
<text x="1000.5" y="885.6" font-size="20.4" class="tl">0.00</text>
<text x="1000.5" y="810.5" font-size="20.4" class="tl">0.20</text>
<text x="1000.5" y="735.3" font-size="20.4" class="tl">0.40</text>
<text x="1000.5" y="660.2" font-size="20.4" class="tl">0.60</text>
<text x="1000.5" y="585.0" font-size="20.4" class="tl">0.80</text>
<text x="1000.5" y="509.9" font-size="20.4" class="tl">1.00</text>
<path d="M985.0 878.7h7.5M985.0 803.6h7.5M985.0 728.4h7.5M985.0 653.3h7.5M985.0 578.1h7.5M985.0 503.0h7.5" class="tk"/>
<text x="968.6" y="489.0" font-size="20.4" text-anchor="middle" class="tl">SSD index</text>
<text x="532.7" y="946.0" font-size="52.2" class="cp">Numerical simulation</text>
<path d="M1259.4 502.2L1264.6 690.3M1264.6 690.3L1429 878.4M1282.6 502.2L1330.9 690.3M1330.9 690.3L1438 808.3M1305.9 502.2L1397.2 690.3M1397.2 690.3L1438 735.3M1329.2 502.2L1438 676M1352.4 502.2L1438 638.9M1375.7 502.2L1438 601.7M1398.9 502.2L1438 564.6M1422.2 502.2L1438 527.5" class="cl"/>
<rect x="1061.4" y="502.2" width="376.6" height="376.2" class="fr"/>
<text x="1264.5" y="698.5" font-size="20.5" text-anchor="middle" class="lb">0.125</text>
<text x="1331.6" y="698.5" font-size="20.5" text-anchor="middle" class="lb">0.250</text>
<text x="1397.0" y="698.5" font-size="20.5" text-anchor="middle" class="lb">0.375</text>
<rect x="1470.4" y="503.0" width="32.8" height="375.7" class="cb"/>
<text x="1518.7" y="885.6" font-size="20.4" class="tl">0.00</text>
<text x="1518.7" y="810.5" font-size="20.4" class="tl">0.20</text>
<text x="1518.7" y="735.3" font-size="20.4" class="tl">0.40</text>
<text x="1518.7" y="660.2" font-size="20.4" class="tl">0.60</text>
<text x="1518.7" y="585.0" font-size="20.4" class="tl">0.80</text>
<text x="1518.7" y="509.9" font-size="20.4" class="tl">1.00</text>
<path d="M1503.2 878.7h7.5M1503.2 803.6h7.5M1503.2 728.4h7.5M1503.2 653.3h7.5M1503.2 578.1h7.5M1503.2 503.0h7.5" class="tk"/>
<text x="1486.8" y="489.0" font-size="20.4" text-anchor="middle" class="tl">SSD index</text>
<text x="1060.8" y="943.6" font-size="52.2" class="cp">Numerical simulation</text>
<path d="M1754.2 526L1611.1 688.8M1761.1 500.9L1754.2 526M1611.1 688.8L1754.2 859.8M1758.8 876.7L1754.2 859.8M1754.2 577.5L1656.4 688.8M1775.2 500.9L1754.2 577.5M1656.4 688.8L1754.2 805.7M1773.5 876.7L1754.2 805.7M1754.2 629.1L1701.7 688.8M1789.4 500.9L1754.2 629.1M1701.7 688.8L1754.2 751.6M1788.1 876.7L1754.2 751.6M1754.2 680.6L1747 688.8M1803.5 500.9L1754.2 680.6M1747 688.8L1754.2 697.5M1802.8 876.7L1754.2 697.5M1817.6 500.9L1763.4 688.8M1763.4 688.8L1817.5 876.7M1831.8 500.9L1774.4 688.8M1774.4 688.8L1832.2 876.7M1845.9 500.9L1785.5 688.8M1785.5 688.8L1846.9 876.7M1860 500.9L1796.5 688.8M1796.5 688.8L1861.6 876.7" class="cl"/>
<rect x="1565.8" y="500.9" width="376.8" height="375.8" class="fr"/>
<text x="1754.0" y="530.8" font-size="20.5" text-anchor="middle" class="lb">0.125</text>
<text x="1704.0" y="695.8" font-size="20.5" text-anchor="middle" class="lb">0.375</text>
<text x="1763.6" y="695.8" font-size="20.5" text-anchor="middle" class="lb">0.625</text>
<text x="1813.5" y="664.1" font-size="20.5" text-anchor="middle" class="lb">1.000</text>
<text x="1754.0" y="808.7" font-size="20.5" text-anchor="middle" class="lb">0.250</text>
<rect x="1975.0" y="501.7" width="32.8" height="375.3" class="cb"/>
<text x="2023.3" y="883.9" font-size="20.4" class="tl">0.00</text>
<text x="2023.3" y="808.8" font-size="20.4" class="tl">0.20</text>
<text x="2023.3" y="733.8" font-size="20.4" class="tl">0.40</text>
<text x="2023.3" y="658.7" font-size="20.4" class="tl">0.60</text>
<text x="2023.3" y="583.7" font-size="20.4" class="tl">0.80</text>
<text x="2023.3" y="508.6" font-size="20.4" class="tl">1.00</text>
<path d="M2007.8 877.0h7.5M2007.8 801.9h7.5M2007.8 726.9h7.5M2007.8 651.8h7.5M2007.8 576.8h7.5M2007.8 501.7h7.5" class="tk"/>
<text x="1991.4" y="487.7" font-size="20.4" text-anchor="middle" class="tl">SSD index</text>
<text x="1562.0" y="943.6" font-size="52.2" class="cp">Numerical simulation</text>
<path d="M214.7 1160L187.9 1184.2M251.8 1184.2L214.7 1160M187.9 1184.2L214.7 1221.9M251.8 1184.2L214.7 1221.9M214.7 1086.2L106.2 1184.2M365 1184.2L214.7 1086.2M106.2 1184.2L214.7 1336.9M365 1184.2L214.7 1336.9M214.7 1012.4L26.4 1181M403 1127.3L214.7 1012.4M146.2 1371.9L26.4 1187.8M403 1255L287.8 1371.9M90 996.5L26.4 1049.2M327.2 996.5L403 1041.7M47.7 1371.9L26.4 1339.2M403 1361.7L392.9 1371.9" class="cl"/>
<rect x="26.4" y="996.5" width="376.6" height="375.4" class="fr"/>
<text x="214.0" y="1167.0" font-size="20.5" text-anchor="middle" class="lb">0.125</text>
<text x="214.0" y="1343.2" font-size="20.5" text-anchor="middle" class="lb">0.250</text>
<rect x="435.4" y="997.3" width="32.8" height="374.9" class="cb"/>
<text x="483.7" y="1379.1" font-size="20.4" class="tl">0.00</text>
<text x="483.7" y="1304.1" font-size="20.4" class="tl">0.20</text>
<text x="483.7" y="1229.1" font-size="20.4" class="tl">0.40</text>
<text x="483.7" y="1154.2" font-size="20.4" class="tl">0.60</text>
<text x="483.7" y="1079.2" font-size="20.4" class="tl">0.80</text>
<text x="483.7" y="1004.2" font-size="20.4" class="tl">1.00</text>
<path d="M468.2 1372.2h7.5M468.2 1297.2h7.5M468.2 1222.2h7.5M468.2 1147.3h7.5M468.2 1072.3h7.5M468.2 997.3h7.5" class="tk"/>
<text x="451.8" y="983.3" font-size="20.4" text-anchor="middle" class="tl">SSD index</text>
<text x="14.5" y="1425.0" font-size="52.2" class="cp">1 m ranging fixed test</text>
<path d="M569.1 996.5L731.6 1060.8M739.5 996.5L731.6 1060.8M765.7 996.5L769.4 1184.2M769.4 1184.2L910 1371.9M791.8 996.5L860.2 1184.2M860.2 1184.2L919.8 1260.8M818 996.5L919.8 1169M844.1 996.5L919.8 1124.7M870.2 996.5L919.8 1080.4M896.4 996.5L919.8 1036.2" class="cl"/>
<rect x="543.4" y="996.5" width="376.4" height="375.4" class="fr"/>
<text x="731.0" y="1073.0" font-size="20.5" text-anchor="middle" class="lb">0.125</text>
<text x="769.5" y="1190.8" font-size="20.5" text-anchor="middle" class="lb">0.250</text>
<text x="860.0" y="1190.8" font-size="20.5" text-anchor="middle" class="lb">0.375</text>
<rect x="952.2" y="997.3" width="32.8" height="374.9" class="cb"/>
<text x="1000.5" y="1379.1" font-size="20.4" class="tl">0.00</text>
<text x="1000.5" y="1304.1" font-size="20.4" class="tl">0.20</text>
<text x="1000.5" y="1229.1" font-size="20.4" class="tl">0.40</text>
<text x="1000.5" y="1154.2" font-size="20.4" class="tl">0.60</text>
<text x="1000.5" y="1079.2" font-size="20.4" class="tl">0.80</text>
<text x="1000.5" y="1004.2" font-size="20.4" class="tl">1.00</text>
<path d="M985.0 1372.2h7.5M985.0 1297.2h7.5M985.0 1222.2h7.5M985.0 1147.3h7.5M985.0 1072.3h7.5M985.0 997.3h7.5" class="tk"/>
<text x="968.6" y="983.3" font-size="20.4" text-anchor="middle" class="tl">SSD index</text>
<text x="530.7" y="1425.6" font-size="52.2" class="cp">1 m ranging fixed test</text>
<path d="M1105.7 996.5L1249.7 1182.1M1232.6 1184.2L1061.4 1133M1250.4 1184.2L1249.7 1182.1M1232.6 1184.2L1061.4 1211M1250.4 1184.2L1408.3 1371.9M1244.2 996.5L1249.7 1003.6M1311.3 1184.2L1249.7 1003.6M1311.3 1184.2L1438 1316.1M1275.2 996.5L1372.2 1184.2M1372.2 1184.2L1438 1252.7M1301.8 996.5L1433.1 1184.2M1433.1 1184.2L1438 1189.3M1328.4 996.5L1438 1149.9M1355 996.5L1438 1112.7M1381.6 996.5L1438 1075.5M1408.2 996.5L1438 1038.2" class="cl"/>
<rect x="1061.4" y="996.5" width="376.6" height="375.4" class="fr"/>
<text x="1113.0" y="1190.8" font-size="20.5" text-anchor="middle" class="lb">0.125</text>
<text x="1264.5" y="1190.8" font-size="20.5" text-anchor="middle" class="lb">0.125</text>
<text x="1322.0" y="1190.8" font-size="20.5" text-anchor="middle" class="lb">0.250</text>
<text x="1394.3" y="1190.8" font-size="20.5" text-anchor="middle" class="lb">0.375</text>
<rect x="1470.4" y="997.3" width="32.8" height="374.9" class="cb"/>
<text x="1518.7" y="1379.1" font-size="20.4" class="tl">0.00</text>
<text x="1518.7" y="1304.1" font-size="20.4" class="tl">0.20</text>
<text x="1518.7" y="1229.1" font-size="20.4" class="tl">0.40</text>
<text x="1518.7" y="1154.2" font-size="20.4" class="tl">0.60</text>
<text x="1518.7" y="1079.2" font-size="20.4" class="tl">0.80</text>
<text x="1518.7" y="1004.2" font-size="20.4" class="tl">1.00</text>
<path d="M1503.2 1372.2h7.5M1503.2 1297.2h7.5M1503.2 1222.2h7.5M1503.2 1147.3h7.5M1503.2 1072.3h7.5M1503.2 997.3h7.5" class="tk"/>
<text x="1486.8" y="983.3" font-size="20.4" text-anchor="middle" class="tl">SSD index</text>
<text x="1048.8" y="1421.6" font-size="52.2" class="cp">1 m ranging fixed test</text>
<path d="M1644.8 997.4L1565.8 1163.7M1614.1 1372.6L1565.8 1202.1M1754.2 1035.5L1622.5 1185M1762.9 997.4L1754.2 1035.5M1622.5 1185L1734.9 1372.6M1754.2 1102.5L1681.5 1185M1778.3 997.4L1754.2 1102.5M1681.5 1185L1754.2 1296.5M1769.4 1372.6L1754.2 1296.5M1754.2 1169.5L1740.5 1185M1793.6 997.4L1754.2 1169.5M1740.5 1185L1754.2 1206M1787.5 1372.6L1754.2 1206M1808.9 997.4L1763 1185M1763 1185L1805.6 1372.6M1824.3 997.4L1774.5 1185M1774.5 1185L1823.8 1372.6M1839.6 997.4L1786 1185M1786 1185L1841.9 1372.6M1855 997.4L1797.5 1185M1797.5 1185L1860 1372.6" class="cl"/>
<rect x="1565.8" y="997.4" width="376.8" height="375.2" class="fr"/>
<text x="1623.2" y="1192.5" font-size="20.5" text-anchor="middle" class="lb">0.250</text>
<text x="1741.0" y="1192.5" font-size="20.5" text-anchor="middle" class="lb">0.500</text>
<text x="1781.5" y="1152.8" font-size="20.5" text-anchor="middle" class="lb">0.750</text>
<text x="1813.5" y="1243.4" font-size="20.5" text-anchor="middle" class="lb">1.000</text>
<text x="1753.3" y="1305.4" font-size="20.5" text-anchor="middle" class="lb">0.375</text>
<rect x="1975.0" y="998.2" width="32.8" height="374.7" class="cb"/>
<text x="2023.3" y="1379.8" font-size="20.4" class="tl">0.00</text>
<text x="2023.3" y="1304.9" font-size="20.4" class="tl">0.20</text>
<text x="2023.3" y="1229.9" font-size="20.4" class="tl">0.40</text>
<text x="2023.3" y="1155.0" font-size="20.4" class="tl">0.60</text>
<text x="2023.3" y="1080.0" font-size="20.4" class="tl">0.80</text>
<text x="2023.3" y="1005.1" font-size="20.4" class="tl">1.00</text>
<path d="M2007.8 1372.9h7.5M2007.8 1298.0h7.5M2007.8 1223.0h7.5M2007.8 1148.1h7.5M2007.8 1073.1h7.5M2007.8 998.2h7.5" class="tk"/>
<text x="1991.4" y="984.2" font-size="20.4" text-anchor="middle" class="tl">SSD index</text>
<text x="1552.8" y="1421.8" font-size="52.2" class="cp">1 m ranging fixed test</text>
<path d="M214.7 1609.7L180.3 1663M253.9 1663L214.7 1609.7M180.3 1663L214.7 1840M253.9 1663L214.7 1840M214.7 1510.4L116.2 1663M300.1 1475.4L403 1529.7M327 1663L214.7 1510.4M116.2 1663L154.1 1850.6M327 1663L267.6 1850.6M151.9 1475.4L52.1 1663M403 1657.9L400.1 1663M52.1 1663L91.5 1850.6M400.1 1663L322.2 1850.6M55.1 1475.4L26.4 1537.4M28.9 1850.6L26.4 1838.9M403 1788.1L376.8 1850.6" class="cl"/>
<rect x="26.4" y="1475.4" width="376.6" height="375.2" class="fr"/>
<text x="71.8" y="1638.5" font-size="20.5" text-anchor="middle" class="lb">0.375</text>
<text x="214.0" y="1645.7" font-size="20.5" text-anchor="middle" class="lb">0.125</text>
<text x="323.5" y="1669.8" font-size="20.5" text-anchor="middle" class="lb">0.250</text>
<rect x="435.4" y="1476.2" width="32.8" height="374.7" class="cb"/>
<text x="483.7" y="1857.8" font-size="20.4" class="tl">0.00</text>
<text x="483.7" y="1782.9" font-size="20.4" class="tl">0.20</text>
<text x="483.7" y="1707.9" font-size="20.4" class="tl">0.40</text>
<text x="483.7" y="1633.0" font-size="20.4" class="tl">0.60</text>
<text x="483.7" y="1558.0" font-size="20.4" class="tl">0.80</text>
<text x="483.7" y="1483.1" font-size="20.4" class="tl">1.00</text>
<path d="M468.2 1850.9h7.5M468.2 1776.0h7.5M468.2 1701.0h7.5M468.2 1626.1h7.5M468.2 1551.1h7.5M468.2 1476.2h7.5" class="tk"/>
<text x="451.8" y="1462.2" font-size="20.4" text-anchor="middle" class="tl">SSD index</text>
<text x="30.6" y="1905.0" font-size="52.2" class="cp">20 dB mobile test</text>
<path d="M611.5 1663L543.4 1583.7M611.5 1663L731.6 1785.3M666.1 1850.6L543.4 1730.9M795.7 1850.6L731.6 1785.3M614 1475.4L711.6 1663M711.6 1663L731.6 1683.4M563.9 1850.6L543.4 1830.6M895.8 1850.6L731.6 1683.4M761.8 1475.4L756.4 1663M756.4 1663L919.8 1827M796.2 1475.4L787.3 1663M787.3 1663L919.8 1795.9M830.5 1475.4L818.3 1663M818.3 1663L919.8 1764.9M864.9 1475.4L849.2 1663M849.2 1663L919.8 1733.8M899.2 1475.4L880.2 1663M880.2 1663L919.8 1702.8" class="cl"/>
<rect x="543.4" y="1475.4" width="376.4" height="375.2" class="fr"/>
<text x="758.5" y="1587.9" font-size="20.5" text-anchor="middle" class="lb">1.000</text>
<text x="848.0" y="1617.1" font-size="20.5" text-anchor="middle" class="lb">1.750</text>
<text x="783.3" y="1634.4" font-size="20.5" text-anchor="middle" class="lb">1.250</text>
<text x="698.3" y="1647.4" font-size="20.5" text-anchor="middle" class="lb">0.750</text>
<text x="854.2" y="1711.8" font-size="20.5" text-anchor="middle" class="lb">1.500</text>
<text x="731.0" y="1789.3" font-size="20.5" text-anchor="middle" class="lb">0.500</text>
<rect x="952.2" y="1476.2" width="32.8" height="374.7" class="cb"/>
<text x="1000.5" y="1857.8" font-size="20.4" class="tl">0.00</text>
<text x="1000.5" y="1782.9" font-size="20.4" class="tl">0.40</text>
<text x="1000.5" y="1707.9" font-size="20.4" class="tl">0.80</text>
<text x="1000.5" y="1633.0" font-size="20.4" class="tl">1.20</text>
<text x="1000.5" y="1558.0" font-size="20.4" class="tl">1.60</text>
<text x="1000.5" y="1483.1" font-size="20.4" class="tl">2.00</text>
<path d="M985.0 1850.9h7.5M985.0 1776.0h7.5M985.0 1701.0h7.5M985.0 1626.1h7.5M985.0 1551.1h7.5M985.0 1476.2h7.5" class="tk"/>
<text x="968.6" y="1462.2" font-size="20.4" text-anchor="middle" class="tl">SSD index</text>
<text x="546.3" y="1905.0" font-size="52.2" class="cp">20 dB mobile test</text>
<path d="M1129.5 1663L1061.4 1583.7M1129.5 1663L1249.7 1785.3M1184.2 1850.6L1061.4 1730.9M1313.8 1850.6L1249.7 1785.3M1132 1475.4L1229.7 1663M1229.7 1663L1249.7 1683.4M1081.9 1850.6L1061.4 1830.6M1414 1850.6L1249.7 1683.4M1279.9 1475.4L1274.5 1663M1274.5 1663L1438 1827M1314.3 1475.4L1305.4 1663M1305.4 1663L1438 1795.9M1348.7 1475.4L1336.4 1663M1336.4 1663L1438 1764.9M1383 1475.4L1367.4 1663M1367.4 1663L1438 1733.8M1417.4 1475.4L1398.4 1663M1398.4 1663L1438 1702.8" class="cl"/>
<rect x="1061.4" y="1475.4" width="376.6" height="375.2" class="fr"/>
<text x="1276.5" y="1587.9" font-size="20.5" text-anchor="middle" class="lb">1.000</text>
<text x="1366.0" y="1617.1" font-size="20.5" text-anchor="middle" class="lb">1.750</text>
<text x="1301.3" y="1634.4" font-size="20.5" text-anchor="middle" class="lb">1.250</text>
<text x="1216.3" y="1647.4" font-size="20.5" text-anchor="middle" class="lb">0.750</text>
<text x="1372.2" y="1711.8" font-size="20.5" text-anchor="middle" class="lb">1.500</text>
<text x="1249.0" y="1789.3" font-size="20.5" text-anchor="middle" class="lb">0.500</text>
<rect x="1470.4" y="1476.2" width="32.8" height="374.7" class="cb"/>
<text x="1518.7" y="1857.8" font-size="20.4" class="tl">0.00</text>
<text x="1518.7" y="1782.9" font-size="20.4" class="tl">0.40</text>
<text x="1518.7" y="1707.9" font-size="20.4" class="tl">0.80</text>
<text x="1518.7" y="1633.0" font-size="20.4" class="tl">1.20</text>
<text x="1518.7" y="1558.0" font-size="20.4" class="tl">1.60</text>
<text x="1518.7" y="1483.1" font-size="20.4" class="tl">2.00</text>
<path d="M1503.2 1850.9h7.5M1503.2 1776.0h7.5M1503.2 1701.0h7.5M1503.2 1626.1h7.5M1503.2 1551.1h7.5M1503.2 1476.2h7.5" class="tk"/>
<text x="1486.8" y="1462.2" font-size="20.4" text-anchor="middle" class="tl">SSD index</text>
<text x="1065.3" y="1904.6" font-size="52.2" class="cp">20 dB mobile test</text>
<path d="M1652.8 1475.4L1731.1 1663M1731.1 1663L1565.8 1703.2M1762.6 1475.4L1759.7 1663M1754.2 1768.8L1565.8 1820.2M1759.7 1663L1754.2 1768.8M1774.2 1475.4L1765.5 1663M1765.5 1663L1761.4 1850.6M1785.8 1475.4L1771.2 1663M1771.2 1663L1788.7 1850.6M1797.4 1475.4L1777 1663M1777 1663L1816 1850.6M1809 1475.4L1782.8 1663M1782.8 1663L1843.3 1850.6M1820.6 1475.4L1788.6 1663M1788.6 1663L1870.6 1850.6" class="cl"/>
<rect x="1565.8" y="1475.4" width="376.8" height="375.2" class="fr"/>
<text x="1719.6" y="1637.1" font-size="20.5" text-anchor="middle" class="lb">0.500</text>
<text x="1824.6" y="1729.7" font-size="20.5" text-anchor="middle" class="lb">2.000</text>
<text x="1711.0" y="1793.4" font-size="20.5" text-anchor="middle" class="lb">0.750</text>
<rect x="1975.0" y="1476.2" width="32.8" height="374.7" class="cb"/>
<text x="2023.3" y="1857.8" font-size="20.4" class="tl">0.00</text>
<text x="2023.3" y="1782.9" font-size="20.4" class="tl">0.40</text>
<text x="2023.3" y="1707.9" font-size="20.4" class="tl">0.80</text>
<text x="2023.3" y="1633.0" font-size="20.4" class="tl">1.20</text>
<text x="2023.3" y="1558.0" font-size="20.4" class="tl">1.60</text>
<text x="2023.3" y="1483.1" font-size="20.4" class="tl">2.00</text>
<path d="M2007.8 1850.9h7.5M2007.8 1776.0h7.5M2007.8 1701.0h7.5M2007.8 1626.1h7.5M2007.8 1551.1h7.5M2007.8 1476.2h7.5" class="tk"/>
<text x="1991.4" y="1462.2" font-size="20.4" text-anchor="middle" class="tl">SSD index</text>
<text x="1568.5" y="1904.6" font-size="52.2" class="cp">20 dB mobile test</text>
<path d="M403 2294.7L365.6 2333.6M57.3 2146L26.4 2119.2M57.3 2146L26.4 2220.2M403 2245.2L317.8 2333.6M110.9 2146L26.4 2072.7M330 1958.4L403 2045.8M110.9 2146L44.1 2333.6M403 2195.6L270.1 2333.6M164.5 2146L26.4 2026.1M246.2 1958.4L403 2146M164.5 2146L191.2 2333.6M403 2146L222.3 2333.6M105.9 1958.4L26.4 1979.6" class="cl"/>
<rect x="26.4" y="1958.4" width="376.6" height="375.2" class="fr"/>
<text x="53.9" y="2152.8" font-size="20.5" text-anchor="middle" class="lb">0.250</text>
<text x="100.4" y="2193.1" font-size="20.5" text-anchor="middle" class="lb">0.375</text>
<text x="169.2" y="2204.5" font-size="20.5" text-anchor="middle" class="lb">0.500</text>
<rect x="435.4" y="1959.2" width="32.8" height="374.7" class="cb"/>
<text x="483.7" y="2340.8" font-size="20.4" class="tl">0.00</text>
<text x="483.7" y="2265.9" font-size="20.4" class="tl">0.20</text>
<text x="483.7" y="2190.9" font-size="20.4" class="tl">0.40</text>
<text x="483.7" y="2116.0" font-size="20.4" class="tl">0.60</text>
<text x="483.7" y="2041.0" font-size="20.4" class="tl">0.80</text>
<text x="483.7" y="1966.1" font-size="20.4" class="tl">1.00</text>
<path d="M468.2 2333.9h7.5M468.2 2259.0h7.5M468.2 2184.0h7.5M468.2 2109.1h7.5M468.2 2034.1h7.5M468.2 1959.2h7.5" class="tk"/>
<text x="451.8" y="1945.2" font-size="20.4" text-anchor="middle" class="tl">SSD index</text>
<text x="30.6" y="2389.0" font-size="52.2" class="cp">30 dB mobile test</text>
<path d="M601.8 1958.4L543.4 2042.4M543.4 2128.7L661.9 1958.4M731.6 2082L590.5 2146M756.4 2146L731.6 2082M590.5 2146L543.4 2180.7M756.4 2146L763.5 2333.6M722 1958.4L731.6 1975.5M797.6 2146L731.6 1975.5M797.6 2146L812.2 2333.6M773.6 1958.4L838.9 2146M838.9 2146L860.8 2333.6M823.7 1958.4L880.2 2146M880.2 2146L909.5 2333.6M873.8 1958.4L919.8 2138.2" class="cl"/>
<rect x="543.4" y="1958.4" width="376.4" height="375.2" class="fr"/>
<text x="731.7" y="1986.6" font-size="20.5" text-anchor="middle" class="lb">1.000</text>
<text x="848.0" y="2052.6" font-size="20.5" text-anchor="middle" class="lb">1.500</text>
<text x="584.7" y="2152.8" font-size="20.5" text-anchor="middle" class="lb">0.750</text>
<text x="840.4" y="2152.8" font-size="20.5" text-anchor="middle" class="lb">1.250</text>
<rect x="952.2" y="1959.2" width="32.8" height="374.7" class="cb"/>
<text x="1000.5" y="2340.8" font-size="20.4" class="tl">0.00</text>
<text x="1000.5" y="2265.9" font-size="20.4" class="tl">0.40</text>
<text x="1000.5" y="2190.9" font-size="20.4" class="tl">0.80</text>
<text x="1000.5" y="2116.0" font-size="20.4" class="tl">1.20</text>
<text x="1000.5" y="2041.0" font-size="20.4" class="tl">1.60</text>
<text x="1000.5" y="1966.1" font-size="20.4" class="tl">2.00</text>
<path d="M985.0 2333.9h7.5M985.0 2259.0h7.5M985.0 2184.0h7.5M985.0 2109.1h7.5M985.0 2034.1h7.5M985.0 1959.2h7.5" class="tk"/>
<text x="968.6" y="1945.2" font-size="20.4" text-anchor="middle" class="tl">SSD index</text>
<text x="546.3" y="2389.0" font-size="52.2" class="cp">30 dB mobile test</text>
<path d="M1214.4 1958.4L1249.7 1967.9M1251.4 1958.4L1249.7 1967.9M1438 2321.6L1396.2 2333.6M1249.7 2047.4L1135.2 2146M1265.9 1958.4L1249.7 2047.4M1135.2 2146L1061.4 2229.4M1438 2301.7L1326.6 2333.6M1249.7 2126.9L1227.5 2146M1280.4 1958.4L1249.7 2126.9M1227.5 2146L1061.4 2333.6M1438 2281.7L1256.9 2333.6M1294.9 1958.4L1271.5 2146M1271.5 2146L1438 2261.8M1309.4 1958.4L1300.2 2146M1300.2 2146L1438 2241.8M1323.9 1958.4L1328.9 2146M1328.9 2146L1438 2221.8" class="cl"/>
<rect x="1061.4" y="1958.4" width="376.6" height="375.2" class="fr"/>
<text x="1249.7" y="2040.9" font-size="20.5" text-anchor="middle" class="lb">1.000</text>
<text x="1280.0" y="2090.5" font-size="20.5" text-anchor="middle" class="lb">1.500</text>
<text x="1294.4" y="2124.2" font-size="20.5" text-anchor="middle" class="lb">1.750</text>
<text x="1216.3" y="2155.2" font-size="20.5" text-anchor="middle" class="lb">1.250</text>
<text x="1345.4" y="2165.6" font-size="20.5" text-anchor="middle" class="lb">2.000</text>
<rect x="1470.4" y="1959.2" width="32.8" height="374.7" class="cb"/>
<text x="1518.7" y="2340.8" font-size="20.4" class="tl">0.00</text>
<text x="1518.7" y="2265.9" font-size="20.4" class="tl">0.40</text>
<text x="1518.7" y="2190.9" font-size="20.4" class="tl">0.80</text>
<text x="1518.7" y="2116.0" font-size="20.4" class="tl">1.20</text>
<text x="1518.7" y="2041.0" font-size="20.4" class="tl">1.60</text>
<text x="1518.7" y="1966.1" font-size="20.4" class="tl">2.00</text>
<path d="M1503.2 2333.9h7.5M1503.2 2259.0h7.5M1503.2 2184.0h7.5M1503.2 2109.1h7.5M1503.2 2034.1h7.5M1503.2 1959.2h7.5" class="tk"/>
<text x="1486.8" y="1945.2" font-size="20.4" text-anchor="middle" class="tl">SSD index</text>
<text x="1065.3" y="2388.5" font-size="52.2" class="cp">30 dB mobile test</text>
<path d="M1652.8 1958.4L1731.1 2146M1731.1 2146L1565.8 2186.2M1762.6 1958.4L1759.7 2146M1754.2 2251.8L1565.8 2303.2M1759.7 2146L1754.2 2251.8M1774.2 1958.4L1765.5 2146M1765.5 2146L1761.4 2333.6M1785.8 1958.4L1771.2 2146M1771.2 2146L1788.7 2333.6M1797.4 1958.4L1777 2146M1777 2146L1816 2333.6M1809 1958.4L1782.8 2146M1782.8 2146L1843.3 2333.6M1820.6 1958.4L1788.6 2146M1788.6 2146L1870.6 2333.6" class="cl"/>
<rect x="1565.8" y="1958.4" width="376.8" height="375.2" class="fr"/>
<text x="1796.3" y="2112.9" font-size="20.5" text-anchor="middle" class="lb">2.000</text>
<text x="1731.6" y="2152.8" font-size="20.5" text-anchor="middle" class="lb">0.500</text>
<text x="1754.0" y="2259.2" font-size="20.5" text-anchor="middle" class="lb">0.750</text>
<rect x="1975.0" y="1959.2" width="32.8" height="374.7" class="cb"/>
<text x="2023.3" y="2340.8" font-size="20.4" class="tl">0.00</text>
<text x="2023.3" y="2265.9" font-size="20.4" class="tl">0.40</text>
<text x="2023.3" y="2190.9" font-size="20.4" class="tl">0.80</text>
<text x="2023.3" y="2116.0" font-size="20.4" class="tl">1.20</text>
<text x="2023.3" y="2041.0" font-size="20.4" class="tl">1.60</text>
<text x="2023.3" y="1966.1" font-size="20.4" class="tl">2.00</text>
<path d="M2007.8 2333.9h7.5M2007.8 2259.0h7.5M2007.8 2184.0h7.5M2007.8 2109.1h7.5M2007.8 2034.1h7.5M2007.8 1959.2h7.5" class="tk"/>
<text x="1991.4" y="1945.2" font-size="20.4" text-anchor="middle" class="tl">SSD index</text>
<text x="1568.5" y="2388.5" font-size="52.2" class="cp">30 dB mobile test</text>
<path d="M66.2 2629.7L26.4 2596.2M66.2 2629.7L214.7 2807.9M190.1 2817.3L26.4 2710.7M221.5 2817.3L214.7 2807.9M131.5 2629.7L26.4 2541.2M131.5 2629.7L214.7 2729.5M278.2 2817.3L214.7 2729.5M131 2442.1L214.7 2573.7M196.9 2629.7L26.4 2486.1M268.5 2442.1L214.7 2573.7M196.9 2629.7L214.7 2651M334.9 2817.3L214.7 2651M352.6 2442.1L403 2566.6M403 2742.9L391.7 2817.3" class="cl"/>
<rect x="26.4" y="2442.1" width="376.6" height="375.2" class="fr"/>
<text x="214.7" y="2586.6" font-size="20.5" text-anchor="middle" class="lb">0.500</text>
<text x="71.1" y="2637.2" font-size="20.5" text-anchor="middle" class="lb">0.250</text>
<text x="214.7" y="2660.6" font-size="20.5" text-anchor="middle" class="lb">0.500</text>
<text x="214.7" y="2736.3" font-size="20.5" text-anchor="middle" class="lb">0.375</text>
<rect x="435.4" y="2442.9" width="32.8" height="374.7" class="cb"/>
<text x="483.7" y="2824.5" font-size="20.4" class="tl">0.00</text>
<text x="483.7" y="2749.6" font-size="20.4" class="tl">0.20</text>
<text x="483.7" y="2674.6" font-size="20.4" class="tl">0.40</text>
<text x="483.7" y="2599.7" font-size="20.4" class="tl">0.60</text>
<text x="483.7" y="2524.7" font-size="20.4" class="tl">0.80</text>
<text x="483.7" y="2449.8" font-size="20.4" class="tl">1.00</text>
<path d="M468.2 2817.6h7.5M468.2 2742.7h7.5M468.2 2667.7h7.5M468.2 2592.8h7.5M468.2 2517.8h7.5M468.2 2442.9h7.5" class="tk"/>
<text x="451.8" y="2428.9" font-size="20.4" text-anchor="middle" class="tl">SSD index</text>
<text x="30.6" y="2872.5" font-size="52.2" class="cp">40 dB mobile test</text>
<path d="M729.5 2442.1L731.6 2447M761.1 2629.7L731.6 2447M761.1 2629.7L890.3 2817.3M765.6 2442.1L859.3 2629.7M859.3 2629.7L919.8 2707.4M799.9 2442.1L919.8 2611.2M834.1 2442.1L919.8 2562.9M868.4 2442.1L919.8 2514.6M902.7 2442.1L919.8 2466.3" class="cl"/>
<rect x="543.4" y="2442.1" width="376.4" height="375.2" class="fr"/>
<text x="763.0" y="2637.2" font-size="20.5" text-anchor="middle" class="lb">0.250</text>
<text x="860.1" y="2637.2" font-size="20.5" text-anchor="middle" class="lb">0.375</text>
<rect x="952.2" y="2442.9" width="32.8" height="374.7" class="cb"/>
<text x="1000.5" y="2824.5" font-size="20.4" class="tl">0.00</text>
<text x="1000.5" y="2749.6" font-size="20.4" class="tl">0.20</text>
<text x="1000.5" y="2674.6" font-size="20.4" class="tl">0.40</text>
<text x="1000.5" y="2599.7" font-size="20.4" class="tl">0.60</text>
<text x="1000.5" y="2524.7" font-size="20.4" class="tl">0.80</text>
<text x="1000.5" y="2449.8" font-size="20.4" class="tl">1.00</text>
<path d="M985.0 2817.6h7.5M985.0 2742.7h7.5M985.0 2667.7h7.5M985.0 2592.8h7.5M985.0 2517.8h7.5M985.0 2442.9h7.5" class="tk"/>
<text x="968.6" y="2428.9" font-size="20.4" text-anchor="middle" class="tl">SSD index</text>
<text x="546.3" y="2872.5" font-size="52.2" class="cp">40 dB mobile test</text>
<path d="M1114.4 2442.1L1061.4 2478.9M1224.9 2442.1L1061.4 2555.5M1249.7 2760.9L1197.6 2817.3M1303.8 2817.3L1249.7 2760.9M1249.7 2521.2L1066.9 2629.7M1263 2442.1L1249.7 2521.2M1061.4 2634.1L1066.9 2629.7M1249.7 2697.3L1138.9 2817.3M1364.8 2817.3L1249.7 2697.3M1249.7 2623.2L1238.7 2629.7M1280.2 2442.1L1249.7 2623.2M1061.4 2772.9L1238.7 2629.7M1249.7 2633.8L1080.2 2817.3M1425.8 2817.3L1249.7 2633.8M1297.3 2442.1L1295.5 2629.7M1295.5 2629.7L1438 2776.9M1314.5 2442.1L1344.4 2629.7M1344.4 2629.7L1438 2726.3M1331.6 2442.1L1393.4 2629.7M1393.4 2629.7L1438 2675.8" class="cl"/>
<rect x="1061.4" y="2442.1" width="376.6" height="375.2" class="fr"/>
<text x="1249.7" y="2529.8" font-size="20.5" text-anchor="middle" class="lb">0.500</text>
<text x="1382.5" y="2584.9" font-size="20.5" text-anchor="middle" class="lb">1.000</text>
<text x="1227.6" y="2637.2" font-size="20.5" text-anchor="middle" class="lb">0.625</text>
<text x="1293.0" y="2637.2" font-size="20.5" text-anchor="middle" class="lb">0.750</text>
<text x="1355.7" y="2650.3" font-size="20.5" text-anchor="middle" class="lb">0.875</text>
<text x="1249.7" y="2703.6" font-size="20.5" text-anchor="middle" class="lb">0.500</text>
<text x="1249.7" y="2763.8" font-size="20.5" text-anchor="middle" class="lb">0.375</text>
<rect x="1470.4" y="2442.9" width="32.8" height="374.7" class="cb"/>
<text x="1518.7" y="2824.5" font-size="20.4" class="tl">0.00</text>
<text x="1518.7" y="2749.6" font-size="20.4" class="tl">0.20</text>
<text x="1518.7" y="2674.6" font-size="20.4" class="tl">0.40</text>
<text x="1518.7" y="2599.7" font-size="20.4" class="tl">0.60</text>
<text x="1518.7" y="2524.7" font-size="20.4" class="tl">0.80</text>
<text x="1518.7" y="2449.8" font-size="20.4" class="tl">1.00</text>
<path d="M1503.2 2817.6h7.5M1503.2 2742.7h7.5M1503.2 2667.7h7.5M1503.2 2592.8h7.5M1503.2 2517.8h7.5M1503.2 2442.9h7.5" class="tk"/>
<text x="1486.8" y="2428.9" font-size="20.4" text-anchor="middle" class="tl">SSD index</text>
<text x="1065.3" y="2871.5" font-size="52.2" class="cp">40 dB mobile test</text>
<path d="M1595.8 2629.7L1565.8 2500.7M1595.8 2629.7L1565.8 2696.3M1612.3 2442.1L1664.1 2629.7M1664.1 2629.7L1606.8 2817.3M1670.5 2442.1L1732.4 2629.7M1732.4 2629.7L1754.2 2729.8M1762 2817.3L1754.2 2729.8M1728.6 2442.1L1754.2 2515.8M1767.1 2629.7L1754.2 2515.8M1767.1 2629.7L1789.8 2817.3M1792 2442.1L1786 2629.7M1786 2629.7L1817.6 2817.3M1859.6 2442.1L1804.9 2629.7M1804.9 2629.7L1845.3 2817.3M1927.2 2442.1L1823.8 2629.7M1823.8 2629.7L1873.1 2817.3" class="cl"/>
<rect x="1565.8" y="2442.1" width="376.8" height="375.2" class="fr"/>
<text x="1754.7" y="2535.6" font-size="20.5" text-anchor="middle" class="lb">1.250</text>
<text x="1809.7" y="2607.2" font-size="20.5" text-anchor="middle" class="lb">1.750</text>
<text x="1600.8" y="2637.2" font-size="20.5" text-anchor="middle" class="lb">0.500</text>
<text x="1662.8" y="2637.2" font-size="20.5" text-anchor="middle" class="lb">0.750</text>
<text x="1754.7" y="2731.2" font-size="20.5" text-anchor="middle" class="lb">1.000</text>
<rect x="1975.0" y="2442.9" width="32.8" height="374.7" class="cb"/>
<text x="2023.3" y="2824.5" font-size="20.4" class="tl">0.00</text>
<text x="2023.3" y="2749.6" font-size="20.4" class="tl">0.40</text>
<text x="2023.3" y="2674.6" font-size="20.4" class="tl">0.80</text>
<text x="2023.3" y="2599.7" font-size="20.4" class="tl">1.20</text>
<text x="2023.3" y="2524.7" font-size="20.4" class="tl">1.60</text>
<text x="2023.3" y="2449.8" font-size="20.4" class="tl">2.00</text>
<path d="M2007.8 2817.6h7.5M2007.8 2742.7h7.5M2007.8 2667.7h7.5M2007.8 2592.8h7.5M2007.8 2517.8h7.5M2007.8 2442.9h7.5" class="tk"/>
<text x="1991.4" y="2428.9" font-size="20.4" text-anchor="middle" class="tl">SSD index</text>
<text x="1568.5" y="2871.5" font-size="52.2" class="cp">40 dB mobile test</text>
<path d="M214.7 3285L193.8 3301.3M230.4 3301.3L214.7 3285M72.4 3113.4L26.4 3038.3M72.4 3113.4L214.7 3239.9M135.7 3301.3L26.4 3174.4M274 3301.3L214.7 3239.9M26.4 2955.3L79.4 2925.4M214.7 2989L123.2 3113.4M296.4 2925.4L403 3070M371.6 3113.4L214.7 2989M123.2 3113.4L214.7 3194.7M77.5 3301.3L26.4 3241.9M371.6 3113.4L403 3142.5M317.6 3301.3L214.7 3194.7M214.7 3058.1L174 3113.4M385.2 2925.4L403 2949.5M284.4 3113.4L214.7 3058.1M174 3113.4L214.7 3149.5M284.4 3113.4L403 3223.5M361.2 3301.3L214.7 3149.5" class="cl"/>
<rect x="26.4" y="2925.4" width="376.6" height="375.9" class="fr"/>
<text x="214.7" y="2989.7" font-size="20.5" text-anchor="middle" class="lb">0.375</text>
<text x="288.0" y="3120.5" font-size="20.5" text-anchor="middle" class="lb">0.500</text>
<text x="82.5" y="3134.3" font-size="20.5" text-anchor="middle" class="lb">0.250</text>
<rect x="435.4" y="2926.2" width="32.8" height="375.4" class="cb"/>
<text x="483.7" y="3308.5" font-size="20.4" class="tl">0.00</text>
<text x="483.7" y="3233.4" font-size="20.4" class="tl">0.20</text>
<text x="483.7" y="3158.3" font-size="20.4" class="tl">0.40</text>
<text x="483.7" y="3083.3" font-size="20.4" class="tl">0.60</text>
<text x="483.7" y="3008.2" font-size="20.4" class="tl">0.80</text>
<text x="483.7" y="2933.1" font-size="20.4" class="tl">1.00</text>
<path d="M468.2 3301.6h7.5M468.2 3226.5h7.5M468.2 3151.4h7.5M468.2 3076.4h7.5M468.2 3001.3h7.5M468.2 2926.2h7.5" class="tk"/>
<text x="451.8" y="2912.2" font-size="20.4" text-anchor="middle" class="tl">SSD index</text>
<text x="30.6" y="3359.3" font-size="52.2" class="cp">50 dB mobile test</text>
<path d="M729.5 2925.4L731.6 2930.3M761.1 3113.4L731.6 2930.3M761.1 3113.4L890.3 3301.3M765.6 2925.4L859.3 3113.4M859.3 3113.4L919.8 3191.2M799.9 2925.4L919.8 3094.8M834.1 2925.4L919.8 3046.4M868.4 2925.4L919.8 2998M902.7 2925.4L919.8 2949.6" class="cl"/>
<rect x="543.4" y="2925.4" width="376.4" height="375.9" class="fr"/>
<text x="763.0" y="3120.5" font-size="20.5" text-anchor="middle" class="lb">0.250</text>
<text x="860.1" y="3120.5" font-size="20.5" text-anchor="middle" class="lb">0.375</text>
<rect x="952.2" y="2926.2" width="32.8" height="375.4" class="cb"/>
<text x="1000.5" y="3308.5" font-size="20.4" class="tl">0.00</text>
<text x="1000.5" y="3233.4" font-size="20.4" class="tl">0.20</text>
<text x="1000.5" y="3158.3" font-size="20.4" class="tl">0.40</text>
<text x="1000.5" y="3083.3" font-size="20.4" class="tl">0.60</text>
<text x="1000.5" y="3008.2" font-size="20.4" class="tl">0.80</text>
<text x="1000.5" y="2933.1" font-size="20.4" class="tl">1.00</text>
<path d="M985.0 3301.6h7.5M985.0 3226.5h7.5M985.0 3151.4h7.5M985.0 3076.4h7.5M985.0 3001.3h7.5M985.0 2926.2h7.5" class="tk"/>
<text x="968.6" y="2912.2" font-size="20.4" text-anchor="middle" class="tl">SSD index</text>
<text x="546.3" y="3359.3" font-size="52.2" class="cp">50 dB mobile test</text>
<path d="M1254.2 2925.4L1254 3113.4M1254 3113.4L1329 3301.3M1275.1 2925.4L1299.1 3113.4M1299.1 3113.4L1438 3272.4M1296.1 2925.4L1344.2 3113.4M1344.2 3113.4L1438 3220.8M1317 2925.4L1389.3 3113.4M1389.3 3113.4L1438 3169.1M1337.9 2925.4L1434.4 3113.4M1434.4 3113.4L1438 3117.5M1358.8 2925.4L1438 3076.6M1379.8 2925.4L1438 3036.6" class="cl"/>
<rect x="1061.4" y="2925.4" width="376.6" height="375.9" class="fr"/>
<text x="1374.6" y="3079.9" font-size="20.5" text-anchor="middle" class="lb">0.625</text>
<text x="1296.5" y="3092.3" font-size="20.5" text-anchor="middle" class="lb">0.375</text>
<text x="1253.1" y="3120.5" font-size="20.5" text-anchor="middle" class="lb">0.250</text>
<text x="1357.4" y="3130.1" font-size="20.5" text-anchor="middle" class="lb">0.500</text>
<rect x="1470.4" y="2926.2" width="32.8" height="375.4" class="cb"/>
<text x="1518.7" y="3308.5" font-size="20.4" class="tl">0.00</text>
<text x="1518.7" y="3233.4" font-size="20.4" class="tl">0.20</text>
<text x="1518.7" y="3158.3" font-size="20.4" class="tl">0.40</text>
<text x="1518.7" y="3083.3" font-size="20.4" class="tl">0.60</text>
<text x="1518.7" y="3008.2" font-size="20.4" class="tl">0.80</text>
<text x="1518.7" y="2933.1" font-size="20.4" class="tl">1.00</text>
<path d="M1503.2 3301.6h7.5M1503.2 3226.5h7.5M1503.2 3151.4h7.5M1503.2 3076.4h7.5M1503.2 3001.3h7.5M1503.2 2926.2h7.5" class="tk"/>
<text x="1486.8" y="2912.2" font-size="20.4" text-anchor="middle" class="tl">SSD index</text>
<text x="1065.3" y="3356.5" font-size="52.2" class="cp">50 dB mobile test</text>
<path d="M1667.5 2925.4L1624.3 3113.4M1624.3 3113.4L1746.7 3301.3M1754.2 2981.3L1684.6 3113.4M1761.7 2925.4L1754.2 2981.3M1684.6 3113.4L1754.2 3215.9M1769.8 3301.3L1754.2 3215.9M1754.2 3095.9L1745 3113.4M1777 2925.4L1754.2 3095.9M1745 3113.4L1754.2 3126.9M1786 3301.3L1754.2 3126.9M1792.4 2925.4L1762.8 3113.4M1762.8 3113.4L1802.2 3301.3M1807.7 2925.4L1772.9 3113.4M1772.9 3113.4L1818.4 3301.3M1823.1 2925.4L1783 3113.4M1783 3113.4L1834.6 3301.3M1838.5 2925.4L1793.1 3113.4M1793.1 3113.4L1850.8 3301.3" class="cl"/>
<rect x="1565.8" y="2925.4" width="376.8" height="375.9" class="fr"/>
<text x="1799.4" y="3088.8" font-size="20.5" text-anchor="middle" class="lb">1.000</text>
<text x="1619.7" y="3120.5" font-size="20.5" text-anchor="middle" class="lb">0.250</text>
<text x="1761.6" y="3148.7" font-size="20.5" text-anchor="middle" class="lb">0.625</text>
<text x="1754.0" y="3222.7" font-size="20.5" text-anchor="middle" class="lb">0.375</text>
<rect x="1975.0" y="2926.2" width="32.8" height="375.4" class="cb"/>
<text x="2023.3" y="3308.5" font-size="20.4" class="tl">0.00</text>
<text x="2023.3" y="3233.4" font-size="20.4" class="tl">0.20</text>
<text x="2023.3" y="3158.3" font-size="20.4" class="tl">0.40</text>
<text x="2023.3" y="3083.3" font-size="20.4" class="tl">0.60</text>
<text x="2023.3" y="3008.2" font-size="20.4" class="tl">0.80</text>
<text x="2023.3" y="2933.1" font-size="20.4" class="tl">1.00</text>
<path d="M2007.8 3301.6h7.5M2007.8 3226.5h7.5M2007.8 3151.4h7.5M2007.8 3076.4h7.5M2007.8 3001.3h7.5M2007.8 2926.2h7.5" class="tk"/>
<text x="1991.4" y="2912.2" font-size="20.4" text-anchor="middle" class="tl">SSD index</text>
<text x="1568.5" y="3356.5" font-size="52.2" class="cp">50 dB mobile test</text>
<path d="M403 3723.6L364.4 3785M97.3 3597.1L26.4 3426.3M97.3 3597.1L69.6 3785M403 3633.2L307.7 3785M124.8 3409.1L186.8 3597.1M403 3440.4L279.1 3597.1M186.8 3597.1L158.1 3785M279.1 3597.1L251 3785" class="cl"/>
<rect x="26.4" y="3409.1" width="376.6" height="375.9" class="fr"/>
<text x="82.5" y="3618.3" font-size="20.5" text-anchor="middle" class="lb">0.250</text>
<text x="188.2" y="3605.2" font-size="20.5" text-anchor="middle" class="lb">0.375</text>
<text x="267.3" y="3605.2" font-size="20.5" text-anchor="middle" class="lb">0.375</text>
<rect x="435.4" y="3409.9" width="32.8" height="375.4" class="cb"/>
<text x="483.7" y="3792.2" font-size="20.4" class="tl">0.00</text>
<text x="483.7" y="3717.1" font-size="20.4" class="tl">0.20</text>
<text x="483.7" y="3642.0" font-size="20.4" class="tl">0.40</text>
<text x="483.7" y="3567.0" font-size="20.4" class="tl">0.60</text>
<text x="483.7" y="3491.9" font-size="20.4" class="tl">0.80</text>
<text x="483.7" y="3416.8" font-size="20.4" class="tl">1.00</text>
<path d="M468.2 3785.3h7.5M468.2 3710.2h7.5M468.2 3635.1h7.5M468.2 3560.1h7.5M468.2 3485.0h7.5M468.2 3409.9h7.5" class="tk"/>
<text x="451.8" y="3395.9" font-size="20.4" text-anchor="middle" class="tl">SSD index</text>
<text x="30.6" y="3843.0" font-size="52.2" class="cp">70 dB mobile test</text>
<path d="M729.5 3409.1L731.6 3414M761.1 3597.1L731.6 3414M761.1 3597.1L890.3 3785M765.6 3409.1L859.3 3597.1M859.3 3597.1L919.8 3674.9M799.9 3409.1L919.8 3578.5M834.1 3409.1L919.8 3530.1M868.4 3409.1L919.8 3481.7M902.7 3409.1L919.8 3433.3" class="cl"/>
<rect x="543.4" y="3409.1" width="376.4" height="375.9" class="fr"/>
<text x="763.0" y="3604.5" font-size="20.5" text-anchor="middle" class="lb">0.250</text>
<text x="860.1" y="3604.5" font-size="20.5" text-anchor="middle" class="lb">0.375</text>
<rect x="952.2" y="3409.9" width="32.8" height="375.4" class="cb"/>
<text x="1000.5" y="3792.2" font-size="20.4" class="tl">0.00</text>
<text x="1000.5" y="3717.1" font-size="20.4" class="tl">0.20</text>
<text x="1000.5" y="3642.0" font-size="20.4" class="tl">0.40</text>
<text x="1000.5" y="3567.0" font-size="20.4" class="tl">0.60</text>
<text x="1000.5" y="3491.9" font-size="20.4" class="tl">0.80</text>
<text x="1000.5" y="3416.8" font-size="20.4" class="tl">1.00</text>
<path d="M985.0 3785.3h7.5M985.0 3710.2h7.5M985.0 3635.1h7.5M985.0 3560.1h7.5M985.0 3485.0h7.5M985.0 3409.9h7.5" class="tk"/>
<text x="968.6" y="3395.9" font-size="20.4" text-anchor="middle" class="tl">SSD index</text>
<text x="546.3" y="3843.0" font-size="52.2" class="cp">70 dB mobile test</text>
<path d="M1256.7 3409.1L1251.7 3597.1M1251.7 3597.1L1319 3785M1278.5 3409.1L1301.2 3597.1M1301.2 3597.1L1438 3773.7M1300.3 3409.1L1350.8 3597.1M1350.8 3597.1L1438 3709.7M1322.1 3409.1L1400.3 3597.1M1400.3 3597.1L1438 3645.7M1343.8 3409.1L1438 3587.2M1365.6 3409.1L1438 3545.9M1387.4 3409.1L1438 3504.7" class="cl"/>
<rect x="1061.4" y="3409.1" width="376.6" height="375.9" class="fr"/>
<text x="1371.2" y="3529.5" font-size="20.5" text-anchor="middle" class="lb">0.625</text>
<text x="1345.4" y="3574.2" font-size="20.5" text-anchor="middle" class="lb">0.500</text>
<text x="1311.0" y="3614.9" font-size="20.5" text-anchor="middle" class="lb">0.375</text>
<text x="1268.6" y="3660.3" font-size="20.5" text-anchor="middle" class="lb">0.250</text>
<rect x="1470.4" y="3409.9" width="32.8" height="375.4" class="cb"/>
<text x="1518.7" y="3792.2" font-size="20.4" class="tl">0.00</text>
<text x="1518.7" y="3717.1" font-size="20.4" class="tl">0.20</text>
<text x="1518.7" y="3642.0" font-size="20.4" class="tl">0.40</text>
<text x="1518.7" y="3567.0" font-size="20.4" class="tl">0.60</text>
<text x="1518.7" y="3491.9" font-size="20.4" class="tl">0.80</text>
<text x="1518.7" y="3416.8" font-size="20.4" class="tl">1.00</text>
<path d="M1503.2 3785.3h7.5M1503.2 3710.2h7.5M1503.2 3635.1h7.5M1503.2 3560.1h7.5M1503.2 3485.0h7.5M1503.2 3409.9h7.5" class="tk"/>
<text x="1486.8" y="3395.9" font-size="20.4" text-anchor="middle" class="tl">SSD index</text>
<text x="1065.3" y="3842.0" font-size="52.2" class="cp">70 dB mobile test</text>
<path d="M1684.5 3409.1L1617.2 3597.1M1617.2 3597.1L1710.5 3785M1754.2 3468.1L1678.4 3597.1M1762.5 3409.1L1754.2 3468.1M1678.4 3597.1L1754.2 3712.4M1766.3 3785L1754.2 3712.4M1754.2 3572.1L1739.5 3597.1M1777.3 3409.1L1754.2 3572.1M1739.5 3597.1L1754.2 3619.4M1781.8 3785L1754.2 3619.4M1792 3409.1L1763 3597.1M1763 3597.1L1797.4 3785M1806.7 3409.1L1774.5 3597.1M1774.5 3597.1L1812.9 3785M1821.4 3409.1L1786.1 3597.1M1786.1 3597.1L1828.4 3785M1836.1 3409.1L1797.6 3597.1M1797.6 3597.1L1844 3785" class="cl"/>
<rect x="1565.8" y="3409.1" width="376.8" height="375.9" class="fr"/>
<text x="1757.4" y="3539.8" font-size="20.5" text-anchor="middle" class="lb">0.500</text>
<text x="1611.1" y="3605.2" font-size="20.5" text-anchor="middle" class="lb">0.250</text>
<text x="1770.2" y="3604.5" font-size="20.5" text-anchor="middle" class="lb">0.625</text>
<text x="1828.0" y="3639.6" font-size="20.5" text-anchor="middle" class="lb">1.000</text>
<text x="1754.0" y="3723.0" font-size="20.5" text-anchor="middle" class="lb">0.375</text>
<rect x="1975.0" y="3409.9" width="32.8" height="375.4" class="cb"/>
<text x="2023.3" y="3792.2" font-size="20.4" class="tl">0.00</text>
<text x="2023.3" y="3717.1" font-size="20.4" class="tl">0.20</text>
<text x="2023.3" y="3642.0" font-size="20.4" class="tl">0.40</text>
<text x="2023.3" y="3567.0" font-size="20.4" class="tl">0.60</text>
<text x="2023.3" y="3491.9" font-size="20.4" class="tl">0.80</text>
<text x="2023.3" y="3416.8" font-size="20.4" class="tl">1.00</text>
<path d="M2007.8 3785.3h7.5M2007.8 3710.2h7.5M2007.8 3635.1h7.5M2007.8 3560.1h7.5M2007.8 3485.0h7.5M2007.8 3409.9h7.5" class="tk"/>
<text x="1991.4" y="3395.9" font-size="20.4" text-anchor="middle" class="tl">SSD index</text>
<text x="1568.5" y="3842.0" font-size="52.2" class="cp">70 dB mobile test</text>
<path d="M185.8 3894.1L214.7 3918.3M235.9 3894.1L403 4064.3M382.1 4082.6L214.7 3918.3M382.1 4082.6L403 4117.5M93.1 3894.1L214.7 3995.8M304 3894.1L403 3995M303.2 4082.6L214.7 3995.8M303.2 4082.6L403 4249.8M214.7 4073.3L183.3 4082.6M372 3894.1L403 3925.7M224.2 4082.6L214.7 4073.3M183.3 4082.6L214.7 4106.1M224.2 4082.6L214.7 4106.1" class="cl"/>
<rect x="26.4" y="3894.1" width="376.6" height="376.9" class="fr"/>
<text x="265.6" y="3978.3" font-size="20.5" text-anchor="middle" class="lb">0.125</text>
<text x="313.8" y="4094.4" font-size="20.5" text-anchor="middle" class="lb">0.250</text>
<text x="214.0" y="4118.8" font-size="20.5" text-anchor="middle" class="lb">0.375</text>
<rect x="435.4" y="3894.9" width="32.8" height="376.4" class="cb"/>
<text x="483.7" y="4278.2" font-size="20.4" class="tl">0.00</text>
<text x="483.7" y="4202.9" font-size="20.4" class="tl">0.20</text>
<text x="483.7" y="4127.6" font-size="20.4" class="tl">0.40</text>
<text x="483.7" y="4052.4" font-size="20.4" class="tl">0.60</text>
<text x="483.7" y="3977.1" font-size="20.4" class="tl">0.80</text>
<text x="483.7" y="3901.8" font-size="20.4" class="tl">1.00</text>
<path d="M468.2 4271.3h7.5M468.2 4196.0h7.5M468.2 4120.7h7.5M468.2 4045.5h7.5M468.2 3970.2h7.5M468.2 3894.9h7.5" class="tk"/>
<text x="451.8" y="3880.9" font-size="20.4" text-anchor="middle" class="tl">SSD index</text>
<text x="15.6" y="4323.5" font-size="52.5" class="cp">100 dB mobile test</text>
<path d="M689.8 3894.1L731.6 3954.9M761.7 4082.6L731.6 3954.9M761.7 4082.6L919.8 4245.2M759 3894.1L851.1 4082.6M851.1 4082.6L919.8 4153.2M791.7 3894.1L919.8 4072M824.4 3894.1L919.8 4026.6M857.1 3894.1L919.8 3981.2M889.7 3894.1L919.8 3935.9" class="cl"/>
<rect x="543.4" y="3894.1" width="376.4" height="376.9" class="fr"/>
<text x="832.5" y="4035.1" font-size="20.5" text-anchor="middle" class="lb">0.375</text>
<text x="766.1" y="4090.2" font-size="20.5" text-anchor="middle" class="lb">0.250</text>
<rect x="952.2" y="3894.9" width="32.8" height="376.4" class="cb"/>
<text x="1000.5" y="4278.2" font-size="20.4" class="tl">0.00</text>
<text x="1000.5" y="4202.9" font-size="20.4" class="tl">0.20</text>
<text x="1000.5" y="4127.6" font-size="20.4" class="tl">0.40</text>
<text x="1000.5" y="4052.4" font-size="20.4" class="tl">0.60</text>
<text x="1000.5" y="3977.1" font-size="20.4" class="tl">0.80</text>
<text x="1000.5" y="3901.8" font-size="20.4" class="tl">1.00</text>
<path d="M985.0 4271.3h7.5M985.0 4196.0h7.5M985.0 4120.7h7.5M985.0 4045.5h7.5M985.0 3970.2h7.5M985.0 3894.9h7.5" class="tk"/>
<text x="968.6" y="3880.9" font-size="20.4" text-anchor="middle" class="tl">SSD index</text>
<text x="533.8" y="4323.5" font-size="52.5" class="cp">100 dB mobile test</text>
<path d="M1257.6 3894.1L1257.6 4082.6M1257.6 4082.6L1345.5 4271M1279.9 3894.1L1307.2 4082.6M1307.2 4082.6L1438 4250.2M1302.2 3894.1L1356.7 4082.6M1356.7 4082.6L1438 4186.7M1324.6 3894.1L1406.3 4082.6M1406.3 4082.6L1438 4123.2M1346.9 3894.1L1438 4067.3M1369.2 3894.1L1438 4024.8M1391.6 3894.1L1438 3982.4" class="cl"/>
<rect x="1061.4" y="3894.1" width="376.6" height="376.9" class="fr"/>
<text x="1301.3" y="4028.3" font-size="20.5" text-anchor="middle" class="lb">0.375</text>
<text x="1352.3" y="4055.8" font-size="20.5" text-anchor="middle" class="lb">0.500</text>
<text x="1261.0" y="4065.4" font-size="20.5" text-anchor="middle" class="lb">0.250</text>
<text x="1410.8" y="4087.8" font-size="20.5" text-anchor="middle" class="lb">0.625</text>
<rect x="1470.4" y="3894.9" width="32.8" height="376.4" class="cb"/>
<text x="1518.7" y="4278.2" font-size="20.4" class="tl">0.00</text>
<text x="1518.7" y="4202.9" font-size="20.4" class="tl">0.20</text>
<text x="1518.7" y="4127.6" font-size="20.4" class="tl">0.40</text>
<text x="1518.7" y="4052.4" font-size="20.4" class="tl">0.60</text>
<text x="1518.7" y="3977.1" font-size="20.4" class="tl">0.80</text>
<text x="1518.7" y="3901.8" font-size="20.4" class="tl">1.00</text>
<path d="M1503.2 4271.3h7.5M1503.2 4196.0h7.5M1503.2 4120.7h7.5M1503.2 4045.5h7.5M1503.2 3970.2h7.5M1503.2 3894.9h7.5" class="tk"/>
<text x="1486.8" y="3880.9" font-size="20.4" text-anchor="middle" class="tl">SSD index</text>
<text x="1051.7" y="4321.5" font-size="52.5" class="cp">100 dB mobile test</text>
<path d="M1654.4 3894.1L1613.9 4082.6M1613.9 4082.6L1708.6 4271M1754.2 3894.1L1679.4 4082.6M1679.4 4082.6L1754.2 4195.8M1766.1 4271L1754.2 4195.8M1754.2 4058.8L1744.8 4082.6M1771.3 3894.1L1754.2 4058.8M1744.8 4082.6L1754.2 4096.8M1781.8 4271L1754.2 4096.8M1788.3 3894.1L1764.1 4082.6M1764.1 4082.6L1797.5 4271M1805.4 3894.1L1775.7 4082.6M1775.7 4082.6L1813.2 4271M1822.4 3894.1L1787.3 4082.6M1787.3 4082.6L1828.9 4271M1839.5 3894.1L1798.9 4082.6M1798.9 4082.6L1844.6 4271" class="cl"/>
<rect x="1565.8" y="3894.1" width="376.8" height="376.9" class="fr"/>
<text x="1781.5" y="4024.8" font-size="20.5" text-anchor="middle" class="lb">0.625</text>
<text x="1754.0" y="4068.5" font-size="20.5" text-anchor="middle" class="lb">0.500</text>
<text x="1612.8" y="4090.2" font-size="20.5" text-anchor="middle" class="lb">0.250</text>
<text x="1811.8" y="4120.5" font-size="20.5" text-anchor="middle" class="lb">1.000</text>
<text x="1753.3" y="4205.5" font-size="20.5" text-anchor="middle" class="lb">0.375</text>
<rect x="1975.0" y="3894.9" width="32.8" height="376.4" class="cb"/>
<text x="2023.3" y="4278.2" font-size="20.4" class="tl">0.00</text>
<text x="2023.3" y="4202.9" font-size="20.4" class="tl">0.20</text>
<text x="2023.3" y="4127.6" font-size="20.4" class="tl">0.40</text>
<text x="2023.3" y="4052.4" font-size="20.4" class="tl">0.60</text>
<text x="2023.3" y="3977.1" font-size="20.4" class="tl">0.80</text>
<text x="2023.3" y="3901.8" font-size="20.4" class="tl">1.00</text>
<path d="M2007.8 4271.3h7.5M2007.8 4196.0h7.5M2007.8 4120.7h7.5M2007.8 4045.5h7.5M2007.8 3970.2h7.5M2007.8 3894.9h7.5" class="tk"/>
<text x="1991.4" y="3880.9" font-size="20.4" text-anchor="middle" class="tl">SSD index</text>
<text x="1556.3" y="4321.5" font-size="52.5" class="cp">100 dB mobile test</text>
<rect x="2033" y="460" width="29" height="3893" fill="#fff"/>
</g>
</svg>
</body></html>
